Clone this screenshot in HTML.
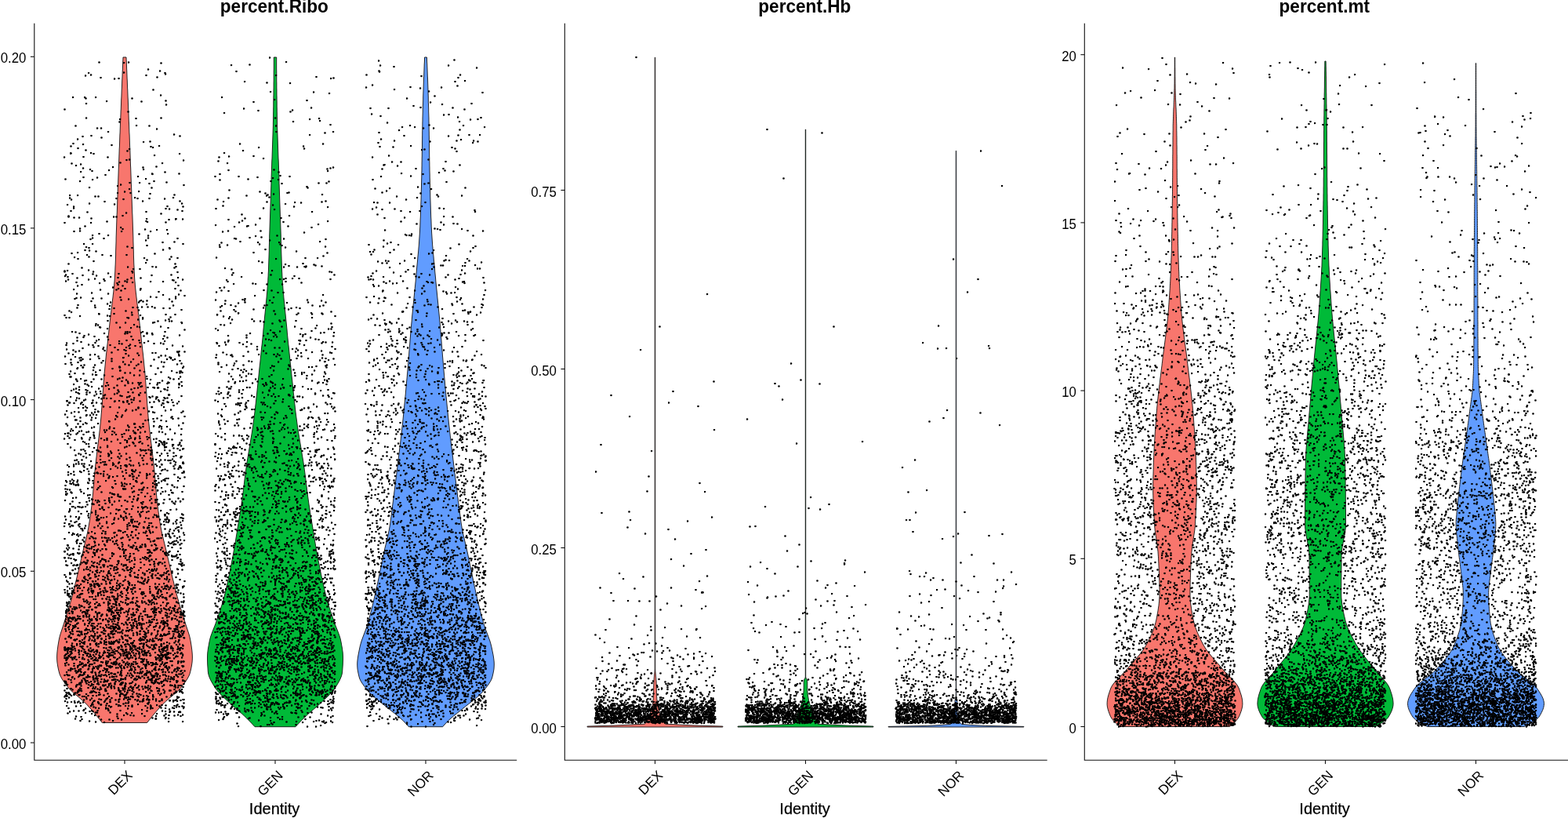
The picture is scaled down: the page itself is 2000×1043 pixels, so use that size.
<!DOCTYPE html>
<html lang="en"><head><meta charset="utf-8"><title>Violin plots</title>
<style>html,body{margin:0;padding:0;background:#fff}svg{display:block}text{font-family:"Liberation Sans",Arial,sans-serif;fill:#000}</style></head>
<body>
<svg width="2000" height="1043" viewBox="0 0 2000 1043">
<defs><marker id="d" markerUnits="userSpaceOnUse" markerWidth="6" markerHeight="6" refX="3" refY="3" viewBox="0 0 6 6"><circle cx="3" cy="3" r="2.60" fill="#000"/></marker></defs>
<rect width="2000" height="1043" fill="#fff"/>
<path d="M157,73 156.9,76 156.7,79 156.6,82 156.5,85 156.4,88 156.2,91 156.1,94 156,97 155.9,100 155.7,103 155.6,106 155.5,109 155.4,112 155.2,115 155.1,118 155,121 154.9,124 154.7,127 154.6,130 154.5,133 154.4,136 154.3,139 154.1,142 154,145 153.9,148 153.8,151 153.7,154 153.5,157 153.4,160 153.3,163 153.2,166 153.1,169 152.9,172 152.8,175 152.7,178 152.6,181 152.5,184 152.4,187 152.2,190 152.1,193 152,196 151.9,199 151.8,202 151.7,205 151.6,208 151.5,211 151.3,214 151.2,217 151.1,220 151,223 150.9,226 150.8,229 150.7,232 150.6,235 150.4,238 150.3,241 150.2,244 150.1,247 150,250 149.9,253 149.8,256 149.7,259 149.6,262 149.5,265 149.4,268 149.3,271 149.1,274 149,277 148.9,280 148.8,283 148.7,286 148.6,289 148.5,292 148.4,295 148.3,298 148.2,301 148.1,304 148.1,307 148,310 147.9,313 147.8,316 147.7,319 147.6,322 147.6,325 147.5,328 147.4,331 147.3,334 147.2,337 147,340 146.9,343 146.8,346 146.6,349 146.5,352 146.3,355 146.1,358 145.8,361 145.6,364 145.3,367 145,370 144.7,373 144.3,376 144,379 143.6,382 143.3,385 142.9,388 142.5,391 142.1,394 141.8,397 141.4,400 141,403 140.7,406 140.3,409 140,412 139.7,415 139.3,418 139,421 138.7,424 138.3,427 138,430 137.7,433 137.3,436 137,439 136.6,442 136.3,445 136,448 135.6,451 135.3,454 135,457 134.7,460 134.4,463 134.1,466 133.8,469 133.5,472 133.2,475 132.9,478 132.7,481 132.5,484 132.2,487 132,490 131.8,493 131.6,496 131.3,499 131.1,502 130.9,505 130.7,508 130.5,511 130.3,514 130.1,517 129.8,520 129.6,523 129.4,526 129.1,529 128.9,532 128.6,535 128.3,538 128,541 127.7,544 127.4,547 127,550 126.7,553 126.3,556 126,559 125.6,562 125.2,565 124.8,568 124.5,571 124.1,574 123.7,577 123.3,580 123,583 122.6,586 122.3,589 121.9,592 121.6,595 121.3,598 121,601 120.7,604 120.5,607 120.2,610 119.9,613 119.7,616 119.5,619 119.2,622 118.9,625 118.7,628 118.4,631 118.1,634 117.8,637 117.5,640 117.2,643 116.8,646 116.4,649 116,652 115.6,655 115.2,658 114.8,661 114.3,664 113.8,667 113.3,670 112.8,673 112.2,676 111.6,679 110.9,682 110.2,685 109.5,688 108.7,691 108,694 107.2,697 106.5,700 105.8,703 105.1,706 104.4,709 103.7,712 103,715 102.3,718 101.6,721 100.9,724 100.2,727 99.5,730 98.8,733 98.1,736 97.4,739 96.6,742 95.9,745 95.2,748 94.4,751 93.7,754 92.9,757 92.1,760 91.3,763 90.4,766 89.6,769 88.7,772 87.8,775 86.8,778 85.9,781 84.9,784 84,787 83,790 82.1,793 81.2,796 80.2,799 79.2,802 78.2,805 77.2,808 76.3,811 75.6,814 75,817 74.5,820 74,823 73.6,826 73.2,829 72.9,832 72.7,835 72.6,838 72.7,841 72.9,844 73.3,847 73.8,850 74.4,853 75.1,856 75.9,859 77.1,862 78.7,865 80.6,868 82.8,871 85,874 87.3,877 90.1,880 93.4,883 96.9,886 100.5,889 104,892 107.4,895 110.4,898 113.2,901 115.9,904 118.5,907 121.1,910 123.6,913 126,916 128.4,919 130.3,921.5 187.7,921.5 189.6,919 192,916 194.4,913 196.9,910 199.5,907 202.1,904 204.8,901 207.6,898 210.6,895 214,892 217.5,889 221.1,886 224.6,883 227.9,880 230.7,877 233,874 235.2,871 237.4,868 239.3,865 240.9,862 242.1,859 242.9,856 243.6,853 244.2,850 244.7,847 245.1,844 245.3,841 245.4,838 245.3,835 245.1,832 244.8,829 244.4,826 244,823 243.5,820 243,817 242.4,814 241.7,811 240.8,808 239.8,805 238.8,802 237.8,799 236.8,796 235.9,793 235,790 234,787 233.1,784 232.1,781 231.2,778 230.2,775 229.3,772 228.4,769 227.6,766 226.7,763 225.9,760 225.1,757 224.3,754 223.6,751 222.8,748 222.1,745 221.4,742 220.6,739 219.9,736 219.2,733 218.5,730 217.8,727 217.1,724 216.4,721 215.7,718 215,715 214.3,712 213.6,709 212.9,706 212.2,703 211.5,700 210.8,697 210,694 209.3,691 208.5,688 207.8,685 207.1,682 206.4,679 205.8,676 205.2,673 204.7,670 204.2,667 203.7,664 203.2,661 202.8,658 202.4,655 202,652 201.6,649 201.2,646 200.8,643 200.5,640 200.2,637 199.9,634 199.6,631 199.3,628 199.1,625 198.8,622 198.5,619 198.3,616 198.1,613 197.8,610 197.5,607 197.3,604 197,601 196.7,598 196.4,595 196.1,592 195.7,589 195.4,586 195,583 194.7,580 194.3,577 193.9,574 193.5,571 193.2,568 192.8,565 192.4,562 192,559 191.7,556 191.3,553 191,550 190.6,547 190.3,544 190,541 189.7,538 189.4,535 189.1,532 188.9,529 188.6,526 188.4,523 188.2,520 187.9,517 187.7,514 187.5,511 187.3,508 187.1,505 186.9,502 186.7,499 186.4,496 186.2,493 186,490 185.8,487 185.5,484 185.3,481 185.1,478 184.8,475 184.5,472 184.2,469 183.9,466 183.6,463 183.3,460 183,457 182.7,454 182.4,451 182,448 181.7,445 181.4,442 181,439 180.7,436 180.3,433 180,430 179.7,427 179.3,424 179,421 178.7,418 178.3,415 178,412 177.7,409 177.3,406 177,403 176.6,400 176.2,397 175.9,394 175.5,391 175.1,388 174.7,385 174.4,382 174,379 173.7,376 173.3,373 173,370 172.7,367 172.4,364 172.2,361 171.9,358 171.7,355 171.5,352 171.4,349 171.2,346 171.1,343 171,340 170.8,337 170.7,334 170.6,331 170.5,328 170.4,325 170.4,322 170.3,319 170.2,316 170.1,313 170,310 169.9,307 169.9,304 169.8,301 169.7,298 169.6,295 169.5,292 169.4,289 169.3,286 169.2,283 169.1,280 169,277 168.9,274 168.7,271 168.6,268 168.5,265 168.4,262 168.3,259 168.2,256 168.1,253 168,250 167.9,247 167.8,244 167.7,241 167.6,238 167.4,235 167.3,232 167.2,229 167.1,226 167,223 166.9,220 166.8,217 166.7,214 166.5,211 166.4,208 166.3,205 166.2,202 166.1,199 166,196 165.9,193 165.8,190 165.6,187 165.5,184 165.4,181 165.3,178 165.2,175 165.1,172 164.9,169 164.8,166 164.7,163 164.6,160 164.5,157 164.3,154 164.2,151 164.1,148 164,145 163.9,142 163.7,139 163.6,136 163.5,133 163.4,130 163.3,127 163.1,124 163,121 162.9,118 162.8,115 162.6,112 162.5,109 162.4,106 162.3,103 162.1,100 162,97 161.9,94 161.8,91 161.6,88 161.5,85 161.4,82 161.3,79 161.1,76 161,73Z" fill="#F8766D" stroke="#111" stroke-width="0.9" stroke-linejoin="round"/>
<path d="M349.3,73 349.3,76 349.3,79 349.3,82 349.3,85 349.3,88 349.2,91 349.2,94 349.2,97 349.2,100 349.2,103 349.1,106 349.1,109 349.1,112 349,115 349,118 349,121 348.9,124 348.9,127 348.8,130 348.8,133 348.8,136 348.7,139 348.7,142 348.6,145 348.6,148 348.5,151 348.5,154 348.4,157 348.4,160 348.3,163 348.2,166 348.1,169 348,172 347.9,175 347.8,178 347.7,181 347.6,184 347.5,187 347.4,190 347.3,193 347.2,196 347.1,199 347,202 346.8,205 346.7,208 346.6,211 346.5,214 346.4,217 346.3,220 346.2,223 346.1,226 346,229 346,232 345.9,235 345.8,238 345.7,241 345.6,244 345.5,247 345.4,250 345.3,253 345.2,256 345.1,259 345,262 344.9,265 344.8,268 344.7,271 344.6,274 344.5,277 344.4,280 344.3,283 344.2,286 344.1,289 344,292 343.9,295 343.8,298 343.7,301 343.7,304 343.6,307 343.5,310 343.4,313 343.3,316 343.3,319 343.2,322 343.1,325 343,328 342.9,331 342.8,334 342.7,337 342.6,340 342.5,343 342.4,346 342.2,349 342.1,352 341.9,355 341.8,358 341.6,361 341.3,364 341.1,367 340.9,370 340.6,373 340.3,376 340.1,379 339.8,382 339.5,385 339.2,388 338.9,391 338.6,394 338.3,397 338,400 337.7,403 337.4,406 337.1,409 336.8,412 336.5,415 336.2,418 335.9,421 335.7,424 335.4,427 335.1,430 334.8,433 334.5,436 334.2,439 333.8,442 333.5,445 333.2,448 332.9,451 332.6,454 332.3,457 332,460 331.7,463 331.3,466 331,469 330.7,472 330.4,475 330.1,478 329.8,481 329.4,484 329.1,487 328.8,490 328.5,493 328.2,496 327.9,499 327.6,502 327.2,505 326.9,508 326.6,511 326.3,514 325.9,517 325.6,520 325.2,523 324.9,526 324.5,529 324.1,532 323.7,535 323.3,538 322.9,541 322.5,544 322,547 321.6,550 321.1,553 320.6,556 320.1,559 319.6,562 319.1,565 318.6,568 318.1,571 317.6,574 317.1,577 316.6,580 316.1,583 315.6,586 315.1,589 314.7,592 314.2,595 313.8,598 313.4,601 313,604 312.6,607 312.2,610 311.8,613 311.5,616 311.1,619 310.7,622 310.4,625 310,628 309.6,631 309.2,634 308.8,637 308.4,640 308,643 307.5,646 307,649 306.6,652 306.1,655 305.6,658 305.1,661 304.6,664 304.1,667 303.6,670 303.1,673 302.7,676 302.2,679 301.7,682 301.2,685 300.7,688 300.2,691 299.7,694 299.2,697 298.7,700 298.1,703 297.6,706 297,709 296.4,712 295.9,715 295.3,718 294.7,721 294.1,724 293.5,727 292.9,730 292.3,733 291.7,736 291,739 290.4,742 289.7,745 289,748 288.3,751 287.6,754 286.9,757 286.1,760 285.4,763 284.6,766 283.7,769 282.8,772 281.8,775 280.8,778 279.8,781 278.8,784 277.8,787 276.7,790 275.7,793 274.7,796 273.5,799 272.3,802 271.1,805 270,808 268.9,811 268,814 267.3,817 266.7,820 266.2,823 265.6,826 265.2,829 264.8,832 264.6,835 264.5,838 264.5,841 264.6,844 264.7,847 264.9,850 265.1,853 265.3,856 265.7,859 266.5,862 267.7,865 269.1,868 270.8,871 272.6,874 274.4,877 276.6,880 279.2,883 282.1,886 285.1,889 288.3,892 291.5,895 294.6,898 298,901 301.5,904 305,907 308.5,910 311.7,913 314.8,916 317.8,919 320.7,922 323.5,925 325,926.7 377,926.7 378.5,925 381.3,922 384.2,919 387.2,916 390.3,913 393.5,910 397,907 400.5,904 404,901 407.4,898 410.5,895 413.7,892 416.9,889 419.9,886 422.8,883 425.4,880 427.6,877 429.4,874 431.2,871 432.9,868 434.3,865 435.5,862 436.3,859 436.7,856 436.9,853 437.1,850 437.3,847 437.4,844 437.5,841 437.5,838 437.4,835 437.2,832 436.8,829 436.4,826 435.8,823 435.3,820 434.7,817 434,814 433.1,811 432,808 430.9,805 429.7,802 428.5,799 427.3,796 426.3,793 425.3,790 424.2,787 423.2,784 422.2,781 421.2,778 420.2,775 419.2,772 418.3,769 417.4,766 416.6,763 415.9,760 415.1,757 414.4,754 413.7,751 413,748 412.3,745 411.6,742 411,739 410.3,736 409.7,733 409.1,730 408.5,727 407.9,724 407.3,721 406.7,718 406.1,715 405.6,712 405,709 404.4,706 403.9,703 403.3,700 402.8,697 402.3,694 401.8,691 401.3,688 400.8,685 400.3,682 399.8,679 399.3,676 398.9,673 398.4,670 397.9,667 397.4,664 396.9,661 396.4,658 395.9,655 395.4,652 395,649 394.5,646 394,643 393.6,640 393.2,637 392.8,634 392.4,631 392,628 391.6,625 391.3,622 390.9,619 390.5,616 390.2,613 389.8,610 389.4,607 389,604 388.6,601 388.2,598 387.8,595 387.3,592 386.9,589 386.4,586 385.9,583 385.4,580 384.9,577 384.4,574 383.9,571 383.4,568 382.9,565 382.4,562 381.9,559 381.4,556 380.9,553 380.4,550 380,547 379.5,544 379.1,541 378.7,538 378.3,535 377.9,532 377.5,529 377.1,526 376.8,523 376.4,520 376.1,517 375.7,514 375.4,511 375.1,508 374.8,505 374.4,502 374.1,499 373.8,496 373.5,493 373.2,490 372.9,487 372.6,484 372.2,481 371.9,478 371.6,475 371.3,472 371,469 370.7,466 370.3,463 370,460 369.7,457 369.4,454 369.1,451 368.8,448 368.5,445 368.2,442 367.8,439 367.5,436 367.2,433 366.9,430 366.6,427 366.3,424 366.1,421 365.8,418 365.5,415 365.2,412 364.9,409 364.6,406 364.3,403 364,400 363.7,397 363.4,394 363.1,391 362.8,388 362.5,385 362.2,382 361.9,379 361.7,376 361.4,373 361.1,370 360.9,367 360.7,364 360.4,361 360.2,358 360.1,355 359.9,352 359.8,349 359.6,346 359.5,343 359.4,340 359.3,337 359.2,334 359.1,331 359,328 358.9,325 358.8,322 358.7,319 358.7,316 358.6,313 358.5,310 358.4,307 358.3,304 358.3,301 358.2,298 358.1,295 358,292 357.9,289 357.8,286 357.7,283 357.6,280 357.5,277 357.4,274 357.3,271 357.2,268 357.1,265 357,262 356.9,259 356.8,256 356.7,253 356.6,250 356.5,247 356.4,244 356.3,241 356.2,238 356.1,235 356,232 356,229 355.9,226 355.8,223 355.7,220 355.6,217 355.5,214 355.4,211 355.3,208 355.2,205 355,202 354.9,199 354.8,196 354.7,193 354.6,190 354.5,187 354.4,184 354.3,181 354.2,178 354.1,175 354,172 353.9,169 353.8,166 353.7,163 353.6,160 353.6,157 353.5,154 353.5,151 353.4,148 353.4,145 353.3,142 353.3,139 353.2,136 353.2,133 353.2,130 353.1,127 353.1,124 353,121 353,118 353,115 352.9,112 352.9,109 352.9,106 352.8,103 352.8,100 352.8,97 352.8,94 352.8,91 352.7,88 352.7,85 352.7,82 352.7,79 352.7,76 352.7,73Z" fill="#00BA38" stroke="#111" stroke-width="0.9" stroke-linejoin="round"/>
<path d="M541.6,73 541.5,76 541.4,79 541.2,82 541.1,85 541,88 540.9,91 540.8,94 540.7,97 540.5,100 540.4,103 540.3,106 540.2,109 540.1,112 540,115 539.9,118 539.8,121 539.7,124 539.7,127 539.6,130 539.5,133 539.4,136 539.3,139 539.3,142 539.2,145 539.1,148 539,151 539,154 538.9,157 538.9,160 538.8,163 538.8,166 538.7,169 538.7,172 538.6,175 538.6,178 538.5,181 538.5,184 538.5,187 538.4,190 538.4,193 538.3,196 538.3,199 538.2,202 538.2,205 538.1,208 538.1,211 538,214 538,217 537.9,220 537.8,223 537.8,226 537.7,229 537.6,232 537.5,235 537.5,238 537.4,241 537.3,244 537.2,247 537.2,250 537.1,253 537,256 536.9,259 536.8,262 536.7,265 536.6,268 536.5,271 536.4,274 536.3,277 536.1,280 536,283 535.9,286 535.8,289 535.6,292 535.5,295 535.3,298 535.1,301 534.9,304 534.7,307 534.5,310 534.3,313 534,316 533.8,319 533.5,322 533.2,325 532.9,328 532.7,331 532.4,334 532.1,337 531.8,340 531.5,343 531.3,346 531,349 530.7,352 530.4,355 530.2,358 529.9,361 529.6,364 529.3,367 529,370 528.7,373 528.4,376 528.1,379 527.8,382 527.5,385 527.2,388 526.9,391 526.6,394 526.3,397 526,400 525.7,403 525.4,406 525.2,409 524.9,412 524.6,415 524.4,418 524.1,421 523.9,424 523.6,427 523.4,430 523.1,433 522.9,436 522.7,439 522.4,442 522.2,445 521.9,448 521.7,451 521.5,454 521.2,457 521,460 520.7,463 520.5,466 520.2,469 520,472 519.7,475 519.4,478 519.2,481 518.9,484 518.6,487 518.4,490 518.1,493 517.8,496 517.5,499 517.3,502 517,505 516.7,508 516.4,511 516.1,514 515.8,517 515.5,520 515.2,523 514.9,526 514.6,529 514.3,532 514,535 513.7,538 513.4,541 513,544 512.7,547 512.4,550 512,553 511.7,556 511.3,559 511,562 510.6,565 510.3,568 509.9,571 509.5,574 509.2,577 508.8,580 508.4,583 508.1,586 507.7,589 507.3,592 507,595 506.6,598 506.2,601 505.9,604 505.5,607 505.1,610 504.7,613 504.4,616 504,619 503.6,622 503.2,625 502.8,628 502.5,631 502.1,634 501.7,637 501.3,640 500.9,643 500.5,646 500.2,649 499.8,652 499.4,655 499,658 498.6,661 498.2,664 497.8,667 497.3,670 496.8,673 496.3,676 495.7,679 495,682 494.3,685 493.6,688 492.9,691 492.2,694 491.4,697 490.7,700 490.1,703 489.4,706 488.8,709 488.2,712 487.5,715 486.9,718 486.3,721 485.7,724 485.1,727 484.4,730 483.8,733 483.2,736 482.6,739 482,742 481.3,745 480.7,748 480,751 479.4,754 478.7,757 478,760 477.3,763 476.6,766 475.9,769 475.2,772 474.4,775 473.7,778 472.9,781 472.1,784 471.3,787 470.5,790 469.7,793 468.8,796 467.8,799 466.8,802 465.7,805 464.5,808 463.4,811 462.3,814 461.2,817 460.3,820 459.5,823 458.8,826 458.2,829 457.6,832 457,835 456.5,838 456.1,841 455.8,844 455.7,847 455.8,850 456,853 456.5,856 457.1,859 457.8,862 458.6,865 460,868 461.8,871 463.9,874 466.2,877 468.7,880 471.2,883 474.2,886 477.5,889 481.2,892 485,895 488.8,898 492.6,901 496.3,904 500,907 503.8,910 507.5,913 511,916 514.3,919 517.2,922 519.9,925 521.3,926.7 564.7,926.7 566.1,925 568.8,922 571.7,919 575,916 578.5,913 582.2,910 586,907 589.7,904 593.4,901 597.2,898 601,895 604.8,892 608.5,889 611.8,886 614.8,883 617.3,880 619.8,877 622.1,874 624.2,871 626,868 627.4,865 628.2,862 628.9,859 629.5,856 630,853 630.2,850 630.3,847 630.2,844 629.9,841 629.5,838 629,835 628.4,832 627.8,829 627.2,826 626.5,823 625.7,820 624.8,817 623.7,814 622.6,811 621.5,808 620.3,805 619.2,802 618.2,799 617.2,796 616.3,793 615.5,790 614.7,787 613.9,784 613.1,781 612.3,778 611.6,775 610.8,772 610.1,769 609.4,766 608.7,763 608,760 607.3,757 606.6,754 606,751 605.3,748 604.7,745 604,742 603.4,739 602.8,736 602.2,733 601.6,730 600.9,727 600.3,724 599.7,721 599.1,718 598.5,715 597.8,712 597.2,709 596.6,706 595.9,703 595.3,700 594.6,697 593.8,694 593.1,691 592.4,688 591.7,685 591,682 590.3,679 589.7,676 589.2,673 588.7,670 588.2,667 587.8,664 587.4,661 587,658 586.6,655 586.2,652 585.8,649 585.5,646 585.1,643 584.7,640 584.3,637 583.9,634 583.5,631 583.2,628 582.8,625 582.4,622 582,619 581.6,616 581.3,613 580.9,610 580.5,607 580.1,604 579.8,601 579.4,598 579,595 578.7,592 578.3,589 577.9,586 577.6,583 577.2,580 576.8,577 576.5,574 576.1,571 575.7,568 575.4,565 575,562 574.7,559 574.3,556 574,553 573.6,550 573.3,547 573,544 572.6,541 572.3,538 572,535 571.7,532 571.4,529 571.1,526 570.8,523 570.5,520 570.2,517 569.9,514 569.6,511 569.3,508 569,505 568.7,502 568.5,499 568.2,496 567.9,493 567.6,490 567.4,487 567.1,484 566.8,481 566.6,478 566.3,475 566,472 565.8,469 565.5,466 565.3,463 565,460 564.8,457 564.5,454 564.3,451 564.1,448 563.8,445 563.6,442 563.3,439 563.1,436 562.9,433 562.6,430 562.4,427 562.1,424 561.9,421 561.6,418 561.4,415 561.1,412 560.8,409 560.6,406 560.3,403 560,400 559.7,397 559.4,394 559.1,391 558.8,388 558.5,385 558.2,382 557.9,379 557.6,376 557.3,373 557,370 556.7,367 556.4,364 556.1,361 555.8,358 555.6,355 555.3,352 555,349 554.7,346 554.5,343 554.2,340 553.9,337 553.6,334 553.3,331 553.1,328 552.8,325 552.5,322 552.2,319 552,316 551.7,313 551.5,310 551.3,307 551.1,304 550.9,301 550.7,298 550.5,295 550.4,292 550.2,289 550.1,286 550,283 549.9,280 549.7,277 549.6,274 549.5,271 549.4,268 549.3,265 549.2,262 549.1,259 549,256 548.9,253 548.8,250 548.8,247 548.7,244 548.6,241 548.5,238 548.5,235 548.4,232 548.3,229 548.2,226 548.2,223 548.1,220 548,217 548,214 547.9,211 547.9,208 547.8,205 547.8,202 547.7,199 547.7,196 547.6,193 547.6,190 547.5,187 547.5,184 547.5,181 547.4,178 547.4,175 547.3,172 547.3,169 547.2,166 547.2,163 547.1,160 547.1,157 547,154 547,151 546.9,148 546.8,145 546.7,142 546.7,139 546.6,136 546.5,133 546.4,130 546.3,127 546.3,124 546.2,121 546.1,118 546,115 545.9,112 545.8,109 545.7,106 545.6,103 545.5,100 545.3,97 545.2,94 545.1,91 545,88 544.9,85 544.8,82 544.6,79 544.5,76 544.4,73Z" fill="#619CFF" stroke="#111" stroke-width="0.9" stroke-linejoin="round"/>
<path d="M835.4,73.1 835.3,74.1 835.3,75.1 835.3,76.1 835.3,77.1 835.3,78.1 835.3,79.1 835.3,80.1 835.3,81.1 835.3,82.1 835.3,83.1 835.3,84.1 835.3,85.1 835.3,86.1 835.3,87.1 835.3,88.1 835.3,89.1 835.3,90.1 835.3,91.1 835.3,92.1 835.3,93.1 835.3,94.1 835.3,95.1 835.3,96.1 835.3,97.1 835.3,98.1 835.3,99.1 835.3,100.1 835.3,101.1 835.3,102.1 835.3,103.1 835.3,104.1 835.3,105.1 835.3,106.1 835.3,107.1 835.3,108.1 835.3,109.1 835.3,110.1 835.3,111.1 835.3,112.1 835.3,113.1 835.3,114.1 835.3,115.1 835.3,116.1 835.3,117.1 835.3,118.1 835.3,119.1 835.3,120.1 835.3,121.1 835.3,122.1 835.3,123.1 835.3,124.1 835.3,125.1 835.3,126.1 835.3,127.1 835.3,128.1 835.3,129.1 835.3,130.1 835.3,131.1 835.3,132.1 835.3,133.1 835.3,134.1 835.3,135.1 835.3,136.1 835.3,137.1 835.3,138.1 835.3,139.1 835.3,140.1 835.3,141.1 835.3,142.1 835.3,143.1 835.3,144.1 835.3,145.1 835.3,146.1 835.3,147.1 835.3,148.1 835.3,149.1 835.3,150.1 835.3,151.1 835.3,152.1 835.3,153.1 835.3,154.1 835.3,155.1 835.3,156.1 835.3,157.1 835.3,158.1 835.3,159.1 835.3,160.1 835.3,161.1 835.3,162.1 835.3,163.1 835.3,164.1 835.3,165.1 835.3,166.1 835.3,167.1 835.3,168.1 835.3,169.1 835.3,170.1 835.3,171.1 835.3,172.1 835.3,173.1 835.3,174.1 835.3,175.1 835.3,176.1 835.3,177.1 835.3,178.1 835.3,179.1 835.3,180.1 835.3,181.1 835.3,182.1 835.3,183.1 835.3,184.1 835.3,185.1 835.3,186.1 835.3,187.1 835.3,188.1 835.3,189.1 835.3,190.1 835.3,191.1 835.3,192.1 835.3,193.1 835.3,194.1 835.3,195.1 835.3,196.1 835.3,197.1 835.3,198.1 835.3,199.1 835.3,200.1 835.3,201.1 835.3,202.1 835.3,203.1 835.3,204.1 835.3,205.1 835.3,206.1 835.3,207.1 835.3,208.1 835.3,209.1 835.3,210.1 835.3,211.1 835.3,212.1 835.3,213.1 835.3,214.1 835.3,215.1 835.3,216.1 835.3,217.1 835.3,218.1 835.3,219.1 835.3,220.1 835.3,221.1 835.3,222.1 835.3,223.1 835.3,224.1 835.3,225.1 835.3,226.1 835.3,227.1 835.3,228.1 835.3,229.1 835.3,230.1 835.3,231.1 835.3,232.1 835.3,233.1 835.3,234.1 835.3,235.1 835.3,236.1 835.3,237.1 835.3,238.1 835.3,239.1 835.3,240.1 835.3,241.1 835.3,242.1 835.3,243.1 835.3,244.1 835.3,245.1 835.3,246.1 835.3,247.1 835.3,248.1 835.3,249.1 835.3,250.1 835.3,251.1 835.3,252.1 835.3,253.1 835.3,254.1 835.3,255.1 835.3,256.1 835.3,257.1 835.3,258.1 835.3,259.1 835.3,260.1 835.3,261.1 835.3,262.1 835.3,263.1 835.3,264.1 835.3,265.1 835.3,266.1 835.3,267.1 835.3,268.1 835.3,269.1 835.3,270.1 835.3,271.1 835.3,272.1 835.3,273.1 835.3,274.1 835.3,275.1 835.3,276.1 835.3,277.1 835.3,278.1 835.3,279.1 835.3,280.1 835.3,281.1 835.3,282.1 835.3,283.1 835.3,284.1 835.3,285.1 835.3,286.1 835.3,287.1 835.3,288.1 835.3,289.1 835.3,290.1 835.3,291.1 835.3,292.1 835.3,293.1 835.3,294.1 835.3,295.1 835.3,296.1 835.3,297.1 835.3,298.1 835.3,299.1 835.3,300.1 835.3,301.1 835.3,302.1 835.3,303.1 835.3,304.1 835.3,305.1 835.3,306.1 835.3,307.1 835.3,308.1 835.3,309.1 835.3,310.1 835.3,311.1 835.3,312.1 835.3,313.1 835.3,314.1 835.3,315.1 835.3,316.1 835.3,317.1 835.3,318.1 835.3,319.1 835.3,320.1 835.3,321.1 835.3,322.1 835.3,323.1 835.3,324.1 835.3,325.1 835.3,326.1 835.3,327.1 835.3,328.1 835.3,329.1 835.3,330.1 835.3,331.1 835.3,332.1 835.3,333.1 835.3,334.1 835.3,335.1 835.3,336.1 835.3,337.1 835.3,338.1 835.3,339.1 835.3,340.1 835.3,341.1 835.3,342.1 835.3,343.1 835.3,344.1 835.3,345.1 835.3,346.1 835.3,347.1 835.3,348.1 835.3,349.1 835.3,350.1 835.3,351.1 835.3,352.1 835.3,353.1 835.3,354.1 835.3,355.1 835.3,356.1 835.3,357.1 835.3,358.1 835.3,359.1 835.3,360.1 835.3,361.1 835.3,362.1 835.3,363.1 835.3,364.1 835.3,365.1 835.3,366.1 835.3,367.1 835.3,368.1 835.3,369.1 835.3,370.1 835.3,371.1 835.3,372.1 835.3,373.1 835.3,374.1 835.3,375.1 835.3,376.1 835.3,377.1 835.3,378.1 835.3,379.1 835.3,380.1 835.3,381.1 835.3,382.1 835.3,383.1 835.3,384.1 835.3,385.1 835.3,386.1 835.3,387.1 835.3,388.1 835.3,389.1 835.3,390.1 835.3,391.1 835.3,392.1 835.3,393.1 835.3,394.1 835.3,395.1 835.3,396.1 835.3,397.1 835.3,398.1 835.3,399.1 835.3,400.1 835.3,401.1 835.3,402.1 835.3,403.1 835.3,404.1 835.3,405.1 835.3,406.1 835.3,407.1 835.3,408.1 835.3,409.1 835.3,410.1 835.3,411.1 835.3,412.1 835.3,413.1 835.3,414.1 835.3,415.1 835.3,416.1 835.3,417.1 835.3,418.1 835.3,419.1 835.3,420.1 835.3,421.1 835.3,422.1 835.3,423.1 835.3,424.1 835.3,425.1 835.3,426.1 835.3,427.1 835.3,428.1 835.3,429.1 835.3,430.1 835.3,431.1 835.3,432.1 835.3,433.1 835.3,434.1 835.3,435.1 835.3,436.1 835.3,437.1 835.3,438.1 835.3,439.1 835.3,440.1 835.3,441.1 835.3,442.1 835.3,443.1 835.3,444.1 835.3,445.1 835.3,446.1 835.3,447.1 835.3,448.1 835.3,449.1 835.3,450.1 835.3,451.1 835.3,452.1 835.3,453.1 835.3,454.1 835.3,455.1 835.3,456.1 835.3,457.1 835.3,458.1 835.3,459.1 835.3,460.1 835.3,461.1 835.3,462.1 835.3,463.1 835.3,464.1 835.3,465.1 835.3,466.1 835.3,467.1 835.3,468.1 835.3,469.1 835.3,470.1 835.3,471.1 835.3,472.1 835.3,473.1 835.3,474.1 835.3,475.1 835.3,476.1 835.3,477.1 835.3,478.1 835.3,479.1 835.3,480.1 835.3,481.1 835.3,482.1 835.3,483.1 835.3,484.1 835.3,485.1 835.3,486.1 835.3,487.1 835.3,488.1 835.3,489.1 835.3,490.1 835.3,491.1 835.3,492.1 835.3,493.1 835.3,494.1 835.3,495.1 835.3,496.1 835.3,497.1 835.3,498.1 835.3,499.1 835.3,500.1 835.3,501.1 835.3,502.1 835.3,503.1 835.3,504.1 835.3,505.1 835.3,506.1 835.3,507.1 835.3,508.1 835.3,509.1 835.3,510.1 835.3,511.1 835.3,512.1 835.3,513.1 835.3,514.1 835.3,515.1 835.3,516.1 835.3,517.1 835.3,518.1 835.3,519.1 835.3,520.1 835.3,521.1 835.3,522.1 835.3,523.1 835.3,524.1 835.3,525.1 835.3,526.1 835.3,527.1 835.3,528.1 835.3,529.1 835.3,530.1 835.3,531.1 835.3,532.1 835.3,533.1 835.3,534.1 835.3,535.1 835.3,536.1 835.3,537.1 835.3,538.1 835.3,539.1 835.3,540.1 835.3,541.1 835.3,542.1 835.3,543.1 835.3,544.1 835.3,545.1 835.3,546.1 835.3,547.1 835.3,548.1 835.3,549.1 835.3,550.1 835.3,551.1 835.3,552.1 835.3,553.1 835.3,554.1 835.3,555.1 835.3,556.1 835.3,557.1 835.3,558.1 835.3,559.1 835.3,560.1 835.3,561.1 835.3,562.1 835.3,563.1 835.3,564.1 835.3,565.1 835.3,566.1 835.3,567.1 835.3,568.1 835.3,569.1 835.3,570.1 835.3,571.1 835.3,572.1 835.3,573.1 835.3,574.1 835.3,575.1 835.3,576.1 835.3,577.1 835.3,578.1 835.3,579.1 835.3,580.1 835.3,581.1 835.3,582.1 835.3,583.1 835.3,584.1 835.3,585.1 835.3,586.1 835.3,587.1 835.3,588.1 835.3,589.1 835.3,590.1 835.3,591.1 835.3,592.1 835.3,593.1 835.3,594.1 835.3,595.1 835.3,596.1 835.3,597.1 835.3,598.1 835.3,599.1 835.3,600.1 835.3,601.1 835.3,602.1 835.3,603.1 835.3,604.1 835.3,605.1 835.3,606.1 835.3,607.1 835.3,608.1 835.3,609.1 835.3,610.1 835.3,611.1 835.3,612.1 835.3,613.1 835.3,614.1 835.3,615.1 835.3,616.1 835.3,617.1 835.3,618.1 835.3,619.1 835.3,620.1 835.3,621.1 835.3,622.1 835.3,623.1 835.3,624.1 835.3,625.1 835.3,626.1 835.3,627.1 835.3,628.1 835.3,629.1 835.3,630.1 835.3,631.1 835.3,632.1 835.3,633.1 835.3,634.1 835.3,635.1 835.3,636.1 835.3,637.1 835.3,638.1 835.3,639.1 835.3,640.1 835.3,641.1 835.3,642.1 835.3,643.1 835.3,644.1 835.3,645.1 835.3,646.1 835.3,647.1 835.3,648.1 835.3,649.1 835.3,650.1 835.3,651.1 835.3,652.1 835.3,653.1 835.3,654.1 835.3,655.1 835.3,656.1 835.3,657.1 835.3,658.1 835.3,659.1 835.3,660.1 835.3,661.1 835.3,662.1 835.3,663.1 835.3,664.1 835.3,665.1 835.3,666.1 835.3,667.1 835.3,668.1 835.3,669.1 835.3,670.1 835.3,671.1 835.3,672.1 835.3,673.1 835.3,674.1 835.3,675.1 835.3,676.1 835.3,677.1 835.3,678.1 835.3,679.1 835.3,680.1 835.3,681.1 835.3,682.1 835.3,683.1 835.3,684.1 835.3,685.1 835.3,686.1 835.3,687.1 835.3,688.1 835.3,689.1 835.3,690.1 835.3,691.1 835.3,692.1 835.3,693.1 835.3,694.1 835.3,695.1 835.3,696.1 835.3,697.1 835.3,698.1 835.3,699.1 835.3,700.1 835.3,701.1 835.3,702.1 835.3,703.1 835.3,704.1 835.3,705.1 835.3,706.1 835.3,707.1 835.3,708.1 835.3,709.1 835.3,710.1 835.3,711.1 835.3,712.1 835.3,713.1 835.3,714.1 835.3,715.1 835.3,716.1 835.3,717.1 835.3,718.1 835.3,719.1 835.3,720.1 835.3,721.1 835.3,722.1 835.3,723.1 835.3,724.1 835.3,725.1 835.3,726.1 835.3,727.1 835.3,728.1 835.3,729.1 835.3,730.1 835.3,731.1 835.3,732.1 835.3,733.1 835.3,734.1 835.3,735.1 835.3,736.1 835.3,737.1 835.3,738.1 835.3,739.1 835.3,740.1 835.3,741.1 835.3,742.1 835.3,743.1 835.3,744.1 835.3,745.1 835.3,746.1 835.3,747.1 835.3,748.1 835.3,749.1 835.3,750.1 835.3,751.1 835.3,752.1 835.3,753.1 835.3,754.1 835.3,755.1 835.3,756.1 835.3,757.1 835.3,758.1 835.3,759.1 835.3,760.1 835.3,761.1 835.3,762.1 835.3,763.1 835.3,764.1 835.3,765.1 835.3,766.1 835.3,767.1 835.3,768.1 835.3,769.1 835.3,770.1 835.3,771.1 835.3,772.1 835.3,773.1 835.3,774.1 835.3,775.1 835.3,776.1 835.3,777.1 835.3,778.1 835.3,779.1 835.3,780.1 835.3,781.1 835.3,782.1 835.3,783.1 835.3,784.1 835.3,785.1 835.3,786.1 835.3,787.1 835.3,788.1 835.3,789.1 835.3,790.1 835.3,791.1 835.3,792.1 835.3,793.1 835.3,794.1 835.3,795.1 835.3,796.1 835.3,797.1 835.3,798.1 835.3,799.1 835.3,800.1 835.3,801.1 835.3,802.1 835.3,803.1 835.3,804.1 835.3,805.1 835.3,806.1 835.3,807.1 835.3,808.1 835.3,809.1 835.3,810.1 835.3,811.1 835.3,812.1 835.3,813.1 835.3,814.1 835.3,815.1 835.3,816.1 835.3,817.1 835.3,818.1 835.3,819.1 835.3,820.1 835.3,821.1 835.3,822.1 835.3,823.1 835.3,824.1 835.3,825.1 835.3,826.1 835.3,827.1 835.3,828.1 835.3,829.1 835.3,830.1 835.3,831.1 835.3,832.1 835.3,833.1 835.3,834.1 835.3,835.1 835.3,836.1 835.3,837.1 835.3,838.1 835.3,839.1 835.3,840.1 835.3,841.1 835.3,842.1 835.3,843.1 835.3,844.1 835.3,845.1 835.3,846.1 835.3,847.1 835.3,848.1 835.3,849.1 835.3,850.1 835.3,851.1 835.3,852.1 835.3,853.1 835.2,854.1 835.2,855.1 835.1,856.1 835,857.1 834.9,858.1 834.8,859.1 834.7,860.1 834.6,861.1 834.5,862.1 834.4,863.1 834.3,864.1 834.2,865.1 834.2,866.1 834.1,867.1 834,868.1 833.9,869.1 833.9,870.1 833.9,871.1 833.8,872.1 833.8,873.1 833.8,874.1 833.7,875.1 833.7,876.1 833.7,877.1 833.7,878.1 833.6,879.1 833.6,880.1 833.6,881.1 833.6,882.1 833.6,883.1 833.5,884.1 833.5,885.1 833.5,886.1 833.4,887.1 833.4,888.1 833.3,889.1 833.3,890.1 833.2,891.1 833.1,892.1 833,893.1 832.9,894.1 832.8,895.1 832.7,896.1 832.5,897.1 832.3,898.1 832.2,899.1 832,900.1 831.8,901.1 831.5,902.1 831.3,903.1 831,904.1 830.7,905.1 830.4,906.1 830,907.1 829.7,908.1 829.3,909.1 829,910.1 828.6,911.1 828.2,912.1 827.8,913.1 827.4,914.1 827,915.1 826.5,916.1 826,917.1 825.4,918.1 825,919.1 824.6,920.1 824.2,921.1 823.4,922.1 822.2,923.1 804.2,924.1 783,925.1 749.1,926.1 749.1,927 921.9,927 921.9,926.1 888,925.1 866.8,924.1 848.8,923.1 847.6,922.1 846.8,921.1 846.4,920.1 846,919.1 845.6,918.1 845,917.1 844.5,916.1 844,915.1 843.6,914.1 843.2,913.1 842.8,912.1 842.4,911.1 842,910.1 841.7,909.1 841.3,908.1 841,907.1 840.6,906.1 840.3,905.1 840,904.1 839.7,903.1 839.5,902.1 839.2,901.1 839,900.1 838.8,899.1 838.7,898.1 838.5,897.1 838.3,896.1 838.2,895.1 838.1,894.1 838,893.1 837.9,892.1 837.8,891.1 837.7,890.1 837.7,889.1 837.6,888.1 837.6,887.1 837.5,886.1 837.5,885.1 837.5,884.1 837.4,883.1 837.4,882.1 837.4,881.1 837.4,880.1 837.4,879.1 837.3,878.1 837.3,877.1 837.3,876.1 837.3,875.1 837.2,874.1 837.2,873.1 837.2,872.1 837.1,871.1 837.1,870.1 837.1,869.1 837,868.1 836.9,867.1 836.8,866.1 836.8,865.1 836.7,864.1 836.6,863.1 836.5,862.1 836.4,861.1 836.3,860.1 836.2,859.1 836.1,858.1 836,857.1 835.9,856.1 835.8,855.1 835.8,854.1 835.7,853.1 835.7,852.1 835.7,851.1 835.7,850.1 835.7,849.1 835.7,848.1 835.7,847.1 835.7,846.1 835.7,845.1 835.7,844.1 835.7,843.1 835.7,842.1 835.7,841.1 835.7,840.1 835.7,839.1 835.7,838.1 835.7,837.1 835.7,836.1 835.7,835.1 835.7,834.1 835.7,833.1 835.7,832.1 835.7,831.1 835.7,830.1 835.7,829.1 835.7,828.1 835.7,827.1 835.7,826.1 835.7,825.1 835.7,824.1 835.7,823.1 835.7,822.1 835.7,821.1 835.7,820.1 835.7,819.1 835.7,818.1 835.7,817.1 835.7,816.1 835.7,815.1 835.7,814.1 835.7,813.1 835.7,812.1 835.7,811.1 835.7,810.1 835.7,809.1 835.7,808.1 835.7,807.1 835.7,806.1 835.7,805.1 835.7,804.1 835.7,803.1 835.7,802.1 835.7,801.1 835.7,800.1 835.7,799.1 835.7,798.1 835.7,797.1 835.7,796.1 835.7,795.1 835.7,794.1 835.7,793.1 835.7,792.1 835.7,791.1 835.7,790.1 835.7,789.1 835.7,788.1 835.7,787.1 835.7,786.1 835.7,785.1 835.7,784.1 835.7,783.1 835.7,782.1 835.7,781.1 835.7,780.1 835.7,779.1 835.7,778.1 835.7,777.1 835.7,776.1 835.7,775.1 835.7,774.1 835.7,773.1 835.7,772.1 835.7,771.1 835.7,770.1 835.7,769.1 835.7,768.1 835.7,767.1 835.7,766.1 835.7,765.1 835.7,764.1 835.7,763.1 835.7,762.1 835.7,761.1 835.7,760.1 835.7,759.1 835.7,758.1 835.7,757.1 835.7,756.1 835.7,755.1 835.7,754.1 835.7,753.1 835.7,752.1 835.7,751.1 835.7,750.1 835.7,749.1 835.7,748.1 835.7,747.1 835.7,746.1 835.7,745.1 835.7,744.1 835.7,743.1 835.7,742.1 835.7,741.1 835.7,740.1 835.7,739.1 835.7,738.1 835.7,737.1 835.7,736.1 835.7,735.1 835.7,734.1 835.7,733.1 835.7,732.1 835.7,731.1 835.7,730.1 835.7,729.1 835.7,728.1 835.7,727.1 835.7,726.1 835.7,725.1 835.7,724.1 835.7,723.1 835.7,722.1 835.7,721.1 835.7,720.1 835.7,719.1 835.7,718.1 835.7,717.1 835.7,716.1 835.7,715.1 835.7,714.1 835.7,713.1 835.7,712.1 835.7,711.1 835.7,710.1 835.7,709.1 835.7,708.1 835.7,707.1 835.7,706.1 835.7,705.1 835.7,704.1 835.7,703.1 835.7,702.1 835.7,701.1 835.7,700.1 835.7,699.1 835.7,698.1 835.7,697.1 835.7,696.1 835.7,695.1 835.7,694.1 835.7,693.1 835.7,692.1 835.7,691.1 835.7,690.1 835.7,689.1 835.7,688.1 835.7,687.1 835.7,686.1 835.7,685.1 835.7,684.1 835.7,683.1 835.7,682.1 835.7,681.1 835.7,680.1 835.7,679.1 835.7,678.1 835.7,677.1 835.7,676.1 835.7,675.1 835.7,674.1 835.7,673.1 835.7,672.1 835.7,671.1 835.7,670.1 835.7,669.1 835.7,668.1 835.7,667.1 835.7,666.1 835.7,665.1 835.7,664.1 835.7,663.1 835.7,662.1 835.7,661.1 835.7,660.1 835.7,659.1 835.7,658.1 835.7,657.1 835.7,656.1 835.7,655.1 835.7,654.1 835.7,653.1 835.7,652.1 835.7,651.1 835.7,650.1 835.7,649.1 835.7,648.1 835.7,647.1 835.7,646.1 835.7,645.1 835.7,644.1 835.7,643.1 835.7,642.1 835.7,641.1 835.7,640.1 835.7,639.1 835.7,638.1 835.7,637.1 835.7,636.1 835.7,635.1 835.7,634.1 835.7,633.1 835.7,632.1 835.7,631.1 835.7,630.1 835.7,629.1 835.7,628.1 835.7,627.1 835.7,626.1 835.7,625.1 835.7,624.1 835.7,623.1 835.7,622.1 835.7,621.1 835.7,620.1 835.7,619.1 835.7,618.1 835.7,617.1 835.7,616.1 835.7,615.1 835.7,614.1 835.7,613.1 835.7,612.1 835.7,611.1 835.7,610.1 835.7,609.1 835.7,608.1 835.7,607.1 835.7,606.1 835.7,605.1 835.7,604.1 835.7,603.1 835.7,602.1 835.7,601.1 835.7,600.1 835.7,599.1 835.7,598.1 835.7,597.1 835.7,596.1 835.7,595.1 835.7,594.1 835.7,593.1 835.7,592.1 835.7,591.1 835.7,590.1 835.7,589.1 835.7,588.1 835.7,587.1 835.7,586.1 835.7,585.1 835.7,584.1 835.7,583.1 835.7,582.1 835.7,581.1 835.7,580.1 835.7,579.1 835.7,578.1 835.7,577.1 835.7,576.1 835.7,575.1 835.7,574.1 835.7,573.1 835.7,572.1 835.7,571.1 835.7,570.1 835.7,569.1 835.7,568.1 835.7,567.1 835.7,566.1 835.7,565.1 835.7,564.1 835.7,563.1 835.7,562.1 835.7,561.1 835.7,560.1 835.7,559.1 835.7,558.1 835.7,557.1 835.7,556.1 835.7,555.1 835.7,554.1 835.7,553.1 835.7,552.1 835.7,551.1 835.7,550.1 835.7,549.1 835.7,548.1 835.7,547.1 835.7,546.1 835.7,545.1 835.7,544.1 835.7,543.1 835.7,542.1 835.7,541.1 835.7,540.1 835.7,539.1 835.7,538.1 835.7,537.1 835.7,536.1 835.7,535.1 835.7,534.1 835.7,533.1 835.7,532.1 835.7,531.1 835.7,530.1 835.7,529.1 835.7,528.1 835.7,527.1 835.7,526.1 835.7,525.1 835.7,524.1 835.7,523.1 835.7,522.1 835.7,521.1 835.7,520.1 835.7,519.1 835.7,518.1 835.7,517.1 835.7,516.1 835.7,515.1 835.7,514.1 835.7,513.1 835.7,512.1 835.7,511.1 835.7,510.1 835.7,509.1 835.7,508.1 835.7,507.1 835.7,506.1 835.7,505.1 835.7,504.1 835.7,503.1 835.7,502.1 835.7,501.1 835.7,500.1 835.7,499.1 835.7,498.1 835.7,497.1 835.7,496.1 835.7,495.1 835.7,494.1 835.7,493.1 835.7,492.1 835.7,491.1 835.7,490.1 835.7,489.1 835.7,488.1 835.7,487.1 835.7,486.1 835.7,485.1 835.7,484.1 835.7,483.1 835.7,482.1 835.7,481.1 835.7,480.1 835.7,479.1 835.7,478.1 835.7,477.1 835.7,476.1 835.7,475.1 835.7,474.1 835.7,473.1 835.7,472.1 835.7,471.1 835.7,470.1 835.7,469.1 835.7,468.1 835.7,467.1 835.7,466.1 835.7,465.1 835.7,464.1 835.7,463.1 835.7,462.1 835.7,461.1 835.7,460.1 835.7,459.1 835.7,458.1 835.7,457.1 835.7,456.1 835.7,455.1 835.7,454.1 835.7,453.1 835.7,452.1 835.7,451.1 835.7,450.1 835.7,449.1 835.7,448.1 835.7,447.1 835.7,446.1 835.7,445.1 835.7,444.1 835.7,443.1 835.7,442.1 835.7,441.1 835.7,440.1 835.7,439.1 835.7,438.1 835.7,437.1 835.7,436.1 835.7,435.1 835.7,434.1 835.7,433.1 835.7,432.1 835.7,431.1 835.7,430.1 835.7,429.1 835.7,428.1 835.7,427.1 835.7,426.1 835.7,425.1 835.7,424.1 835.7,423.1 835.7,422.1 835.7,421.1 835.7,420.1 835.7,419.1 835.7,418.1 835.7,417.1 835.7,416.1 835.7,415.1 835.7,414.1 835.7,413.1 835.7,412.1 835.7,411.1 835.7,410.1 835.7,409.1 835.7,408.1 835.7,407.1 835.7,406.1 835.7,405.1 835.7,404.1 835.7,403.1 835.7,402.1 835.7,401.1 835.7,400.1 835.7,399.1 835.7,398.1 835.7,397.1 835.7,396.1 835.7,395.1 835.7,394.1 835.7,393.1 835.7,392.1 835.7,391.1 835.7,390.1 835.7,389.1 835.7,388.1 835.7,387.1 835.7,386.1 835.7,385.1 835.7,384.1 835.7,383.1 835.7,382.1 835.7,381.1 835.7,380.1 835.7,379.1 835.7,378.1 835.7,377.1 835.7,376.1 835.7,375.1 835.7,374.1 835.7,373.1 835.7,372.1 835.7,371.1 835.7,370.1 835.7,369.1 835.7,368.1 835.7,367.1 835.7,366.1 835.7,365.1 835.7,364.1 835.7,363.1 835.7,362.1 835.7,361.1 835.7,360.1 835.7,359.1 835.7,358.1 835.7,357.1 835.7,356.1 835.7,355.1 835.7,354.1 835.7,353.1 835.7,352.1 835.7,351.1 835.7,350.1 835.7,349.1 835.7,348.1 835.7,347.1 835.7,346.1 835.7,345.1 835.7,344.1 835.7,343.1 835.7,342.1 835.7,341.1 835.7,340.1 835.7,339.1 835.7,338.1 835.7,337.1 835.7,336.1 835.7,335.1 835.7,334.1 835.7,333.1 835.7,332.1 835.7,331.1 835.7,330.1 835.7,329.1 835.7,328.1 835.7,327.1 835.7,326.1 835.7,325.1 835.7,324.1 835.7,323.1 835.7,322.1 835.7,321.1 835.7,320.1 835.7,319.1 835.7,318.1 835.7,317.1 835.7,316.1 835.7,315.1 835.7,314.1 835.7,313.1 835.7,312.1 835.7,311.1 835.7,310.1 835.7,309.1 835.7,308.1 835.7,307.1 835.7,306.1 835.7,305.1 835.7,304.1 835.7,303.1 835.7,302.1 835.7,301.1 835.7,300.1 835.7,299.1 835.7,298.1 835.7,297.1 835.7,296.1 835.7,295.1 835.7,294.1 835.7,293.1 835.7,292.1 835.7,291.1 835.7,290.1 835.7,289.1 835.7,288.1 835.7,287.1 835.7,286.1 835.7,285.1 835.7,284.1 835.7,283.1 835.7,282.1 835.7,281.1 835.7,280.1 835.7,279.1 835.7,278.1 835.7,277.1 835.7,276.1 835.7,275.1 835.7,274.1 835.7,273.1 835.7,272.1 835.7,271.1 835.7,270.1 835.7,269.1 835.7,268.1 835.7,267.1 835.7,266.1 835.7,265.1 835.7,264.1 835.7,263.1 835.7,262.1 835.7,261.1 835.7,260.1 835.7,259.1 835.7,258.1 835.7,257.1 835.7,256.1 835.7,255.1 835.7,254.1 835.7,253.1 835.7,252.1 835.7,251.1 835.7,250.1 835.7,249.1 835.7,248.1 835.7,247.1 835.7,246.1 835.7,245.1 835.7,244.1 835.7,243.1 835.7,242.1 835.7,241.1 835.7,240.1 835.7,239.1 835.7,238.1 835.7,237.1 835.7,236.1 835.7,235.1 835.7,234.1 835.7,233.1 835.7,232.1 835.7,231.1 835.7,230.1 835.7,229.1 835.7,228.1 835.7,227.1 835.7,226.1 835.7,225.1 835.7,224.1 835.7,223.1 835.7,222.1 835.7,221.1 835.7,220.1 835.7,219.1 835.7,218.1 835.7,217.1 835.7,216.1 835.7,215.1 835.7,214.1 835.7,213.1 835.7,212.1 835.7,211.1 835.7,210.1 835.7,209.1 835.7,208.1 835.7,207.1 835.7,206.1 835.7,205.1 835.7,204.1 835.7,203.1 835.7,202.1 835.7,201.1 835.7,200.1 835.7,199.1 835.7,198.1 835.7,197.1 835.7,196.1 835.7,195.1 835.7,194.1 835.7,193.1 835.7,192.1 835.7,191.1 835.7,190.1 835.7,189.1 835.7,188.1 835.7,187.1 835.7,186.1 835.7,185.1 835.7,184.1 835.7,183.1 835.7,182.1 835.7,181.1 835.7,180.1 835.7,179.1 835.7,178.1 835.7,177.1 835.7,176.1 835.7,175.1 835.7,174.1 835.7,173.1 835.7,172.1 835.7,171.1 835.7,170.1 835.7,169.1 835.7,168.1 835.7,167.1 835.7,166.1 835.7,165.1 835.7,164.1 835.7,163.1 835.7,162.1 835.7,161.1 835.7,160.1 835.7,159.1 835.7,158.1 835.7,157.1 835.7,156.1 835.7,155.1 835.7,154.1 835.7,153.1 835.7,152.1 835.7,151.1 835.7,150.1 835.7,149.1 835.7,148.1 835.7,147.1 835.7,146.1 835.7,145.1 835.7,144.1 835.7,143.1 835.7,142.1 835.7,141.1 835.7,140.1 835.7,139.1 835.7,138.1 835.7,137.1 835.7,136.1 835.7,135.1 835.7,134.1 835.7,133.1 835.7,132.1 835.7,131.1 835.7,130.1 835.7,129.1 835.7,128.1 835.7,127.1 835.7,126.1 835.7,125.1 835.7,124.1 835.7,123.1 835.7,122.1 835.7,121.1 835.7,120.1 835.7,119.1 835.7,118.1 835.7,117.1 835.7,116.1 835.7,115.1 835.7,114.1 835.7,113.1 835.7,112.1 835.7,111.1 835.7,110.1 835.7,109.1 835.7,108.1 835.7,107.1 835.7,106.1 835.7,105.1 835.7,104.1 835.7,103.1 835.7,102.1 835.7,101.1 835.7,100.1 835.7,99.1 835.7,98.1 835.7,97.1 835.7,96.1 835.7,95.1 835.7,94.1 835.7,93.1 835.7,92.1 835.7,91.1 835.7,90.1 835.7,89.1 835.7,88.1 835.7,87.1 835.7,86.1 835.7,85.1 835.7,84.1 835.7,83.1 835.7,82.1 835.7,81.1 835.7,80.1 835.7,79.1 835.7,78.1 835.7,77.1 835.7,76.1 835.7,75.1 835.7,74.1 835.6,73.1Z" fill="#F8766D" stroke="#111" stroke-width="0.9" stroke-linejoin="round"/>
<path d="M1027.3,165.1 1027.3,166.1 1027.3,167.1 1027.3,168.1 1027.3,169.1 1027.3,170.1 1027.3,171.1 1027.3,172.1 1027.3,173.1 1027.3,174.1 1027.3,175.1 1027.3,176.1 1027.3,177.1 1027.3,178.1 1027.3,179.1 1027.3,180.1 1027.3,181.1 1027.3,182.1 1027.3,183.1 1027.3,184.1 1027.3,185.1 1027.3,186.1 1027.3,187.1 1027.3,188.1 1027.3,189.1 1027.3,190.1 1027.3,191.1 1027.3,192.1 1027.3,193.1 1027.3,194.1 1027.3,195.1 1027.3,196.1 1027.3,197.1 1027.3,198.1 1027.3,199.1 1027.3,200.1 1027.3,201.1 1027.3,202.1 1027.3,203.1 1027.3,204.1 1027.3,205.1 1027.3,206.1 1027.3,207.1 1027.3,208.1 1027.3,209.1 1027.3,210.1 1027.3,211.1 1027.3,212.1 1027.3,213.1 1027.3,214.1 1027.3,215.1 1027.3,216.1 1027.3,217.1 1027.3,218.1 1027.3,219.1 1027.3,220.1 1027.3,221.1 1027.3,222.1 1027.3,223.1 1027.3,224.1 1027.3,225.1 1027.3,226.1 1027.3,227.1 1027.3,228.1 1027.3,229.1 1027.3,230.1 1027.3,231.1 1027.3,232.1 1027.3,233.1 1027.3,234.1 1027.3,235.1 1027.3,236.1 1027.3,237.1 1027.3,238.1 1027.3,239.1 1027.3,240.1 1027.3,241.1 1027.3,242.1 1027.3,243.1 1027.3,244.1 1027.3,245.1 1027.3,246.1 1027.3,247.1 1027.3,248.1 1027.3,249.1 1027.3,250.1 1027.3,251.1 1027.3,252.1 1027.3,253.1 1027.3,254.1 1027.3,255.1 1027.3,256.1 1027.3,257.1 1027.3,258.1 1027.3,259.1 1027.3,260.1 1027.3,261.1 1027.3,262.1 1027.3,263.1 1027.3,264.1 1027.3,265.1 1027.3,266.1 1027.3,267.1 1027.3,268.1 1027.3,269.1 1027.3,270.1 1027.3,271.1 1027.3,272.1 1027.3,273.1 1027.3,274.1 1027.3,275.1 1027.3,276.1 1027.3,277.1 1027.3,278.1 1027.3,279.1 1027.3,280.1 1027.3,281.1 1027.3,282.1 1027.3,283.1 1027.3,284.1 1027.3,285.1 1027.3,286.1 1027.3,287.1 1027.3,288.1 1027.3,289.1 1027.3,290.1 1027.3,291.1 1027.3,292.1 1027.3,293.1 1027.3,294.1 1027.3,295.1 1027.3,296.1 1027.3,297.1 1027.3,298.1 1027.3,299.1 1027.3,300.1 1027.3,301.1 1027.3,302.1 1027.3,303.1 1027.3,304.1 1027.3,305.1 1027.3,306.1 1027.3,307.1 1027.3,308.1 1027.3,309.1 1027.3,310.1 1027.3,311.1 1027.3,312.1 1027.3,313.1 1027.3,314.1 1027.3,315.1 1027.3,316.1 1027.3,317.1 1027.3,318.1 1027.3,319.1 1027.3,320.1 1027.3,321.1 1027.3,322.1 1027.3,323.1 1027.3,324.1 1027.3,325.1 1027.3,326.1 1027.3,327.1 1027.3,328.1 1027.3,329.1 1027.3,330.1 1027.3,331.1 1027.3,332.1 1027.3,333.1 1027.3,334.1 1027.3,335.1 1027.3,336.1 1027.3,337.1 1027.3,338.1 1027.3,339.1 1027.3,340.1 1027.3,341.1 1027.3,342.1 1027.3,343.1 1027.3,344.1 1027.3,345.1 1027.3,346.1 1027.3,347.1 1027.3,348.1 1027.3,349.1 1027.3,350.1 1027.3,351.1 1027.3,352.1 1027.3,353.1 1027.3,354.1 1027.3,355.1 1027.3,356.1 1027.3,357.1 1027.3,358.1 1027.3,359.1 1027.3,360.1 1027.3,361.1 1027.3,362.1 1027.3,363.1 1027.3,364.1 1027.3,365.1 1027.3,366.1 1027.3,367.1 1027.3,368.1 1027.3,369.1 1027.3,370.1 1027.3,371.1 1027.3,372.1 1027.3,373.1 1027.3,374.1 1027.3,375.1 1027.3,376.1 1027.3,377.1 1027.3,378.1 1027.3,379.1 1027.3,380.1 1027.3,381.1 1027.3,382.1 1027.3,383.1 1027.3,384.1 1027.3,385.1 1027.3,386.1 1027.3,387.1 1027.3,388.1 1027.3,389.1 1027.3,390.1 1027.3,391.1 1027.3,392.1 1027.3,393.1 1027.3,394.1 1027.3,395.1 1027.3,396.1 1027.3,397.1 1027.3,398.1 1027.3,399.1 1027.3,400.1 1027.3,401.1 1027.3,402.1 1027.3,403.1 1027.3,404.1 1027.3,405.1 1027.3,406.1 1027.3,407.1 1027.3,408.1 1027.3,409.1 1027.3,410.1 1027.3,411.1 1027.3,412.1 1027.3,413.1 1027.3,414.1 1027.3,415.1 1027.3,416.1 1027.3,417.1 1027.3,418.1 1027.3,419.1 1027.3,420.1 1027.3,421.1 1027.3,422.1 1027.3,423.1 1027.3,424.1 1027.3,425.1 1027.3,426.1 1027.3,427.1 1027.3,428.1 1027.3,429.1 1027.3,430.1 1027.3,431.1 1027.3,432.1 1027.3,433.1 1027.3,434.1 1027.3,435.1 1027.3,436.1 1027.3,437.1 1027.3,438.1 1027.3,439.1 1027.3,440.1 1027.3,441.1 1027.3,442.1 1027.3,443.1 1027.3,444.1 1027.3,445.1 1027.3,446.1 1027.3,447.1 1027.3,448.1 1027.3,449.1 1027.3,450.1 1027.3,451.1 1027.3,452.1 1027.3,453.1 1027.3,454.1 1027.3,455.1 1027.3,456.1 1027.3,457.1 1027.3,458.1 1027.3,459.1 1027.3,460.1 1027.3,461.1 1027.3,462.1 1027.3,463.1 1027.3,464.1 1027.3,465.1 1027.3,466.1 1027.3,467.1 1027.3,468.1 1027.3,469.1 1027.3,470.1 1027.3,471.1 1027.3,472.1 1027.3,473.1 1027.3,474.1 1027.3,475.1 1027.3,476.1 1027.3,477.1 1027.3,478.1 1027.3,479.1 1027.3,480.1 1027.3,481.1 1027.3,482.1 1027.3,483.1 1027.3,484.1 1027.3,485.1 1027.3,486.1 1027.3,487.1 1027.3,488.1 1027.3,489.1 1027.3,490.1 1027.3,491.1 1027.3,492.1 1027.3,493.1 1027.3,494.1 1027.3,495.1 1027.3,496.1 1027.3,497.1 1027.3,498.1 1027.3,499.1 1027.3,500.1 1027.3,501.1 1027.3,502.1 1027.3,503.1 1027.3,504.1 1027.3,505.1 1027.3,506.1 1027.3,507.1 1027.3,508.1 1027.3,509.1 1027.3,510.1 1027.3,511.1 1027.3,512.1 1027.3,513.1 1027.3,514.1 1027.3,515.1 1027.3,516.1 1027.3,517.1 1027.3,518.1 1027.3,519.1 1027.3,520.1 1027.3,521.1 1027.3,522.1 1027.3,523.1 1027.3,524.1 1027.3,525.1 1027.3,526.1 1027.3,527.1 1027.3,528.1 1027.3,529.1 1027.3,530.1 1027.3,531.1 1027.3,532.1 1027.3,533.1 1027.3,534.1 1027.3,535.1 1027.3,536.1 1027.3,537.1 1027.3,538.1 1027.3,539.1 1027.3,540.1 1027.3,541.1 1027.3,542.1 1027.3,543.1 1027.3,544.1 1027.3,545.1 1027.3,546.1 1027.3,547.1 1027.3,548.1 1027.3,549.1 1027.3,550.1 1027.3,551.1 1027.3,552.1 1027.3,553.1 1027.3,554.1 1027.3,555.1 1027.3,556.1 1027.3,557.1 1027.3,558.1 1027.3,559.1 1027.3,560.1 1027.3,561.1 1027.3,562.1 1027.3,563.1 1027.3,564.1 1027.3,565.1 1027.3,566.1 1027.3,567.1 1027.3,568.1 1027.3,569.1 1027.3,570.1 1027.3,571.1 1027.3,572.1 1027.3,573.1 1027.3,574.1 1027.3,575.1 1027.3,576.1 1027.3,577.1 1027.3,578.1 1027.3,579.1 1027.3,580.1 1027.3,581.1 1027.3,582.1 1027.3,583.1 1027.3,584.1 1027.3,585.1 1027.3,586.1 1027.3,587.1 1027.3,588.1 1027.3,589.1 1027.3,590.1 1027.3,591.1 1027.3,592.1 1027.3,593.1 1027.3,594.1 1027.3,595.1 1027.3,596.1 1027.3,597.1 1027.3,598.1 1027.3,599.1 1027.3,600.1 1027.3,601.1 1027.3,602.1 1027.3,603.1 1027.3,604.1 1027.3,605.1 1027.3,606.1 1027.3,607.1 1027.3,608.1 1027.3,609.1 1027.3,610.1 1027.3,611.1 1027.3,612.1 1027.3,613.1 1027.3,614.1 1027.3,615.1 1027.3,616.1 1027.3,617.1 1027.3,618.1 1027.3,619.1 1027.3,620.1 1027.3,621.1 1027.3,622.1 1027.3,623.1 1027.3,624.1 1027.3,625.1 1027.3,626.1 1027.3,627.1 1027.3,628.1 1027.3,629.1 1027.3,630.1 1027.3,631.1 1027.3,632.1 1027.3,633.1 1027.3,634.1 1027.3,635.1 1027.3,636.1 1027.3,637.1 1027.3,638.1 1027.3,639.1 1027.3,640.1 1027.3,641.1 1027.3,642.1 1027.3,643.1 1027.3,644.1 1027.3,645.1 1027.3,646.1 1027.3,647.1 1027.3,648.1 1027.3,649.1 1027.3,650.1 1027.3,651.1 1027.3,652.1 1027.3,653.1 1027.3,654.1 1027.3,655.1 1027.3,656.1 1027.3,657.1 1027.3,658.1 1027.3,659.1 1027.3,660.1 1027.3,661.1 1027.3,662.1 1027.3,663.1 1027.3,664.1 1027.3,665.1 1027.3,666.1 1027.3,667.1 1027.3,668.1 1027.3,669.1 1027.3,670.1 1027.3,671.1 1027.3,672.1 1027.3,673.1 1027.3,674.1 1027.3,675.1 1027.3,676.1 1027.3,677.1 1027.3,678.1 1027.3,679.1 1027.3,680.1 1027.3,681.1 1027.3,682.1 1027.3,683.1 1027.3,684.1 1027.3,685.1 1027.3,686.1 1027.3,687.1 1027.3,688.1 1027.3,689.1 1027.3,690.1 1027.3,691.1 1027.3,692.1 1027.3,693.1 1027.3,694.1 1027.3,695.1 1027.3,696.1 1027.3,697.1 1027.3,698.1 1027.3,699.1 1027.3,700.1 1027.3,701.1 1027.3,702.1 1027.3,703.1 1027.3,704.1 1027.3,705.1 1027.3,706.1 1027.3,707.1 1027.3,708.1 1027.3,709.1 1027.3,710.1 1027.3,711.1 1027.3,712.1 1027.3,713.1 1027.3,714.1 1027.3,715.1 1027.3,716.1 1027.3,717.1 1027.3,718.1 1027.3,719.1 1027.3,720.1 1027.3,721.1 1027.3,722.1 1027.3,723.1 1027.3,724.1 1027.3,725.1 1027.3,726.1 1027.3,727.1 1027.3,728.1 1027.3,729.1 1027.3,730.1 1027.3,731.1 1027.3,732.1 1027.3,733.1 1027.3,734.1 1027.3,735.1 1027.3,736.1 1027.3,737.1 1027.3,738.1 1027.3,739.1 1027.3,740.1 1027.3,741.1 1027.3,742.1 1027.3,743.1 1027.3,744.1 1027.3,745.1 1027.3,746.1 1027.3,747.1 1027.3,748.1 1027.3,749.1 1027.3,750.1 1027.3,751.1 1027.3,752.1 1027.3,753.1 1027.3,754.1 1027.3,755.1 1027.3,756.1 1027.3,757.1 1027.3,758.1 1027.3,759.1 1027.3,760.1 1027.3,761.1 1027.3,762.1 1027.3,763.1 1027.3,764.1 1027.3,765.1 1027.3,766.1 1027.3,767.1 1027.3,768.1 1027.3,769.1 1027.3,770.1 1027.3,771.1 1027.3,772.1 1027.3,773.1 1027.3,774.1 1027.3,775.1 1027.3,776.1 1027.3,777.1 1027.3,778.1 1027.3,779.1 1027.3,780.1 1027.3,781.1 1027.3,782.1 1027.3,783.1 1027.3,784.1 1027.3,785.1 1027.3,786.1 1027.3,787.1 1027.3,788.1 1027.3,789.1 1027.3,790.1 1027.3,791.1 1027.3,792.1 1027.3,793.1 1027.3,794.1 1027.3,795.1 1027.3,796.1 1027.3,797.1 1027.3,798.1 1027.3,799.1 1027.3,800.1 1027.3,801.1 1027.3,802.1 1027.3,803.1 1027.3,804.1 1027.3,805.1 1027.3,806.1 1027.3,807.1 1027.3,808.1 1027.3,809.1 1027.3,810.1 1027.3,811.1 1027.3,812.1 1027.3,813.1 1027.3,814.1 1027.3,815.1 1027.3,816.1 1027.3,817.1 1027.3,818.1 1027.3,819.1 1027.3,820.1 1027.3,821.1 1027.3,822.1 1027.3,823.1 1027.3,824.1 1027.3,825.1 1027.3,826.1 1027.3,827.1 1027.3,828.1 1027.3,829.1 1027.3,830.1 1027.3,831.1 1027.3,832.1 1027.3,833.1 1027.3,834.1 1027.3,835.1 1027.3,836.1 1027.3,837.1 1027.3,838.1 1027.3,839.1 1027.3,840.1 1027.3,841.1 1027.3,842.1 1027.3,843.1 1027.3,844.1 1027.3,845.1 1027.3,846.1 1027.3,847.1 1027.3,848.1 1027.3,849.1 1027.3,850.1 1027.3,851.1 1027.3,852.1 1027.3,853.1 1027.3,854.1 1027.3,855.1 1027.3,856.1 1027.3,857.1 1027.3,858.1 1027.3,859.1 1027.3,860.1 1027.3,861.1 1027.3,862.1 1027.3,863.1 1027.1,864.1 1026.6,865.1 1026,866.1 1025.5,867.1 1025.3,868.1 1025.3,869.1 1025.2,870.1 1025.2,871.1 1025.2,872.1 1025.2,873.1 1025.2,874.1 1025.2,875.1 1025.2,876.1 1025.2,877.1 1025.1,878.1 1025.1,879.1 1025.1,880.1 1025.1,881.1 1025,882.1 1024.9,883.1 1024.8,884.1 1024.7,885.1 1024.6,886.1 1024.4,887.1 1024.3,888.1 1024.1,889.1 1023.9,890.1 1023.8,891.1 1023.6,892.1 1023.4,893.1 1023.2,894.1 1022.9,895.1 1022.6,896.1 1022.3,897.1 1022,898.1 1021.7,899.1 1021.3,900.1 1020.9,901.1 1020.6,902.1 1020.2,903.1 1019.8,904.1 1019.5,905.1 1019.1,906.1 1018.7,907.1 1018.3,908.1 1018,909.1 1017.6,910.1 1017.1,911.1 1016.7,912.1 1016.3,913.1 1015.9,914.1 1015.5,915.1 1015.1,916.1 1014.9,917.1 1014.6,918.1 1014.4,919.1 1014.1,920.1 1013.6,921.1 1012.9,922.1 1012,923.1 995.3,924.1 975,925.1 941.1,926.1 941.1,927 1113.9,927 1113.9,926.1 1080,925.1 1059.7,924.1 1043,923.1 1042.1,922.1 1041.4,921.1 1040.9,920.1 1040.6,919.1 1040.4,918.1 1040.1,917.1 1039.9,916.1 1039.5,915.1 1039.1,914.1 1038.7,913.1 1038.3,912.1 1037.9,911.1 1037.4,910.1 1037,909.1 1036.7,908.1 1036.3,907.1 1035.9,906.1 1035.5,905.1 1035.2,904.1 1034.8,903.1 1034.4,902.1 1034.1,901.1 1033.7,900.1 1033.3,899.1 1033,898.1 1032.7,897.1 1032.4,896.1 1032.1,895.1 1031.8,894.1 1031.6,893.1 1031.4,892.1 1031.2,891.1 1031.1,890.1 1030.9,889.1 1030.7,888.1 1030.6,887.1 1030.4,886.1 1030.3,885.1 1030.2,884.1 1030.1,883.1 1030,882.1 1029.9,881.1 1029.9,880.1 1029.9,879.1 1029.9,878.1 1029.8,877.1 1029.8,876.1 1029.8,875.1 1029.8,874.1 1029.8,873.1 1029.8,872.1 1029.8,871.1 1029.8,870.1 1029.7,869.1 1029.7,868.1 1029.5,867.1 1029,866.1 1028.4,865.1 1027.9,864.1 1027.7,863.1 1027.7,862.1 1027.7,861.1 1027.7,860.1 1027.7,859.1 1027.7,858.1 1027.7,857.1 1027.7,856.1 1027.7,855.1 1027.7,854.1 1027.7,853.1 1027.7,852.1 1027.7,851.1 1027.7,850.1 1027.7,849.1 1027.7,848.1 1027.7,847.1 1027.7,846.1 1027.7,845.1 1027.7,844.1 1027.7,843.1 1027.7,842.1 1027.7,841.1 1027.7,840.1 1027.7,839.1 1027.7,838.1 1027.7,837.1 1027.7,836.1 1027.7,835.1 1027.7,834.1 1027.7,833.1 1027.7,832.1 1027.7,831.1 1027.7,830.1 1027.7,829.1 1027.7,828.1 1027.7,827.1 1027.7,826.1 1027.7,825.1 1027.7,824.1 1027.7,823.1 1027.7,822.1 1027.7,821.1 1027.7,820.1 1027.7,819.1 1027.7,818.1 1027.7,817.1 1027.7,816.1 1027.7,815.1 1027.7,814.1 1027.7,813.1 1027.7,812.1 1027.7,811.1 1027.7,810.1 1027.7,809.1 1027.7,808.1 1027.7,807.1 1027.7,806.1 1027.7,805.1 1027.7,804.1 1027.7,803.1 1027.7,802.1 1027.7,801.1 1027.7,800.1 1027.7,799.1 1027.7,798.1 1027.7,797.1 1027.7,796.1 1027.7,795.1 1027.7,794.1 1027.7,793.1 1027.7,792.1 1027.7,791.1 1027.7,790.1 1027.7,789.1 1027.7,788.1 1027.7,787.1 1027.7,786.1 1027.7,785.1 1027.7,784.1 1027.7,783.1 1027.7,782.1 1027.7,781.1 1027.7,780.1 1027.7,779.1 1027.7,778.1 1027.7,777.1 1027.7,776.1 1027.7,775.1 1027.7,774.1 1027.7,773.1 1027.7,772.1 1027.7,771.1 1027.7,770.1 1027.7,769.1 1027.7,768.1 1027.7,767.1 1027.7,766.1 1027.7,765.1 1027.7,764.1 1027.7,763.1 1027.7,762.1 1027.7,761.1 1027.7,760.1 1027.7,759.1 1027.7,758.1 1027.7,757.1 1027.7,756.1 1027.7,755.1 1027.7,754.1 1027.7,753.1 1027.7,752.1 1027.7,751.1 1027.7,750.1 1027.7,749.1 1027.7,748.1 1027.7,747.1 1027.7,746.1 1027.7,745.1 1027.7,744.1 1027.7,743.1 1027.7,742.1 1027.7,741.1 1027.7,740.1 1027.7,739.1 1027.7,738.1 1027.7,737.1 1027.7,736.1 1027.7,735.1 1027.7,734.1 1027.7,733.1 1027.7,732.1 1027.7,731.1 1027.7,730.1 1027.7,729.1 1027.7,728.1 1027.7,727.1 1027.7,726.1 1027.7,725.1 1027.7,724.1 1027.7,723.1 1027.7,722.1 1027.7,721.1 1027.7,720.1 1027.7,719.1 1027.7,718.1 1027.7,717.1 1027.7,716.1 1027.7,715.1 1027.7,714.1 1027.7,713.1 1027.7,712.1 1027.7,711.1 1027.7,710.1 1027.7,709.1 1027.7,708.1 1027.7,707.1 1027.7,706.1 1027.7,705.1 1027.7,704.1 1027.7,703.1 1027.7,702.1 1027.7,701.1 1027.7,700.1 1027.7,699.1 1027.7,698.1 1027.7,697.1 1027.7,696.1 1027.7,695.1 1027.7,694.1 1027.7,693.1 1027.7,692.1 1027.7,691.1 1027.7,690.1 1027.7,689.1 1027.7,688.1 1027.7,687.1 1027.7,686.1 1027.7,685.1 1027.7,684.1 1027.7,683.1 1027.7,682.1 1027.7,681.1 1027.7,680.1 1027.7,679.1 1027.7,678.1 1027.7,677.1 1027.7,676.1 1027.7,675.1 1027.7,674.1 1027.7,673.1 1027.7,672.1 1027.7,671.1 1027.7,670.1 1027.7,669.1 1027.7,668.1 1027.7,667.1 1027.7,666.1 1027.7,665.1 1027.7,664.1 1027.7,663.1 1027.7,662.1 1027.7,661.1 1027.7,660.1 1027.7,659.1 1027.7,658.1 1027.7,657.1 1027.7,656.1 1027.7,655.1 1027.7,654.1 1027.7,653.1 1027.7,652.1 1027.7,651.1 1027.7,650.1 1027.7,649.1 1027.7,648.1 1027.7,647.1 1027.7,646.1 1027.7,645.1 1027.7,644.1 1027.7,643.1 1027.7,642.1 1027.7,641.1 1027.7,640.1 1027.7,639.1 1027.7,638.1 1027.7,637.1 1027.7,636.1 1027.7,635.1 1027.7,634.1 1027.7,633.1 1027.7,632.1 1027.7,631.1 1027.7,630.1 1027.7,629.1 1027.7,628.1 1027.7,627.1 1027.7,626.1 1027.7,625.1 1027.7,624.1 1027.7,623.1 1027.7,622.1 1027.7,621.1 1027.7,620.1 1027.7,619.1 1027.7,618.1 1027.7,617.1 1027.7,616.1 1027.7,615.1 1027.7,614.1 1027.7,613.1 1027.7,612.1 1027.7,611.1 1027.7,610.1 1027.7,609.1 1027.7,608.1 1027.7,607.1 1027.7,606.1 1027.7,605.1 1027.7,604.1 1027.7,603.1 1027.7,602.1 1027.7,601.1 1027.7,600.1 1027.7,599.1 1027.7,598.1 1027.7,597.1 1027.7,596.1 1027.7,595.1 1027.7,594.1 1027.7,593.1 1027.7,592.1 1027.7,591.1 1027.7,590.1 1027.7,589.1 1027.7,588.1 1027.7,587.1 1027.7,586.1 1027.7,585.1 1027.7,584.1 1027.7,583.1 1027.7,582.1 1027.7,581.1 1027.7,580.1 1027.7,579.1 1027.7,578.1 1027.7,577.1 1027.7,576.1 1027.7,575.1 1027.7,574.1 1027.7,573.1 1027.7,572.1 1027.7,571.1 1027.7,570.1 1027.7,569.1 1027.7,568.1 1027.7,567.1 1027.7,566.1 1027.7,565.1 1027.7,564.1 1027.7,563.1 1027.7,562.1 1027.7,561.1 1027.7,560.1 1027.7,559.1 1027.7,558.1 1027.7,557.1 1027.7,556.1 1027.7,555.1 1027.7,554.1 1027.7,553.1 1027.7,552.1 1027.7,551.1 1027.7,550.1 1027.7,549.1 1027.7,548.1 1027.7,547.1 1027.7,546.1 1027.7,545.1 1027.7,544.1 1027.7,543.1 1027.7,542.1 1027.7,541.1 1027.7,540.1 1027.7,539.1 1027.7,538.1 1027.7,537.1 1027.7,536.1 1027.7,535.1 1027.7,534.1 1027.7,533.1 1027.7,532.1 1027.7,531.1 1027.7,530.1 1027.7,529.1 1027.7,528.1 1027.7,527.1 1027.7,526.1 1027.7,525.1 1027.7,524.1 1027.7,523.1 1027.7,522.1 1027.7,521.1 1027.7,520.1 1027.7,519.1 1027.7,518.1 1027.7,517.1 1027.7,516.1 1027.7,515.1 1027.7,514.1 1027.7,513.1 1027.7,512.1 1027.7,511.1 1027.7,510.1 1027.7,509.1 1027.7,508.1 1027.7,507.1 1027.7,506.1 1027.7,505.1 1027.7,504.1 1027.7,503.1 1027.7,502.1 1027.7,501.1 1027.7,500.1 1027.7,499.1 1027.7,498.1 1027.7,497.1 1027.7,496.1 1027.7,495.1 1027.7,494.1 1027.7,493.1 1027.7,492.1 1027.7,491.1 1027.7,490.1 1027.7,489.1 1027.7,488.1 1027.7,487.1 1027.7,486.1 1027.7,485.1 1027.7,484.1 1027.7,483.1 1027.7,482.1 1027.7,481.1 1027.7,480.1 1027.7,479.1 1027.7,478.1 1027.7,477.1 1027.7,476.1 1027.7,475.1 1027.7,474.1 1027.7,473.1 1027.7,472.1 1027.7,471.1 1027.7,470.1 1027.7,469.1 1027.7,468.1 1027.7,467.1 1027.7,466.1 1027.7,465.1 1027.7,464.1 1027.7,463.1 1027.7,462.1 1027.7,461.1 1027.7,460.1 1027.7,459.1 1027.7,458.1 1027.7,457.1 1027.7,456.1 1027.7,455.1 1027.7,454.1 1027.7,453.1 1027.7,452.1 1027.7,451.1 1027.7,450.1 1027.7,449.1 1027.7,448.1 1027.7,447.1 1027.7,446.1 1027.7,445.1 1027.7,444.1 1027.7,443.1 1027.7,442.1 1027.7,441.1 1027.7,440.1 1027.7,439.1 1027.7,438.1 1027.7,437.1 1027.7,436.1 1027.7,435.1 1027.7,434.1 1027.7,433.1 1027.7,432.1 1027.7,431.1 1027.7,430.1 1027.7,429.1 1027.7,428.1 1027.7,427.1 1027.7,426.1 1027.7,425.1 1027.7,424.1 1027.7,423.1 1027.7,422.1 1027.7,421.1 1027.7,420.1 1027.7,419.1 1027.7,418.1 1027.7,417.1 1027.7,416.1 1027.7,415.1 1027.7,414.1 1027.7,413.1 1027.7,412.1 1027.7,411.1 1027.7,410.1 1027.7,409.1 1027.7,408.1 1027.7,407.1 1027.7,406.1 1027.7,405.1 1027.7,404.1 1027.7,403.1 1027.7,402.1 1027.7,401.1 1027.7,400.1 1027.7,399.1 1027.7,398.1 1027.7,397.1 1027.7,396.1 1027.7,395.1 1027.7,394.1 1027.7,393.1 1027.7,392.1 1027.7,391.1 1027.7,390.1 1027.7,389.1 1027.7,388.1 1027.7,387.1 1027.7,386.1 1027.7,385.1 1027.7,384.1 1027.7,383.1 1027.7,382.1 1027.7,381.1 1027.7,380.1 1027.7,379.1 1027.7,378.1 1027.7,377.1 1027.7,376.1 1027.7,375.1 1027.7,374.1 1027.7,373.1 1027.7,372.1 1027.7,371.1 1027.7,370.1 1027.7,369.1 1027.7,368.1 1027.7,367.1 1027.7,366.1 1027.7,365.1 1027.7,364.1 1027.7,363.1 1027.7,362.1 1027.7,361.1 1027.7,360.1 1027.7,359.1 1027.7,358.1 1027.7,357.1 1027.7,356.1 1027.7,355.1 1027.7,354.1 1027.7,353.1 1027.7,352.1 1027.7,351.1 1027.7,350.1 1027.7,349.1 1027.7,348.1 1027.7,347.1 1027.7,346.1 1027.7,345.1 1027.7,344.1 1027.7,343.1 1027.7,342.1 1027.7,341.1 1027.7,340.1 1027.7,339.1 1027.7,338.1 1027.7,337.1 1027.7,336.1 1027.7,335.1 1027.7,334.1 1027.7,333.1 1027.7,332.1 1027.7,331.1 1027.7,330.1 1027.7,329.1 1027.7,328.1 1027.7,327.1 1027.7,326.1 1027.7,325.1 1027.7,324.1 1027.7,323.1 1027.7,322.1 1027.7,321.1 1027.7,320.1 1027.7,319.1 1027.7,318.1 1027.7,317.1 1027.7,316.1 1027.7,315.1 1027.7,314.1 1027.7,313.1 1027.7,312.1 1027.7,311.1 1027.7,310.1 1027.7,309.1 1027.7,308.1 1027.7,307.1 1027.7,306.1 1027.7,305.1 1027.7,304.1 1027.7,303.1 1027.7,302.1 1027.7,301.1 1027.7,300.1 1027.7,299.1 1027.7,298.1 1027.7,297.1 1027.7,296.1 1027.7,295.1 1027.7,294.1 1027.7,293.1 1027.7,292.1 1027.7,291.1 1027.7,290.1 1027.7,289.1 1027.7,288.1 1027.7,287.1 1027.7,286.1 1027.7,285.1 1027.7,284.1 1027.7,283.1 1027.7,282.1 1027.7,281.1 1027.7,280.1 1027.7,279.1 1027.7,278.1 1027.7,277.1 1027.7,276.1 1027.7,275.1 1027.7,274.1 1027.7,273.1 1027.7,272.1 1027.7,271.1 1027.7,270.1 1027.7,269.1 1027.7,268.1 1027.7,267.1 1027.7,266.1 1027.7,265.1 1027.7,264.1 1027.7,263.1 1027.7,262.1 1027.7,261.1 1027.7,260.1 1027.7,259.1 1027.7,258.1 1027.7,257.1 1027.7,256.1 1027.7,255.1 1027.7,254.1 1027.7,253.1 1027.7,252.1 1027.7,251.1 1027.7,250.1 1027.7,249.1 1027.7,248.1 1027.7,247.1 1027.7,246.1 1027.7,245.1 1027.7,244.1 1027.7,243.1 1027.7,242.1 1027.7,241.1 1027.7,240.1 1027.7,239.1 1027.7,238.1 1027.7,237.1 1027.7,236.1 1027.7,235.1 1027.7,234.1 1027.7,233.1 1027.7,232.1 1027.7,231.1 1027.7,230.1 1027.7,229.1 1027.7,228.1 1027.7,227.1 1027.7,226.1 1027.7,225.1 1027.7,224.1 1027.7,223.1 1027.7,222.1 1027.7,221.1 1027.7,220.1 1027.7,219.1 1027.7,218.1 1027.7,217.1 1027.7,216.1 1027.7,215.1 1027.7,214.1 1027.7,213.1 1027.7,212.1 1027.7,211.1 1027.7,210.1 1027.7,209.1 1027.7,208.1 1027.7,207.1 1027.7,206.1 1027.7,205.1 1027.7,204.1 1027.7,203.1 1027.7,202.1 1027.7,201.1 1027.7,200.1 1027.7,199.1 1027.7,198.1 1027.7,197.1 1027.7,196.1 1027.7,195.1 1027.7,194.1 1027.7,193.1 1027.7,192.1 1027.7,191.1 1027.7,190.1 1027.7,189.1 1027.7,188.1 1027.7,187.1 1027.7,186.1 1027.7,185.1 1027.7,184.1 1027.7,183.1 1027.7,182.1 1027.7,181.1 1027.7,180.1 1027.7,179.1 1027.7,178.1 1027.7,177.1 1027.7,176.1 1027.7,175.1 1027.7,174.1 1027.7,173.1 1027.7,172.1 1027.7,171.1 1027.7,170.1 1027.7,169.1 1027.7,168.1 1027.7,167.1 1027.7,166.1 1027.7,165.1Z" fill="#00BA38" stroke="#111" stroke-width="0.9" stroke-linejoin="round"/>
<path d="M1219.3,192.4 1219.3,193.4 1219.3,194.4 1219.3,195.4 1219.3,196.4 1219.3,197.4 1219.3,198.4 1219.3,199.4 1219.3,200.4 1219.3,201.4 1219.3,202.4 1219.3,203.4 1219.3,204.4 1219.3,205.4 1219.3,206.4 1219.3,207.4 1219.3,208.4 1219.3,209.4 1219.3,210.4 1219.3,211.4 1219.3,212.4 1219.3,213.4 1219.3,214.4 1219.3,215.4 1219.3,216.4 1219.3,217.4 1219.3,218.4 1219.3,219.4 1219.3,220.4 1219.3,221.4 1219.3,222.4 1219.3,223.4 1219.3,224.4 1219.3,225.4 1219.3,226.4 1219.3,227.4 1219.3,228.4 1219.3,229.4 1219.3,230.4 1219.3,231.4 1219.3,232.4 1219.3,233.4 1219.3,234.4 1219.3,235.4 1219.3,236.4 1219.3,237.4 1219.3,238.4 1219.3,239.4 1219.3,240.4 1219.3,241.4 1219.3,242.4 1219.3,243.4 1219.3,244.4 1219.3,245.4 1219.3,246.4 1219.3,247.4 1219.3,248.4 1219.3,249.4 1219.3,250.4 1219.3,251.4 1219.3,252.4 1219.3,253.4 1219.3,254.4 1219.3,255.4 1219.3,256.4 1219.3,257.4 1219.3,258.4 1219.3,259.4 1219.3,260.4 1219.3,261.4 1219.3,262.4 1219.3,263.4 1219.3,264.4 1219.3,265.4 1219.3,266.4 1219.3,267.4 1219.3,268.4 1219.3,269.4 1219.3,270.4 1219.3,271.4 1219.3,272.4 1219.3,273.4 1219.3,274.4 1219.3,275.4 1219.3,276.4 1219.3,277.4 1219.3,278.4 1219.3,279.4 1219.3,280.4 1219.3,281.4 1219.3,282.4 1219.3,283.4 1219.3,284.4 1219.3,285.4 1219.3,286.4 1219.3,287.4 1219.3,288.4 1219.3,289.4 1219.3,290.4 1219.3,291.4 1219.3,292.4 1219.3,293.4 1219.3,294.4 1219.3,295.4 1219.3,296.4 1219.3,297.4 1219.3,298.4 1219.3,299.4 1219.3,300.4 1219.3,301.4 1219.3,302.4 1219.3,303.4 1219.3,304.4 1219.3,305.4 1219.3,306.4 1219.3,307.4 1219.3,308.4 1219.3,309.4 1219.3,310.4 1219.3,311.4 1219.3,312.4 1219.3,313.4 1219.3,314.4 1219.3,315.4 1219.3,316.4 1219.3,317.4 1219.3,318.4 1219.3,319.4 1219.3,320.4 1219.3,321.4 1219.3,322.4 1219.3,323.4 1219.3,324.4 1219.3,325.4 1219.3,326.4 1219.3,327.4 1219.3,328.4 1219.3,329.4 1219.3,330.4 1219.3,331.4 1219.3,332.4 1219.3,333.4 1219.3,334.4 1219.3,335.4 1219.3,336.4 1219.3,337.4 1219.3,338.4 1219.3,339.4 1219.3,340.4 1219.3,341.4 1219.3,342.4 1219.3,343.4 1219.3,344.4 1219.3,345.4 1219.3,346.4 1219.3,347.4 1219.3,348.4 1219.3,349.4 1219.3,350.4 1219.3,351.4 1219.3,352.4 1219.3,353.4 1219.3,354.4 1219.3,355.4 1219.3,356.4 1219.3,357.4 1219.3,358.4 1219.3,359.4 1219.3,360.4 1219.3,361.4 1219.3,362.4 1219.3,363.4 1219.3,364.4 1219.3,365.4 1219.3,366.4 1219.3,367.4 1219.3,368.4 1219.3,369.4 1219.3,370.4 1219.3,371.4 1219.3,372.4 1219.3,373.4 1219.3,374.4 1219.3,375.4 1219.3,376.4 1219.3,377.4 1219.3,378.4 1219.3,379.4 1219.3,380.4 1219.3,381.4 1219.3,382.4 1219.3,383.4 1219.3,384.4 1219.3,385.4 1219.3,386.4 1219.3,387.4 1219.3,388.4 1219.3,389.4 1219.3,390.4 1219.3,391.4 1219.3,392.4 1219.3,393.4 1219.3,394.4 1219.3,395.4 1219.3,396.4 1219.3,397.4 1219.3,398.4 1219.3,399.4 1219.3,400.4 1219.3,401.4 1219.3,402.4 1219.3,403.4 1219.3,404.4 1219.3,405.4 1219.3,406.4 1219.3,407.4 1219.3,408.4 1219.3,409.4 1219.3,410.4 1219.3,411.4 1219.3,412.4 1219.3,413.4 1219.3,414.4 1219.3,415.4 1219.3,416.4 1219.3,417.4 1219.3,418.4 1219.3,419.4 1219.3,420.4 1219.3,421.4 1219.3,422.4 1219.3,423.4 1219.3,424.4 1219.3,425.4 1219.3,426.4 1219.3,427.4 1219.3,428.4 1219.3,429.4 1219.3,430.4 1219.3,431.4 1219.3,432.4 1219.3,433.4 1219.3,434.4 1219.3,435.4 1219.3,436.4 1219.3,437.4 1219.3,438.4 1219.3,439.4 1219.3,440.4 1219.3,441.4 1219.3,442.4 1219.3,443.4 1219.3,444.4 1219.3,445.4 1219.3,446.4 1219.3,447.4 1219.3,448.4 1219.3,449.4 1219.3,450.4 1219.3,451.4 1219.3,452.4 1219.3,453.4 1219.3,454.4 1219.3,455.4 1219.3,456.4 1219.3,457.4 1219.3,458.4 1219.3,459.4 1219.3,460.4 1219.3,461.4 1219.3,462.4 1219.3,463.4 1219.3,464.4 1219.3,465.4 1219.3,466.4 1219.3,467.4 1219.3,468.4 1219.3,469.4 1219.3,470.4 1219.3,471.4 1219.3,472.4 1219.3,473.4 1219.3,474.4 1219.3,475.4 1219.3,476.4 1219.3,477.4 1219.3,478.4 1219.3,479.4 1219.3,480.4 1219.3,481.4 1219.3,482.4 1219.3,483.4 1219.3,484.4 1219.3,485.4 1219.3,486.4 1219.3,487.4 1219.3,488.4 1219.3,489.4 1219.3,490.4 1219.3,491.4 1219.3,492.4 1219.3,493.4 1219.3,494.4 1219.3,495.4 1219.3,496.4 1219.3,497.4 1219.3,498.4 1219.3,499.4 1219.3,500.4 1219.3,501.4 1219.3,502.4 1219.3,503.4 1219.3,504.4 1219.3,505.4 1219.3,506.4 1219.3,507.4 1219.3,508.4 1219.3,509.4 1219.3,510.4 1219.3,511.4 1219.3,512.4 1219.3,513.4 1219.3,514.4 1219.3,515.4 1219.3,516.4 1219.3,517.4 1219.3,518.4 1219.3,519.4 1219.3,520.4 1219.3,521.4 1219.3,522.4 1219.3,523.4 1219.3,524.4 1219.3,525.4 1219.3,526.4 1219.3,527.4 1219.3,528.4 1219.3,529.4 1219.3,530.4 1219.3,531.4 1219.3,532.4 1219.3,533.4 1219.3,534.4 1219.3,535.4 1219.3,536.4 1219.3,537.4 1219.3,538.4 1219.3,539.4 1219.3,540.4 1219.3,541.4 1219.3,542.4 1219.3,543.4 1219.3,544.4 1219.3,545.4 1219.3,546.4 1219.3,547.4 1219.3,548.4 1219.3,549.4 1219.3,550.4 1219.3,551.4 1219.3,552.4 1219.3,553.4 1219.3,554.4 1219.3,555.4 1219.3,556.4 1219.3,557.4 1219.3,558.4 1219.3,559.4 1219.3,560.4 1219.3,561.4 1219.3,562.4 1219.3,563.4 1219.3,564.4 1219.3,565.4 1219.3,566.4 1219.3,567.4 1219.3,568.4 1219.3,569.4 1219.3,570.4 1219.3,571.4 1219.3,572.4 1219.3,573.4 1219.3,574.4 1219.3,575.4 1219.3,576.4 1219.3,577.4 1219.3,578.4 1219.3,579.4 1219.3,580.4 1219.3,581.4 1219.3,582.4 1219.3,583.4 1219.3,584.4 1219.3,585.4 1219.3,586.4 1219.3,587.4 1219.3,588.4 1219.3,589.4 1219.3,590.4 1219.3,591.4 1219.3,592.4 1219.3,593.4 1219.3,594.4 1219.3,595.4 1219.3,596.4 1219.3,597.4 1219.3,598.4 1219.3,599.4 1219.3,600.4 1219.3,601.4 1219.3,602.4 1219.3,603.4 1219.3,604.4 1219.3,605.4 1219.3,606.4 1219.3,607.4 1219.3,608.4 1219.3,609.4 1219.3,610.4 1219.3,611.4 1219.3,612.4 1219.3,613.4 1219.3,614.4 1219.3,615.4 1219.3,616.4 1219.3,617.4 1219.3,618.4 1219.3,619.4 1219.3,620.4 1219.3,621.4 1219.3,622.4 1219.3,623.4 1219.3,624.4 1219.3,625.4 1219.3,626.4 1219.3,627.4 1219.3,628.4 1219.3,629.4 1219.3,630.4 1219.3,631.4 1219.3,632.4 1219.3,633.4 1219.3,634.4 1219.3,635.4 1219.3,636.4 1219.3,637.4 1219.3,638.4 1219.3,639.4 1219.3,640.4 1219.3,641.4 1219.3,642.4 1219.3,643.4 1219.3,644.4 1219.3,645.4 1219.3,646.4 1219.3,647.4 1219.3,648.4 1219.3,649.4 1219.3,650.4 1219.3,651.4 1219.3,652.4 1219.3,653.4 1219.3,654.4 1219.3,655.4 1219.3,656.4 1219.3,657.4 1219.3,658.4 1219.3,659.4 1219.3,660.4 1219.3,661.4 1219.3,662.4 1219.3,663.4 1219.3,664.4 1219.3,665.4 1219.3,666.4 1219.3,667.4 1219.3,668.4 1219.3,669.4 1219.3,670.4 1219.3,671.4 1219.3,672.4 1219.3,673.4 1219.3,674.4 1219.3,675.4 1219.3,676.4 1219.3,677.4 1219.3,678.4 1219.3,679.4 1219.3,680.4 1219.3,681.4 1219.3,682.4 1219.3,683.4 1219.3,684.4 1219.3,685.4 1219.3,686.4 1219.3,687.4 1219.3,688.4 1219.3,689.4 1219.3,690.4 1219.3,691.4 1219.3,692.4 1219.3,693.4 1219.3,694.4 1219.3,695.4 1219.3,696.4 1219.3,697.4 1219.3,698.4 1219.3,699.4 1219.3,700.4 1219.3,701.4 1219.3,702.4 1219.3,703.4 1219.3,704.4 1219.3,705.4 1219.3,706.4 1219.3,707.4 1219.3,708.4 1219.3,709.4 1219.3,710.4 1219.3,711.4 1219.3,712.4 1219.3,713.4 1219.3,714.4 1219.3,715.4 1219.3,716.4 1219.3,717.4 1219.3,718.4 1219.3,719.4 1219.3,720.4 1219.3,721.4 1219.3,722.4 1219.3,723.4 1219.3,724.4 1219.3,725.4 1219.3,726.4 1219.3,727.4 1219.3,728.4 1219.3,729.4 1219.3,730.4 1219.3,731.4 1219.3,732.4 1219.3,733.4 1219.3,734.4 1219.3,735.4 1219.3,736.4 1219.3,737.4 1219.3,738.4 1219.3,739.4 1219.3,740.4 1219.3,741.4 1219.3,742.4 1219.3,743.4 1219.3,744.4 1219.3,745.4 1219.3,746.4 1219.3,747.4 1219.3,748.4 1219.3,749.4 1219.3,750.4 1219.3,751.4 1219.3,752.4 1219.3,753.4 1219.3,754.4 1219.3,755.4 1219.3,756.4 1219.3,757.4 1219.3,758.4 1219.3,759.4 1219.3,760.4 1219.3,761.4 1219.3,762.4 1219.3,763.4 1219.3,764.4 1219.3,765.4 1219.3,766.4 1219.3,767.4 1219.3,768.4 1219.3,769.4 1219.3,770.4 1219.3,771.4 1219.3,772.4 1219.3,773.4 1219.3,774.4 1219.3,775.4 1219.3,776.4 1219.3,777.4 1219.3,778.4 1219.3,779.4 1219.3,780.4 1219.3,781.4 1219.3,782.4 1219.3,783.4 1219.3,784.4 1219.3,785.4 1219.3,786.4 1219.3,787.4 1219.3,788.4 1219.3,789.4 1219.3,790.4 1219.3,791.4 1219.3,792.4 1219.3,793.4 1219.3,794.4 1219.3,795.4 1219.3,796.4 1219.3,797.4 1219.3,798.4 1219.3,799.4 1219.3,800.4 1219.3,801.4 1219.3,802.4 1219.3,803.4 1219.3,804.4 1219.3,805.4 1219.3,806.4 1219.3,807.4 1219.3,808.4 1219.3,809.4 1219.3,810.4 1219.3,811.4 1219.3,812.4 1219.3,813.4 1219.3,814.4 1219.3,815.4 1219.3,816.4 1219.3,817.4 1219.3,818.4 1219.3,819.4 1219.3,820.4 1219.3,821.4 1219.3,822.4 1219.3,823.4 1219.3,824.4 1219.3,825.4 1219.3,826.4 1219.3,827.4 1219.3,828.4 1219.3,829.4 1219.3,830.4 1219.3,831.4 1219.3,832.4 1219.3,833.4 1219.3,834.4 1219.3,835.4 1219.3,836.4 1219.3,837.4 1219.3,838.4 1219.3,839.4 1219.3,840.4 1219.3,841.4 1219.3,842.4 1219.3,843.4 1219.3,844.4 1219.3,845.4 1219.3,846.4 1219.3,847.4 1219.3,848.4 1219.3,849.4 1219.3,850.4 1219.3,851.4 1219.3,852.4 1219.3,853.4 1219.3,854.4 1219.3,855.4 1219.3,856.4 1219.3,857.4 1219.3,858.4 1219.3,859.4 1219.3,860.4 1219.3,861.4 1219.3,862.4 1219.3,863.4 1219.3,864.4 1219.3,865.4 1219.3,866.4 1219.3,867.4 1219.3,868.4 1219.3,869.4 1219.3,870.4 1219.3,871.4 1219.3,872.4 1219.3,873.4 1219.3,874.4 1219.3,875.4 1219.3,876.4 1219.3,877.4 1219.3,878.4 1219.3,879.4 1219.3,880.4 1219.3,881.4 1219.3,882.4 1219.3,883.4 1219.3,884.4 1219.3,885.4 1219.3,886.4 1219.3,887.4 1219.3,888.4 1219.3,889.4 1219.2,890.4 1218.8,891.4 1218.2,892.4 1218.1,893.4 1218,894.4 1218,895.4 1218,896.4 1218,897.4 1218,898.4 1218,899.4 1217.9,900.4 1217.9,901.4 1217.9,902.4 1217.9,903.4 1217.9,904.4 1217.9,905.4 1217.9,906.4 1217.9,907.4 1217.9,908.4 1217.8,909.4 1217.8,910.4 1217.8,911.4 1217.7,912.4 1217.5,913.4 1217.2,914.4 1216.9,915.4 1216.6,916.4 1216.2,917.4 1215.8,918.4 1215.3,919.4 1214.9,920.4 1214.4,921.4 1213.6,922.4 1212.2,923.4 1201,924.4 1182.2,925.4 1133.1,926.4 1133.1,927 1305.9,927 1305.9,926.4 1256.8,925.4 1238,924.4 1226.8,923.4 1225.4,922.4 1224.6,921.4 1224.1,920.4 1223.7,919.4 1223.2,918.4 1222.8,917.4 1222.4,916.4 1222.1,915.4 1221.8,914.4 1221.5,913.4 1221.3,912.4 1221.2,911.4 1221.2,910.4 1221.2,909.4 1221.1,908.4 1221.1,907.4 1221.1,906.4 1221.1,905.4 1221.1,904.4 1221.1,903.4 1221.1,902.4 1221.1,901.4 1221.1,900.4 1221,899.4 1221,898.4 1221,897.4 1221,896.4 1221,895.4 1221,894.4 1220.9,893.4 1220.8,892.4 1220.2,891.4 1219.8,890.4 1219.7,889.4 1219.7,888.4 1219.7,887.4 1219.7,886.4 1219.7,885.4 1219.7,884.4 1219.7,883.4 1219.7,882.4 1219.7,881.4 1219.7,880.4 1219.7,879.4 1219.7,878.4 1219.7,877.4 1219.7,876.4 1219.7,875.4 1219.7,874.4 1219.7,873.4 1219.7,872.4 1219.7,871.4 1219.7,870.4 1219.7,869.4 1219.7,868.4 1219.7,867.4 1219.7,866.4 1219.7,865.4 1219.7,864.4 1219.7,863.4 1219.7,862.4 1219.7,861.4 1219.7,860.4 1219.7,859.4 1219.7,858.4 1219.7,857.4 1219.7,856.4 1219.7,855.4 1219.7,854.4 1219.7,853.4 1219.7,852.4 1219.7,851.4 1219.7,850.4 1219.7,849.4 1219.7,848.4 1219.7,847.4 1219.7,846.4 1219.7,845.4 1219.7,844.4 1219.7,843.4 1219.7,842.4 1219.7,841.4 1219.7,840.4 1219.7,839.4 1219.7,838.4 1219.7,837.4 1219.7,836.4 1219.7,835.4 1219.7,834.4 1219.7,833.4 1219.7,832.4 1219.7,831.4 1219.7,830.4 1219.7,829.4 1219.7,828.4 1219.7,827.4 1219.7,826.4 1219.7,825.4 1219.7,824.4 1219.7,823.4 1219.7,822.4 1219.7,821.4 1219.7,820.4 1219.7,819.4 1219.7,818.4 1219.7,817.4 1219.7,816.4 1219.7,815.4 1219.7,814.4 1219.7,813.4 1219.7,812.4 1219.7,811.4 1219.7,810.4 1219.7,809.4 1219.7,808.4 1219.7,807.4 1219.7,806.4 1219.7,805.4 1219.7,804.4 1219.7,803.4 1219.7,802.4 1219.7,801.4 1219.7,800.4 1219.7,799.4 1219.7,798.4 1219.7,797.4 1219.7,796.4 1219.7,795.4 1219.7,794.4 1219.7,793.4 1219.7,792.4 1219.7,791.4 1219.7,790.4 1219.7,789.4 1219.7,788.4 1219.7,787.4 1219.7,786.4 1219.7,785.4 1219.7,784.4 1219.7,783.4 1219.7,782.4 1219.7,781.4 1219.7,780.4 1219.7,779.4 1219.7,778.4 1219.7,777.4 1219.7,776.4 1219.7,775.4 1219.7,774.4 1219.7,773.4 1219.7,772.4 1219.7,771.4 1219.7,770.4 1219.7,769.4 1219.7,768.4 1219.7,767.4 1219.7,766.4 1219.7,765.4 1219.7,764.4 1219.7,763.4 1219.7,762.4 1219.7,761.4 1219.7,760.4 1219.7,759.4 1219.7,758.4 1219.7,757.4 1219.7,756.4 1219.7,755.4 1219.7,754.4 1219.7,753.4 1219.7,752.4 1219.7,751.4 1219.7,750.4 1219.7,749.4 1219.7,748.4 1219.7,747.4 1219.7,746.4 1219.7,745.4 1219.7,744.4 1219.7,743.4 1219.7,742.4 1219.7,741.4 1219.7,740.4 1219.7,739.4 1219.7,738.4 1219.7,737.4 1219.7,736.4 1219.7,735.4 1219.7,734.4 1219.7,733.4 1219.7,732.4 1219.7,731.4 1219.7,730.4 1219.7,729.4 1219.7,728.4 1219.7,727.4 1219.7,726.4 1219.7,725.4 1219.7,724.4 1219.7,723.4 1219.7,722.4 1219.7,721.4 1219.7,720.4 1219.7,719.4 1219.7,718.4 1219.7,717.4 1219.7,716.4 1219.7,715.4 1219.7,714.4 1219.7,713.4 1219.7,712.4 1219.7,711.4 1219.7,710.4 1219.7,709.4 1219.7,708.4 1219.7,707.4 1219.7,706.4 1219.7,705.4 1219.7,704.4 1219.7,703.4 1219.7,702.4 1219.7,701.4 1219.7,700.4 1219.7,699.4 1219.7,698.4 1219.7,697.4 1219.7,696.4 1219.7,695.4 1219.7,694.4 1219.7,693.4 1219.7,692.4 1219.7,691.4 1219.7,690.4 1219.7,689.4 1219.7,688.4 1219.7,687.4 1219.7,686.4 1219.7,685.4 1219.7,684.4 1219.7,683.4 1219.7,682.4 1219.7,681.4 1219.7,680.4 1219.7,679.4 1219.7,678.4 1219.7,677.4 1219.7,676.4 1219.7,675.4 1219.7,674.4 1219.7,673.4 1219.7,672.4 1219.7,671.4 1219.7,670.4 1219.7,669.4 1219.7,668.4 1219.7,667.4 1219.7,666.4 1219.7,665.4 1219.7,664.4 1219.7,663.4 1219.7,662.4 1219.7,661.4 1219.7,660.4 1219.7,659.4 1219.7,658.4 1219.7,657.4 1219.7,656.4 1219.7,655.4 1219.7,654.4 1219.7,653.4 1219.7,652.4 1219.7,651.4 1219.7,650.4 1219.7,649.4 1219.7,648.4 1219.7,647.4 1219.7,646.4 1219.7,645.4 1219.7,644.4 1219.7,643.4 1219.7,642.4 1219.7,641.4 1219.7,640.4 1219.7,639.4 1219.7,638.4 1219.7,637.4 1219.7,636.4 1219.7,635.4 1219.7,634.4 1219.7,633.4 1219.7,632.4 1219.7,631.4 1219.7,630.4 1219.7,629.4 1219.7,628.4 1219.7,627.4 1219.7,626.4 1219.7,625.4 1219.7,624.4 1219.7,623.4 1219.7,622.4 1219.7,621.4 1219.7,620.4 1219.7,619.4 1219.7,618.4 1219.7,617.4 1219.7,616.4 1219.7,615.4 1219.7,614.4 1219.7,613.4 1219.7,612.4 1219.7,611.4 1219.7,610.4 1219.7,609.4 1219.7,608.4 1219.7,607.4 1219.7,606.4 1219.7,605.4 1219.7,604.4 1219.7,603.4 1219.7,602.4 1219.7,601.4 1219.7,600.4 1219.7,599.4 1219.7,598.4 1219.7,597.4 1219.7,596.4 1219.7,595.4 1219.7,594.4 1219.7,593.4 1219.7,592.4 1219.7,591.4 1219.7,590.4 1219.7,589.4 1219.7,588.4 1219.7,587.4 1219.7,586.4 1219.7,585.4 1219.7,584.4 1219.7,583.4 1219.7,582.4 1219.7,581.4 1219.7,580.4 1219.7,579.4 1219.7,578.4 1219.7,577.4 1219.7,576.4 1219.7,575.4 1219.7,574.4 1219.7,573.4 1219.7,572.4 1219.7,571.4 1219.7,570.4 1219.7,569.4 1219.7,568.4 1219.7,567.4 1219.7,566.4 1219.7,565.4 1219.7,564.4 1219.7,563.4 1219.7,562.4 1219.7,561.4 1219.7,560.4 1219.7,559.4 1219.7,558.4 1219.7,557.4 1219.7,556.4 1219.7,555.4 1219.7,554.4 1219.7,553.4 1219.7,552.4 1219.7,551.4 1219.7,550.4 1219.7,549.4 1219.7,548.4 1219.7,547.4 1219.7,546.4 1219.7,545.4 1219.7,544.4 1219.7,543.4 1219.7,542.4 1219.7,541.4 1219.7,540.4 1219.7,539.4 1219.7,538.4 1219.7,537.4 1219.7,536.4 1219.7,535.4 1219.7,534.4 1219.7,533.4 1219.7,532.4 1219.7,531.4 1219.7,530.4 1219.7,529.4 1219.7,528.4 1219.7,527.4 1219.7,526.4 1219.7,525.4 1219.7,524.4 1219.7,523.4 1219.7,522.4 1219.7,521.4 1219.7,520.4 1219.7,519.4 1219.7,518.4 1219.7,517.4 1219.7,516.4 1219.7,515.4 1219.7,514.4 1219.7,513.4 1219.7,512.4 1219.7,511.4 1219.7,510.4 1219.7,509.4 1219.7,508.4 1219.7,507.4 1219.7,506.4 1219.7,505.4 1219.7,504.4 1219.7,503.4 1219.7,502.4 1219.7,501.4 1219.7,500.4 1219.7,499.4 1219.7,498.4 1219.7,497.4 1219.7,496.4 1219.7,495.4 1219.7,494.4 1219.7,493.4 1219.7,492.4 1219.7,491.4 1219.7,490.4 1219.7,489.4 1219.7,488.4 1219.7,487.4 1219.7,486.4 1219.7,485.4 1219.7,484.4 1219.7,483.4 1219.7,482.4 1219.7,481.4 1219.7,480.4 1219.7,479.4 1219.7,478.4 1219.7,477.4 1219.7,476.4 1219.7,475.4 1219.7,474.4 1219.7,473.4 1219.7,472.4 1219.7,471.4 1219.7,470.4 1219.7,469.4 1219.7,468.4 1219.7,467.4 1219.7,466.4 1219.7,465.4 1219.7,464.4 1219.7,463.4 1219.7,462.4 1219.7,461.4 1219.7,460.4 1219.7,459.4 1219.7,458.4 1219.7,457.4 1219.7,456.4 1219.7,455.4 1219.7,454.4 1219.7,453.4 1219.7,452.4 1219.7,451.4 1219.7,450.4 1219.7,449.4 1219.7,448.4 1219.7,447.4 1219.7,446.4 1219.7,445.4 1219.7,444.4 1219.7,443.4 1219.7,442.4 1219.7,441.4 1219.7,440.4 1219.7,439.4 1219.7,438.4 1219.7,437.4 1219.7,436.4 1219.7,435.4 1219.7,434.4 1219.7,433.4 1219.7,432.4 1219.7,431.4 1219.7,430.4 1219.7,429.4 1219.7,428.4 1219.7,427.4 1219.7,426.4 1219.7,425.4 1219.7,424.4 1219.7,423.4 1219.7,422.4 1219.7,421.4 1219.7,420.4 1219.7,419.4 1219.7,418.4 1219.7,417.4 1219.7,416.4 1219.7,415.4 1219.7,414.4 1219.7,413.4 1219.7,412.4 1219.7,411.4 1219.7,410.4 1219.7,409.4 1219.7,408.4 1219.7,407.4 1219.7,406.4 1219.7,405.4 1219.7,404.4 1219.7,403.4 1219.7,402.4 1219.7,401.4 1219.7,400.4 1219.7,399.4 1219.7,398.4 1219.7,397.4 1219.7,396.4 1219.7,395.4 1219.7,394.4 1219.7,393.4 1219.7,392.4 1219.7,391.4 1219.7,390.4 1219.7,389.4 1219.7,388.4 1219.7,387.4 1219.7,386.4 1219.7,385.4 1219.7,384.4 1219.7,383.4 1219.7,382.4 1219.7,381.4 1219.7,380.4 1219.7,379.4 1219.7,378.4 1219.7,377.4 1219.7,376.4 1219.7,375.4 1219.7,374.4 1219.7,373.4 1219.7,372.4 1219.7,371.4 1219.7,370.4 1219.7,369.4 1219.7,368.4 1219.7,367.4 1219.7,366.4 1219.7,365.4 1219.7,364.4 1219.7,363.4 1219.7,362.4 1219.7,361.4 1219.7,360.4 1219.7,359.4 1219.7,358.4 1219.7,357.4 1219.7,356.4 1219.7,355.4 1219.7,354.4 1219.7,353.4 1219.7,352.4 1219.7,351.4 1219.7,350.4 1219.7,349.4 1219.7,348.4 1219.7,347.4 1219.7,346.4 1219.7,345.4 1219.7,344.4 1219.7,343.4 1219.7,342.4 1219.7,341.4 1219.7,340.4 1219.7,339.4 1219.7,338.4 1219.7,337.4 1219.7,336.4 1219.7,335.4 1219.7,334.4 1219.7,333.4 1219.7,332.4 1219.7,331.4 1219.7,330.4 1219.7,329.4 1219.7,328.4 1219.7,327.4 1219.7,326.4 1219.7,325.4 1219.7,324.4 1219.7,323.4 1219.7,322.4 1219.7,321.4 1219.7,320.4 1219.7,319.4 1219.7,318.4 1219.7,317.4 1219.7,316.4 1219.7,315.4 1219.7,314.4 1219.7,313.4 1219.7,312.4 1219.7,311.4 1219.7,310.4 1219.7,309.4 1219.7,308.4 1219.7,307.4 1219.7,306.4 1219.7,305.4 1219.7,304.4 1219.7,303.4 1219.7,302.4 1219.7,301.4 1219.7,300.4 1219.7,299.4 1219.7,298.4 1219.7,297.4 1219.7,296.4 1219.7,295.4 1219.7,294.4 1219.7,293.4 1219.7,292.4 1219.7,291.4 1219.7,290.4 1219.7,289.4 1219.7,288.4 1219.7,287.4 1219.7,286.4 1219.7,285.4 1219.7,284.4 1219.7,283.4 1219.7,282.4 1219.7,281.4 1219.7,280.4 1219.7,279.4 1219.7,278.4 1219.7,277.4 1219.7,276.4 1219.7,275.4 1219.7,274.4 1219.7,273.4 1219.7,272.4 1219.7,271.4 1219.7,270.4 1219.7,269.4 1219.7,268.4 1219.7,267.4 1219.7,266.4 1219.7,265.4 1219.7,264.4 1219.7,263.4 1219.7,262.4 1219.7,261.4 1219.7,260.4 1219.7,259.4 1219.7,258.4 1219.7,257.4 1219.7,256.4 1219.7,255.4 1219.7,254.4 1219.7,253.4 1219.7,252.4 1219.7,251.4 1219.7,250.4 1219.7,249.4 1219.7,248.4 1219.7,247.4 1219.7,246.4 1219.7,245.4 1219.7,244.4 1219.7,243.4 1219.7,242.4 1219.7,241.4 1219.7,240.4 1219.7,239.4 1219.7,238.4 1219.7,237.4 1219.7,236.4 1219.7,235.4 1219.7,234.4 1219.7,233.4 1219.7,232.4 1219.7,231.4 1219.7,230.4 1219.7,229.4 1219.7,228.4 1219.7,227.4 1219.7,226.4 1219.7,225.4 1219.7,224.4 1219.7,223.4 1219.7,222.4 1219.7,221.4 1219.7,220.4 1219.7,219.4 1219.7,218.4 1219.7,217.4 1219.7,216.4 1219.7,215.4 1219.7,214.4 1219.7,213.4 1219.7,212.4 1219.7,211.4 1219.7,210.4 1219.7,209.4 1219.7,208.4 1219.7,207.4 1219.7,206.4 1219.7,205.4 1219.7,204.4 1219.7,203.4 1219.7,202.4 1219.7,201.4 1219.7,200.4 1219.7,199.4 1219.7,198.4 1219.7,197.4 1219.7,196.4 1219.7,195.4 1219.7,194.4 1219.7,193.4 1219.7,192.4Z" fill="#619CFF" stroke="#111" stroke-width="0.9" stroke-linejoin="round"/>
<path d="M1498.3,73.1 1498.3,76.1 1498.3,79.1 1498.3,82.1 1498.3,85.1 1498.2,88.1 1498.2,91.1 1498.2,94.1 1498.2,97.1 1498.1,100.1 1498.1,103.1 1498.1,106.1 1498,109.1 1498,112.1 1497.9,115.1 1497.8,118.1 1497.7,121.1 1497.6,124.1 1497.5,127.1 1497.3,130.1 1497.2,133.1 1497.1,136.1 1496.9,139.1 1496.8,142.1 1496.7,145.1 1496.6,148.1 1496.5,151.1 1496.4,154.1 1496.3,157.1 1496.2,160.1 1496.2,163.1 1496.2,166.1 1496.1,169.1 1496.1,172.1 1496,175.1 1496,178.1 1496,181.1 1496,184.1 1495.9,187.1 1495.9,190.1 1495.9,193.1 1495.9,196.1 1495.8,199.1 1495.8,202.1 1495.8,205.1 1495.8,208.1 1495.8,211.1 1495.8,214.1 1495.7,217.1 1495.7,220.1 1495.7,223.1 1495.7,226.1 1495.6,229.1 1495.6,232.1 1495.6,235.1 1495.6,238.1 1495.5,241.1 1495.5,244.1 1495.5,247.1 1495.4,250.1 1495.4,253.1 1495.4,256.1 1495.3,259.1 1495.3,262.1 1495.2,265.1 1495.2,268.1 1495.2,271.1 1495.1,274.1 1495.1,277.1 1495,280.1 1495,283.1 1494.9,286.1 1494.9,289.1 1494.8,292.1 1494.8,295.1 1494.7,298.1 1494.6,301.1 1494.6,304.1 1494.5,307.1 1494.5,310.1 1494.4,313.1 1494.3,316.1 1494.3,319.1 1494.2,322.1 1494.1,325.1 1494,328.1 1493.9,331.1 1493.8,334.1 1493.7,337.1 1493.6,340.1 1493.5,343.1 1493.3,346.1 1493.2,349.1 1493.1,352.1 1492.9,355.1 1492.8,358.1 1492.6,361.1 1492.4,364.1 1492.3,367.1 1492.1,370.1 1491.9,373.1 1491.7,376.1 1491.5,379.1 1491.3,382.1 1491.1,385.1 1490.9,388.1 1490.7,391.1 1490.5,394.1 1490.2,397.1 1490,400.1 1489.7,403.1 1489.4,406.1 1489.1,409.1 1488.8,412.1 1488.4,415.1 1488.1,418.1 1487.7,421.1 1487.3,424.1 1486.9,427.1 1486.6,430.1 1486.2,433.1 1485.8,436.1 1485.4,439.1 1485,442.1 1484.6,445.1 1484.2,448.1 1483.8,451.1 1483.4,454.1 1483,457.1 1482.7,460.1 1482.3,463.1 1482,466.1 1481.6,469.1 1481.2,472.1 1480.9,475.1 1480.5,478.1 1480.1,481.1 1479.7,484.1 1479.4,487.1 1479,490.1 1478.6,493.1 1478.3,496.1 1477.9,499.1 1477.6,502.1 1477.2,505.1 1476.9,508.1 1476.6,511.1 1476.3,514.1 1476,517.1 1475.7,520.1 1475.5,523.1 1475.2,526.1 1475,529.1 1474.7,532.1 1474.5,535.1 1474.3,538.1 1474.1,541.1 1473.9,544.1 1473.6,547.1 1473.4,550.1 1473.2,553.1 1473,556.1 1472.9,559.1 1472.7,562.1 1472.5,565.1 1472.3,568.1 1472.2,571.1 1472,574.1 1471.9,577.1 1471.8,580.1 1471.6,583.1 1471.5,586.1 1471.4,589.1 1471.3,592.1 1471.2,595.1 1471.2,598.1 1471.1,601.1 1471,604.1 1470.9,607.1 1470.8,610.1 1470.8,613.1 1470.7,616.1 1470.7,619.1 1470.7,622.1 1470.7,625.1 1470.7,628.1 1470.8,631.1 1470.9,634.1 1470.9,637.1 1471,640.1 1471.2,643.1 1471.3,646.1 1471.4,649.1 1471.6,652.1 1471.7,655.1 1471.9,658.1 1472.1,661.1 1472.3,664.1 1472.4,667.1 1472.6,670.1 1472.9,673.1 1473.2,676.1 1473.6,679.1 1474.1,682.1 1474.5,685.1 1475,688.1 1475.4,691.1 1475.8,694.1 1476.3,697.1 1476.6,700.1 1477,703.1 1477.2,706.1 1477.4,709.1 1477.6,712.1 1477.7,715.1 1477.9,718.1 1478,721.1 1478.2,724.1 1478.3,727.1 1478.4,730.1 1478.5,733.1 1478.6,736.1 1478.7,739.1 1478.8,742.1 1478.9,745.1 1478.9,748.1 1479,751.1 1479,754.1 1479,757.1 1479,760.1 1478.8,763.1 1478.6,766.1 1478.3,769.1 1478,772.1 1477.5,775.1 1477.1,778.1 1476.6,781.1 1476,784.1 1475.5,787.1 1474.9,790.1 1474.2,793.1 1473.4,796.1 1472.5,799.1 1471.4,802.1 1470.3,805.1 1469,808.1 1467.6,811.1 1466.2,814.1 1464.7,817.1 1463.2,820.1 1461.6,823.1 1459.8,826.1 1457.8,829.1 1455.5,832.1 1453.1,835.1 1450.6,838.1 1448,841.1 1445.4,844.1 1442.7,847.1 1440.1,850.1 1437.5,853.1 1435,856.1 1432.2,859.1 1429.3,862.1 1426.3,865.1 1423.4,868.1 1420.8,871.1 1418.6,874.1 1417,877.1 1415.9,880.1 1414.9,883.1 1413.9,886.1 1413.1,889.1 1412.5,892.1 1412.2,895.1 1412.1,898.1 1412.4,901.1 1413.1,904.1 1414,907.1 1415.1,910.1 1416.3,913.1 1418,916.1 1420.4,919.1 1423.4,922.1 1426.8,925.1 1428.5,926.5 1568.5,926.5 1570.2,925.1 1573.6,922.1 1576.6,919.1 1579,916.1 1580.7,913.1 1581.9,910.1 1583,907.1 1583.9,904.1 1584.6,901.1 1584.9,898.1 1584.8,895.1 1584.5,892.1 1583.9,889.1 1583.1,886.1 1582.1,883.1 1581.1,880.1 1580,877.1 1578.4,874.1 1576.2,871.1 1573.6,868.1 1570.7,865.1 1567.7,862.1 1564.8,859.1 1562,856.1 1559.5,853.1 1556.9,850.1 1554.3,847.1 1551.6,844.1 1549,841.1 1546.4,838.1 1543.9,835.1 1541.5,832.1 1539.2,829.1 1537.2,826.1 1535.4,823.1 1533.8,820.1 1532.3,817.1 1530.8,814.1 1529.4,811.1 1528,808.1 1526.7,805.1 1525.6,802.1 1524.5,799.1 1523.6,796.1 1522.8,793.1 1522.1,790.1 1521.5,787.1 1521,784.1 1520.4,781.1 1519.9,778.1 1519.5,775.1 1519,772.1 1518.7,769.1 1518.4,766.1 1518.2,763.1 1518,760.1 1518,757.1 1518,754.1 1518,751.1 1518.1,748.1 1518.1,745.1 1518.2,742.1 1518.3,739.1 1518.4,736.1 1518.5,733.1 1518.6,730.1 1518.7,727.1 1518.8,724.1 1519,721.1 1519.1,718.1 1519.3,715.1 1519.4,712.1 1519.6,709.1 1519.8,706.1 1520,703.1 1520.4,700.1 1520.7,697.1 1521.2,694.1 1521.6,691.1 1522,688.1 1522.5,685.1 1522.9,682.1 1523.4,679.1 1523.8,676.1 1524.1,673.1 1524.4,670.1 1524.6,667.1 1524.7,664.1 1524.9,661.1 1525.1,658.1 1525.3,655.1 1525.4,652.1 1525.6,649.1 1525.7,646.1 1525.8,643.1 1526,640.1 1526.1,637.1 1526.1,634.1 1526.2,631.1 1526.3,628.1 1526.3,625.1 1526.3,622.1 1526.3,619.1 1526.3,616.1 1526.2,613.1 1526.2,610.1 1526.1,607.1 1526,604.1 1525.9,601.1 1525.8,598.1 1525.8,595.1 1525.7,592.1 1525.6,589.1 1525.5,586.1 1525.4,583.1 1525.2,580.1 1525.1,577.1 1525,574.1 1524.8,571.1 1524.7,568.1 1524.5,565.1 1524.3,562.1 1524.1,559.1 1524,556.1 1523.8,553.1 1523.6,550.1 1523.4,547.1 1523.1,544.1 1522.9,541.1 1522.7,538.1 1522.5,535.1 1522.3,532.1 1522,529.1 1521.8,526.1 1521.5,523.1 1521.3,520.1 1521,517.1 1520.7,514.1 1520.4,511.1 1520.1,508.1 1519.8,505.1 1519.4,502.1 1519.1,499.1 1518.7,496.1 1518.4,493.1 1518,490.1 1517.6,487.1 1517.3,484.1 1516.9,481.1 1516.5,478.1 1516.1,475.1 1515.8,472.1 1515.4,469.1 1515,466.1 1514.7,463.1 1514.3,460.1 1514,457.1 1513.6,454.1 1513.2,451.1 1512.8,448.1 1512.4,445.1 1512,442.1 1511.6,439.1 1511.2,436.1 1510.8,433.1 1510.4,430.1 1510.1,427.1 1509.7,424.1 1509.3,421.1 1508.9,418.1 1508.6,415.1 1508.2,412.1 1507.9,409.1 1507.6,406.1 1507.3,403.1 1507,400.1 1506.8,397.1 1506.5,394.1 1506.3,391.1 1506.1,388.1 1505.9,385.1 1505.7,382.1 1505.5,379.1 1505.3,376.1 1505.1,373.1 1504.9,370.1 1504.7,367.1 1504.6,364.1 1504.4,361.1 1504.2,358.1 1504.1,355.1 1503.9,352.1 1503.8,349.1 1503.7,346.1 1503.5,343.1 1503.4,340.1 1503.3,337.1 1503.2,334.1 1503.1,331.1 1503,328.1 1502.9,325.1 1502.8,322.1 1502.7,319.1 1502.7,316.1 1502.6,313.1 1502.5,310.1 1502.5,307.1 1502.4,304.1 1502.4,301.1 1502.3,298.1 1502.2,295.1 1502.2,292.1 1502.1,289.1 1502.1,286.1 1502,283.1 1502,280.1 1501.9,277.1 1501.9,274.1 1501.8,271.1 1501.8,268.1 1501.8,265.1 1501.7,262.1 1501.7,259.1 1501.6,256.1 1501.6,253.1 1501.6,250.1 1501.5,247.1 1501.5,244.1 1501.5,241.1 1501.4,238.1 1501.4,235.1 1501.4,232.1 1501.4,229.1 1501.3,226.1 1501.3,223.1 1501.3,220.1 1501.3,217.1 1501.2,214.1 1501.2,211.1 1501.2,208.1 1501.2,205.1 1501.2,202.1 1501.2,199.1 1501.1,196.1 1501.1,193.1 1501.1,190.1 1501.1,187.1 1501,184.1 1501,181.1 1501,178.1 1501,175.1 1500.9,172.1 1500.9,169.1 1500.8,166.1 1500.8,163.1 1500.8,160.1 1500.7,157.1 1500.6,154.1 1500.5,151.1 1500.4,148.1 1500.3,145.1 1500.2,142.1 1500.1,139.1 1499.9,136.1 1499.8,133.1 1499.7,130.1 1499.5,127.1 1499.4,124.1 1499.3,121.1 1499.2,118.1 1499.1,115.1 1499,112.1 1499,109.1 1498.9,106.1 1498.9,103.1 1498.9,100.1 1498.8,97.1 1498.8,94.1 1498.8,91.1 1498.8,88.1 1498.7,85.1 1498.7,82.1 1498.7,79.1 1498.7,76.1 1498.7,73.1Z" fill="#F8766D" stroke="#111" stroke-width="0.9" stroke-linejoin="round"/>
<path d="M1689.9,78 1689.8,81 1689.8,84 1689.7,87 1689.7,90 1689.6,93 1689.6,96 1689.5,99 1689.5,102 1689.4,105 1689.4,108 1689.4,111 1689.3,114 1689.3,117 1689.2,120 1689.2,123 1689.1,126 1689.1,129 1689.1,132 1689,135 1689,138 1688.9,141 1688.9,144 1688.9,147 1688.8,150 1688.8,153 1688.8,156 1688.7,159 1688.7,162 1688.7,165 1688.6,168 1688.6,171 1688.6,174 1688.6,177 1688.6,180 1688.5,183 1688.5,186 1688.5,189 1688.5,192 1688.5,195 1688.4,198 1688.4,201 1688.4,204 1688.4,207 1688.4,210 1688.3,213 1688.3,216 1688.3,219 1688.3,222 1688.3,225 1688.2,228 1688.2,231 1688.2,234 1688.2,237 1688.1,240 1688.1,243 1688.1,246 1688,249 1688,252 1688,255 1687.9,258 1687.9,261 1687.8,264 1687.8,267 1687.7,270 1687.7,273 1687.6,276 1687.6,279 1687.5,282 1687.5,285 1687.4,288 1687.4,291 1687.3,294 1687.2,297 1687.2,300 1687.1,303 1687,306 1686.9,309 1686.9,312 1686.8,315 1686.7,318 1686.6,321 1686.5,324 1686.4,327 1686.3,330 1686.2,333 1686.1,336 1686,339 1685.8,342 1685.7,345 1685.5,348 1685.4,351 1685.2,354 1685,357 1684.8,360 1684.6,363 1684.5,366 1684.3,369 1684,372 1683.8,375 1683.6,378 1683.4,381 1683.2,384 1683,387 1682.8,390 1682.5,393 1682.3,396 1682.1,399 1681.8,402 1681.6,405 1681.3,408 1681,411 1680.7,414 1680.4,417 1680.1,420 1679.8,423 1679.5,426 1679.2,429 1678.9,432 1678.6,435 1678.2,438 1677.9,441 1677.6,444 1677.3,447 1677,450 1676.7,453 1676.4,456 1676.1,459 1675.8,462 1675.5,465 1675.3,468 1675,471 1674.7,474 1674.4,477 1674.1,480 1673.9,483 1673.6,486 1673.3,489 1673,492 1672.8,495 1672.5,498 1672.2,501 1672,504 1671.7,507 1671.5,510 1671.2,513 1670.9,516 1670.7,519 1670.4,522 1670.2,525 1669.9,528 1669.7,531 1669.4,534 1669.1,537 1668.9,540 1668.6,543 1668.3,546 1668,549 1667.7,552 1667.5,555 1667.2,558 1666.9,561 1666.7,564 1666.5,567 1666.2,570 1666,573 1665.8,576 1665.7,579 1665.5,582 1665.4,585 1665.3,588 1665.3,591 1665.2,594 1665.2,597 1665.1,600 1665.1,603 1665,606 1665,609 1664.9,612 1664.9,615 1664.9,618 1664.8,621 1664.8,624 1664.7,627 1664.7,630 1664.7,633 1664.7,636 1664.6,639 1664.6,642 1664.6,645 1664.6,648 1664.5,651 1664.5,654 1664.5,657 1664.5,660 1664.5,663 1664.5,666 1664.5,669 1664.6,672 1664.9,675 1665.3,678 1665.8,681 1666.3,684 1666.9,687 1667.5,690 1668,693 1668.6,696 1669.1,699 1669.5,702 1669.7,705 1669.9,708 1669.9,711 1670,714 1670,717 1670,720 1670,723 1670.1,726 1670.1,729 1670.1,732 1670.1,735 1670.2,738 1670.2,741 1670.2,744 1670.2,747 1670.2,750 1670.2,753 1670.2,756 1670.2,759 1670.1,762 1669.8,765 1669.5,768 1669.1,771 1668.6,774 1668.1,777 1667.5,780 1666.9,783 1666.2,786 1665.5,789 1664.8,792 1663.9,795 1662.9,798 1661.7,801 1660.4,804 1659,807 1657.5,810 1655.9,813 1654.3,816 1652.7,819 1651,822 1649.2,825 1647.3,828 1645.2,831 1643,834 1640.7,837 1638.3,840 1635.9,843 1633.5,846 1631,849 1628.6,852 1626.3,855 1623.8,858 1621.1,861 1618.4,864 1615.7,867 1613.1,870 1610.9,873 1609.2,876 1608,879 1607,882 1606,885 1605.2,888 1604.5,891 1604.1,894 1603.9,897 1604.1,900 1604.8,903 1605.8,906 1607.1,909 1608.7,912 1610.5,915 1613.5,918 1617.5,921 1622.2,924 1626.5,926.5 1754.5,926.5 1758.8,924 1763.5,921 1767.5,918 1770.5,915 1772.3,912 1773.9,909 1775.2,906 1776.2,903 1776.9,900 1777.1,897 1776.9,894 1776.5,891 1775.8,888 1775,885 1774,882 1773,879 1771.8,876 1770.1,873 1767.9,870 1765.3,867 1762.6,864 1759.9,861 1757.2,858 1754.7,855 1752.4,852 1750,849 1747.5,846 1745.1,843 1742.7,840 1740.3,837 1738,834 1735.8,831 1733.7,828 1731.8,825 1730,822 1728.3,819 1726.7,816 1725.1,813 1723.5,810 1722,807 1720.6,804 1719.3,801 1718.1,798 1717.1,795 1716.2,792 1715.5,789 1714.8,786 1714.1,783 1713.5,780 1712.9,777 1712.4,774 1711.9,771 1711.5,768 1711.2,765 1710.9,762 1710.8,759 1710.8,756 1710.8,753 1710.8,750 1710.8,747 1710.8,744 1710.8,741 1710.8,738 1710.9,735 1710.9,732 1710.9,729 1710.9,726 1711,723 1711,720 1711,717 1711,714 1711.1,711 1711.1,708 1711.3,705 1711.5,702 1711.9,699 1712.4,696 1713,693 1713.5,690 1714.1,687 1714.7,684 1715.2,681 1715.7,678 1716.1,675 1716.4,672 1716.5,669 1716.5,666 1716.5,663 1716.5,660 1716.5,657 1716.5,654 1716.5,651 1716.4,648 1716.4,645 1716.4,642 1716.4,639 1716.3,636 1716.3,633 1716.3,630 1716.3,627 1716.2,624 1716.2,621 1716.1,618 1716.1,615 1716.1,612 1716,609 1716,606 1715.9,603 1715.9,600 1715.8,597 1715.8,594 1715.7,591 1715.7,588 1715.6,585 1715.5,582 1715.3,579 1715.2,576 1715,573 1714.8,570 1714.5,567 1714.3,564 1714.1,561 1713.8,558 1713.5,555 1713.3,552 1713,549 1712.7,546 1712.4,543 1712.1,540 1711.9,537 1711.6,534 1711.3,531 1711.1,528 1710.8,525 1710.6,522 1710.3,519 1710.1,516 1709.8,513 1709.5,510 1709.3,507 1709,504 1708.8,501 1708.5,498 1708.2,495 1708,492 1707.7,489 1707.4,486 1707.1,483 1706.9,480 1706.6,477 1706.3,474 1706,471 1705.7,468 1705.5,465 1705.2,462 1704.9,459 1704.6,456 1704.3,453 1704,450 1703.7,447 1703.4,444 1703.1,441 1702.8,438 1702.4,435 1702.1,432 1701.8,429 1701.5,426 1701.2,423 1700.9,420 1700.6,417 1700.3,414 1700,411 1699.7,408 1699.4,405 1699.2,402 1698.9,399 1698.7,396 1698.5,393 1698.2,390 1698,387 1697.8,384 1697.6,381 1697.4,378 1697.2,375 1697,372 1696.7,369 1696.5,366 1696.4,363 1696.2,360 1696,357 1695.8,354 1695.6,351 1695.5,348 1695.3,345 1695.2,342 1695,339 1694.9,336 1694.8,333 1694.7,330 1694.6,327 1694.5,324 1694.4,321 1694.3,318 1694.2,315 1694.1,312 1694.1,309 1694,306 1693.9,303 1693.8,300 1693.8,297 1693.7,294 1693.6,291 1693.6,288 1693.5,285 1693.5,282 1693.4,279 1693.4,276 1693.3,273 1693.3,270 1693.2,267 1693.2,264 1693.1,261 1693.1,258 1693,255 1693,252 1693,249 1692.9,246 1692.9,243 1692.9,240 1692.8,237 1692.8,234 1692.8,231 1692.8,228 1692.7,225 1692.7,222 1692.7,219 1692.7,216 1692.7,213 1692.6,210 1692.6,207 1692.6,204 1692.6,201 1692.6,198 1692.5,195 1692.5,192 1692.5,189 1692.5,186 1692.5,183 1692.4,180 1692.4,177 1692.4,174 1692.4,171 1692.4,168 1692.3,165 1692.3,162 1692.3,159 1692.2,156 1692.2,153 1692.2,150 1692.1,147 1692.1,144 1692.1,141 1692,138 1692,135 1691.9,132 1691.9,129 1691.9,126 1691.8,123 1691.8,120 1691.7,117 1691.7,114 1691.6,111 1691.6,108 1691.6,105 1691.5,102 1691.5,99 1691.4,96 1691.4,93 1691.3,90 1691.3,87 1691.2,84 1691.2,81 1691.1,78Z" fill="#00BA38" stroke="#111" stroke-width="0.9" stroke-linejoin="round"/>
<path d="M1882.3,80.6 1882.3,83.6 1882.3,86.6 1882.3,89.6 1882.3,92.6 1882.3,95.6 1882.3,98.6 1882.3,101.6 1882.3,104.6 1882.3,107.6 1882.3,110.6 1882.3,113.6 1882.2,116.6 1882.2,119.6 1882.2,122.6 1882.2,125.6 1882.2,128.6 1882.2,131.6 1882.2,134.6 1882.2,137.6 1882.2,140.6 1882.2,143.6 1882.1,146.6 1882.1,149.6 1882.1,152.6 1882.1,155.6 1882.1,158.6 1882.1,161.6 1882,164.6 1882,167.6 1882,170.6 1882,173.6 1881.9,176.6 1881.9,179.6 1881.9,182.6 1881.8,185.6 1881.8,188.6 1881.7,191.6 1881.7,194.6 1881.6,197.6 1881.6,200.6 1881.6,203.6 1881.5,206.6 1881.5,209.6 1881.4,212.6 1881.4,215.6 1881.3,218.6 1881.3,221.6 1881.2,224.6 1881.2,227.6 1881.2,230.6 1881.1,233.6 1881.1,236.6 1881,239.6 1881,242.6 1881,245.6 1880.9,248.6 1880.9,251.6 1880.9,254.6 1880.9,257.6 1880.8,260.6 1880.8,263.6 1880.8,266.6 1880.7,269.6 1880.7,272.6 1880.7,275.6 1880.6,278.6 1880.6,281.6 1880.6,284.6 1880.6,287.6 1880.5,290.6 1880.5,293.6 1880.5,296.6 1880.5,299.6 1880.4,302.6 1880.4,305.6 1880.4,308.6 1880.4,311.6 1880.4,314.6 1880.3,317.6 1880.3,320.6 1880.3,323.6 1880.3,326.6 1880.3,329.6 1880.3,332.6 1880.3,335.6 1880.3,338.6 1880.2,341.6 1880.2,344.6 1880.2,347.6 1880.2,350.6 1880.2,353.6 1880.2,356.6 1880.2,359.6 1880.2,362.6 1880.2,365.6 1880.2,368.6 1880.2,371.6 1880.2,374.6 1880.2,377.6 1880.1,380.6 1880.1,383.6 1880.1,386.6 1880.1,389.6 1880.1,392.6 1880.1,395.6 1880.1,398.6 1880.1,401.6 1880.1,404.6 1880.1,407.6 1880,410.6 1880,413.6 1880,416.6 1880,419.6 1880,422.6 1880,425.6 1880,428.6 1879.9,431.6 1879.9,434.6 1879.9,437.6 1879.9,440.6 1879.9,443.6 1879.8,446.6 1879.8,449.6 1879.8,452.6 1879.7,455.6 1879.7,458.6 1879.7,461.6 1879.6,464.6 1879.6,467.6 1879.5,470.6 1879.4,473.6 1879.3,476.6 1879.1,479.6 1879,482.6 1878.8,485.6 1878.7,488.6 1878.5,491.6 1878.3,494.6 1878.1,497.6 1877.8,500.6 1877.4,503.6 1877,506.6 1876.6,509.6 1876.2,512.6 1875.8,515.6 1875.4,518.6 1874.9,521.6 1874.6,524.6 1874.2,527.6 1873.8,530.6 1873.4,533.6 1873,536.6 1872.6,539.6 1872.2,542.6 1871.8,545.6 1871.4,548.6 1870.9,551.6 1870.5,554.6 1870.1,557.6 1869.7,560.6 1869.3,563.6 1868.8,566.6 1868.4,569.6 1868,572.6 1867.5,575.6 1867.1,578.6 1866.7,581.6 1866.2,584.6 1865.8,587.6 1865.4,590.6 1865,593.6 1864.6,596.6 1864.2,599.6 1863.9,602.6 1863.5,605.6 1863.1,608.6 1862.7,611.6 1862.4,614.6 1862,617.6 1861.7,620.6 1861.3,623.6 1861,626.6 1860.6,629.6 1860.3,632.6 1859.9,635.6 1859.6,638.6 1859.3,641.6 1859,644.6 1858.7,647.6 1858.4,650.6 1858.1,653.6 1857.9,656.6 1857.6,659.6 1857.3,662.6 1857.2,665.6 1857.1,668.6 1857.2,671.6 1857.3,674.6 1857.6,677.6 1857.8,680.6 1858.2,683.6 1858.5,686.6 1858.8,689.6 1859.1,692.6 1859.4,695.6 1859.7,698.6 1860.1,701.6 1860.5,704.6 1860.8,707.6 1861.2,710.6 1861.6,713.6 1862,716.6 1862.4,719.6 1862.7,722.6 1863.1,725.6 1863.4,728.6 1863.8,731.6 1864.2,734.6 1864.6,737.6 1865,740.6 1865.4,743.6 1865.7,746.6 1866,749.6 1866.2,752.6 1866.3,755.6 1866.3,758.6 1866.3,761.6 1866.2,764.6 1866.1,767.6 1865.9,770.6 1865.7,773.6 1865.5,776.6 1865.3,779.6 1865,782.6 1864.7,785.6 1864.4,788.6 1864.1,791.6 1863.7,794.6 1863.1,797.6 1862.4,800.6 1861.7,803.6 1860.8,806.6 1859.8,809.6 1858.8,812.6 1857.7,815.6 1856.5,818.6 1855.3,821.6 1854,824.6 1852.4,827.6 1850.6,830.6 1848.6,833.6 1846.4,836.6 1844.1,839.6 1841.6,842.6 1839,845.6 1836.3,848.6 1833.6,851.6 1830.9,854.6 1827.9,857.6 1824.3,860.6 1820.4,863.6 1816.4,866.6 1812.5,869.6 1809,872.6 1806.1,875.6 1803.9,878.6 1801.9,881.6 1800,884.6 1798.3,887.6 1796.9,890.6 1796,893.6 1795.5,896.6 1795.7,899.6 1796.3,902.6 1797.4,905.6 1798.8,908.6 1800.4,911.6 1802.3,914.6 1805.4,917.6 1809.8,920.6 1815,923.6 1820.5,926.5 1944.5,926.5 1950,923.6 1955.2,920.6 1959.6,917.6 1962.7,914.6 1964.6,911.6 1966.2,908.6 1967.6,905.6 1968.7,902.6 1969.3,899.6 1969.5,896.6 1969,893.6 1968.1,890.6 1966.7,887.6 1965,884.6 1963.1,881.6 1961.1,878.6 1958.9,875.6 1956,872.6 1952.5,869.6 1948.6,866.6 1944.6,863.6 1940.7,860.6 1937.1,857.6 1934.1,854.6 1931.4,851.6 1928.7,848.6 1926,845.6 1923.4,842.6 1920.9,839.6 1918.6,836.6 1916.4,833.6 1914.4,830.6 1912.6,827.6 1911,824.6 1909.7,821.6 1908.5,818.6 1907.3,815.6 1906.2,812.6 1905.2,809.6 1904.2,806.6 1903.3,803.6 1902.6,800.6 1901.9,797.6 1901.3,794.6 1900.9,791.6 1900.6,788.6 1900.3,785.6 1900,782.6 1899.7,779.6 1899.5,776.6 1899.3,773.6 1899.1,770.6 1898.9,767.6 1898.8,764.6 1898.7,761.6 1898.7,758.6 1898.7,755.6 1898.8,752.6 1899,749.6 1899.3,746.6 1899.6,743.6 1900,740.6 1900.4,737.6 1900.8,734.6 1901.2,731.6 1901.6,728.6 1901.9,725.6 1902.3,722.6 1902.6,719.6 1903,716.6 1903.4,713.6 1903.8,710.6 1904.2,707.6 1904.5,704.6 1904.9,701.6 1905.3,698.6 1905.6,695.6 1905.9,692.6 1906.2,689.6 1906.5,686.6 1906.8,683.6 1907.2,680.6 1907.4,677.6 1907.7,674.6 1907.8,671.6 1907.9,668.6 1907.8,665.6 1907.7,662.6 1907.4,659.6 1907.1,656.6 1906.9,653.6 1906.6,650.6 1906.3,647.6 1906,644.6 1905.7,641.6 1905.4,638.6 1905.1,635.6 1904.7,632.6 1904.4,629.6 1904,626.6 1903.7,623.6 1903.3,620.6 1903,617.6 1902.6,614.6 1902.3,611.6 1901.9,608.6 1901.5,605.6 1901.1,602.6 1900.8,599.6 1900.4,596.6 1900,593.6 1899.6,590.6 1899.2,587.6 1898.8,584.6 1898.3,581.6 1897.9,578.6 1897.5,575.6 1897,572.6 1896.6,569.6 1896.2,566.6 1895.7,563.6 1895.3,560.6 1894.9,557.6 1894.5,554.6 1894.1,551.6 1893.6,548.6 1893.2,545.6 1892.8,542.6 1892.4,539.6 1892,536.6 1891.6,533.6 1891.2,530.6 1890.8,527.6 1890.4,524.6 1890.1,521.6 1889.6,518.6 1889.2,515.6 1888.8,512.6 1888.4,509.6 1888,506.6 1887.6,503.6 1887.2,500.6 1886.9,497.6 1886.7,494.6 1886.5,491.6 1886.3,488.6 1886.2,485.6 1886,482.6 1885.9,479.6 1885.7,476.6 1885.6,473.6 1885.5,470.6 1885.4,467.6 1885.4,464.6 1885.3,461.6 1885.3,458.6 1885.3,455.6 1885.2,452.6 1885.2,449.6 1885.2,446.6 1885.1,443.6 1885.1,440.6 1885.1,437.6 1885.1,434.6 1885.1,431.6 1885,428.6 1885,425.6 1885,422.6 1885,419.6 1885,416.6 1885,413.6 1885,410.6 1884.9,407.6 1884.9,404.6 1884.9,401.6 1884.9,398.6 1884.9,395.6 1884.9,392.6 1884.9,389.6 1884.9,386.6 1884.9,383.6 1884.9,380.6 1884.8,377.6 1884.8,374.6 1884.8,371.6 1884.8,368.6 1884.8,365.6 1884.8,362.6 1884.8,359.6 1884.8,356.6 1884.8,353.6 1884.8,350.6 1884.8,347.6 1884.8,344.6 1884.8,341.6 1884.7,338.6 1884.7,335.6 1884.7,332.6 1884.7,329.6 1884.7,326.6 1884.7,323.6 1884.7,320.6 1884.7,317.6 1884.6,314.6 1884.6,311.6 1884.6,308.6 1884.6,305.6 1884.6,302.6 1884.5,299.6 1884.5,296.6 1884.5,293.6 1884.5,290.6 1884.4,287.6 1884.4,284.6 1884.4,281.6 1884.4,278.6 1884.3,275.6 1884.3,272.6 1884.3,269.6 1884.2,266.6 1884.2,263.6 1884.2,260.6 1884.1,257.6 1884.1,254.6 1884.1,251.6 1884.1,248.6 1884,245.6 1884,242.6 1884,239.6 1883.9,236.6 1883.9,233.6 1883.8,230.6 1883.8,227.6 1883.8,224.6 1883.7,221.6 1883.7,218.6 1883.6,215.6 1883.6,212.6 1883.5,209.6 1883.5,206.6 1883.4,203.6 1883.4,200.6 1883.4,197.6 1883.3,194.6 1883.3,191.6 1883.2,188.6 1883.2,185.6 1883.1,182.6 1883.1,179.6 1883.1,176.6 1883,173.6 1883,170.6 1883,167.6 1883,164.6 1882.9,161.6 1882.9,158.6 1882.9,155.6 1882.9,152.6 1882.9,149.6 1882.9,146.6 1882.8,143.6 1882.8,140.6 1882.8,137.6 1882.8,134.6 1882.8,131.6 1882.8,128.6 1882.8,125.6 1882.8,122.6 1882.8,119.6 1882.8,116.6 1882.7,113.6 1882.7,110.6 1882.7,107.6 1882.7,104.6 1882.7,101.6 1882.7,98.6 1882.7,95.6 1882.7,92.6 1882.7,89.6 1882.7,86.6 1882.7,83.6 1882.7,80.6Z" fill="#619CFF" stroke="#111" stroke-width="0.9" stroke-linejoin="round"/>
<g transform="scale(0.5)"><path fill="none" stroke="none" marker-start="url(#d)" marker-mid="url(#d)" marker-end="url(#d)" d="M1623 146l-935 1 2277 1-1806 5-193 2-236 3-477 1 75 0 2963 0 65 0-3040 1 2804 0 144 0-2853 1 3219 0-655 3 557 0-2895 1-47 1 380 1 174 0 2097 1-2236 2 211 3 1648 0 447 1-167 1-214 1-2552 1 2944 1-2914 3 559 0-364 1 365 1-652 2 3023 0-3113 1 195 0 2726 0-2725 3 2606 0 210 1 218 0-3224 1 703 0 239 0 1811 0-2612 1 331 0-486 1 857 1-268 2-406 1 2838 0 203 0-3185 1 912 0-318 1-548 1 541 0-552 1 3418 1-2524 4 1767 0-2329 2 537 0 1875 2 598 0-2953 1 59 1 2779 0-469 1 52 2-2152 2 2468 1-2251 1 2317 1-2437 2-113 1 192 0-54 2-66 3-615 1 2555 1-62 2-1790 1-404 1 110 1 431 1 1639 1 119 0-2149 1 3027 0-453 1-403 1-2601 3 699 2-923 3 30 0 28 0 322 0 3154 0-809 1 186 1-2878 1 118 0 701 0 2098 0 241 1-2677 2 3047 0-2964 2-360 1-151 1 89 1 286 1 2408 0-1957 1-878 3 983 0-75 2 1852 0 436 0-2992 1 2586 0-162 1 472 0 179 0-2444 2 2011 1-1993 3-279 1 361 0-210 1 46 0 2624 0-2993 1 3162 1-3619 1 1020 0 2199 1-2638 1 2587 0 50 0-2724 1 2426 1-2758 2 414 0 2653 0-2822 3 3333 0-2957 3 197 1-13 1-161 3 2914 0-848 1 623 0 0 1-2492 1 2514 0-2455 1-1007 1 191 0 291 0-355 1 467 0 2573 0 517 0-634 1-2964 1 484 0 429 0-19 1 2689 0-854 2-2219 1-68 2 424 0 2171 0-3038 1 2720 0 833 0-2870 2 2366 1-15 2 329 0-2825 2 2532 0 10 0-2290 1-747 1 698 0 136 0 2556 0-3545 1 188 0 323 0 2931 0 247 2-2856 1 32 0 178 0 2095 0 145 0-463 1 296 0 118 0-3179 2 10 0 822 0 26 0-706 2 2476 0-919 1 1170 0-1954 1-155 1 2675 0-56 2-404 1-2957 1 429 0 145 0 2963 0-363 1-2483 1 2656 0-2794 1 1268 0 760 0 762 0-636 2 89 0-153 1 767 0-3242 1 346 1 407 0 27 0-55 1-936 1 798 0-572 1 685 0 2555 0-3488 1 2640 0 256 2-2848 1 3612 0-3673 4 774 0 204 1-170 3 159 0 43 0-825 2 714 0 122 0 1752 0 481 0 183 0-3269 1 2942 1-2343 1 241 0-1019 2 3166 0 529 0-3270 1 212 0 2536 0-3148 1 73 2 3397 0-697 1 353 0-2932 1 642 0 2032 0-2899 1 593 0-389 1 584 0 34 1-613 1 270 0 493 0-954 2 3444 0 124 0-2991 1 385 0 2158 0 108 0 10 0-3107 1 753 1 2176 0-2183 1 1999 0-2856 1 401 1-295 1 2177 0-1337 1 1784 0-2717 4 340 0-392 1 1 0 3285 0-3227 1 219 0 2404 0 658 0-3126 4 3236 0 236 0-2874 1 2787 0-3132 1-63 1 3286 0-3657 1-49 1 111 0 284 0 391 0 2172 2-2450 1-342 3 763 0-770 1 145 1 2570 0 493 1 126 0-3100 1 3300 0-2720 1-137 1 23 0 1955 0-2671 2 107 1 166 0 2267 0 299 0-2963 1 3643 0-921 1-2699 1 2881 0 15 0-2121 1-2 1 194 0 1801 0-2780 1 820 1 2886 0-97 1-3404 1 3439 0-3550 1 3531 0-3454 1 485 0 2529 0 435 0-185 1 39 0-3456 1 631 0 2089 0 539 0-2410 1 70 0 1831 0 410 0-2537 1 140 0-745 1 136 0 2484 0-2151 1-421 1 305 0 552 1-900 1 601 0 321 1 2733 0-3684 1 215 1 290 0 409 1 2518 0-2614 2 1858 0-2494 1 69 0 2423 0 169 0-2660 1 172 0 518 0 2276 0-434 1-2652 1 3495 0-3049 2 333 1-696 1 197 0 60 0 130 0 233 0 2669 1 28 0 29 0-3485 1 444 0-409 1 448 1 2943 0-1640 1 1711 0 75 0-3413 1-205 1 466 0-397 1 474 0 241 0-390 1 3258 0-847 1-2768 2 189 0 298 0 2420 0-2272 1 2005 0-1705 1 2257 0-2971 1 3289 0-3383 1 25 0 457 1 20 0 260 0 2017 0-2729 1 338 0 364 1 2671 1-3446 1 3155 0-2994 1 2843 0-3012 2 2256 0 448 0 770 0 70 0-569 1-2492 1 2656 0-2373 1 1920 0-2758 1 159 1 398 0 402 0-193 1 1929 0 420 0-2386 1-627 1 770 0 1964 0 423 1 395 0-975 1 717 0-3039 1 2852 1 222 0-2673 1-632 1-36 1 345 0 2291 0 949 1-3166 1 238 0-675 1 33 0 400 0 2341 0-2397 1 396 0-690 1 315 1 2665 0 498 0-3039 1 2425 0-2802 1 238 0 432 0 2643 0-3580 1 20 0 2809 0 422 0-2800 1 51 0 498 0-935 2 8 0 761 0 106 0 1981 0-103 1 628 0-2937 1-343 1 98 0 622 0 2854 0-3740 1 405 0 2928 0-3214 1 54 0 30 0 2594 0-2555 1 2942 0 128 0-3175 1 3086 0 375 0-3594 1 373 0 481 0 2650 0-275 1-567 2-2480 1 95 0 372 0-564 1 303 0 2855 0 231 0-2975 1 140 0-69 1 202 0 131 0-317 1 195 0 31 0-766 2 236 0 2990 0-2726 1-436 1-120 1 3141 0 31 0-2648 1 2312 0-2439 2 3327 0-3469 1 649 0-888 1 279 0 283 0 86 1 2152 0 16 0 494 0-2538 1 2307 0-3079 2 484 0 449 0 2315 0-3013 1 128 0 581 0 1746 0-2446 1 518 0 57 0 2884 0-3191 1 275 0-522 1 2656 0 180 0-2078 1 2020 0 585 0-3635 2 284 0 558 0 48 0 1857 0 441 0 298 0-215 1-3079 1 423 0 250 0 166 0 1892 0-2881 1 3472 0-434 1-2939 1 89 2 2444 0 284 0 107 1 32 0-2661 1 346 0 2493 0-180 1 66 1-3029 1 425 0 2399 0 203 0-3165 1 957 1 1888 0-2845 1 115 0 7 0 858 0 1964 0-2 1-2928 1 13 0 830 0 2476 0-2791 1 264 0 2160 0 192 0-3100 1 392 0 38 0 2330 0-2619 1 75 0-1 1 18 0 2425 0 57 0-2517 1 152 0 2264 2 63 0-2292 1 2859 0-3104 1 463 0 2107 0-2670 1 750 0 2005 0-2652 1 347 0 3100 0-3400 1 187 0 515 0 2553 0-3513 1 67 0 2627 0 108 0 933 0-2743 2 1727 0-1821 1 104 0-355 1-160 1 480 0 2315 0-2897 1 2802 0-446 1 63 0-2336 1 2766 0-3182 1 413 0 105 0-137 1 2262 0-2552 2 487 0 2602 0 44 0-349 1 56 0-2944 2 905 0-796 1 803 0 62 0 2356 0-3164 1 2628 0-2598 1 26 0 697 0 2267 0-2408 1 2873 0-2662 1 1844 0 69 0 623 0 133 0-3658 1 378 0 83 0 567 0-1043 1 121 0 74 0 3095 0-2911 1 2287 0-2079 2 2625 0-543 1 964 0-36 1 90 0-3623 1 175 0 2852 0 107 0-3032 1 695 0-16 1 2395 1 297 0-3490 1 40 0 761 0 7 0-666 1 329 0 342 0 158 0 1700 0 67 0-2322 1 2454 1 546 0-2985 2 3145 0-3175 1-401 1 142 0 3027 0-3140 1 188 0 145 0 2295 0 363 0 224 0 346 0-3224 1 122 0-493 1 600 0 2554 0 372 0 57 0-820 1-12 1 317 0 20 0 454 0-3401 1 316 0 291 0 2543 1-539 1-2370 1 203 0-371 1 3254 0-3284 1 243 0 54 0 285 0 2823 0-3255 1 3206 0-727 1-2056 1 2155 0 95 0-3024 1 22 0 231 0 2848 0 160 0-2813 1 53 0 456 0-230 1 75 0-456 1 20 0 2925 0-3130 1 344 0 2614 1-2120 1 1696 0 356 0 28 0 574 0-3542 1 505 0 148 0 2133 0 396 0-3287 1 341 0 167 1 2715 0 5 0-3221 1 110 0 95 0 775 0 2681 0-2739 1 1957 0-2673 1 2653 0-2409 2-261 1 539 0 50 0-788 1 889 0 1767 0 646 0-3291 1 3003 1-2986 1 511 0 444 0-256 1 8 0 2028 0-57 1 70 0 286 0 41 0 391 0-3513 1 449 0 348 0-160 1 268 0 2602 0-3522 1 3349 0 252 0-3389 1 699 0-45 1 1926 0 508 0-2536 1-725 1 39 0 62 0 2549 0 122 0 350 0 60 0-340 1 690 0-3471 1 855 0 1709 0-2022 1 2933 0-746 1 355 0-3140 1 210 0 2610 0 9 0 37 0 7 0 621 0-3531 1 3039 0-2677 1 2692 0-2876 1 85 0 326 0 31 0 248 0 2301 0 169 0-149 1-3180 1 505 0 488 0 2150 0 160 0 352 0-3421 1 1999 0 499 0 404 0-86 1 233 0-3107 1 762 0 9 1 2467 0 136 0-2765 1 48 0 101 0 64 0-958 1 421 0 331 0 1854 0 78 0 836 0-2795 1 1994 0 556 0 351 0 22 0 8 1-3226 1 559 0-856 1 815 0 2335 0-2547 1 12 0 2014 0-2228 1 247 0 86 0-931 1 272 0 655 0 1873 0 531 0 394 0-3172 1 2256 0-2183 1 2705 0 287 0 15 0-2596 1 1674 0-2081 1 320 0 5 0 2671 0-3064 1 443 0 6 0 2154 0-2559 1 40 0 234 0 2202 0-2868 1 60 0 328 0 2320 0 268 0 387 0-3426 1 72 0 326 0 34 0 22 0 327 0-113 1 2107 0 178 0-3070 1 236 0 129 1 2309 0 530 0 281 0-2476 1 6 0-884 1 17 0 745 0 1771 0-2282 1 2273 0 222 0 227 0-2272 1 2589 0-3404 1 952 0 2099 0 36 0 89 0 58 0-3288 1 522 0-529 1 795 0 2356 0 481 0-3460 1 2935 0 175 0 222 0-3504 1 73 0 603 0 194 0 2740 0-3322 1 393 0 2138 0 57 0 378 0 316 0-3397 1 666 0-409 1 73 0-392 1 675 0 235 0 2187 0 85 0 75 0-3348 1 118 0 772 0 2021 0-2859 1 820 0 2347 0 100 0-2329 1 1755 0 173 0 154 0-3089 1 269 0 155 0 99 0 162 0 243 0 47 0 2646 0-3578 1 176 0-141 1 3139 0-3219 1 585 0 196 0 75 0 1850 0 468 0 156 0 331 0-2766 1 1828 0 195 0 630 0-3541 1 109 0 334 0 362 0 2036 0 15 0 358 0 310 0-2758 1 130 0 68 0-836 1 153 0 779 0-1036 1 138 0 24 0 2979 0-2609 1 17 0 17 0 408 0 1786 0 517 0-3232 1 23 1 449 0 10 0 119 0 103 0 1549 0 507 0 141 0 116 0 52 0-3137 1 52 0 99 0 141 0 475 0 11 0 209 0-721 1 138 0 2842 0-2977 1 2565 0-2741 1 2972 0 190 0-3261 1 151 0 675 0 34 0-644 1 32 0 165 0 148 0 360 0 95 0 1782 0 272 0 28 0 200 0-3162 1 20 0 655 0 201 0 1676 0-2661 1 143 0 110 0 644 0 9 0 1953 0 569 0-2854 1 335 0 131 0 1728 0 561 0-3270 1 45 0 686 0 27 0 173 0 2695 0-3235 1 357 0 2428 0-2834 1 56 0 3124 0-3095 1 39 0-511 1 92 0 651 0 2810 0-2642 1 2238 0-2903 1 3206 0-3463 1 115 0 653 0 115 0 2003 0-2130 1 1923 0 71 0 11 0 132 0-219 1 95 0 695 0 10 0-2510 1 2113 0 435 0-3422 1 284 0 2659 0 218 0-2888 1 478 1 38 0 2170 0 469 0 80 0-3494 1 17 0 40 0 88 0 3034 0 2 0 35 0-2350 1 1753 0-2733 1 68 1 41 0 61 0 3025 0 114 0-2824 1 565 0 2445 0-3374 1 152 0 104 0 128 0 284 0 81 0 1863 0 46 0 141 0 180 0-2705 1 2332 0 19 0 562 0-2520 1 107 0 48 0 1837 0-2563 1 2841 0 3 0 159 0-2856 1 586 0 1330 0 498 0 662 0-2919 1 14 0 437 0 2250 0 378 0-3554 1 780 0 137 0 1694 0 65 0 577 0 1 0 38 0 371 0-999 1-2702 1 80 0 800 0 64 0 664 1 1144 0 380 0-2872 1 2600 0 58 0-2698 1 408 0 411 0 1789 0 414 0-462 1 70 0 314 0-2889 1 179 0 2666 0-395 1 347 0-2314 1 2506 0 304 0-3380 1 64 0 2555 0 360 0 461 0-3517 1 92 0 299 0 237 0 110 0 120 0 2127 0-3086 1 775 0 2529 0 307 0-3622 1 788 0 193 0 1892 0 228 0-3059 1 22 0 189 0 519 0 2118 0 793 0-3687 1 434 0 2362 0 75 0 562 0-3296 1 104 0 800 0 2291 0 384 0-3288 1 471 0 84 0 2215 0-3080 1 241 0 234 0 274 0 1883 0 740 0-3321 1 264 0 64 0 2234 0 346 0-2893 1 200 0 245 0 2092 0 216 0 193 0-3088 1 123 0 623 0 2119 0 195 0-2928 1 74 0 652 0 75 0 1798 0 895 0-937 1 105 0-2745 1 72 0 271 0 161 0 45 0 113 0-249 1 37 0 327 0 2182 0 56 0-2689 1 357 0 75 1 1804 0 23 0 84 0 933 0-3610 1 300 0 579 0 26 0 2282 0-3087 1 719 0 136 0 1736 0 0 0-1966 1 100 0 1788 0 181 0 248 0 76 0 306 0 16 0 13 0-3528 1 390 0 92 0 473 0 78 0 1707 0 27 0 83 0 427 0-3234 1 200 0 233 0 122 0 28 0 258 0 1850 0-2653 1 286 0 2332 0 402 0 15 0 51 0-2765 1 215 0 2152 0-2580 1 2644 0 377 0 229 0-3276 1 15 0 185 0 491 0 64 0 92 0 1742 0 11 0 100 0 709 0 95 0-3623 1 96 0 12 0 405 0 473 0 1777 0 10 0 324 0 443 0-3586 1 198 0 277 0 365 0 1855 0 58 0 382 0 50 0 7 0-3098 1 126 0 16 0 293 0 17 0 22 0 2126 1 174 0 57 0 335 0-3178 1 849 0 1786 0 23 0-2290 1 89 0 2368 0 396 0-3037 1 134 0 2396 0 635 0 224 0-3498 1 832 0 1827 0 433 0-2383 1 2 0 116 0 1789 0 374 0 57 0 392 0-3616 1 144 0 242 0 136 0 2150 0 90 0 870 0-3208 1 427 0 1900 0 72 0 642 0 114 0-2911 1 181 0 2 0 172 0 1923 0 157 0 141 0-3239 1 884 0 128 0 5 0 1667 0 966 0-3496 1 890 0 1690 0 43 0-2351 1 186 0 2080 0 152 0 2 0 115 0 293 0 26 0-2854 1 153 0 60 0 155 0 113 0 1882 0 174 0 113 0 87 0-3093 1 39 0 866 0 38 0 2077 0 253 0-3272 1 449 0 94 0 27 0 2154 0 455 0-3009 1 24 0 107 0 203 0 2155 0 67 0 249 0-2891 1 217 0 399 0 263 0 1722 0 393 0 200 0-3366 1 193 0 2514 0 7 0-2605 1 2645 0-2715 1 76 0 575 0 233 0 2223 0-2741 1 2533 0 807 0-3324 1 2522 0 244 0-2917 1 2583 0 85 0-2934 1 8 0 148 0 39 0 432 0 2330 0 7 0-2805 1 2715 0 30 0 254 0 92 0 114 0-2949 1 363 0 182 0 2189 0-2954 1 598 0 55 0 1885 0 514 0 447 0-3432 1 212 0 2429 0 6 0 725 0-3451 1 240 0 348 0 1960 0 213 0 218 0-2350 1 80 0 1910 0-2549 1 291 0 12 0 437 0 2236 0 351 0-3474 1 480 0 2392 0 654 0-3398 1 29 0 6 0 210 0 16 0 480 0 40 0 1714 0 339 0-2522 1 2285 0 739 0-3066 1 321 0 172 0 26 0 13 0 2259 0 369 0 79 0-3518 1 69 0 532 0 132 0-830 1 23 0 70 0 622 0 2297 0 85 0 112 0-3042 1 124 0 2262 0 65 0 507 0 33 0 72 0 256 0-3088 1 150 0 137 0 17 0 153 0 1732 0 426 0 136 0 63 0 344 0-3608 1 740 0 91 1 54 0 2008 0 524 0-3320 1 221 0 421 0 209 0 1781 0 32 0 417 0 50 0-3223 1 322 0 385 0 69 0-782 1 564 0 161 0 2051 0 63 0 4 0-693 1 541 0 38 0 141 0 646 0-741 1 69 0-2738 1 60 0 309 0 33 0 325 0 606 0 444 0 825 0-2698 1 102 0 491 0 285 0 1891 0 338 0 323 0 101 0-3529 1 50 0 739 0 75 0 1738 0 19 0 73 0 416 0 39 0 210 0-3281 1 95 0 2719 0 271 0-2614 1 2277 0-2808 1 276 0 219 0 270 0 167 0 2111 0 441 0-2920 1 7 0 173 0 1965 0 724 0 100 0-2816 1 74 0 1828 0 539 0 423 0-3384 1 512 0 219 0 1655 0 471 0 64 0 334 0-3170 1 134 0 2771 0 200 0-756 1 204 0 310 0 58 0 8 0 174 0-2864 1 224 0 77 0 1784 0 532 0 87 0-2785 1 281 0 70 0 1912 0 252 0 466 0-3511 1 141 0 39 0 57 0 628 0 115 0 1687 0 20 0 48 0-2726 1 127 0 11 0 659 0 28 0 1845 0 963 0-3466 1 337 0 130 0 25 0 2121 0 139 0 257 0-2994 1 325 0 118 0 209 0 106 0 12 0 1876 0 93 0 177 0 125 0 25 0 3 0-3241 1 63 0 59 0 63 0 250 0 489 0 2182 0 158 0 271 0-3419 1 56 0 308 0 377 0 1822 0 378 0 163 0 89 0 246 0-2992 1 13 0 244 0 46 0 2355 0-3198 1 163 0 739 0 1955 0 180 0 99 0 60 0 197 0-2916 1 70 0 194 0 220 0 25 0 1746 0 127 0 58 0 115 0 27 0 44 0 60 0 28 0-2959 1 171 0 444 0 18 0 1981 0 302 0-3159 1 367 0 90 0 455 0 43 0 39 0 1760 0 58 0 114 0 165 0-2939 1 52 0 432 0 214 0 2456 0-3280 1 94 0 363 0 74 0 225 0 98 0 2282 0 11 0-3114 1 432 0 2810 0-3303 1 822 0 104 0 1716 0 153 0 298 0 27 0 81 0 9 0 482 0-3708 1 230 0 202 0 163 0 2512 0 357 0 101 0 52 0-456 1 2 0 117 0 248 0 62 0-2707 1 2340 0 41 0-3045 1 582 0 32 0 70 0 41 0 1760 0 244 0 199 0 320 0-2986 1 127 0 225 0 1902 0 308 0 45 0 83 0 282 0 224 0-3622 1 24 0 63 0 347 0 127 0 2240 0 411 0 194 0-2706 1 82 0 82 0 1925 0 7 0-2725 1 32 0 228 0 109 0 71 0 2 0 16 0 232 0 23 0 197 0 1678 0 95 0 41 0 289 0 61 0-3200 1 49 0 520 0 177 0 58 0 186 0 1801 0 41 0 1 0 293 0 54 0-3073 1 74 0 42 0 2598 0-2436 1 144 0 2194 0 177 0 781 0-3671 1 423 0 194 0 2056 0 134 0 78 0 311 0 420 0-3249 1 257 0 17 0 187 0 2013 0 6 0 35 0 320 0-3166 1 114 0 11 0 185 0 58 0 464 0 1279 0 921 0 41 0 68 0-3214 1 240 0 411 0 117 0 161 0 1970 0 61 0-2943 1 117 0 89 0 161 0 459 0 1 0 79 0 1935 0 29 0 245 0-2991 1 106 0 224 0 123 0 180 0 42 0 73 0 1877 0 508 0 442 0-3266 1 2380 0 260 0 216 0 55 0 172 0 114 0 3 0-3594 1 106 0 244 0 423 0 78 0 45 0 2327 0-3280 1 68 0 44 0 495 0 2152 0 167 0 425 0-3080 1 236 0 2597 0 38 0 525 0-3585 1 78 0 16 0 214 0 434 0 8 0 1521 0 773 0 139 0 86 0 6 0-3060 1 475 0 1988 0 183 0 179 0 115 0 53 0-3101 1 271 0 27 0 191 0 125 0 37 0 21 0 49 0 100 0 1683 0 46 0 47 0 108 0 22 0 57 0 133 0 4 0 477 0-3517 1 843 0 1835 0 187 0 212 0-3052 1 29 0 29 0 665 0 121 0 50 0 1742 0 62 0 98 0 59 0 228 0 543 0-3189 1 12 0 327 0 1928 0 149 0-2906 1 120 0 2083 0 110 0-1768 1 1636 0 733 0 4 0 165 0 169 0-3200 1 163 0 320 0 109 0 80 0 2400 0 93 0-3258 1 486 0 333 0 68 0 27 0 1946 0 277 0 340 0-3346 1 16 0 743 0 574 0 1212 0 30 0 200 0 161 0 26 0 240 0-3316 1 573 0 21 0 351 0 1855 0 406 0 365 0-3491 1 54 0 770 0 1842 0 84 0 85 0 33 0 155 0 115 0 116 0-3319 1 470 0 48 0 100 0 192 0 2309 0 162 0-3026 1 484 0 275 0 1871 0 152 0 155 0 127 0 212 0-3540 1 259 0 19 0 162 0 121 0 355 0 45 0 13 0 1780 0 352 0-2503 1 188 0 33 0 2427 0 222 0 53 0-3434 1 170 0 114 0 273 0 173 0 2128 0 309 0 46 0-3109 1 8 0 371 0 78 0 2393 0 8 0 260 0-3332 1 176 0 328 0 2405 0 185 0 1 0 142 0 10 0 43 0-3144 1 745 0 1889 0 34 0 11 0 382 0-2674 1 315 0 1983 0-2820 1 56 0 214 0 122 0 82 0 39 0 276 0 114 0 139 0 1783 0 454 0 283 0-3518 1 322 0 39 0 232 0 244 0 2767 0 28 0-3508 1 235 0 124 0 2232 0 88 0 241 0-2946 1 83 0 11 0 35 0 303 0 451 0 1661 0 24 0 68 0 176 0 255 0 218 0-2992 1-455 1 85 0 342 0 112 0 64 0 400 0 1689 0 291 0 79 0 20 0 407 0 50 0 186 0-3699 1 2665 0 288 0 89 0 236 0 142 0 106 0 39 0 18 0-3370 1 28 0 2470 0 363 0 239 0 268 0-3566 1 107 0 1 0 121 0 115 0 2915 0 406 0-3669 1 619 0 158 0 34 0 28 0 2042 0 302 0-3133 1 183 0 321 0 29 0 45 0 131 0 1478 0 791 0 386 0 215 0-3547 1 432 0 134 0 148 0 1908 0 193 0 347 0-3236 1 19 0 110 0 86 0 20 0 566 0 1834 0 217 0 294 0-3176 1 212 0 561 0 251 0 1727 0 91 0 21 0 415 0-3018 1 301 0 96 0 366 0 1680 0 39 0 328 0 251 0 19 0-3316 1 2 0 609 0 138 0 35 0 4 0 189 0 8 0 1843 0 22 0 208 0 216 0-3216 1 196 0 579 0 116 0 1735 0 471 0 171 0 185 0-3431 1 318 0 32 0 513 0 41 0 1665 0 465 0 176 0-2853 1 186 0 1 0 313 0 1863 0 333 0 42 0 51 0-3117 1 20 0 26 0 52 0 298 0 2280 0 628 0 233 0-3652 1 220 0 566 0 169 0 1853 0 310 0 49 0 98 0-3283 1 78 0 298 0 385 0 2146 0 309 0 54 0-2487 1 82 0-583 1 135 0 1420 0 1124 0 205 0 346 0-3526 1 841 0 127 0 1729 0 199 0 205 0 64 0 146 0-3159 1 34 0 99 0 105 0 2350 0 132 0 7 0 253 0 231 0 223 0-3570 1 671 0 147 0 74 0 1799 0 500 0 18 0 247 0 214 0 16 0 28 0-3682 1 27 0 87 0 249 0 43 0 116 0 97 0 124 0 271 0 2008 0 66 0 180 0-3276 1 141 0 248 0 500 0 1763 0 67 0 21 0 93 0 311 0 52 0-3018 1 309 0 137 0 404 0 1692 0 201 0 326 0-2755 1 40 0 68 0 145 0 117 0 78 0 1750 0 92 0 67 0 253 0 200 0 3 0 268 0-3475 1 112 0 51 0 547 0 19 0 68 0 1832 0 14 0 72 0 369 0-2824 1 223 0 8 0 199 0 198 0 1874 0 178 0-3034 1 1 0 27 0 66 0 1 0 527 0 210 0 1 0 23 0 1884 0 38 0 126 0 21 0 217 0 27 0 528 0-3710 1 268 0 224 0 429 0 16 0 35 0 69 0 1907 0-2803 1 60 0 2446 0 500 0 180 0 144 0 43 0-3519 1 90 0 320 0 406 0 78 0 1819 0 464 0 142 0 112 0 195 0 15 0-3103 1 2153 0 357 0 90 0 117 0-2859 1 30 0 19 0 326 0 1907 0 104 0 261 0 140 0 141 0 176 0 201 0-3149 1 296 0 157 0 1646 0 264 0 201 0 55 0 80 0 366 0-3576 1 17 0 360 0 458 0 2202 0 42 0 30 0 40 0-3081 1 1 0 50 0 341 0 104 0 261 0 114 0 1711 0 50 0 7 0 352 0 64 0 122 0-3045 1 190 0 2714 0 76 0 84 0-3322 1 279 0 3 0 624 0 16 0 1751 0 164 0 275 0 62 0 147 0-3133 1 192 0 2496 0 214 0-3026 1 167 0 209 0 208 0 289 0 53 0 2451 0-3170 1 14 0 305 0 6 0 201 0 7 0 2113 0 301 0 258 0-3337 1 13 0 127 0 293 0 457 0 1758 0 181 0 104 0 214 0 236 0-3511 1 825 0 101 0 90 0 1818 0 15 0 478 0-3305 1 371 0 50 0 196 0 337 0 2082 0 29 0 440 0-3541 1 220 0 244 0 129 0 171 0 144 0 1800 0 24 0 421 0 84 0 13 0 346 0-3537 1 560 0 222 0 44 0 1914 0 99 0 237 0 537 0 0 0-3605 1 2 0 447 0 464 0 2073 0 103 0 0 0 193 0-3260 1 76 0 14 0 256 0 366 0 186 0 1766 0 158 0 44 0 106 0 246 0 23 0 305 0-3059 1 30 0 263 0 140 0 15 0 1906 0 138 0-2617 1 377 0 166 0 11 0 2265 0 45 0 1 0 394 0-3600 1 87 0 216 0 97 0 139 0 162 0 2 0 2248 0 7 0-3066 1 2 0 279 0 623 0-653 1 186 0 446 0 104 0 1718 0 8 0 51 0 458 0 325 0-3413 1 665 0 1924 0 532 0 255 0-278 1 71 0 16 0 7 0 149 0-3349 1 129 0 348 0 2218 0 522 0 166 0 150 0-3632 1 169 0 81 0 213 0 53 0 117 0 365 0 1717 0 78 0 381 0 1 0 365 0 69 0-3621 1 45 0 20 0 41 0 143 0 151 0 58 0 347 0 131 0 1977 0-2912 1 189 0 576 0 126 0 1794 0 488 0 41 0-3087 1 506 0 113 0 63 0 192 0 847 0 813 0 220 0 6 0 147 0 66 0 160 0 164 0-3399 1 408 0 206 0 233 0 166 0 1 0 2201 0 282 0-3501 1 198 0 382 0 146 0 225 0 32 0 1693 0 898 0 47 0-3640 1 114 0 301 0 8 0 496 0 4 0 1946 0 14 0 541 0 218 0 7 0-3520 1 257 0 74 0 33 0 145 0 194 0 124 0 668 0 1185 0 123 0 351 0 55 0-3302 1 230 0 137 0 334 0 175 0 18 0 1932 0 16 0 774 0 24 0-3444 1 264 0 120 0 380 0 16 0 1854 0 273 0 174 0-3237 1 80 0 6 0 48 0 24 0 247 0 146 0 176 0 174 0 39 0 18 0 1776 0 400 0-3080 1 11 0 64 0 197 0 45 0 52 0 114 0 202 0 147 0 1748 0 472 0 3 0 73 0-3073 1 45 0 30 0 722 0 11 0 787 0 883 0 253 0 3 0 523 0 15 0 29 0-3466 1 139 0 738 0 997 0 839 0 33 0 42 0 869 0-3686 1 483 0 8 0 154 0 2490 0-3100 1 132 0 46 0 56 0 223 0 22 0 18 0 375 0 23 0 1987 0 394 0 24 0 171 0 105 0-3523 1 759 0 123 0 1783 0 70 0 10 0 213 0 8 0 384 0-3327 1 20 0 687 0 147 0 1883 0 41 0 19 0-2870 1 44 0 194 0 210 0 67 0 11 0 215 0 1939 0 220 0 107 0 256 0 370 0-3599 1 102 0 334 0 1291 0 940 0 350 0 400 0 63 0 142 0-3648 1 125 0 231 0 182 0 399 0 1804 0 479 0 361 0-3613 1 377 0 2450 0 200 0 546 0-3398 1 14 0 37 0 28 0 174 0 7 0 86 0 28 0 386 0 98 0 1652 0 37 0 151 0 11 0 3 0 47 0 201 0-3046 1 61 0 42 0 8 0 2 0 155 0 131 0 34 0 25 0 207 0 162 0 1797 0 461 0 149 0-3182 1 358 0 292 0 175 0 1765 0 299 0 143 0 138 0 303 0-3622 1 58 0 332 0 4 0 128 0 477 0 18 0 1667 0 0 0 3 0 146 0-2749 1 141 0 367 0 8 0 179 0 184 0 2147 0 6 0 316 0 245 0-3683 1 147 0 86 0 561 0 217 0 1753 0 155 0 310 0-3215 1 17 0 401 0 217 0 241 0 2059 0 1 0 611 0 10 0-3458 1 126 0 183 0 77 0 62 0 188 0 1959 0 188 0 170 0 115 0 29 0 20 0 37 0-3273 1 41 0 595 0 362 0 1709 0 42 0 58 0 79 0 307 0 21 0 83 0 249 0 24 0 157 0-3222 1 263 0 30 0 2364 0 57 0 100 0 406 0-3651 1 154 0 147 0 1160 0 1166 0 202 0 60 0 120 0 203 0 227 0-3451 1 59 0 684 0 243 0 1676 0 472 0 40 0 224 0 268 0-3716 1 133 0 256 0 27 0 366 0 22 0 84 0 109 0 1693 0 226 0 10 0 162 0 496 0-3557 1 8 0 110 0 31 0 300 0 461 0 1825 0 64 0 53 0 71 0 115 0 22 0 69 0-3151 1 159 0 206 0 18 0 268 0 216 0 1830 0 6 0 10 0 214 0 151 0-2978 1 505 0 49 0 80 0 129 0 81 0 7 0 5 0 1863 0 39 0 60 0 206 0-3121 1 55 0 295 0 65 0 484 0 19 0 82 0 1696 0 177 0 2 0 59 0 383 0 177 0-3450 1 46 0 267 0 22 0 117 0 106 0 418 0 1670 0 134 0 224 0 82 0 114 0 4 0 19 0 241 0-3489 1 133 0 383 0 2398 0 104 0 52 0 50 0 2 0 315 0-3390 1 162 0 2 0 252 0 52 0 2206 0 34 0 43 0 886 0-3550 1 482 0 117 0 26 0 184 0 395 0 1288 0 26 0 184 0 415 0-3231 1 24 0 42 0 280 0 55 0 97 0 85 0 262 0 59 0 1832 0 94 0 311 0 501 0 19 0-3591 1 20 0 132 0 230 0 18 0 418 0 63 0 14 0 4 0 20 0 1662 0 81 0 90 0 290 0 20 0 95 0-3079 1 370 0 5 0 305 0 137 0 33 0 1659 0 201 0 197 0 494 0 61 0-3671 1 149 0 52 0 267 0 54 0 137 0 371 0 1784 0 287 0-2957 1 75 0 2 0 347 0 24 0 232 0 1852 0 53 0 944 0-3601 1 131 0 36 0 162 0 37 0 56 0 2228 0 160 0 318 0-3184 1 69 0 77 0 85 0 143 0 2400 0 42 0 255 0 144 0 60 0-3269 1 70 0 11 0 138 0 188 0 237 0 188 0 136 0 1726 0 217 0 271 0 26 0-3151 1 139 0 677 0 150 0 1782 0 659 0 34 0 110 0-3088 1 345 0 1803 0 128 0 49 0 185 0 137 0 355 0-3506 1 117 0 747 0 50 0 89 0 775 0 941 0 24 0 154 0 123 0 133 0 63 0 14 0 177 0 253 0-3537 1 63 0 34 0 315 0 289 0 120 0 1762 0 423 0 104 0-3257 1 20 0 23 0 180 0 132 0 2688 0 65 0 105 0 83 0 427 0-3746 1 133 0 21 0 308 0 70 0 356 0 100 0 1732 0 18 0 2 0 133 0 38 0 214 0 204 0 265 0-3594 1 122 0 64 0 49 0 2441 0 113 0 297 0 26 0 216 0 170 0 92 0-3469 1 22 0 142 0 100 0 201 0 392 0 45 0 1687 0 4 0 21 0 122 0 36 0 340 0 52 0-3131 1 68 0 34 0 294 0 240 0 221 0 29 0 1803 0 113 0 147 0 24 0 178 0 286 0-3553 1 106 0 21 0 46 0 47 0 12 0 226 0 2244 0 39 0 358 0 362 0 231 0-3725 1 2 0 58 0 10 0 382 0 45 0 158 0 208 0 147 0 520 0 1310 0 31 0 247 0 155 0 39 0 253 0-3552 1 45 0 181 0 192 0 8 0 463 0 7 0 94 0 12 0 41 0 1671 0 115 0 58 0 63 0 100 0-3033 1 53 0 158 0 35 0 159 0 88 0 318 0 64 0 2008 0 641 0-3524 1 123 0 244 0 270 0 89 0 72 0 1883 0 37 0 8 0 141 0 447 0 14 0 228 0 84 0-3244 1 24 0 44 0 130 0 35 0 126 0 1912 0 88 0 162 0 17 0 259 0 416 0-3603 1 395 0 69 0 270 0 70 0 199 0 1906 0-2948 1 239 0 536 0 27 0 176 0 64 0 1686 0 2 0 193 0 179 0 387 0 8 0-3227 1 169 0 387 0 61 0 165 0 1875 0 667 0 129 0-3658 1 716 0 2054 0 370 0 4 0 73 0 10 0 233 0-3122 1 51 0 55 0 55 0 310 0 190 0 544 0 1233 0 319 0 14 0 181 0 264 0-3574 1 46 0 364 0 180 0 38 0 215 0 149 0 1683 0 106 0 145 0 233 0 250 0 131 0 137 0-3614 1 106 0 1 0 30 0 801 0 1756 0 408 0 134 0 98 0 2 0-3313 1 49 0 337 0 97 0 66 0 169 0 96 0 58 0 2146 0 59 0 352 0 99 0-3632 1 12 0 10 0 407 0 442 0 24 0 1821 0 148 0 260 0 4 0-2975 1 14 0 409 0 11 0 2088 0 596 0 15 0-2746 1 110 0 159 0 76 0 154 0 1684 0 133 0 205 0 16 0 2 0 172 0-2513 1 288 0 1743 0 130 0 172 0 168 0 28 0 364 0-3588 1 323 0 59 0 18 0 6 0 121 0 260 0 32 0 26 0 23 0 1868 0 82 0 59 0 13 0 162 0 188 0-3161 1 25 0 89 0 308 0 26 0 2221 0 42 0 117 0-2383 1 333 0 84 0 44 0 1188 0 487 0 152 0 445 0 28 0 113 0 113 0 29 0-3564 1 119 0 84 0 551 0 37 0 17 0 49 0 2060 0 287 0 348 0 78 0-3679 1 150 0 722 0 23 0 54 0 23 0 20 0 26 0 1943 0 18 0 101 0 58 0 11 0 112 0 67 0 334 0 56 0 1 0-3639 1 130 0 87 0 146 0 242 0 103 0 33 0 103 0 1901 0 19 0 664 0 130 0 89 0-3707 1 61 0 541 0 257 0 1993 0 229 0 413 0 30 0 11 0-3524 1 41 0 148 0 275 0 40 0 465 0 44 0 1651 0 35 0 118 0 69 0 13 0 261 0 9 0 60 0 11 0 31 0 232 0 122 0-3526 1 94 0 69 0 213 0 328 0 25 0 22 0 1979 0 35 0 77 0 284 0 438 0 9 0-3691 1 52 0 374 0 100 0 306 0 97 0 1390 0 403 0 73 0-2232 1 84 0 7 0 2127 0 473 0 457 0-3337 1 553 0 1809 0 15 0 84 0 36 0 85 0 143 0 6 0 624 0-2851 1 27 0 28 0 1788 0 372 0 10 0 107 0 9 0 93 0-3328 1 72 0 121 0 240 0 102 0 234 0 75 0 1861 0 270 0 298 0 328 0-3546 1 25 0 723 0 20 0 236 0 1723 0 68 0 33 0 37 0 230 0 102 0 102 0 193 0 65 0-3548 1 82 0 252 0 395 0 135 0 81 0 7 0 1698 0 62 0 57 0 42 0 222 0 89 0 11 0 8 0 51 0 469 0-3671 1 76 0 116 0 317 0 265 0 1927 0 158 0 250 0 339 0 75 0-2681 1 1819 0 207 0 359 0-3257 1 281 0 95 0 419 0 171 0 38 0 412 0 1409 0 256 0 395 0-3367 1 11 0 129 0 207 0 489 0 40 0 57 0 1661 0 71 0 64 0 56 0 186 0 73 0 74 0 50 0 165 0-3460 1 495 0 26 0 95 0 7 0 330 0 108 0 1624 0 395 0 376 0 185 0-3608 1 29 0 203 0 206 0 29 0 59 0 82 0 2093 0 164 0 158 0 91 0 180 0 263 0-3518 1 554 0 390 0 43 0 1176 0 968 0 330 0-3304 1 54 0 246 0 23 0 62 0 315 0 1780 0 193 0 23 0-2706 1 50 0 732 0 1754 0 4 0 105 0 207 0 47 0 146 0 380 0 42 0-3564 1 316 0 205 0 183 0 117 0 49 0 70 0 672 0 1043 0 190 0 3 0 1 0 215 0 150 0 258 0 27 0-3221 1 33 0 63 0 166 0 237 0 2024 0 14 0 209 0 3 0-3129 1 3 0 38 0 145 0 2504 0 43 0 98 0 46 0 46 0 324 0 259 0 32 0 129 0 23 0-3511 1 40 0 648 0 1798 0 122 0 160 0 4 0 175 0 477 0-2675 1 53 0 5 0 1763 0 10 0 84 0 645 0 23 0 94 0 2 0 23 0 28 0-3645 1 73 0 146 0 134 0 23 0 549 0 2139 0 30 0 58 0 283 0-3361 1 114 0 296 0 117 0 1 0 132 0 24 0 14 0 94 0 86 0 17 0 1197 0 540 0 327 0 9 0 25 0 106 0 46 0-2606 1 19 0 163 0 36 0 36 0 142 0 1805 0 6 0 117 0 235 0 236 0-2643 1 2098 0 7 0 238 0 106 0 105 0 209 0 113 0-3628 1 340 0 157 0 306 0 32 0 2258 0 20 0 349 0-3213 1 138 0 359 0 113 0 4 0 139 0 1654 0 262 0 131 0 74 0 47 0 24 0-3191 1 29 0 391 0 563 0 1681 0 21 0 225 0 249 0 38 0 416 0 70 0-3735 1 30 0 143 0 2 0 21 0 209 0 125 0 407 0-894 1 478 0 36 0 50 0 76 0 124 0 90 0 131 0 1794 0 99 0 192 0 116 0 108 0-2946 1 125 0 101 0 47 0 143 0 1990 0 77 0 48 0 141 0 113 0 84 0 63 0 132 0-2900 1 1826 0 383 0 9 0 116 0 16 0 350 0-3252 1 154 0 130 0 143 0 9 0 206 0 274 0 1811 0 428 0 42 0 69 0 30 0-3076 1 16 0 400 0 155 0 73 0 78 0 44 0 2 0 1720 0 72 0 330 0 66 0 14 0 62 0 348 0 51 0-3431 1 282 0 91 0 18 0 247 0 107 0 1748 0 86 0 385 0-3151 1 151 0 9 0 47 0 14 0 260 0 299 0 96 0 26 0 123 0 2199 0 70 0-3305 1 10 0 36 0 40 0 49 0 77 0 396 0 194 0 188 0 1732 0 186 0 317 0 19 0 265 0 176 0-3534 1 376 0 65 0 290 0 1827 0 358 0 630 0-3657 1 125 0 279 0 18 0 32 0 46 0 120 0 109 0 97 0 1855 0 33 0 61 0 111 0 4 0 134 0 3 0 44 0 320 0 127 0-3461 1 385 0 100 0 276 0 1811 0 45 0 52 0 68 0 111 0 132 0 153 0 18 0 296 0 162 0-3621 1 133 0 150 0 61 0 44 0 17 0 126 0 229 0 36 0 31 0 1772 0 103 0 102 0 23 0 355 0 42 0 247 0 41 0 28 0 34 0-3671 1 281 0 263 0 398 0 88 0 10 0 1690 0 46 0 135 0 25 0 242 0 173 0 138 0 146 0-3383 1 224 0 60 0 110 0 191 0 97 0 59 0 1704 0 42 0 168 0 45 0 500 0 55 0 86 0 133 0-3556 1 396 0 76 0 116 0 70 0 812 0 1065 0 469 0 376 0 6 0 134 0-3606 1 6 0 50 0 6 0 329 0 108 0 6 0 80 0 256 0 1908 0 79 0 17 0 152 0 76 0 126 0 1 0 46 0-3326 1 751 0 27 0 1901 0 188 0 49 0 373 0 183 0-3478 1 28 0 132 0 355 0 18 0 132 0 94 0 131 0 1789 0 50 0 67 0 25 0 0 0 7 0 2 0 139 0 99 0 171 0 299 0 109 0-3625 1 85 0 403 0 266 0 97 0 89 0 1719 0 68 0 77 0 93 0 573 0 16 0-3462 1 144 0 36 0 263 0 139 0 207 0 51 0 20 0 114 0 2642 0 33 0-3654 1 47 0 146 0 339 0 192 0 218 0 64 0 1619 0 59 0 191 0 203 0 71 0 298 0 197 0-3626 1 53 0 52 0 14 0 307 0 71 0 234 0 149 0 91 0 1638 0 142 0 300 0 89 0 83 0 36 0 162 0 15 0-3477 1 145 0 43 0 356 0 8 0 52 0 253 0 138 0 1654 0 5 0 37 0 119 0 5 0 38 0 266 0 157 0 2 0 285 0-3588 1 2 0 171 0 100 0 713 0 26 0 1671 0 23 0 861 0 74 0-3648 1 151 0 233 0 24 0 123 0 285 0 7 0 51 0 23 0 141 0 5 0 1827 0 287 0 95 0 3 0 68 0 135 0 14 0 118 0 56 0-3617 1 227 0 545 0 44 0 12 0 3 0 73 0 68 0 36 0 1863 0 75 0 197 0 572 0-3730 1 33 0 73 0 10 0 15 0 151 0 339 0 153 0 1916 0 434 0 384 0 37 0 131 0 1 0-3618 1 419 0 532 0 22 0 1764 0 2 0 97 0 7 0 185 0 78 0 350 0 175 0-3260 1 20 0 37 0 444 0 8 0 1889 0 25 0 1 0 17 0 68 0 151 0 35 0 39 0 154 0 324 0 88 0-3314 1 14 0 163 0 318 0 83 0 1755 0 12 0 97 0 64 0 264 0 14 0 33 0 7 0 36 0 207 0 76 0 1 0 163 0 16 0-3746 1 67 0 92 0 224 0 61 0 137 0 101 0 189 0 64 0 68 0 53 0 1617 0 95 0 106 0 53 0 278 0 96 0 9 0 1 0 40 0-3168 1 278 0 37 0 2319 0 271 0 89 0 59 0 10 0 50 0 278 0-3435 1 63 0 278 0 148 0 424 0 1657 0 49 0 32 0 169 0 159 0 16 0 114 0 94 0 4 0-2954 1 160 0 95 0 240 0 117 0 3 0 1688 0 29 0 253 0 193 0 17 0 356 0 68 0 120 0-3696 1 22 0 150 0 653 0 204 0 1614 0 125 0 50 0 20 0 53 0 20 0 217 0 114 0 6 0 218 0 68 0 79 0-3644 1 64 0 93 0 11 0 351 0 158 0 2033 0 200 0 156 0 156 0 223 0 51 0 152 0 65 0 7 0 19 0 1 0-3659 1 15 0 84 0 863 0 2026 0 3 0 88 0 20 0 98 0 351 0-3642 1 45 0 120 0 70 0 220 0 12 0 38 0 29 0 49 0 64 0 146 0 51 0 92 0 74 0 2065 0 56 0 497 0 28 0-3476 1 32 0 16 0 37 0 628 0 123 0 11 0 1874 0 2 0 182 0 488 0 29 0-3538 1 72 0 139 0 135 0 579 0 1895 0 10 0 0 0 306 0 135 0-3308 1 75 0 7 0 46 0 330 0 186 0 337 0 64 0 1699 0 34 0 104 0 64 0 192 0 127 0 171 0 242 0-3406 1 159 0 138 0 179 0 237 0 1686 0 11 0 42 0 361 0 27 0 6 0 93 0 108 0 192 0 43 0 53 0 76 0-3550 1 83 0 440 0 197 0 1886 0 5 0 194 0 265 0 85 0 9 0 33 0 255 0-2554 1 1622 0 44 0 136 0 399 0 67 0 21 0 134 0 76 0 97 0 6 0 2 0-3614 1 72 0 74 0 52 0 9 0 278 0 387 0 1116 0 949 0 282 0 83 0 3 0 95 0 155 0 20 0-3368 1 250 0 497 0 40 0 1786 0 61 0 25 0 258 0 24 0 92 0 209 0 19 0 24 0 4 0 67 0-3559 1 108 0 15 0 16 0 43 0 251 0 530 0 1767 0 28 0 128 0 600 0-3289 1 6 0 40 0 343 0 2168 0 140 0 38 0 349 0 147 0 98 0 136 0-3633 1 62 0 118 0 271 0 254 0 15 0 65 0 25 0 18 0 1934 0 66 0 226 0 17 0 27 0 104 0 166 0 114 0 102 0-3488 1 22 0 243 0 23 0 86 0 33 0 268 0 1016 0 835 0 102 0 34 0 255 0 73 0 109 0 23 0 177 0 30 0 17 0 193 0-3707 1 47 0 6 0 180 0 143 0 2486 0 64 0 203 0 50 0 336 0 35 0-3308 1 5 0 38 0 657 0 123 0 1653 0 0 0 39 0 25 0 147 0 45 0 234 0 254 0 150 0-3345 1 2 0 107 0 88 0 476 0 40 0 380 0 1351 0 176 0 321 0 25 0 64 0 149 0 45 0 101 0 83 0 47 0-3489 1 49 0 281 0 327 0 99 0 1779 0 12 0 100 0 71 0 216 0 58 0 90 0 141 0 18 0 255 0-3572 1 48 0 41 0 246 0 370 0 64 0 1755 0 252 0 707 0 42 0-3581 1 71 0 59 0 36 0 22 0 546 0 35 0 54 0 1926 0 443 0 249 0-3119 1 425 0 170 0 1927 0 566 0 34 0 175 0-3666 1 96 0 344 0 315 0 51 0 2344 0 76 0 11 0 380 0-3570 1 146 0 4 0 188 0 32 0 57 0 4 0 40 0 11 0 2 0 231 0 37 0 77 0 63 0 1799 0 5 0 56 0 1 0 225 0 46 0 95 0 74 0 177 0 27 0 123 0 28 0-3642 1 76 0 62 0 67 0 35 0 174 0 5 0 251 0 332 0 1738 0 907 0-3587 1 356 0 7 0 104 0 78 0 161 0 117 0 8 0 107 0 1935 0 241 0 76 0 46 0 35 0 188 0 1 0 19 0 23 0 66 0-3365 1 141 0 174 0 279 0 1892 0 53 0 16 0 353 0 32 0 117 0 341 0-3388 1 15 0 93 0 56 0 121 0 28 0 11 0 2103 0 114 0 131 0 141 0 9 0 74 0 101 0 21 0 26 0 34 0 95 0 75 0 66 0 116 0 30 0-3447 1 123 0 248 0 15 0 150 0 45 0 1878 0 99 0 24 0 54 0 1 0 198 0 178 0 292 0-3558 1 145 0 456 0 128 0 137 0 37 0 73 0 1830 0 62 0 66 0 159 0 6 0 139 0 233 0 46 0 60 0 3 0 60 0 17 0-3663 1 172 0 246 0 184 0 348 0 23 0 2078 0 119 0 21 0 88 0 27 0 183 0 59 0 91 0 15 0-3671 1 57 0 55 0 63 0 7 0 15 0 33 0 39 0 248 0 98 0 4 0 401 0 4 0 1733 0 166 0 190 0 379 0 18 0 206 0-3655 1 109 0 10 0 14 0 49 0 264 0 250 0 1915 0 147 0 342 0 64 0 322 0 29 0-3549 1 365 0 143 0 46 0 167 0 103 0 149 0 19 0 7 0 446 0 1211 0 41 0 482 0 81 0 34 0 363 0 44 0-3666 1 30 0 370 0 139 0 327 0 36 0 73 0 1699 0 101 0 40 0 15 0 172 0 150 0 41 0 238 0 78 0 88 0-3613 1 569 0 201 0 215 0 1716 0 76 0 67 0 17 0 155 0 58 0 97 0 11 0 48 0 24 0 37 0 230 0-3500 1 130 0 291 0 29 0 2 0 40 0 58 0 129 0 51 0 97 0 1786 0 780 0 186 0 44 0-3479 1 149 0 43 0 7 0 2672 0 60 0 11 0 104 0 324 0 109 0-3596 1 0 0 65 0 94 0 135 0 25 0 97 0 233 0 125 0 1995 0 30 0 61 0 98 0 21 0 59 0 539 0 8 0-3650 1 154 0 54 0 152 0 120 0 42 0 304 0 1905 0 295 0 448 0 21 0-3513 1 75 0 29 0 17 0 63 0 27 0 204 0 116 0 10 0 273 0 14 0 127 0 1810 0 93 0 80 0 91 0 72 0 103 0 117 0 212 0 143 0-3319 1 8 0 87 0 77 0 57 0 66 0 96 0 183 0 1832 0 88 0 30 0 11 0 146 0 82 0 134 0 19 0 152 0 267 0-3687 1 72 0 776 0 21 0 159 0 1823 0 34 0 142 0 131 0-3135 1 156 0 206 0 78 0 70 0 5 0 400 0 1712 0 78 0 14 0 565 0 120 0 7 0 44 0-3491 1 85 0 80 0 278 0 4 0 164 0 22 0 403 0 1664 0 71 0 80 0 79 0 25 0 123 0 165 0 233 0 81 0 28 0-3411 1 41 0 20 0 21 0 263 0 109 0 137 0 114 0 99 0 56 0 1619 0 3 0 190 0 247 0 69 0 175 0 328 0 20 0-3622 1 21 0 32 0 365 0 303 0 10 0 252 0 1679 0 321 0 29 0 134 0 216 0 78 0 194 0 28 0-3705 1 230 0 19 0 1 0 86 0 253 0 326 0 1732 0 785 0 14 0 79 0 110 0 33 0-3580 1 360 0 8 0 150 0 284 0 11 0 124 0 2011 0 75 0 87 0 250 0 203 0 31 0-3256 1 154 0 51 0 154 0 1929 0 6 0 599 0 156 0 48 0 128 0-3644 1 111 0 130 0 243 0 2373 0 13 0 11 0 42 0 181 0 159 0 145 0 32 0-3376 1 79 0 193 0 64 0 59 0 2165 0 50 0 10 0 76 0 414 0 5 0 18 0 82 0 346 0-3540 1 79 0 180 0 78 0 396 0 70 0 118 0 1859 0 190 0 164 0 178 0 53 0 20 0 45 0 167 0-3513 1 371 0 309 0 50 0 69 0 1748 0 92 0 405 0-3110 1 117 0 201 0 4 0 189 0 20 0 119 0 1893 0 68 0 42 0 64 0 82 0 0 0 119 0 237 0 5 0-3227 1 142 0 456 0 140 0 1873 0 10 0 369 0 81 0 0 0 172 0 211 0 119 0-3633 1 13 0 201 0 11 0 203 0 166 0 223 0 6 0 179 0 6 0 1130 0 745 0 285 0 71 0 32 0 19 0 6 0 42 0 210 0 22 0-3575 1 88 0 86 0 22 0 42 0 2 0 4 0 309 0 336 0 60 0 99 0 1688 0 316 0 252 0 10 0 239 0-3411 1 335 0 69 0 502 0 1608 0 35 0 217 0 32 0 148 0 35 0 3 0 110 0 43 0 46 0 109 0 86 0 63 0 53 0-3595 1 212 0 110 0 2443 0 21 0 17 0 38 0 52 0 112 0 33 0 27 0 54 0 2 0 29 0-2976 1 203 0 78 0 13 0 440 0 1709 0 219 0 268 0 129 0 317 0 109 0-3691 1 63 0 5 0 398 0 90 0 177 0 84 0 182 0 1651 0 38 0 9 0 82 0 108 0 30 0 369 0 30 0 102 0 251 0 28 0-3593 1 144 0 19 0 115 0 122 0 91 0 12 0 2040 0 171 0 2 0 92 0 20 0 133 0 173 0 384 0 14 0-3589 1 10 0 418 0 343 0 129 0 74 0 4 0 1627 0 413 0 5 0 41 0 113 0 62 0 329 0 52 0 20 0-3599 1 14 0 52 0 81 0 31 0 118 0 141 0 64 0 291 0 1779 0 263 0 270 0 14 0 57 0 230 0 151 0 1 0-3377 1 159 0 94 0 93 0 13 0 9 0 183 0 14 0 19 0 16 0 76 0 1739 0 5 0 512 0 20 0 367 0 37 0 15 0 3 0 27 0-3675 1 7 0 8 0 6 0 160 0 197 0 189 0 179 0 78 0 35 0 1835 0 175 0 40 0 261 0 284 0-3380 1 22 0 40 0 36 0 31 0 15 0 223 0 174 0 306 0 49 0 13 0 47 0 1711 0 73 0 55 0 56 0 305 0 64 0 40 0 95 0 36 0 119 0 93 0-3683 1 78 0 5 0 117 0 25 0 34 0 115 0 71 0 310 0 150 0 1840 0 35 0 12 0 102 0 723 0 6 0-3639 1 56 0 60 0 32 0 261 0 149 0 227 0 6 0 34 0 44 0 140 0 1678 0 251 0 3 0 6 0 116 0 116 0 77 0 233 0 91 0-3433 1 4 0 11 0 6 0 16 0 252 0 17 0 108 0 17 0 13 0 17 0 7 0 7 0 15 0 29 0 174 0 11 0 2012 0 43 0 153 0 55 0 345 0 92 0 54 0 86 0-3650 1 95 0 14 0 78 0 59 0 317 0 273 0 28 0 2 0 28 0 1920 0 51 0 213 0 50 0 109 0 278 0 146 0-3686 1 47 0 60 0 148 0 155 0 33 0 109 0 81 0 404 0 1850 0 57 0 104 0 128 0 30 0 367 0 9 0 55 0-3649 1 147 0 137 0 113 0 2327 0 160 0 80 0 110 0 163 0 88 0 235 0-3521 1 38 0 155 0 173 0 56 0 12 0 21 0 1 0 89 0 351 0 1924 0 92 0 348 0 38 0 264 0-3320 1 137 0 226 0 223 0 8 0 51 0 73 0 5 0 1122 0 569 0 83 0 47 0 80 0 50 0 119 0 55 0 330 0 98 0-3500 1 67 0 162 0 362 0 256 0 1847 0 130 0 90 0 119 0 115 0 75 0 321 0 93 0-3562 1 335 0 0 0 115 0 78 0 160 0 54 0 47 0 54 0 19 0 27 0 1 0 22 0 1633 0 14 0 68 0 53 0 298 0 186 0 33 0 135 0 15 0 150 0-3561 1 201 0 107 0 100 0 84 0 81 0 28 0 211 0 1 0 96 0 18 0 39 0 1816 0 68 0 10 0 39 0 140 0 135 0 194 0 162 0 8 0 92 0-3651 1 59 0 173 0 505 0 93 0 35 0 92 0 1791 0 18 0 5 0 450 0 290 0 3 0 85 0 25 0-3426 1 293 0 51 0 188 0 211 0 1863 0 108 0 0 0 192 0 16 0 70 0 96 0 250 0 72 0 1 0 62 0 8 0-3487 1 284 0 97 0 156 0 13 0 104 0 62 0 1743 0 37 0 180 0 35 0 635 0 141 0-3581 1 15 0 2 0 8 0 296 0 329 0 2169 0 348 0 161 0-3435 1 198 0 15 0 165 0 11 0 124 0 290 0 13 0 121 0 37 0 1663 0 72 0 66 0 153 0 250 0 39 0 19 0 227 0-3286 1 311 0 125 0 182 0 72 0 78 0 1902 0 23 0 16 0 148 0 135 0 37 0-3216 1 22 0 39 0 74 0 130 0 140 0 8 0 38 0 453 0 72 0 1693 0 93 0 54 0 38 0 24 0 22 0 189 0 88 0 133 0 167 0 45 0 87 0 8 0-3633 1 124 0 31 0 240 0 97 0 17 0 38 0 254 0 87 0 13 0 81 0 350 0 1391 0 49 0 59 0 7 0 229 0 137 0 56 0 316 0 134 0 4 0-3728 1 33 0 765 0 143 0 60 0 1922 0 5 0 324 0 210 0 52 0 189 0 30 0-3659 1 109 0 112 0 154 0 23 0 360 0 160 0 0 0 69 0 1674 0 91 0 93 0 300 0 114 0 208 0 49 0 104 0 49 0-3670 1 75 0 143 0 277 0 365 0 1820 0 82 0 131 0 257 0 292 0 169 0 5 0-3622 1 9 0 377 0 204 0 206 0 1934 0 417 0 18 0 65 0 191 0 129 0 56 0 27 0-3693 1 76 0 80 0 37 0 23 0 12 0 268 0 81 0 1 0 188 0 137 0 1784 0 546 0 83 0 24 0 270 0 33 0-3597 1 37 0 118 0 204 0 3 0 119 0 115 0 211 0 200 0 1739 0 28 0 28 0 23 0 71 0 132 0 257 0 306 0-3544 1 64 0 107 0 244 0 47 0 203 0 22 0 1953 0 165 0 156 0 174 0 55 0 13 0 146 0 38 0 50 0 79 0 26 0 88 0-3730 1 15 0 187 0 198 0 47 0 47 0 73 0 368 0 8 0 15 0 1871 0 307 0 55 0 262 0 278 0-3329 1 413 0 33 0 44 0 46 0 42 0 1896 0 55 0 282 0 57 0 34 0 190 0 220 0-3558 1 2 0 22 0 20 0 284 0 34 0 57 0 12 0 28 0 46 0 9 0 106 0 226 0 1917 0 225 0 24 0 64 0 79 0 150 0 49 0 123 0 32 0 3 0 40 0 17 0-3660 1 25 0 15 0 20 0 15 0 89 0 154 0 7 0 27 0 366 0 29 0 22 0 59 0 18 0 99 0 1691 0 73 0 142 0 322 0 78 0 35 0 280 0-3464 1 52 0 202 0 15 0 167 0 11 0 347 0 10 0 510 0 1638 0 20 0 23 0 144 0 1 0 42 0 4 0 87 0 8 0 238 0-3572 1 51 0 53 0 192 0 79 0 4 0 1 0 20 0 300 0 91 0 47 0 8 0 2 0 6 0 1773 0 66 0 29 0 43 0 40 0 193 0 244 0 277 0-3353 1 17 0 331 0 151 0 21 0 193 0 41 0 1832 0 356 0 217 0-3335 1 369 0 24 0 144 0 241 0 27 0 2046 0 184 0 47 0 37 0 14 0 57 0 152 0 57 0 50 0 166 0 23 0-3639 1 72 0 25 0 212 0 213 0 17 0 159 0 250 0 1771 0 48 0 75 0 115 0 76 0 119 0 10 0 79 0 118 0 179 0 10 0-3421 1 20 0 5 0 30 0 102 0 70 0 190 0 32 0 136 0 2052 0 23 0 230 0 128 0 8 0 3 0 244 0 30 0 67 0 15 0 90 0 16 0-3668 1 91 0 499 0 267 0 26 0 1897 0 385 0 56 0 49 0 153 0 149 0 12 0 56 0 11 0 29 0-3567 1 80 0 142 0 10 0 257 0 109 0 114 0 136 0 1697 0 51 0 11 0 5 0 67 0 331 0 84 0 212 0 39 0 24 0 91 0 112 0-3728 1 385 0 160 0 77 0 10 0 155 0 163 0 1766 0 169 0 171 0 256 0 413 0-3492 1 317 0 117 0 142 0 97 0 81 0 1673 0 184 0 84 0 35 0 98 0 13 0 22 0 7 0 22 0 36 0 137 0 334 0-3618 1 30 0 332 0 72 0 83 0 19 0 271 0 28 0 172 0 24 0 1654 0 26 0 903 0-3644 1 20 0 49 0 33 0 23 0 54 0 51 0 23 0 33 0 284 0 94 0 216 0 37 0 1794 0 208 0 569 0-3477 1 168 0 47 0 18 0 240 0 51 0 37 0 401 0 51 0 40 0 1757 0 19 0 24 0 79 0 145 0 16 0 131 0 112 0 373 0 14 0-3233 1 55 0 28 0 28 0 13 0 6 0 24 0 28 0 141 0 211 0 2430 0 78 0 3 0 107 0 73 0-3724 1 27 0 53 0 99 0 251 0 155 0 91 0 196 0 23 0 1811 0 34 0 18 0 145 0 47 0 134 0 47 0 34 0 26 0 25 0 18 0 51 0 456 0-2812 1 80 0 1667 0 6 0 256 0 148 0 34 0 36 0 411 0 46 0 121 0-3718 1 38 0 86 0 54 0 41 0 282 0 24 0 40 0 191 0 64 0 29 0 70 0 2183 0 21 0 14 0 53 0 18 0 100 0 336 0 72 0-3676 1 12 0 152 0 378 0 199 0 39 0 49 0 21 0 2 0 13 0 22 0 672 0 1217 0 140 0 152 0 24 0 34 0 54 0 241 0 190 0-3658 1 139 0 43 0 273 0 46 0 6 0 33 0 23 0 82 0 150 0 34 0 56 0 120 0 4 0 1815 0 75 0 337 0 3 0 297 0 18 0 152 0-3703 1 113 0 37 0 68 0 376 0 218 0 24 0 27 0 77 0 1814 0 309 0 39 0 197 0 274 0-3567 1 11 0 113 0 11 0 72 0 32 0 162 0 132 0 223 0 184 0 1740 0 146 0 230 0 75 0 142 0 306 0 21 0 82 0-3319 1 134 0 335 0 10 0 22 0 34 0 16 0 2017 0 174 0 9 0 202 0 136 0-3447 1 1 0 5 0 1 0 239 0 135 0 0 0 60 0 38 0 328 0 34 0 129 0 5 0 56 0 1748 0 19 0 47 0 43 0 36 0 135 0 248 0 14 0 157 0 131 0 26 0 71 0-3732 1 233 0 40 0 232 0 33 0 111 0 367 0 1743 0 77 0 15 0 19 0 11 0 243 0 40 0 106 0 47 0 165 0 142 0 3 0 57 0 9 0 22 0 10 0-3581 1 397 0 81 0 51 0 105 0 209 0 53 0 16 0 1654 0 187 0 641 0-3450 1 62 0 24 0 128 0 80 0 74 0 14 0 101 0 99 0 9 0 2247 0 266 0 310 0 110 0-3389 1 438 0 21 0 196 0 9 0 169 0 1810 0 259 0 10 0 83 0 38 0 79 0 210 0-3426 1 159 0 148 0 117 0 5 0 29 0 97 0 124 0 162 0 21 0 67 0 1660 0 367 0 10 0 178 0 435 0-3630 1 132 0 30 0 55 0 106 0 418 0 43 0 100 0 41 0 72 0 1703 0 63 0 142 0 4 0 103 0 27 0 103 0 489 0 11 0-3626 1 37 0 88 0 36 0 195 0 79 0 6 0 150 0 280 0 6 0 5 0 15 0 83 0 1681 0 13 0 18 0 75 0 53 0 205 0 349 0 175 0 23 0 53 0-3540 1 348 0 26 0 19 0 284 0 6 0 30 0 1810 0 27 0 73 0 6 0 13 0 57 0 58 0 137 0 222 0 5 0 217 0 186 0-3636 1 90 0 303 0 57 0 462 0 31 0 11 0 43 0 1622 0 387 0 2 0 62 0 64 0 479 0-3670 1 148 0 1 0 4 0 44 0 247 0 23 0 356 0 95 0 1968 0 6 0 56 0 700 0 75 0 21 0-3739 1 76 0 578 0 132 0 191 0 20 0 1696 0 48 0 17 0 7 0 76 0 101 0 295 0 104 0 241 0 8 0 102 0 48 0-3734 1 27 0 150 0 6 0 3 0 389 0 195 0 237 0 1661 0 486 0 21 0 20 0 14 0 16 0 38 0 200 0 53 0 174 0 22 0 19 0-3520 1 13 0 34 0 331 0 214 0 44 0 44 0 1295 0 678 0 27 0 215 0 138 0 13 0 234 0 215 0 31 0-3513 1 147 0 159 0 367 0 48 0 32 0 2342 0 132 0 110 0 179 0-3159 1 16 0 290 0 74 0 19 0 1948 0 152 0 187 0 79 0 169 0 47 0 14 0 147 0-3559 1 80 0 144 0 29 0 15 0 33 0 62 0 24 0 295 0 55 0 95 0 477 0 1207 0 52 0 93 0 69 0 308 0 80 0 325 0-3617 1 39 0 208 0 50 0 232 0 21 0 52 0 68 0 376 0 584 0 1441 0 3 0 32 0 17 0 101 0 6 0 67 0 157 0 114 0 37 0 2 0-3594 1 78 0 79 0 239 0 403 0 205 0 1132 0 554 0 10 0 98 0 25 0 101 0 168 0 134 0 253 0 30 0 21 0 174 0 3 0 10 0 13 0-3550 1 77 0 353 0 150 0 34 0 205 0 1666 0 10 0 98 0 69 0 835 0-3675 1 98 0 160 0 236 0 106 0 274 0 151 0 0 0 1696 0 2 0 423 0 14 0 136 0 10 0 158 0 74 0 57 0 28 0 64 0 26 0-3682 1 162 0 310 0 18 0 414 0 24 0 90 0 1727 0 129 0 168 0 77 0 21 0 63 0 111 0 2 0 89 0 172 0 2 0 11 0-3633 1 115 0 124 0 308 0 273 0 171 0 71 0 1639 0 53 0 131 0 204 0 44 0 21 0 72 0 88 0 203 0 29 0 19 0 112 0-3680 1 121 0 1 0 104 0 199 0 12 0 13 0 91 0 68 0 188 0 181 0 59 0 1706 0 346 0 256 0 124 0 38 0 32 0 124 0 18 0-3557 1 9 0 884 0 1686 0 441 0 86 0 4 0 98 0 134 0 168 0 35 0-3668 1 60 0 124 0 78 0 145 0 6 0 375 0 107 0 74 0 39 0 1676 0 25 0 101 0 10 0 12 0 20 0 37 0 177 0 10 0 63 0 209 0 132 0 14 0 2 0 59 0 27 0-3527 1 358 0 46 0 42 0 24 0 127 0 127 0 290 0 1739 0 7 0 4 0 48 0 16 0 247 0 7 0 451 0 16 0 25 0 17 0 30 0 55 0-3324 1 17 0 638 0 1615 0 3 0 41 0 734 0 23 0 35 0 19 0 61 0 17 0 8 0 42 0-3528 1 472 0 271 0 98 0 32 0 1783 0 131 0 39 0 598 0 42 0 16 0 66 0-3507 1 28 0 14 0 262 0 54 0 52 0 69 0 112 0 7 0 2019 0 340 0 96 0 61 0 27 0 389 0-3567 1 3 0 23 0 232 0 86 0 2 0 285 0 51 0 17 0 1879 0 450 0 67 0 62 0 292 0 64 0-3533 1 431 0 22 0 308 0 2 0 157 0 7 0 856 0 813 0 6 0 104 0 69 0 207 0 18 0 68 0 43 0 245 0 2 0 3 0 97 0 157 0-3706 1 467 0 356 0 22 0 51 0 1795 0 28 0 7 0 69 0 87 0 403 0 39 0 135 0 45 0 34 0 57 0 13 0 97 0-3713 1 41 0 51 0 304 0 17 0 170 0 85 0 93 0 158 0 51 0 1766 0 171 0 547 0 48 0 170 0 46 0-3626 1 74 0 103 0 161 0 65 0 157 0 280 0 17 0 1880 0 100 0 323 0 402 0-3454 1 312 0 59 0 177 0 29 0 48 0 73 0 32 0 1 0 71 0 1855 0 40 0 550 0 160 0 87 0 32 0-3678 1 106 0 11 0 82 0 34 0 107 0 48 0 485 0 39 0 2206 0 100 0 262 0 53 0 109 0-3640 1 161 0 4 0 18 0 152 0 86 0 81 0 302 0 9 0 68 0 1735 0 131 0 166 0 209 0 160 0 362 0 34 0-3159 1 55 0 170 0 67 0 53 0 95 0 1727 0 15 0 321 0 18 0 7 0 34 0 12 0 71 0 72 0 159 0 82 0 48 0-3595 1 78 0 6 0 17 0 12 0 40 0 31 0 32 0 15 0 711 0 66 0 43 0 1851 0 166 0 44 0 186 0 171 0 190 0-3597 1 50 0 26 0 407 0 142 0 115 0 11 0 86 0 38 0 106 0 1733 0 61 0 248 0 234 0 21 0 5 0 113 0-3164 1 190 0 15 0 37 0 20 0 92 0 318 0 1733 0 5 0 157 0 15 0 45 0 273 0 93 0 261 0 177 0 24 0-3730 1 68 0 39 0 33 0 114 0 9 0 12 0 267 0 7 0 25 0 85 0 200 0 2 0 1845 0 85 0 64 0 236 0 19 0 28 0 326 0 10 0 49 0 145 0 33 0-3665 1 116 0 28 0 184 0 155 0 21 0 213 0 1942 0 9 0 21 0 94 0 38 0 37 0 263 0 105 0 369 0-3568 1 32 0 117 0 679 0 105 0 2104 0 4 0 219 0 224 0 36 0-3565 1 157 0 199 0 199 0 55 0 208 0 168 0 43 0 1738 0 23 0 113 0 251 0 7 0 67 0-3044 1 30 0 26 0 175 0 354 0 21 0 1873 0 73 0 148 0 289 0 339 0 13 0 125 0 50 0-3634 1 442 0 2145 0 72 0 13 0 26 0 10 0 96 0 75 0 93 0 33 0 99 0 81 0 307 0-3582 1 56 0 2 0 126 0 42 0 41 0 211 0 49 0 2302 0 92 0 4 0 15 0 321 0 35 0 228 0 42 0 22 0 40 0-3568 1 166 0 291 0 353 0 144 0 45 0 877 0 738 0 56 0 88 0 30 0 70 0 271 0 10 0 32 0 221 0 220 0 5 0-3633 1 63 0 118 0 170 0 1 0 94 0 176 0 171 0 79 0 48 0 77 0 1710 0 0 0 47 0 106 0 154 0 55 0 14 0 203 0 149 0 5 0 34 0 21 0 148 0-3613 1 365 0 86 0 62 0 53 0 2184 0 29 0 433 0 171 0-3058 1 273 0 88 0 84 0 141 0 43 0 1794 0 6 0 102 0 41 0 134 0 104 0 336 0 111 0 20 0-3545 1 781 0 64 0 21 0 42 0 1812 0 255 0 95 0 50 0 367 0 54 0-3512 1 390 0 1 0 450 0 1737 0 154 0 250 0 59 0 150 0 176 0 18 0 165 0-3705 1 3 0 12 0 19 0 153 0 1 0 240 0 16 0 79 0 51 0 65 0 10 0 162 0 25 0 64 0 94 0 46 0 728 0 955 0 30 0 54 0 97 0 2 0 28 0 154 0 359 0 109 0 40 0 136 0-3713 1 8 0 50 0 101 0 276 0 8 0 207 0 197 0 28 0 93 0 1763 0 86 0 270 0 339 0 21 0 226 0 25 0-3693 1 69 0 75 0 15 0 17 0 184 0 126 0 10 0 55 0 229 0 72 0 71 0 7 0 70 0 1718 0 334 0 362 0 121 0 50 0-3601 1 184 0 246 0 126 0 73 0 157 0 105 0 135 0 1653 0 631 0 110 0 17 0 24 0 16 0-3408 1 133 0 4 0 207 0 116 0 45 0 234 0 176 0 1 0 26 0 20 0 840 0 840 0 18 0 111 0 107 0 2 0 286 0 83 0 24 0 116 0 69 0 24 0 30 0 83 0 30 0 15 0-3537 1 20 0 359 0 20 0 34 0 202 0 53 0 143 0 1739 0 31 0 43 0 95 0 165 0 432 0 83 0 118 0-3723 1 77 0 67 0 2 0 12 0 267 0 9 0 344 0 19 0 126 0 73 0 1876 0 40 0 356 0 6 0 179 0 173 0-3507 1 153 0 290 0 18 0 21 0 315 0 998 0 918 0 27 0 49 0 567 0 41 0-3429 1 0 0 40 0 130 0 117 0 29 0 589 0 1725 0 76 0 647 0 89 0 6 0 70 0 13 0 22 0 75 0 21 0-3612 1 256 0 60 0 55 0 264 0 27 0 41 0 144 0 42 0 1677 0 391 0 45 0-3126 1 232 0 0 0 220 0 59 0 143 0 20 0 2126 0 167 0 5 0 227 0 17 0 66 0 190 0 79 0 123 0 5 0-3613 1 377 0 7 0 180 0 200 0 35 0 30 0 136 0 1757 0 342 0 25 0 7 0-3140 1 22 0 142 0 15 0 202 0 44 0 9 0 9 0 45 0 18 0 37 0 69 0 169 0 14 0 82 0 1892 0 128 0 263 0 54 0 203 0 26 0 46 0 79 0 124 0-3716 1 141 0 35 0 224 0 25 0 37 0 37 0 55 0 218 0 67 0 156 0 434 0 1269 0 124 0 76 0 174 0 21 0 7 0 183 0 153 0-3252 1 14 0 190 0 32 0 55 0 190 0 92 0 59 0 43 0 60 0 103 0 38 0 1225 0 471 0 90 0 262 0 58 0 60 0 62 0 170 0 2 0 275 0-3677 1 10 0 414 0 29 0 258 0 60 0 27 0 1304 0 1075 0 86 0 115 0 5 0 30 0 42 0 44 0-3307 1 184 0 177 0 748 0 1312 0 72 0 13 0 55 0 269 0 63 0 68 0 336 0 26 0 64 0 80 0 0 0-3611 1 39 0 285 0 15 0 16 0 74 0 51 0 2194 0 123 0 2 0 28 0 190 0 41 0 34 0 463 0 11 0 60 0-3701 1 19 0 70 0 134 0 167 0 105 0 129 0 2024 0 186 0 203 0 16 0 183 0 22 0 47 0 125 0 163 0 30 0 51 0-3551 1 26 0 108 0 194 0 129 0 46 0 131 0 66 0 62 0 0 0 120 0 1681 0 52 0 154 0 129 0 24 0 2 0 245 0 22 0 140 0-3417 1 112 0 64 0 1 0 166 0 88 0 77 0 251 0 88 0 1837 0 20 0 57 0 93 0 147 0 416 0 17 0 10 0 84 0 121 0-3499 1 73 0 106 0 27 0 2 0 3 0 469 0 43 0 76 0 1657 0 86 0 199 0 218 0 434 0 8 0-3396 1 172 0 101 0 82 0 12 0 56 0 129 0 96 0 13 0 1870 0 13 0 496 0 466 0-3680 1 25 0 58 0 50 0 63 0 220 0 203 0 115 0 1 0 32 0 107 0 27 0 18 0 40 0 34 0 1697 0 83 0 303 0 66 0 153 0 1 0 95 0 70 0 72 0 50 0-3170 1 155 0 179 0 19 0 56 0 57 0 90 0 1740 0 97 0 581 0 8 0 126 0 15 0-3595 1 14 0 141 0 37 0 46 0 155 0 223 0 222 0 65 0 1847 0 330 0 161 0 59 0 58 0 7 0 234 0 7 0-3578 1 78 0 37 0 26 0 65 0 3 0 196 0 51 0 1 0 97 0 323 0 121 0 8 0 1659 0 37 0 13 0 161 0 9 0 54 0 516 0 216 0-3663 1 45 0 144 0 35 0 123 0 69 0 455 0 121 0 622 0 1063 0 31 0 25 0 85 0 30 0 53 0 29 0 14 0 3 0 169 0 9 0 25 0 406 0 40 0 83 0 12 0-3667 1 32 0 6 0 197 0 2 0 138 0 159 0 71 0 2026 0 145 0 123 0 151 0 201 0 218 0 37 0 123 0-3563 1 23 0 0 0 8 0 49 0 311 0 63 0 73 0 243 0 33 0 74 0 5 0 1729 0 55 0 78 0 207 0 87 0 10 0 117 0-3256 1 178 0 88 0 0 0 351 0 417 0 1642 0 22 0 105 0 61 0 193 0 275 0 168 0-3453 1 54 0 125 0 200 0 124 0 2116 0 11 0 154 0 60 0 53 0 113 0 10 0 16 0 118 0 86 0 137 0 29 0 23 0 44 0 130 0-3651 1 49 0 3 0 1 0 524 0 41 0 6 0 146 0 183 0 2230 0 20 0 25 0 216 0 33 0 7 0 41 0 6 0 34 0 13 0-3610 1 123 0 44 0 4 0 69 0 13 0 3 0 138 0 4 0 27 0 46 0 60 0 20 0 220 0 31 0 1876 0 2 0 15 0 160 0 45 0 18 0 6 0 247 0 35 0 141 0 336 0-3604 1 69 0 115 0 20 0 223 0 119 0 22 0 124 0 109 0 136 0 424 0 704 0 9 0 544 0 162 0 242 0 218 0 38 0 181 0 100 0 38 0 39 0-3636 1 4 0 301 0 28 0 79 0 70 0 50 0 199 0 74 0 187 0 1625 0 14 0 66 0 14 0 32 0 160 0 161 0 61 0 89 0 239 0 23 0-3257 1 184 0 27 0 284 0 63 0 96 0 9 0 2015 0 332 0 145 0 108 0 63 0-3611 1 153 0 3 0 94 0 127 0 44 0 4 0 68 0 56 0 20 0 25 0 14 0 33 0 258 0 674 0 1330 0 176 0 419 0 76 0 36 0 40 0-3636 1 149 0 6 0 68 0 30 0 104 0 92 0 149 0 446 0 1647 0 63 0 444 0 6 0 119 0 0 0 123 0 191 0 39 0-3599 1 97 0 55 0 248 0 55 0 28 0 248 0 13 0 6 0 1929 0 158 0 21 0 14 0 345 0 21 0 150 0 60 0 115 0 0 0 51 0-3695 1 238 0 31 0 120 0 38 0 52 0 47 0 385 0 1801 0 44 0 82 0 44 0 52 0 9 0 117 0 2 0 144 0 118 0 10 0 337 0-3525 1 455 0 54 0 201 0 53 0 1806 0 93 0 252 0 37 0 8 0 15 0 498 0-3644 1 107 0 18 0 39 0 27 0 25 0 5 0 263 0 9 0 88 0 204 0 11 0 146 0 1835 0 150 0 53 0 105 0 5 0 420 0 61 0 11 0 142 0 8 0-3643 1 188 0 8 0 317 0 246 0 93 0 24 0 33 0 2 0 1718 0 139 0 49 0 32 0 163 0 9 0 8 0 6 0 172 0 22 0 223 0 35 0 1 0 56 0 91 0 13 0-3725 1 26 0 83 0 294 0 408 0 16 0 68 0 3 0 96 0 38 0 17 0 1654 0 35 0 22 0 160 0 206 0 116 0 238 0 40 0 219 0-3740 1 178 0 57 0 329 0 35 0 35 0 2040 0 476 0 84 0 20 0 72 0 238 0 49 0 49 0-3513 1 94 0 152 0 4 0 13 0 12 0 20 0 79 0 58 0 98 0 2269 0 238 0 272 0 148 0 72 0 1 0-3655 1 262 0 314 0 163 0 5 0 112 0 5 0 78 0 1746 0 63 0 58 0 20 0 64 0 254 0 32 0 153 0 141 0 38 0 123 0 50 0-3698 1 148 0 49 0 243 0 1 0 314 0 159 0 100 0 4 0 3 0 28 0 1734 0 48 0 24 0 282 0 18 0 51 0 49 0 175 0 64 0 42 0-3533 1 32 0 32 0 90 0 216 0 20 0 14 0 53 0 396 0 3 0 2065 0 18 0 219 0 14 0 19 0 237 0 40 0 16 0 201 0-3707 1 97 0 84 0 340 0 4 0 133 0 141 0 153 0 13 0 83 0 715 0 1089 0 36 0 72 0 11 0 107 0 33 0 88 0 24 0 13 0 35 0 203 0 26 0 113 0 73 0-3671 1 24 0 122 0 16 0 7 0 41 0 179 0 118 0 25 0 72 0 436 0 694 0 985 0 73 0 122 0 362 0 295 0 78 0 24 0-3501 1 15 0 90 0 159 0 210 0 137 0 64 0 116 0 1787 0 51 0 39 0 65 0 51 0 93 0 15 0 73 0 306 0 17 0 63 0 86 0 103 0-3650 1 34 0 102 0 22 0 53 0 170 0 10 0 183 0 22 0 134 0 59 0 54 0 133 0 384 0 1331 0 195 0 161 0 132 0 113 0 113 0 42 0 122 0 27 0 73 0-3543 1 13 0 336 0 106 0 273 0 131 0 1702 0 69 0 317 0 175 0 299 0 37 0 31 0-3640 1 41 0 119 0 87 0 117 0 388 0 1951 0 83 0 27 0 216 0 49 0 17 0 1 0 184 0 2 0 114 0 50 0 97 0 20 0 90 0 34 0-3696 1 241 0 169 0 2 0 89 0 24 0 118 0 94 0 85 0 56 0 2322 0 87 0 130 0 60 0-3474 1 115 0 96 0 139 0 180 0 381 0 116 0 1842 0 44 0 5 0 248 0 248 0 11 0 85 0 7 0 36 0-3329 1 167 0 78 0 55 0 45 0 185 0 139 0 602 0 1229 0 215 0 198 0 367 0-3367 1 486 0 319 0 29 0 1849 0 100 0 108 0 56 0 61 0 72 0 270 0 178 0-3494 1 74 0 156 0 25 0 4 0 54 0 93 0 14 0 4 0 199 0 27 0 11 0 149 0 1795 0 34 0 42 0 46 0 134 0 96 0 339 0 40 0 116 0 55 0 26 0 3 0-3706 1 91 0 3 0 139 0 124 0 37 0 100 0 136 0 243 0 1996 0 304 0 91 0 29 0 176 0 19 0 92 0 31 0-3559 1 45 0 284 0 555 0 52 0 1702 0 124 0 53 0 162 0 115 0 139 0 39 0 100 0 174 0-3434 1 59 0 130 0 204 0 320 0 48 0 9 0 59 0 32 0 1719 0 40 0 108 0 7 0 309 0 50 0 187 0 80 0 89 0-3589 1 35 0 50 0 18 0 45 0 74 0 299 0 194 0 10 0 40 0 1330 0 655 0 159 0 91 0 127 0 158 0 207 0 64 0 25 0-3479 1 54 0 270 0 2 0 51 0 6 0 265 0 15 0 85 0 67 0 4 0 1880 0 295 0 42 0 45 0 13 0 48 0 53 0 98 0 41 0 24 0 146 0 65 0-3729 1 117 0 21 0 52 0 254 0 18 0 57 0 336 0 149 0 16 0 4 0 1659 0 13 0 23 0 5 0 400 0 14 0 319 0 31 0 82 0 1 0 23 0 19 0 19 0-3582 1 65 0 80 0 13 0 84 0 83 0 214 0 11 0 9 0 269 0 109 0 10 0 1902 0 42 0 120 0 6 0 43 0 1 0 102 0 25 0 98 0 160 0 99 0-3585 1 56 0 18 0 94 0 86 0 1 0 134 0 40 0 465 0 1993 0 245 0 139 0 49 0 159 0 20 0 150 0 23 0-3589 1 160 0 130 0 244 0 164 0 38 0 90 0 138 0 413 0 798 0 473 0 28 0 40 0 277 0 5 0 100 0 62 0 72 0 3 0 209 0 71 0 6 0-3601 1 9 0 233 0 422 0 148 0 59 0 139 0 33 0 1325 0 306 0 21 0 138 0 38 0 255 0 72 0 70 0 251 0 161 0-3446 1 519 0 170 0 1735 0 97 0 117 0 11 0 44 0 130 0 540 0 81 0 2 0-3685 1 12 0 9 0 119 0 90 0 56 0 91 0 233 0 44 0 98 0 91 0 82 0 104 0 1651 0 149 0 60 0 53 0 107 0 9 0 23 0 250 0 8 0 274 0 14 0-3513 1 36 0 12 0 270 0 371 0 87 0 20 0 1815 0 128 0 26 0 235 0 30 0 560 0 11 0-3524 1 320 0 48 0 289 0 15 0 38 0 105 0 1333 0 345 0 3 0 389 0 40 0 108 0 17 0 243 0 74 0-3542 1 223 0 9 0 0 0 13 0 194 0 150 0 220 0 32 0 183 0 779 0 1003 0 83 0 152 0 55 0 91 0 79 0 37 0 6 0 216 0 77 0 33 0-3602 1 332 0 48 0 5 0 77 0 1 0 366 0 1370 0 498 0 43 0 98 0 29 0 46 0 149 0 131 0 80 0 163 0 30 0 117 0 94 0 2 0-3620 1 35 0 131 0 185 0 125 0 300 0 95 0 1777 0 90 0 203 0 196 0 200 0 160 0 34 0 15 0 33 0-3635 1 198 0 237 0 3 0 13 0 112 0 172 0 128 0 47 0 43 0 1871 0 36 0 330 0 201 0 122 0 128 0 17 0-3679 1 45 0 7 0 46 0 26 0 96 0 138 0 68 0 165 0 7 0 136 0 22 0 205 0 2 0 14 0 2230 0 205 0 74 0 5 0 27 0 42 0 11 0 47 0-3562 1 6 0 9 0 65 0 60 0 41 0 216 0 65 0 46 0 176 0 89 0 122 0 1842 0 65 0 181 0 391 0 97 0 13 0 25 0-3551 1 10 0 5 0 65 0 43 0 49 0 4 0 143 0 128 0 87 0 48 0 164 0 19 0 7 0 103 0 44 0 53 0 2141 0 165 0 18 0 256 0-3616 1 212 0 257 0 59 0 135 0 148 0 10 0 59 0 159 0 1200 0 479 0 165 0 14 0 179 0 115 0 24 0 81 0 65 0 117 0 22 0-3284 1 404 0 352 0 6 0 32 0 64 0 483 0 1244 0 48 0 97 0 123 0 15 0 19 0 189 0 164 0 21 0 57 0 51 0-3419 1 248 0 125 0 45 0 58 0 185 0 110 0 1753 0 3 0 17 0 66 0 4 0 80 0 312 0 6 0 278 0 124 0 139 0-3686 1 13 0 64 0 6 0 49 0 130 0 150 0 149 0 55 0 119 0 1968 0 109 0 57 0 457 0 271 0 18 0-3617 1 77 0 25 0 96 0 76 0 91 0 147 0 38 0 24 0 3 0 77 0 97 0 43 0 23 0 71 0 92 0 1764 0 10 0 5 0 162 0 268 0 107 0 42 0 113 0 44 0 147 0-3388 1 156 0 96 0 84 0 170 0 180 0 43 0 32 0 1657 0 106 0 73 0 221 0 61 0 19 0 20 0 108 0 259 0-3473 1 34 0 95 0 2 0 52 0 219 0 23 0 280 0 20 0 16 0 7 0 22 0 7 0 33 0 75 0 1989 0 183 0 110 0 196 0 224 0-3654 1 19 0 27 0 47 0 96 0 563 0 169 0 5 0 10 0 2 0 30 0 41 0 1893 0 270 0 28 0 57 0 225 0 56 0 78 0 50 0 3 0-3591 1 168 0 113 0 189 0 253 0 55 0 19 0 140 0 1719 0 179 0 130 0 112 0 51 0 373 0 38 0-3382 1 24 0 158 0 149 0 8 0 173 0 2176 0 111 0 118 0 331 0 37 0-3473 1 69 0 34 0 266 0 2 0 76 0 20 0 23 0 246 0 16 0 51 0 2010 0 26 0 156 0 27 0 401 0 53 0 51 0 81 0-3654 1 242 0 137 0 82 0 47 0 64 0 9 0 10 0 184 0 119 0 50 0 1709 0 101 0 336 0 9 0 214 0 9 0 116 0 10 0 47 0 57 0 9 0-3553 1 3 0 90 0 137 0 29 0 136 0 162 0 314 0 60 0 104 0 1727 0 328 0 157 0 26 0 26 0 2 0 121 0 14 0 52 0 196 0 13 0-3609 1 152 0 559 0 130 0 1848 0 124 0 164 0 99 0 86 0 181 0 212 0 24 0 41 0-3646 1 104 0 25 0 53 0 121 0 139 0 19 0 5 0 94 0 179 0 72 0 49 0 89 0 22 0 1675 0 565 0 216 0 91 0-3557 1 25 0 61 0 50 0 80 0 16 0 188 0 197 0 6 0 209 0 980 0 915 0 11 0 54 0 317 0 8 0 65 0 202 0 20 0 110 0 20 0-3589 1 128 0 436 0 34 0 195 0 47 0 45 0 159 0 0 0 1827 0 215 0 93 0 73 0 300 0 18 0 50 0 51 0 41 0-3711 1 0 0 49 0 21 0 25 0 60 0 12 0 31 0 16 0 11 0 198 0 71 0 182 0 195 0 68 0 12 0 65 0 1659 0 136 0 26 0 58 0 270 0 19 0 19 0 6 0 257 0 7 0-3305 1 88 0 162 0 153 0 191 0 158 0 1989 0 250 0 71 0 30 0 192 0 89 0 96 0 69 0-3677 1 156 0 259 0 75 0 37 0 61 0 2981 0 44 0 46 0 8 0 33 0-3687 1 24 0 73 0 59 0 235 0 58 0 48 0 25 0 197 0 65 0 85 0 40 0 1793 0 165 0 192 0 122 0 34 0 13 0 46 0 150 0 149 0 40 0-3594 1 99 0 3 0 12 0 13 0 677 0 1 0 49 0 79 0 1686 0 97 0 102 0 310 0 280 0 60 0-3482 1 137 0 82 0 157 0 100 0 75 0 38 0 191 0 56 0 57 0 3 0 13 0 85 0 1686 0 61 0 84 0 245 0 18 0 108 0 18 0 52 0 15 0 158 0 7 0 19 0 32 0 33 0 19 0-3593 1 127 0 35 0 75 0 159 0 40 0 9 0 70 0 10 0 113 0 212 0 20 0 97 0 45 0 15 0 1655 0 18 0 379 0 192 0 197 0 74 0-3548 1 53 0 175 0 3 0 60 0 179 0 9 0 435 0 2029 0 299 0 43 0 68 0 5 0 158 0 128 0 22 0-3649 1 41 0 5 0 323 0 23 0 38 0 217 0 275 0 62 0 36 0 1660 0 215 0 14 0 1 0 34 0 116 0 45 0 13 0 13 0 330 0 232 0 14 0-3633 1 9 0 36 0 8 0 32 0 4 0 320 0 143 0 152 0 112 0 6 0 144 0 1629 0 82 0 83 0 53 0 64 0 363 0 15 0 142 0 53 0-3510 1 49 0 21 0 128 0 217 0 110 0 220 0 188 0 1756 0 10 0 81 0 447 0 20 0 299 0 31 0 73 0 12 0-3690 1 67 0 73 0 8 0 56 0 33 0 270 0 10 0 27 0 4 0 56 0 71 0 224 0 20 0 709 0 1183 0 284 0 24 0 331 0 200 0-3576 1 72 0 62 0 12 0 2 0 214 0 60 0 22 0 54 0 55 0 4 0 349 0 1964 0 144 0 6 0 86 0 271 0 191 0 99 0-3667 1 9 0 97 0 394 0 236 0 3 0 1 0 19 0 93 0 59 0 1890 0 12 0 15 0 159 0 102 0 27 0 108 0 205 0 1 0 19 0 45 0 56 0 39 0-3615 1 358 0 87 0 4 0 175 0 149 0 1 0 52 0 160 0 801 0 844 0 50 0 175 0 40 0 240 0 12 0 76 0 13 0 282 0 85 0 62 0-3722 1 251 0 17 0 21 0 259 0 69 0 63 0 106 0 153 0 1863 0 102 0 60 0 9 0 284 0 20 0 73 0 184 0 24 0 59 0 116 0-3733 1 82 0 69 0 67 0 184 0 86 0 6 0 20 0 162 0 106 0 116 0 32 0 40 0 83 0 1678 0 246 0 125 0 148 0 1 0 17 0 379 0 79 0 7 0 10 0-3694 1 168 0 49 0 142 0 53 0 51 0 289 0 46 0 76 0 114 0 2065 0 51 0 100 0 96 0 214 0 5 0 9 0 2 0 69 0 0 0-3588 1 13 0 142 0 43 0 233 0 100 0 94 0 98 0 31 0 14 0 162 0 1704 0 194 0 214 0 125 0 55 0 50 0 256 0-3555 1 44 0 44 0 30 0 61 0 10 0 33 0 310 0 53 0 360 0 41 0 1935 0 28 0 151 0 128 0-3223 1 38 0 75 0 111 0 125 0 19 0 54 0 24 0 45 0 45 0 71 0 171 0 6 0 2 0 102 0 119 0 1660 0 27 0 68 0 10 0 12 0 100 0 301 0 22 0 1 0 91 0 223 0 56 0 25 0-3619 1 14 0 40 0 45 0 3 0 43 0 9 0 80 0 165 0 47 0 3 0 109 0 100 0 5 0 122 0 67 0 136 0 588 0 1174 0 82 0 404 0 8 0 190 0 172 0-3621 1 13 0 105 0 284 0 29 0 39 0 40 0 158 0 260 0 40 0 1718 0 55 0 8 0 358 0 135 0 96 0 7 0 17 0 199 0-3553 1 242 0 37 0 139 0 13 0 327 0 65 0 66 0 1781 0 52 0 74 0 66 0 208 0 90 0 7 0 42 0 136 0-3338 1 24 0 0 0 50 0 169 0 21 0 391 0 1637 0 432 0 186 0 143 0 33 0 400 0 88 0-3584 1 65 0 182 0 155 0 106 0 118 0 8 0 179 0 7 0 16 0 4 0 141 0 4 0 5 0 64 0 1622 0 37 0 23 0 5 0 46 0 23 0 89 0 42 0 6 0 13 0 217 0 45 0 290 0 93 0 112 0-3573 1 61 0 2 0 54 0 208 0 5 0 52 0 96 0 20 0 21 0 111 0 110 0 1829 0 40 0 200 0 199 0 21 0 172 0 308 0 28 0 45 0-3617 1 30 0 16 0 117 0 323 0 14 0 190 0 30 0 207 0 1766 0 525 0 267 0-3563 1 99 0 74 0 58 0 3 0 4 0 108 0 93 0 58 0 23 0 264 0 56 0 15 0 92 0 56 0 1670 0 93 0 48 0 23 0 76 0 131 0 65 0 26 0 389 0 67 0-3563 1 134 0 337 0 258 0 2 0 0 0 31 0 145 0 2322 0 36 0 17 0 311 0 34 0 51 0-3662 1 78 0 411 0 66 0 37 0 89 0 107 0 2 0 60 0 17 0 31 0 0 0 1781 0 6 0 196 0 249 0 4 0 4 0 115 0 192 0-3532 1 53 0 146 0 10 0 80 0 291 0 51 0 19 0 225 0 49 0 18 0 26 0 2 0 2162 0 14 0 116 0 94 0 141 0 40 0 158 0-3695 1 10 0 145 0 23 0 109 0 142 0 51 0 58 0 41 0 278 0 29 0 14 0 60 0 61 0 1778 0 94 0 217 0 209 0-3303 1 100 0 87 0 10 0 195 0 8 0 26 0 79 0 158 0 93 0 31 0 11 0 1 0 14 0 17 0 42 0 24 0 79 0 43 0 24 0 2 0 1700 0 418 0 34 0 84 0 206 0 67 0 94 0-3567 1 155 0 170 0 93 0 36 0 33 0 65 0 7 0 121 0 33 0 83 0 71 0 12 0 63 0 1784 0 399 0 65 0 313 0-3575 1 71 0 98 0 40 0 290 0 11 0 20 0 133 0 148 0 134 0 78 0 500 0 1403 0 201 0 517 0-3568 1 64 0 44 0 14 0 74 0 152 0 83 0 16 0 105 0 182 0 60 0 25 0 52 0 13 0 30 0 3 0 37 0 1798 0 102 0 370 0 393 0-3688 1 74 0 1 0 55 0 20 0 95 0 188 0 88 0 5 0 235 0 75 0 2 0 65 0 15 0 4 0 72 0 1870 0-2866 1 31 0 158 0 175 0 19 0 124 0 155 0 189 0 2 0 92 0 65 0 954 0 738 0 83 0 413 0 57 0-3223 1 33 0 79 0 227 0 158 0 83 0 146 0 4 0 178 0 1732 0 146 0 326 0 84 0 212 0 36 0 16 0 167 0-3683 1 109 0 24 0 2 0 78 0 183 0 89 0 183 0 208 0 2 0 11 0 89 0 923 0 985 0 331 0 65 0 31 0 30 0 118 0 26 0 9 0 157 0 14 0 40 0 26 0-3667 1 36 0 123 0 68 0 154 0 160 0 206 0 42 0 37 0 84 0 16 0 1824 0 139 0 190 0 455 0 47 0-3601 1 41 0 76 0 265 0 16 0 22 0 85 0 17 0 47 0 48 0 12 0 8 0 103 0 129 0 1821 0 111 0 30 0 34 0 28 0 36 0 201 0 62 0 73 0 182 0 54 0-3474 1 118 0 47 0 3 0 11 0 156 0 28 0 94 0 19 0 18 0 37 0 8 0 416 0 28 0 2 0 714 0 1007 0 683 0 14 0 87 0-3522 1 9 0 4 0 184 0 206 0 52 0 180 0 233 0 2 0 1372 0 562 0-2831 1 56 0 10 0 54 0 163 0 87 0 74 0 128 0 72 0 114 0 33 0 56 0 50 0 160 0 915 0 852 0 33 0 78 0 4 0 114 0 9 0 160 0 2 0 66 0 188 0 1 0 58 0 158 0 13 0 3 0 0 0-3674 1 1 0 174 0 9 0 11 0 181 0 33 0 53 0 282 0 34 0 35 0 109 0 9 0 72 0 1313 0 401 0 81 0 36 0 379 0 373 0 41 0-3389 1 176 0 37 0 391 0 4 0 4 0 13 0 15 0 117 0 1851 0 182 0 1 0 22 0 78 0 16 0 31 0 34 0 193 0 68 0-3485 1 48 0 57 0 33 0 50 0 68 0 2 0 114 0 48 0 16 0 41 0 283 0 52 0 42 0 10 0 61 0 62 0 962 0 756 0 149 0 584 0 22 0 28 0 93 0-3589 1 102 0 69 0 15 0 21 0 387 0 16 0 12 0 121 0 16 0 83 0 77 0 62 0 1694 0 45 0 212 0 108 0 106 0 276 0 47 0 33 0 38 0 5 0 60 0-3633 1 20 0 9 0 65 0 3 0 50 0 5 0 0 0 142 0 6 0 246 0 89 0 285 0 99 0 1722 0 190 0 316 0 13 0 20 0 13 0 72 0 177 0 112 0 5 0-3656 1 15 0 8 0 39 0 47 0 2 0 152 0 177 0 129 0 54 0 194 0 27 0 41 0 122 0 28 0 1847 0 249 0 465 0 119 0-3650 1 49 0 29 0 106 0 43 0 98 0 19 0 124 0 73 0 74 0 189 0 17 0 8 0 72 0 22 0 584 0 1388 0 282 0 21 0 66 0 128 0 71 0 17 0 46 0 9 0-3378 1 193 0 109 0 0 0 77 0 1 0 198 0 45 0 13 0 32 0 132 0 18 0 1680 0 31 0 205 0 3 0 516 0 185 0-3592 1 7 0 18 0 10 0 279 0 7 0 93 0 49 0 78 0 10 0 188 0 18 0 86 0 39 0 91 0 19 0 682 0 121 0 999 0 108 0 255 0-3175 1 70 0 5 0 28 0 17 0 316 0 171 0 156 0 76 0 57 0 94 0 1697 0 163 0 12 0 148 0 23 0 391 0 42 0 6 0-3464 1 18 0 9 0 297 0 2 0 149 0 6 0 269 0 200 0 33 0 5 0 1683 0 36 0 38 0 88 0 275 0 18 0 159 0 299 0-3480 1 25 0 206 0 138 0 9 0 8 0 11 0 32 0 7 0 51 0 400 0 0 0 1753 0 276 0 24 0 105 0 119 0 292 0-3590 1 91 0 32 0 343 0 83 0 31 0 70 0 138 0 124 0 44 0 10 0 39 0 1702 0 8 0 75 0 7 0 113 0 18 0 194 0 123 0 86 0 256 0-3505 1 18 0 37 0 87 0 154 0 79 0 74 0 30 0 18 0 46 0 12 0 7 0 152 0 47 0 21 0 81 0 812 0 978 0 551 0 40 0 335 0-3669 1 28 0 80 0 94 0 6 0 52 0 156 0 20 0 1 0 66 0 160 0 2068 0 6 0 699 0 22 0 191 0 9 0 44 0-3669 1 88 0 19 0 48 0 8 0 66 0 208 0 83 0 108 0 146 0 17 0 1912 0 100 0 15 0 36 0 30 0 8 0 131 0 128 0 122 0 320 0-3604 1 83 0 168 0 98 0 25 0 14 0 120 0 471 0 12 0 16 0 1640 0 92 0 67 0 656 0 33 0 36 0-3560 1 1 0 62 0 43 0 34 0 2 0 27 0 38 0 335 0 21 0 68 0 180 0 58 0 76 0 9 0 52 0 1898 0 141 0 56 0 90 0 237 0 106 0-3489 1 87 0 69 0 5 0 7 0 275 0 93 0 25 0 21 0 139 0 110 0 17 0 117 0 1789 0 102 0 18 0 595 0 22 0 92 0-3568 1 13 0 20 0 57 0 40 0 14 0 40 0 215 0 76 0 35 0 18 0 1 0 274 0 25 0 162 0 3 0 1082 0 620 0 73 0 4 0 18 0 53 0 1 0 282 0 61 0 7 0 51 0 36 0 146 0 222 0-3648 1 18 0 175 0 274 0 221 0 204 0 66 0 2246 0 183 0 53 0 31 0 76 0 8 0-3524 1 149 0 221 0 159 0 9 0 225 0 101 0 9 0 2264 0 6 0 32 0-3216 1 400 0 84 0 11 0 202 0 8 0 11 0 6 0 9 0 51 0 2 0 118 0 79 0 989 0 374 0 479 0 25 0 241 0 193 0 397 0-3667 1 6 0 46 0 32 0 50 0 216 0 14 0 6 0 48 0 94 0 221 0 59 0 185 0 8 0 3 0 1770 0 77 0 0 0 231 0 447 0 63 0-3646 1 165 0 21 0 55 0 20 0 145 0 24 0 85 0 40 0 73 0 224 0 49 0 12 0 42 0 101 0 1128 0 647 0 499 0 253 0 34 0-3617 1 19 0 79 0 4 0 15 0 108 0 21 0 326 0 42 0 14 0 6 0 121 0 13 0 59 0 45 0 5 0 112 0 14 0 399 0 1391 0 89 0 7 0 18 0 38 0 4 0 104 0 35 0 363 0 94 0 36 0 4 0 23 0 16 0 31 0 45 0-3698 1 11 0 178 0 85 0 101 0 61 0 37 0 100 0 219 0 6 0 74 0 13 0 47 0 24 0 3 0 63 0 775 0 1116 0 299 0 292 0 168 0-3674 1 1 0 49 0 161 0 566 0 31 0 144 0 24 0 35 0 1134 0 526 0 494 0 143 0 305 0 34 0-3583 1 1 0 188 0 169 0 24 0 8 0 205 0 142 0 74 0 93 0 12 0 24 0 53 0 1634 0 58 0 62 0 81 0 580 0-3485 1 60 0 106 0 1 0 20 0 17 0 48 0 160 0 172 0 11 0 70 0 122 0 3 0 16 0 32 0 41 0 101 0 93 0 1718 0 452 0 227 0 3 0 38 0 25 0 197 0-3625 1 10 0 21 0 2 0 91 0 12 0 4 0 180 0 17 0 103 0 1 0 20 0 249 0 0 0 0 0 14 0 185 0 34 0 1900 0 296 0 432 0-3618 1 26 0 135 0 164 0 197 0 13 0 218 0 1 0 45 0 29 0 13 0 13 0 19 0 97 0 5 0 21 0 1633 0 51 0 32 0 188 0 108 0 197 0 274 0 9 0 57 0 123 0-3561 1 54 0 1 0 186 0 51 0 22 0 10 0 41 0 8 0 28 0 34 0 187 0 110 0 94 0 10 0 1 0 634 0 1092 0 43 0 183 0 133 0 555 0-3564 1 17 0 28 0 121 0 164 0 93 0 118 0 154 0 218 0 1187 0 12 0 127 0 401 0 68 0 61 0 40 0 257 0 27 0 47 0 102 0 183 0 57 0 165 0 26 0-3751 1 48 0 27 0 32 0 45 0 24 0 82 0 182 0 40 0 38 0 268 0 40 0 86 0 24 0 537 0 1212 0 210 0 437 0 126 0 46 0 83 0 150 0-3557 1 1 0 29 0 71 0 132 0 77 0 133 0 7 0 138 0 54 0 6 0 52 0 48 0 103 0 1707 0 325 0 90 0 305 0 50 0 222 0-3684 1 54 0 84 0 9 0 274 0 59 0 51 0 17 0 33 0 34 0 168 0 233 0 1777 0 107 0 165 0 386 0 63 0 146 0 19 0-3714 1 52 0 158 0 12 0 203 0 108 0 11 0 49 0 39 0 247 0 120 0 52 0 4 0 1147 0 565 0 125 0 60 0 319 0 62 0 137 0-3433 1 13 0 134 0 42 0 21 0 281 0 88 0 47 0 5 0 87 0 41 0 80 0 29 0 66 0 1952 0 182 0 57 0 87 0 85 0 12 0 105 0 188 0-3543 1 132 0 13 0 213 0 27 0 55 0 26 0 73 0 10 0 267 0 62 0 40 0 397 0 1377 0 92 0 83 0 312 0 60 0 101 0 7 0 123 0 93 0-3588 1 42 0 78 0 182 0 35 0 113 0 107 0 27 0 230 0 25 0 64 0 70 0 1924 0 92 0 50 0 45 0 123 0 19 0 1 0 56 0 372 0-3686 1 43 0 15 0 102 0 46 0 7 0 27 0 93 0 152 0 74 0 37 0 195 0 7 0 19 0 32 0 22 0 2147 0 35 0 223 0 186 0 3 0-3418 1 19 0 34 0 278 0 177 0 1 0 6 0 9 0 255 0 18 0 1311 0 31 0 139 0 16 0 698 0 16 0 20 0 433 0 104 0 23 0-3630 1 59 0 283 0 12 0 54 0 2314 0 86 0 293 0 57 0 330 0 29 0 94 0 2 0-3667 1 26 0 3 0 11 0 90 0 69 0 242 0 92 0 34 0 218 0 44 0 7 0 53 0 9 0 1017 0 931 0 262 0 52 0-3094 1 8 0 71 0 62 0 94 0 613 0 700 0 1068 0 129 0 41 0 428 0 41 0 136 0-3414 1 2 0 22 0 33 0 57 0 25 0 14 0 64 0 156 0 91 0 14 0 21 0 21 0 47 0 23 0 185 0 200 0 1251 0 502 0 21 0 486 0 283 0 166 0 4 0-3728 1 378 0 52 0 99 0 31 0 4 0 39 0 21 0 22 0 12 0 103 0 103 0 27 0 18 0 13 0 114 0 699 0 1416 0 15 0 119 0 73 0 195 0-3446 1 77 0 308 0 140 0 39 0 159 0 214 0 1714 0 55 0 112 0 595 0 13 0 125 0-3607 1 137 0 14 0 194 0 101 0 46 0 53 0 59 0 17 0 141 0 10 0 5 0 200 0 32 0 1795 0 30 0 59 0 259 0 297 0-3375 1 32 0 0 0 260 0 87 0 86 0 274 0 24 0 2 0 5 0 40 0 11 0 23 0 51 0 940 0 721 0 126 0 16 0 47 0 11 0 258 0 317 0-3445 1 65 0 32 0 26 0 21 0 35 0 55 0 284 0 17 0 36 0 51 0 4 0 17 0 129 0 12 0 119 0 38 0 108 0 1783 0 456 0 171 0 101 0 26 0 15 0 41 0-3649 1 63 0 5 0 14 0 12 0 96 0 29 0 328 0 40 0 44 0 305 0 25 0 51 0 3 0 1751 0 5 0 153 0 265 0 385 0 49 0-3594 1 24 0 2 0 174 0 44 0 110 0 14 0 26 0 13 0 40 0 24 0 327 0 79 0 135 0 1374 0 525 0 313 0 100 0-3278 1 51 0 151 0 316 0 18 0 201 0 25 0 6 0 14 0 4 0 3 0 134 0 63 0 1666 0 174 0 30 0 519 0 263 0 28 0-3721 1 44 0 8 0 63 0 1 0 17 0 7 0 7 0 250 0 60 0 48 0 328 0 36 0 1045 0 887 0 4 0 68 0 45 0 541 0 133 0 23 0-3578 1 192 0 23 0 153 0 3 0 31 0 34 0 130 0 51 0 146 0 33 0 73 0 35 0 6 0 788 0 521 0 411 0 95 0 2 0 162 0 128 0 114 0 162 0-3332 1 7 0 52 0 44 0 7 0 121 0 194 0 52 0 3 0 53 0 2 0 73 0 238 0 1 0 54 0 24 0 25 0 70 0 965 0 722 0 170 0 286 0 84 0 91 0 81 0-3383 1 9 0 12 0 169 0 3 0 12 0 33 0 87 0 27 0 169 0 37 0 2 0 278 0 1491 0 326 0 174 0 88 0 197 0 60 0 46 0 71 0 4 0 146 0 75 0-3575 1 18 0 98 0 18 0 76 0 20 0 64 0 114 0 79 0 5 0 57 0 61 0 8 0 179 0 34 0 126 0 95 0 1770 0 81 0 424 0 378 0-3635 1 84 0 70 0 17 0 16 0 198 0 93 0 11 0 388 0 13 0 21 0 42 0 2197 0 131 0 199 0 22 0 50 0-3580 1 67 0 170 0 15 0 0 0 259 0 41 0 6 0 41 0 16 0 110 0 1 0 8 0 137 0 10 0 19 0 26 0 53 0 1744 0 35 0 13 0 306 0 457 0 75 0 61 0-3685 1 68 0 60 0 13 0 4 0 54 0 36 0 157 0 12 0 40 0 137 0 283 0 97 0 19 0 16 0 336 0 181 0 394 0 935 0 300 0 135 0 1 0 143 0 92 0 78 0-3606 1 14 0 6 0 22 0 41 0 19 0 11 0 7 0 13 0 103 0 23 0 8 0 112 0 399 0 41 0 20 0 67 0 1468 0 289 0 31 0 25 0 94 0 41 0 34 0 201 0 13 0 3 0 17 0 107 0 16 0 239 0 13 0-3503 1 55 0 165 0 1 0 185 0 3 0 18 0 4 0 53 0 41 0 14 0 3 0 67 0 176 0 44 0 26 0 129 0 457 0 1225 0 51 0 362 0 180 0 202 0 68 0-3452 1 70 0 9 0 23 0 25 0 35 0 7 0 152 0 54 0 9 0 60 0 79 0 10 0 13 0 188 0 108 0 42 0 28 0 0 0 18 0 1782 0 97 0 22 0 165 0 169 0 88 0 184 0 10 0 58 0 50 0-3584 1 74 0 38 0 68 0 25 0 145 0 95 0 46 0 9 0 67 0 5 0 18 0 134 0 5 0 7 0 1 0 177 0 21 0 31 0 1 0 1218 0 592 0 19 0 117 0 136 0 38 0 143 0 49 0 194 0-3534 1 118 0 6 0 0 0 34 0 264 0 29 0 121 0 115 0 313 0 610 0 615 0 588 0 375 0 10 0 1 0 530 0-3706 1 36 0 45 0 135 0 51 0 114 0 93 0 104 0 25 0 149 0 56 0 2006 0 262 0 114 0 342 0-3510 1 25 0 3 0 57 0 29 0 86 0 277 0 83 0 10 0 173 0 13 0 49 0 62 0 85 0 1308 0 402 0 18 0 62 0 349 0 86 0 19 0 55 0 280 0 66 0-3635 1 12 0 14 0 35 0 30 0 304 0 22 0 72 0 22 0 38 0 64 0 51 0 142 0 85 0 91 0 78 0 779 0 857 0 49 0 416 0 21 0-3167 1 87 0 109 0 167 0 49 0 45 0 34 0 77 0 34 0 48 0 220 0 59 0 74 0 8 0 32 0 1789 0 251 0 211 0 416 0-3663 1 4 0 19 0 14 0 39 0 26 0 9 0 58 0 8 0 38 0 108 0 36 0 6 0 20 0 67 0 22 0 27 0 12 0 19 0 72 0 119 0 118 0 155 0 1310 0 323 0 93 0 85 0 588 0 128 0 155 0-3727 1 177 0 4 0 205 0 81 0 164 0 139 0 39 0 41 0 145 0 44 0 568 0 703 0 425 0 349 0 21 0 77 0 122 0 193 0 175 0 59 0-3750 1 60 0 39 0 18 0 3 0 22 0 94 0 52 0 115 0 26 0 11 0 23 0 115 0 70 0 0 0 126 0 142 0 115 0 593 0 3 0 1316 0 169 0 336 0 258 0-3682 1 60 0 5 0 71 0 57 0 43 0 135 0 29 0 351 0 5 0 21 0 116 0 43 0 44 0 0 0 49 0 340 0 1736 0 93 0 41 0 379 0 82 0 22 0-3740 1 11 0 53 0 125 0 40 0 60 0 140 0 0 0 120 0 36 0 29 0 18 0 23 0 27 0 115 0 25 0 17 0 63 0 4 0 52 0 20 0 1845 0 86 0 221 0 134 0 54 0 11 0 21 0 162 0 10 0 52 0 18 0 118 0 12 0 5 0 1 0-3724 1 32 0 2 0 102 0 27 0 22 0 6 0 36 0 228 0 31 0 56 0 215 0 6 0 3 0 62 0 11 0 39 0 18 0 101 0 949 0 734 0 29 0 90 0 84 0 4 0 23 0 179 0 368 0 84 0 56 0 2 0-3591 1 22 0 94 0 139 0 29 0 87 0 41 0 26 0 64 0 14 0 38 0 11 0 32 0 59 0 97 0 21 0 76 0 28 0 125 0 1 0 1158 0 608 0 28 0 142 0 145 0 460 0 43 0-3597 1 75 0 113 0 50 0 169 0 31 0 239 0 115 0 66 0 16 0 4 0 16 0 41 0 6 0 794 0 1075 0 15 0 393 0 19 0 89 0-3329 1 31 0 55 0 131 0 251 0 308 0 37 0 0 0 57 0 71 0 40 0 38 0 14 0 10 0 1698 0 377 0 177 0 15 0 194 0 53 0 18 0 4 0-3486 1 42 0 15 0 70 0 43 0 286 0 32 0 45 0 11 0 177 0 71 0 23 0 95 0 10 0 1190 0 518 0 31 0 3 0 37 0 46 0 136 0 167 0 463 0 11 0 19 0-3631 1 75 0 139 0 207 0 13 0 87 0 100 0 31 0 136 0 96 0 73 0 24 0 843 0 1015 0 6 0 71 0 215 0 150 0-3258 1 103 0 70 0 38 0 156 0 240 0 6 0 331 0 54 0 33 0 932 0 160 0 113 0 493 0 181 0 593 0 10 0-3531 1 64 0 42 0 3 0 112 0 32 0 152 0 16 0 6 0 24 0 163 0 187 0 44 0 5 0 30 0 32 0 24 0 8 0 37 0 513 0 305 0 1054 0 91 0 12 0 610 0 21 0-3590 1 52 0 6 0 39 0 17 0 20 0 83 0 186 0 6 0 86 0 7 0 14 0 6 0 22 0 14 0 52 0 55 0 124 0 47 0 41 0 53 0 35 0 1874 0 287 0 31 0 34 0 10 0 132 0 104 0 179 0-3596 1 7 0 75 0 135 0 2 0 53 0 271 0 12 0 14 0 206 0 10 0 104 0 63 0 8 0 801 0 1176 0 221 0 40 0 501 0-3694 1 121 0 17 0 9 0 56 0 252 0 114 0 25 0 39 0 99 0 41 0 189 0 4 0 22 0 44 0 1634 0 258 0 176 0 99 0 12 0 485 0-3598 1 65 0 27 0 29 0 3 0 19 0 110 0 17 0 20 0 101 0 11 0 76 0 13 0 178 0 50 0 59 0 33 0 33 0 61 0 752 0 1004 0 39 0 8 0 37 0 193 0 38 0 22 0 29 0 16 0 284 0-3302 1 1 0 122 0 167 0 32 0 150 0 44 0 119 0 68 0 96 0 13 0 1 0 26 0 1284 0 530 0 76 0 55 0 545 0 51 0 1 0 61 0-3587 1 81 0 10 0 20 0 5 0 32 0 10 0 57 0 164 0 63 0 9 0 35 0 33 0 115 0 4 0 217 0 139 0 5 0 8 0 1 0 41 0 1617 0 29 0 1 0 44 0 52 0 7 0 17 0 268 0 190 0 184 0 160 0-3585 1 26 0 5 0 28 0 126 0 232 0 132 0 171 0 64 0 61 0 3 0 24 0 44 0 1933 0 249 0 217 0 165 0-3414 1 20 0 126 0 228 0 52 0 28 0 43 0 54 0 8 0 9 0 89 0 64 0 56 0 21 0 37 0 23 0 55 0 889 0 1065 0 153 0 197 0 141 0 172 0 73 0-3589 1 28 0 67 0 175 0 67 0 169 0 167 0 10 0 77 0 67 0 36 0 1 0 6 0 37 0 1741 0 120 0 18 0 33 0 172 0 234 0 162 0 37 0 57 0 131 0-3684 1 60 0 98 0 218 0 10 0 16 0 56 0 73 0 31 0 12 0 23 0 21 0 107 0 35 0 41 0 103 0 42 0 20 0 30 0 7 0 2025 0 138 0 46 0-2840 1 12 0 18 0 32 0 56 0 47 0 26 0 6 0 22 0 21 0 184 0 66 0 2 0 4 0 89 0 387 0 37 0 527 0 908 0 112 0 181 0 175 0 257 0 19 0 6 0 53 0 3 0 46 0 17 0-3692 1 135 0 13 0 22 0 85 0 89 0 27 0 23 0 108 0 253 0 13 0 15 0 80 0 5 0 96 0 453 0 26 0 454 0 869 0 284 0 123 0 5 0 18 0 245 0 115 0 123 0-3676 1 78 0 13 0 43 0 30 0 188 0 14 0 3 0 21 0 6 0 22 0 18 0 31 0 40 0 3 0 21 0 26 0 175 0 0 0 112 0 28 0 13 0 2 0 63 0 1203 0 165 0 374 0 394 0 345 0 131 0 8 0 28 0 17 0 67 0-3723 1 48 0 52 0 21 0 40 0 32 0 13 0 68 0 13 0 109 0 234 0 15 0 16 0 158 0 4 0 1 0 31 0 100 0 63 0 14 0 28 0 688 0 928 0 33 0 181 0 255 0 300 0 51 0 25 0-3451 1 1 0 49 0 17 0 25 0 44 0 10 0 24 0 35 0 17 0 134 0 83 0 3 0 163 0 4 0 343 0 14 0 26 0 1763 0 8 0 734 0 155 0-3728 1 1 0 51 0 8 0 35 0 55 0 13 0 6 0 24 0 25 0 210 0 71 0 19 0 51 0 43 0 16 0 142 0 39 0 72 0 15 0 7 0 13 0 5 0 75 0 53 0 1131 0 534 0 421 0 203 0 331 0-3519 1 26 0 81 0 2 0 26 0 114 0 119 0 2 0 37 0 7 0 49 0 20 0 14 0 12 0 151 0 217 0 1721 0 60 0 114 0 163 0 15 0 447 0 52 0 88 0 18 0-3700 1 101 0 4 0 93 0 27 0 149 0 45 0 15 0 75 0 54 0 62 0 217 0 13 0 28 0 2 0 4 0 19 0 42 0 114 0 463 0 1347 0 10 0 333 0 37 0 82 0 5 0 175 0 152 0-3601 1 11 0 36 0 15 0 23 0 67 0 32 0 143 0 90 0 22 0 92 0 14 0 175 0 21 0 97 0 24 0 48 0 3 0 1761 0 2 0 7 0 50 0 15 0 55 0 343 0 252 0 59 0 99 0-3571 1 67 0 2 0 29 0 1 0 60 0 302 0 39 0 44 0 67 0 161 0 61 0 87 0 46 0 10 0 1864 0 31 0 6 0 238 0-3170 1 152 0 55 0 207 0 40 0 88 0 1 0 8 0 74 0 1 0 6 0 162 0 155 0 1087 0 915 0 1 0 163 0 64 0 13 0 442 0-3604 1 74 0 73 0 242 0 1 0 22 0 43 0 21 0 39 0 31 0 4 0 4 0 51 0 257 0 11 0 9 0 36 0 1007 0 1110 0 109 0 300 0 209 0-3685 1 80 0 5 0 42 0 8 0 43 0 62 0 55 0 242 0 14 0 30 0 28 0 13 0 63 0 126 0 1 0 26 0 16 0 2 0 57 0 71 0 17 0 1760 0 62 0 94 0 9 0 293 0 226 0 109 0-3517 1 217 0 22 0 105 0 73 0 9 0 35 0 33 0 6 0 0 0 64 0 26 0 190 0 86 0 6 0 22 0 63 0 574 0 356 0 775 0 155 0 84 0 216 0 204 0 97 0 109 0-3525 1 76 0 67 0 3 0 92 0 145 0 22 0 61 0 1 0 0 0 35 0 69 0 75 0 81 0 63 0 8 0 45 0 31 0 36 0 25 0 6 0 52 0 36 0 562 0 1045 0 90 0 189 0 489 0 146 0 51 0 92 0-3729 1 7 0 50 0 325 0 208 0 50 0 22 0 147 0 51 0 7 0 91 0 77 0 1686 0 256 0 195 0 73 0 14 0 18 0 53 0 130 0 26 0-3470 1 102 0 64 0 39 0 0 0 71 0 180 0 46 0 91 0 10 0 179 0 1 0 102 0 26 0 1073 0 684 0 383 0 38 0 134 0 474 0-3692 1 9 0 12 0 12 0 16 0 3 0 31 0 157 0 186 0 51 0 58 0 24 0 6 0 14 0 20 0 164 0 10 0 51 0 46 0 56 0 19 0 1705 0 244 0 157 0 244 0 174 0 12 0 38 0 130 0 27 0-3561 1 85 0 10 0 291 0 63 0 58 0 122 0 37 0 26 0 23 0 26 0 21 0 38 0 33 0 9 0 14 0 1238 0 508 0 165 0 64 0 289 0 28 0 13 0 167 0 61 0 22 0 194 0-3718 1 83 0 7 0 12 0 120 0 23 0 2 0 14 0 196 0 6 0 82 0 50 0 8 0 145 0 18 0 26 0 72 0 9 0 4 0 983 0 793 0 8 0 126 0 780 0 139 0-3711 1 89 0 50 0 59 0 56 0 147 0 11 0 37 0 167 0 39 0 97 0 19 0 92 0 14 0 8 0 46 0 75 0 593 0 1214 0 13 0 230 0 170 0 18 0 378 0 70 0-3708 1 10 0 123 0 3 0 2 0 26 0 11 0 20 0 25 0 4 0 12 0 10 0 9 0 131 0 48 0 14 0 38 0 41 0 73 0 165 0 19 0 5 0 67 0 53 0 7 0 26 0 2 0 33 0 35 0 1687 0 183 0 15 0 318 0 10 0 33 0 4 0 80 0 142 0-3489 1 21 0 44 0 47 0 1 0 65 0 38 0 307 0 6 0 9 0 110 0 35 0 292 0 13 0 22 0 20 0 15 0 10 0 8 0 1765 0 32 0 102 0 588 0-3485 1 40 0 150 0 28 0 147 0 10 0 0 0 2 0 11 0 5 0 25 0 14 0 41 0 32 0 88 0 208 0 649 0 1188 0 11 0 194 0 62 0 316 0 211 0 232 0-3723 1 45 0 1 0 4 0 48 0 4 0 20 0 5 0 25 0 24 0 41 0 5 0 34 0 12 0 249 0 9 0 98 0 8 0 134 0 15 0 18 0 23 0 0 0 11 0 3 0 48 0 62 0 77 0 1851 0 43 0 35 0 112 0 114 0 153 0 23 0 210 0 113 0-3647 1 88 0 13 0 290 0 161 0 183 0 35 0 84 0 40 0 37 0 1746 0 222 0 40 0 209 0 6 0 65 0 35 0 175 0 150 0-3616 1 0 0 6 0 107 0 130 0 26 0 7 0 23 0 119 0 84 0 88 0 222 0 31 0 3 0 34 0 63 0 39 0 20 0 1 0 1883 0 37 0 25 0 140 0 375 0 35 0-3484 1 95 0 8 0 36 0 6 0 38 0 4 0 24 0 210 0 81 0 8 0 20 0 65 0 226 0 1884 0 619 0 15 0 299 0-3636 1 0 0 27 0 4 0 7 0 21 0 146 0 16 0 1 0 46 0 7 0 10 0 82 0 121 0 72 0 12 0 225 0 29 0 7 0 7 0 25 0 36 0 40 0 7 0 42 0 1901 0 184 0 70 0 294 0 42 0 235 0-3684 1 27 0 82 0 22 0 214 0 94 0 21 0 1 0 103 0 13 0 276 0 16 0 26 0 59 0 25 0 43 0 895 0 160 0 612 0 114 0 121 0 91 0 69 0 7 0 183 0 249 0-3571 1 41 0 75 0 3 0 10 0 4 0 15 0 78 0 3 0 25 0 26 0 5 0 8 0 90 0 19 0 119 0 39 0 52 0 59 0 115 0 109 0 7 0 36 0 17 0 929 0 500 0 714 0 232 0 242 0 38 0 58 0-3669 1 84 0 2 0 36 0 18 0 32 0 52 0 17 0 28 0 31 0 81 0 6 0 58 0 15 0 30 0 57 0 6 0 248 0 74 0 22 0 6 0 27 0 80 0 19 0 2707 0-3727 1 8 0 63 0 217 0 210 0 47 0 44 0 33 0 52 0 102 0 56 0 84 0 39 0 916 0 998 0 39 0 4 0 369 0 26 0 158 0 97 0-3521 1 2 0 3 0 77 0 59 0 68 0 7 0 33 0 181 0 1 0 35 0 106 0 150 0 12 0 184 0 41 0 37 0 845 0 450 0 358 0 68 0 396 0 464 0-3334 1 110 0 5 0 98 0 9 0 46 0 86 0 7 0 142 0 69 0 43 0 7 0 49 0 16 0 1 0 2112 0 14 0 65 0 499 0-3578 1 11 0 12 0 42 0 9 0 5 0 235 0 55 0 24 0 40 0 7 0 2 0 33 0 62 0 14 0 136 0 51 0 15 0 39 0 31 0 71 0 1 0 1214 0 183 0 316 0 163 0 454 0 164 0 69 0 89 0-3560 1 55 0 34 0 2 0 5 0 27 0 5 0 21 0 64 0 3 0 4 0 144 0 49 0 26 0 1 0 62 0 75 0 27 0 134 0 149 0 7 0 86 0 1912 0 337 0 348 0 20 0-3617 1 31 0 45 0 91 0 27 0 23 0 121 0 236 0 21 0 22 0 209 0 12 0 53 0 14 0 31 0 759 0 1032 0 82 0 697 0 4 0 16 0 122 0-3663 1 7 0 53 0 18 0 4 0 46 0 82 0 3 0 170 0 23 0 4 0 2 0 16 0 54 0 67 0 8 0 44 0 11 0 12 0 203 0 99 0 55 0 16 0 4 0 964 0 673 0 70 0 12 0 47 0 89 0 41 0 128 0 60 0 15 0 143 0 179 0 38 0 160 0 23 0-3688 1 30 0 60 0 98 0 115 0 85 0 21 0 99 0 32 0 27 0 30 0 70 0 196 0 35 0 6 0 6 0 3 0 120 0 422 0 701 0 549 0 94 0 78 0 53 0 729 0 70 0-3694 1 85 0 17 0 18 0 32 0 8 0 23 0 0 0 64 0 113 0 4 0 23 0 99 0 146 0 5 0 1 0 126 0 17 0 89 0 27 0 15 0 79 0 9 0 10 0 1261 0 376 0 53 0 76 0 23 0 241 0 141 0 265 0 58 0-3537 1 43 0 8 0 6 0 13 0 8 0 129 0 0 0 5 0 49 0 235 0 2 0 46 0 17 0 5 0 39 0 65 0 131 0 70 0 17 0 108 0 1178 0 501 0 57 0 439 0 307 0 155 0-3512 1 45 0 58 0 64 0 4 0 94 0 39 0 21 0 110 0 31 0 24 0 6 0 36 0 139 0 27 0 25 0 9 0 39 0 55 0 105 0 1851 0 158 0 77 0 15 0 189 0 150 0 27 0 125 0-3636 1 0 0 8 0 4 0 103 0 133 0 132 0 18 0 27 0 26 0 44 0 20 0 35 0 16 0 29 0 67 0 142 0 178 0 14 0 19 0 1331 0 546 0 41 0 193 0 31 0 392 0 14 0 123 0 48 0-3737 1 6 0 6 0 107 0 6 0 29 0 25 0 61 0 174 0 61 0 39 0 12 0 24 0 59 0 57 0 132 0 10 0 117 0 67 0 28 0 971 0 846 0 58 0 309 0 349 0-3554 1 8 0 18 0 79 0 15 0 6 0 3 0 135 0 2 0 151 0 13 0 115 0 10 0 12 0 16 0 65 0 116 0 16 0 10 0 132 0 56 0 18 0 10 0 16 0 6 0 4 0 5 0 8 0 1300 0 381 0 82 0 59 0 208 0 227 0 386 0-3687 1 9 0 14 0 6 0 1 0 23 0 16 0 11 0 48 0 42 0 18 0 84 0 22 0 91 0 17 0 123 0 49 0 58 0 186 0 2 0 31 0 20 0 2 0 3 0 147 0 8 0 12 0 3 0 2034 0 376 0 78 0 178 0 20 0-3739 1 25 0 41 0 13 0 23 0 19 0 0 0 13 0 89 0 159 0 75 0 2 0 85 0 302 0 62 0 14 0 79 0 386 0 484 0 932 0 318 0 110 0 123 0 10 0 303 0 44 0-3693 1 47 0 1 0 29 0 20 0 45 0 15 0 45 0 5 0 45 0 135 0 119 0 9 0 52 0 19 0 10 0 28 0 19 0 114 0 12 0 24 0 95 0 48 0 8 0 104 0 1896 0 651 0-3551 1 17 0 78 0 12 0 17 0 10 0 36 0 52 0 199 0 114 0 24 0 20 0 15 0 29 0 294 0 47 0 1699 0 108 0 11 0 57 0 230 0 12 0 99 0 327 0 141 0-3704 1 21 0 29 0 10 0 13 0 15 0 40 0 79 0 46 0 155 0 40 0 28 0 3 0 28 0 87 0 72 0 154 0 31 0 55 0 72 0 13 0 13 0 23 0 1346 0 324 0 476 0 25 0 6 0 46 0 80 0 11 0 165 0 49 0 123 0-3676 1 16 0 20 0 63 0 142 0 168 0 26 0 1 0 189 0 25 0 112 0 31 0 9 0 10 0 34 0 75 0 6 0 6 0 56 0 18 0 19 0 3 0 1130 0 732 0 64 0 108 0 37 0 42 0 101 0 402 0-3646 1 102 0 15 0 52 0 68 0 15 0 30 0 123 0 18 0 70 0 39 0 10 0 71 0 2 0 41 0 20 0 90 0 127 0 15 0 49 0 79 0 1284 0 640 0 223 0 7 0 5 0 520 0-3723 1 14 0 96 0 9 0 62 0 35 0 80 0 165 0 38 0 26 0 94 0 60 0 105 0 34 0 32 0 7 0 30 0 137 0 23 0 1335 0 323 0 223 0 51 0 110 0 3 0 69 0 411 0 14 0-3524 1 47 0 112 0 33 0 144 0 120 0 14 0 260 0 73 0 67 0 11 0 22 0 15 0 64 0 10 0 748 0 1017 0 57 0 60 0 247 0 93 0 52 0 183 0 57 0 167 0-3581 1 59 0 37 0 40 0 101 0 4 0 74 0 40 0 5 0 125 0 32 0 167 0 26 0 93 0 18 0 46 0 19 0 1705 0 127 0 107 0 99 0 165 0 62 0 53 0 135 0 133 0 59 0-3551 1 30 0 9 0 34 0 11 0 26 0 59 0 89 0 1 0 10 0 59 0 30 0 72 0 23 0 19 0 81 0 114 0 124 0 6 0 45 0 21 0 26 0 48 0 679 0 188 0 891 0 309 0 37 0 86 0 20 0 71 0 2 0 128 0 36 0-3515 1 4 0 25 0 155 0 3 0 45 0 17 0 4 0 164 0 24 0 68 0 0 0 12 0 15 0 28 0 68 0 51 0 97 0 74 0 20 0 87 0 35 0 59 0 1802 0 299 0 144 0 58 0 138 0 36 0 2 0 13 0 10 0 146 0-3703 1 57 0 8 0 4 0 18 0 54 0 11 0 35 0 42 0 19 0 8 0 133 0 14 0 22 0 36 0 44 0 51 0 273 0 73 0 94 0 57 0 7 0 1625 0 138 0 154 0 341 0 156 0 113 0 130 0-3718 1 27 0 20 0 35 0 38 0 51 0 9 0 13 0 5 0 49 0 1 0 1 0 187 0 17 0 50 0 15 0 70 0 2 0 8 0 33 0 141 0 34 0 9 0 44 0 39 0 1031 0 861 0 96 0 292 0 125 0 18 0 41 0-3236 1 61 0 62 0 38 0 173 0 10 0 1 0 30 0 78 0 38 0 155 0 160 0 47 0 13 0 830 0 437 0 462 0 4 0 257 0 335 0 131 0 28 0 208 0-3674 1 37 0 61 0 23 0 16 0 9 0 31 0 72 0 366 0 35 0 131 0 34 0 30 0 60 0 11 0 8 0 76 0 8 0 18 0 413 0 1236 0 70 0 17 0 48 0 25 0 53 0 385 0 367 0-3651 1 24 0 78 0 29 0 35 0 27 0 21 0 1 0 215 0 87 0 51 0 74 0 18 0 108 0 9 0 5 0 91 0 35 0 113 0 765 0 504 0 441 0 36 0 115 0 95 0 201 0 69 0 26 0 79 0 157 0 13 0 36 0 47 0-3540 1 117 0 264 0 4 0 194 0 12 0 115 0 14 0 205 0 11 0 1189 0 499 0 572 0 194 0 45 0 148 0-3630 1 38 0 11 0 13 0 89 0 5 0 56 0 29 0 22 0 4 0 16 0 139 0 12 0 78 0 104 0 2 0 41 0 329 0 2 0 27 0 7 0 14 0 1126 0 540 0 66 0 59 0 34 0 308 0 73 0 11 0 85 0 122 0 111 0-3592 1 21 0 49 0 46 0 4 0 16 0 33 0 72 0 12 0 30 0 2 0 148 0 35 0 33 0 31 0 42 0 92 0 117 0 25 0 241 0 1674 0 26 0 195 0 596 0 144 0-3675 1 17 0 96 0 6 0 53 0 31 0 17 0 69 0 118 0 66 0 57 0 13 0 84 0 13 0 13 0 165 0 162 0 17 0 12 0 6 0 1 0 19 0 9 0 440 0 345 0 1308 0 158 0 40 0 148 0-3417 1 14 0 16 0 76 0 13 0 31 0 211 0 87 0 51 0 225 0 8 0 77 0 173 0 1758 0 18 0 0 0 75 0 6 0 43 0 160 0 174 0 188 0 176 0 6 0-3654 1 16 0 52 0 51 0 3 0 164 0 110 0 23 0 27 0 33 0 2 0 35 0 44 0 0 0 26 0 26 0 51 0 141 0 57 0 3 0 13 0 22 0 40 0 10 0 28 0 39 0 26 0 480 0 1200 0 52 0 58 0 232 0 231 0 241 0-3447 1 14 0 3 0 13 0 11 0 1 0 20 0 14 0 68 0 11 0 13 0 22 0 114 0 72 0 100 0 22 0 4 0 45 0 127 0 67 0 14 0 59 0 8 0 17 0 19 0 75 0 42 0 1733 0 5 0 82 0 22 0 287 0 33 0 20 0 258 0 73 0-3565 1 13 0 38 0 4 0 48 0 61 0 11 0 196 0 8 0 16 0 17 0 9 0 3 0 9 0 107 0 21 0 53 0 154 0 96 0 28 0 7 0 23 0 18 0 99 0 697 0 155 0 19 0 752 0 237 0 343 0 2 0 54 0 128 0 77 0 46 0 62 0 49 0 5 0 20 0-3651 1 63 0 9 0 8 0 36 0 26 0 12 0 57 0 4 0 13 0 126 0 12 0 85 0 12 0 4 0 8 0 22 0 8 0 46 0 0 0 80 0 128 0 7 0 98 0 26 0 37 0 15 0 7 0 54 0 954 0 111 0 1 0 687 0 123 0 19 0 240 0 143 0 10 0 122 0 118 0 54 0 96 0-3734 1 82 0 17 0 25 0 11 0 3 0 58 0 53 0 29 0 4 0 105 0 7 0 75 0 70 0 48 0 37 0 13 0 142 0 24 0 15 0 26 0 14 0 37 0 676 0 39 0 596 0 541 0 0 0 36 0 67 0 329 0 126 0 145 0 238 0-3679 1 44 0 16 0 324 0 84 0 47 0 14 0 18 0 35 0 81 0 7 0 115 0 114 0 49 0 29 0 62 0 7 0 1094 0 65 0 177 0 585 0 140 0 93 0 145 0 147 0 65 0 38 0 130 0-3717 1 35 0 3 0 5 0 9 0 55 0 40 0 63 0 54 0 5 0 160 0 3 0 10 0 19 0 7 0 170 0 118 0 51 0 154 0 16 0 29 0 27 0 18 0 310 0 231 0 689 0 50 0 423 0 347 0 104 0 104 0 206 0 213 0 1 0-3696 1 96 0 101 0 32 0 158 0 0 0 24 0 136 0 19 0 52 0 18 0 237 0 47 0 92 0 432 0 1218 0 101 0 78 0 47 0 22 0 0 0 377 0 234 0-3502 1 29 0 58 0 4 0 10 0 41 0 86 0 131 0 50 0 61 0 12 0 64 0 17 0 182 0 17 0 9 0 79 0 12 0 14 0 24 0 40 0 56 0 921 0 853 0 246 0 98 0 8 0 39 0 104 0 262 0 5 0 91 0 47 0-3738 1 101 0 18 0 9 0 26 0 6 0 30 0 45 0 229 0 84 0 28 0 4 0 24 0 2 0 22 0 183 0 37 0 43 0 77 0 4 0 1719 0 169 0 72 0 156 0 66 0 35 0 84 0-3256 1 12 0 5 0 29 0 57 0 7 0 62 0 10 0 74 0 2 0 13 0 13 0 112 0 75 0 2 0 22 0 56 0 2 0 27 0 44 0 15 0 114 0 74 0 1 0 119 0 794 0 262 0 697 0 184 0 586 0 21 0 5 0 172 0-3650 1 5 0 31 0 44 0 3 0 24 0 92 0 29 0 16 0 15 0 93 0 13 0 7 0 58 0 40 0 5 0 127 0 179 0 25 0 86 0 24 0 68 0 44 0 906 0 800 0 66 0 26 0 112 0 217 0 291 0 2 0 34 0 21 0 34 0 71 0-3632 1 28 0 52 0 1 0 192 0 2 0 95 0 34 0 0 0 77 0 35 0 17 0 3 0 51 0 35 0 10 0 138 0 16 0 45 0 8 0 7 0 7 0 6 0 5 0 41 0 45 0 18 0 38 0 19 0 835 0 1098 0 0 0 123 0 60 0 294 0 8 0 273 0 15 0-3686 1 24 0 53 0 5 0 43 0 21 0 8 0 184 0 27 0 32 0 84 0 25 0 42 0 63 0 7 0 316 0 8 0 29 0 42 0 700 0 90 0 843 0 57 0 411 0 104 0 89 0 384 0-3707 1 260 0 133 0 55 0 37 0 77 0 7 0 286 0 9 0 51 0 4 0 56 0 5 0 2 0 29 0 6 0 5 0 6 0 1884 0 110 0 47 0 414 0 47 0 158 0-3632 1 20 0 28 0 28 0 10 0 23 0 14 0 177 0 110 0 18 0 9 0 3 0 104 0 129 0 145 0 1937 0 93 0 156 0 132 0 280 0 59 0 0 0 55 0 45 0-3658 1 40 0 21 0 22 0 3 0 16 0 9 0 140 0 25 0 8 0 117 0 24 0 107 0 29 0 24 0 38 0 9 0 126 0 41 0 2 0 22 0 0 0 62 0 3 0 15 0 3 0 29 0 1729 0 25 0 102 0 166 0 245 0 87 0 30 0 165 0 40 0 66 0 110 0-3695 1 21 0 9 0 0 0 61 0 11 0 69 0 45 0 17 0 9 0 15 0 134 0 73 0 27 0 136 0 30 0 103 0 43 0 13 0 55 0 34 0 16 0 27 0 27 0 1794 0 134 0 259 0 72 0 34 0 68 0 12 0 128 0 36 0 90 0 7 0-3586 1 79 0 81 0 1 0 16 0 24 0 190 0 33 0 4 0 53 0 1 0 29 0 14 0 76 0 146 0 9 0 29 0 82 0 130 0 1091 0 546 0 99 0 79 0 102 0 138 0 32 0 26 0 203 0 99 0 153 0-3574 1 150 0 21 0 47 0 6 0 33 0 9 0 119 0 37 0 11 0 6 0 52 0 105 0 48 0 114 0 26 0 23 0 0 0 14 0 62 0 38 0 398 0 1454 0 439 0 38 0 79 0 213 0-3543 1 77 0 43 0 21 0 81 0 39 0 106 0 51 0 14 0 26 0 79 0 31 0 86 0 97 0 5 0 13 0 73 0 7 0 11 0 9 0 584 0 916 0 479 0 39 0 200 0 100 0 109 0 346 0 39 0-3703 1 26 0 30 0 9 0 12 0 2 0 65 0 5 0 73 0 13 0 181 0 29 0 2 0 144 0 51 0 181 0 18 0 5 0 60 0 3 0 41 0 2 0 96 0 1674 0 52 0 167 0 299 0 471 0 13 0-3664 1 161 0 11 0 5 0 28 0 155 0 32 0 0 0 168 0 16 0 171 0 108 0 22 0 45 0 45 0 5 0 30 0 859 0 1216 0 340 0 33 0-3469 1 31 0 21 0 9 0 31 0 63 0 82 0 1 0 6 0 231 0 34 0 87 0 137 0 8 0 60 0 69 0 13 0 2 0 52 0 23 0 26 0 33 0 515 0 346 0 785 0 4 0 164 0 257 0 38 0 62 0 51 0 52 0 2 0 157 0 72 0 3 0 10 0 113 0-3693 1 1 0 52 0 10 0 127 0 2 0 259 0 5 0 106 0 91 0 124 0 2 0 49 0 14 0 80 0 5 0 2 0 39 0 17 0 26 0 28 0 778 0 442 0 558 0 110 0 135 0 203 0 216 0 231 0 15 0-3651 1 38 0 23 0 146 0 95 0 68 0 13 0 6 0 34 0 9 0 82 0 30 0 17 0 43 0 128 0 60 0 20 0 2 0 27 0 24 0 12 0 57 0 20 0 1746 0 13 0 43 0 65 0 188 0 20 0 101 0 89 0 55 0 92 0 14 0 101 0 113 0-3664 1 35 0 23 0 43 0 48 0 110 0 29 0 81 0 20 0 10 0 43 0 22 0 45 0 121 0 142 0 68 0 42 0 30 0 79 0 3 0 2 0 30 0 483 0 96 0 1080 0 9 0 58 0 113 0 18 0 189 0 147 0 6 0 104 0 7 0 115 0 79 0 38 0-3568 1 177 0 12 0 0 0 26 0 51 0 23 0 115 0 78 0 9 0 35 0 46 0 6 0 5 0 48 0 159 0 7 0 49 0 48 0 29 0 2 0 9 0 20 0 69 0 15 0 943 0 416 0 369 0 74 0 55 0 16 0 302 0 139 0 129 0 24 0 34 0 103 0 66 0 23 0-3663 1 10 0 20 0 53 0 2 0 66 0 35 0 4 0 145 0 33 0 8 0 9 0 29 0 22 0 2 0 47 0 53 0 14 0 42 0 112 0 37 0 3 0 44 0 55 0 56 0 67 0 313 0 882 0 469 0 87 0 65 0 74 0 200 0 68 0 95 0 260 0 174 0 13 0-3750 1 48 0 14 0 84 0 46 0 31 0 23 0 169 0 55 0 2 0 10 0 98 0 54 0 141 0 43 0 11 0 30 0 36 0 111 0 438 0 811 0 137 0 325 0 168 0 89 0 100 0 16 0 248 0 204 0 36 0 73 0 87 0-3709 1 63 0 11 0 86 0 8 0 43 0 161 0 7 0 1 0 4 0 27 0 16 0 43 0 0 0 6 0 28 0 65 0 4 0 66 0 0 0 113 0 41 0 27 0 9 0 18 0 14 0 13 0 60 0 9 0 21 0 0 0 52 0 23 0 844 0 796 0 68 0 66 0 25 0 103 0 101 0 110 0 32 0 31 0 48 0 64 0 91 0 1 0 36 0 3 0 84 0 61 0 39 0 56 0-3703 1 51 0 63 0 78 0 234 0 118 0 12 0 63 0 12 0 4 0 182 0 27 0 120 0 34 0 5 0 1000 0 183 0 509 0 28 0 38 0 54 0 81 0 201 0 233 0 266 0 87 0 17 0-3702 1 21 0 111 0 34 0 7 0 5 0 8 0 29 0 7 0 46 0 109 0 26 0 100 0 33 0 103 0 185 0 29 0 22 0 23 0 50 0 33 0 48 0 917 0 777 0 13 0 324 0 15 0 499 0 95 0 4 0 26 0 19 0-3715 1 35 0 8 0 63 0 27 0 64 0 22 0 45 0 111 0 110 0 22 0 37 0 62 0 0 0 20 0 221 0 13 0 95 0 23 0 27 0 4 0 1837 0 1 0 70 0 144 0 40 0 54 0 51 0 286 0 27 0 79 0 89 0-3613 1 30 0 46 0 16 0 31 0 218 0 101 0 19 0 7 0 24 0 1 0 3 0 27 0 3 0 5 0 12 0 34 0 156 0 93 0 28 0 18 0 28 0 24 0 5 0 4 0 7 0 1649 0 53 0 81 0 53 0 39 0 35 0 8 0 153 0 60 0 313 0 136 0 34 0 20 0-3637 1 1 0 36 0 2 0 134 0 5 0 8 0 1 0 3 0 55 0 126 0 10 0 45 0 18 0 21 0 49 0 75 0 166 0 84 0 97 0 25 0 18 0 3 0 18 0 7 0 1127 0 573 0 23 0 1 0 36 0 259 0 173 0 40 0 64 0 115 0 119 0 49 0 5 0 103 0-3613 1 7 0 34 0 245 0 96 0 4 0 35 0 81 0 7 0 18 0 138 0 16 0 19 0 1 0 5 0 1 0 35 0 13 0 38 0 67 0 72 0 890 0 480 0 292 0 15 0 26 0 63 0 150 0 10 0 152 0 93 0 14 0 46 0 221 0 26 0 15 0 23 0-3562 1 46 0 40 0 15 0 7 0 14 0 9 0 3 0 151 0 257 0 259 0 2 0 60 0 34 0 8 0 53 0 21 0 1847 0 89 0 18 0 27 0 16 0 282 0 258 0 19 0 2 0 27 0 39 0 9 0 1 0 22 0-3597 1 6 0 53 0 4 0 43 0 59 0 53 0 149 0 77 0 12 0 31 0 6 0 64 0 11 0 32 0 40 0 141 0 53 0 35 0 1 0 36 0 61 0 8 0 1 0 358 0 1042 0 265 0 77 0 38 0 69 0 4 0 247 0 93 0 255 0 64 0-3439 1 1 0 29 0 3 0 13 0 36 0 0 0 106 0 126 0 99 0 12 0 28 0 10 0 22 0 2 0 0 0 45 0 149 0 22 0 43 0 48 0 117 0 12 0 25 0 1657 0 254 0 196 0 473 0 21 0 48 0 4 0-3646 1 34 0 35 0 53 0 229 0 86 0 9 0 68 0 83 0 1 0 16 0 14 0 102 0 54 0 26 0 2 0 40 0 25 0 65 0 52 0 450 0 1257 0 61 0 16 0 242 0 85 0 68 0 80 0 148 0 12 0 10 0 123 0 54 0-3628 1 95 0 2 0 4 0 76 0 6 0 51 0 14 0 213 0 4 0 19 0 155 0 22 0 135 0 29 0 18 0 12 0 13 0 7 0 31 0 41 0 33 0 12 0 51 0 446 0 843 0 390 0 16 0 153 0 211 0 10 0 18 0 3 0 17 0 34 0 18 0 91 0 346 0 82 0 13 0-3722 1 8 0 11 0 15 0 14 0 8 0 14 0 18 0 5 0 37 0 11 0 20 0 212 0 52 0 3 0 9 0 19 0 45 0 33 0 50 0 4 0 46 0 113 0 36 0 37 0 31 0 0 0 34 0 2 0 5 0 1 0 2 0 24 0 6 0 7 0 7 0 64 0 1171 0 667 0 15 0 321 0 28 0 126 0 243 0 106 0 17 0-3646 1 74 0 46 0 30 0 14 0 1 0 46 0 304 0 15 0 193 0 103 0 29 0 22 0 56 0 7 0 40 0 416 0 1247 0 71 0 331 0 44 0 4 0 14 0 26 0 21 0 70 0 154 0 75 0 16 0 12 0 158 0 13 0-3669 1 41 0 47 0 11 0 121 0 103 0 4 0 8 0 27 0 19 0 37 0 190 0 222 0 22 0 30 0 39 0 18 0 14 0 3 0 24 0 1652 0 153 0 32 0 65 0 181 0 20 0 36 0 149 0 261 0-3563 1 170 0 8 0 13 0 6 0 6 0 67 0 104 0 7 0 49 0 33 0 51 0 29 0 60 0 46 0 95 0 27 0 7 0 32 0 24 0 72 0 52 0 47 0 8 0 20 0 1663 0 100 0 18 0 72 0 270 0 39 0 382 0 76 0-3666 1 63 0 63 0 33 0 84 0 179 0 44 0 107 0 182 0 31 0 2 0 23 0 7 0 39 0 19 0 84 0 2135 0 134 0 30 0 70 0 116 0 73 0 14 0 1 0 147 0-3525 1 73 0 17 0 39 0 111 0 4 0 29 0 44 0 65 0 52 0 3 0 21 0 55 0 144 0 7 0 30 0 20 0 2 0 10 0 25 0 34 0 10 0 41 0 60 0 454 0 337 0 1060 0 162 0 172 0 56 0 13 0 221 0 7 0 163 0 6 0 16 0 17 0-3713 1 6 0 99 0 22 0 13 0 32 0 16 0 19 0 25 0 151 0 26 0 50 0 53 0 223 0 19 0 9 0 8 0 110 0 37 0 14 0 4 0 46 0 51 0 1844 0 148 0 79 0 14 0 63 0 35 0 33 0 79 0 361 0-3710 1 5 0 21 0 13 0 28 0 70 0 21 0 2 0 1 0 20 0 1 0 59 0 29 0 143 0 49 0 19 0 73 0 21 0 35 0 1 0 34 0 121 0 49 0 28 0 75 0 13 0 40 0 70 0 918 0 723 0 147 0 35 0 243 0 141 0 67 0 27 0 120 0 72 0 58 0 13 0 28 0 32 0 41 0-3682 1 74 0 22 0 7 0 95 0 175 0 3 0 162 0 5 0 32 0 27 0 21 0 16 0 175 0 5 0 67 0 38 0 11 0 18 0 2 0 412 0 397 0 30 0 155 0 10 0 699 0 565 0 71 0-3337 1 1 0 19 0 94 0 22 0 55 0 25 0 2 0 10 0 26 0 1 0 2 0 16 0 116 0 13 0 10 0 10 0 52 0 40 0 35 0 20 0 46 0 13 0 18 0 141 0 48 0 17 0 164 0 1164 0 508 0 17 0 234 0 159 0 14 0 61 0 8 0 105 0 40 0 127 0 24 0 17 0 121 0 13 0 3 0 6 0 88 0-3716 1 91 0 68 0 94 0 9 0 25 0 1 0 102 0 5 0 6 0 72 0 30 0 25 0 52 0 95 0 94 0 13 0 137 0 102 0 15 0 15 0 379 0 99 0 744 0 401 0 188 0 67 0 154 0 45 0 25 0 55 0 5 0 103 0 37 0 170 0 25 0 81 0-3638 1 8 0 6 0 52 0 40 0 31 0 35 0 14 0 4 0 11 0 30 0 21 0 19 0 4 0 15 0 141 0 23 0 178 0 17 0 21 0 5 0 108 0 42 0 43 0 35 0 86 0 26 0 33 0 24 0 1052 0 287 0 302 0 38 0 106 0 71 0 36 0 5 0 1 0 156 0 115 0 102 0 246 0 22 0 42 0 24 0 31 0-3691 1 9 0 20 0 73 0 18 0 32 0 81 0 4 0 22 0 15 0 3 0 7 0 100 0 41 0 3 0 17 0 16 0 12 0 48 0 44 0 11 0 50 0 1 0 128 0 12 0 17 0 69 0 8 0 38 0 41 0 4 0 41 0 32 0 550 0 1098 0 18 0 16 0 10 0 34 0 93 0 125 0 123 0 169 0 196 0 82 0 122 0-3666 1 10 0 166 0 11 0 33 0 234 0 65 0 10 0 3 0 83 0 32 0 30 0 170 0 33 0 41 0 34 0 61 0 1951 0 111 0 23 0 21 0 100 0 65 0 11 0 24 0 23 0 12 0 148 0 20 0 62 0 34 0 9 0 78 0 2 0 19 0-3728 1 4 0 118 0 17 0 3 0 10 0 10 0 29 0 30 0 15 0 6 0 41 0 141 0 93 0 55 0 10 0 8 0 48 0 167 0 10 0 47 0 48 0 28 0 10 0 16 0 87 0 1216 0 29 0 481 0 50 0 104 0 266 0 112 0 2 0 13 0 2 0 22 0 188 0-3541 1 9 0 8 0 4 0 29 0 11 0 12 0 75 0 8 0 1 0 11 0 14 0 80 0 124 0 11 0 1 0 22 0 5 0 6 0 13 0 70 0 36 0 29 0 32 0 170 0 15 0 0 0 24 0 114 0 55 0 70 0 1219 0 432 0 30 0 4 0 42 0 17 0 31 0 64 0 226 0 3 0 102 0 241 0 63 0 32 0 147 0-3711 1 1 0 34 0 34 0 12 0 28 0 45 0 19 0 76 0 44 0 126 0 15 0 67 0 24 0 8 0 61 0 49 0 146 0 3 0 55 0 21 0 55 0 5 0 815 0 1075 0 349 0 74 0 326 0 58 0 86 0-3685 1 34 0 20 0 1 0 32 0 8 0 82 0 37 0 12 0 23 0 165 0 4 0 12 0 17 0 66 0 24 0 35 0 39 0 50 0 84 0 93 0 27 0 4 0 76 0 14 0 5 0 67 0 441 0 44 0 274 0 955 0 2 0 103 0 55 0 31 0 224 0 66 0 94 0 18 0 124 0 16 0 56 0 103 0 74 0-3701 1 6 0 40 0 48 0 3 0 14 0 38 0 12 0 16 0 44 0 184 0 79 0 3 0 2 0 52 0 1 0 15 0 60 0 174 0 0 0 42 0 2 0 59 0 73 0 12 0 5 0 46 0 5 0 1 0 454 0 314 0 848 0 78 0 61 0 44 0 29 0 8 0 41 0 19 0 136 0 36 0 115 0 5 0 54 0 138 0 202 0 48 0-3696 1 58 0 4 0 11 0 21 0 49 0 252 0 14 0 0 0 126 0 86 0 9 0 4 0 29 0 110 0 5 0 18 0 19 0 1 0 94 0 32 0 35 0 38 0 50 0 439 0 405 0 283 0 119 0 457 0 62 0 0 0 45 0 187 0 109 0 12 0 65 0 10 0 50 0 8 0 158 0 11 0 34 0 112 0 16 0 22 0 34 0-3703 1 7 0 3 0 36 0 73 0 45 0 32 0 41 0 141 0 5 0 30 0 130 0 58 0 16 0 26 0 13 0 0 0 21 0 94 0 14 0 155 0 7 0 5 0 23 0 47 0 16 0 28 0 547 0 1356 0 94 0 56 0 13 0 8 0 65 0 86 0 284 0 118 0 27 0-3677 1 2 0 23 0 8 0 75 0 0 0 6 0 26 0 7 0 53 0 38 0 115 0 54 0 222 0 121 0 1 0 7 0 60 0 15 0 33 0 39 0 2 0 92 0 769 0 351 0 77 0 523 0 107 0 43 0 46 0 102 0 38 0 109 0 365 0 12 0 30 0 33 0 18 0 73 0-3709 1 67 0 7 0 10 0 4 0 13 0 16 0 54 0 5 0 19 0 162 0 49 0 35 0 84 0 46 0 27 0 16 0 26 0 163 0 43 0 56 0 24 0 48 0 2 0 12 0 35 0 413 0 5 0 1270 0 7 0 228 0 152 0 56 0 11 0 68 0 88 0 5 0 112 0 21 0 26 0 93 0-3525 1 10 0 76 0 86 0 3 0 1 0 23 0 10 0 131 0 76 0 0 0 5 0 15 0 15 0 31 0 70 0 4 0 124 0 16 0 59 0 22 0 28 0 21 0 85 0 390 0 134 0 1223 0 10 0 67 0 65 0 381 0 74 0 19 0 141 0 109 0 47 0-3652 1 10 0 35 0 6 0 40 0 16 0 91 0 2 0 9 0 46 0 7 0 11 0 163 0 7 0 67 0 65 0 73 0 6 0 9 0 137 0 22 0 112 0 16 0 38 0 1 0 11 0 4 0 623 0 628 0 630 0 255 0 53 0 39 0 28 0 45 0 29 0 249 0 35 0-3569 1 3 0 68 0 13 0 8 0 4 0 10 0 4 0 15 0 7 0 2 0 13 0 42 0 50 0 97 0 27 0 64 0 18 0 4 0 2 0 59 0 21 0 33 0 43 0 5 0 145 0 47 0 25 0 3 0 4 0 88 0 17 0 2 0 605 0 398 0 293 0 420 0 121 0 322 0 291 0 36 0 40 0 176 0-3698 1 11 0 65 0 33 0 30 0 121 0 192 0 66 0 5 0 8 0 3 0 35 0 31 0 3 0 23 0 7 0 184 0 28 0 55 0 29 0 38 0 11 0 43 0 33 0 15 0 389 0 425 0 16 0 1387 0 33 0 34 0 174 0 118 0 33 0 9 0-3654 1 28 0 94 0 40 0 58 0 5 0 39 0 195 0 2 0 4 0 13 0 6 0 23 0 33 0 276 0 28 0 47 0 15 0 2 0 98 0 407 0 140 0 376 0 763 0 74 0 12 0 72 0 18 0 184 0 32 0 166 0 15 0 67 0 151 0 80 0 14 0 95 0-3707 1 12 0 33 0 26 0 85 0 80 0 11 0 6 0 22 0 174 0 150 0 28 0 5 0 15 0 162 0 11 0 91 0 25 0 2 0 8 0 75 0 8 0 1131 0 69 0 1 0 183 0 293 0 7 0 77 0 67 0 32 0 23 0 33 0 162 0 14 0 31 0 20 0 24 0 1 0 269 0 39 0 8 0 52 0 13 0 7 0 12 0 10 0 59 0 44 0-3624 1 9 0 20 0 2 0 4 0 54 0 25 0 6 0 1 0 10 0 27 0 4 0 0 0 10 0 163 0 76 0 58 0 12 0 35 0 209 0 13 0 1 0 11 0 166 0 5 0 17 0 5 0 422 0 110 0 667 0 13 0 540 0 29 0 33 0 58 0 180 0 14 0 97 0 38 0 106 0 109 0 107 0 64 0 76 0-3684 1 47 0 58 0 28 0 7 0 6 0 2 0 2 0 9 0 49 0 23 0 60 0 181 0 8 0 11 0 32 0 17 0 73 0 16 0 45 0 100 0 14 0 2 0 1 0 94 0 74 0 33 0 58 0 356 0 859 0 122 0 299 0 258 0 111 0 113 0 1 0 167 0 399 0-3745 1 66 0 42 0 4 0 68 0 11 0 94 0 125 0 33 0 22 0 32 0 51 0 17 0 25 0 8 0 12 0 0 0 7 0 228 0 51 0 17 0 1 0 27 0 2 0 12 0 19 0 26 0 39 0 918 0 256 0 505 0 66 0 13 0 117 0 195 0 52 0 32 0 13 0 72 0 36 0 40 0 144 0 92 0 17 0 28 0 62 0 43 0 4 0-3733 1 56 0 9 0 13 0 20 0 133 0 9 0 6 0 31 0 96 0 16 0 9 0 23 0 85 0 38 0 86 0 331 0 87 0 567 0 25 0 167 0 477 0 81 0 412 0 39 0 7 0 257 0 121 0 22 0 23 0 32 0 236 0 112 0 90 0-3700 1 35 0 31 0 66 0 124 0 124 0 14 0 18 0 87 0 3 0 53 0 36 0 26 0 34 0 102 0 37 0 0 0 9 0 50 0 87 0 11 0 58 0 462 0 76 0 1111 0 104 0 39 0 240 0 120 0 41 0 15 0 20 0 27 0 26 0 162 0 70 0 5 0 2 0 49 0 30 0 21 0 38 0 4 0 12 0 42 0-3742 1 10 0 8 0 13 0 75 0 13 0 107 0 25 0 3 0 4 0 124 0 113 0 66 0 5 0 24 0 79 0 3 0 8 0 92 0 8 0 18 0 56 0 39 0 7 0 65 0 64 0 336 0 539 0 487 0 334 0 38 0 3 0 18 0 71 0 49 0 31 0 176 0 70 0 8 0 46 0 66 0 44 0 106 0 21 0 10 0 28 0 54 0 63 0 19 0 93 0-3727 1 28 0 82 0 12 0 20 0 8 0 5 0 75 0 51 0 151 0 9 0 17 0 30 0 28 0 4 0 42 0 4 0 56 0 1 0 134 0 32 0 49 0 19 0 49 0 3 0 27 0 21 0 53 0 1 0 519 0 57 0 227 0 123 0 805 0 210 0 108 0 38 0 68 0 96 0 233 0 141 0-3654 1 8 0 12 0 51 0 9 0 7 0 3 0 100 0 48 0 6 0 15 0 5 0 4 0 121 0 9 0 71 0 9 0 60 0 2 0 18 0 18 0 38 0 10 0 28 0 131 0 10 0 98 0 10 0 10 0 35 0 28 0 41 0 20 0 406 0 504 0 404 0 508 0 43 0 46 0 22 0 106 0 29 0 86 0 27 0 4 0 50 0 22 0 60 0 17 0 135 0 104 0-3605 1 22 0 74 0 55 0 9 0 19 0 78 0 19 0 172 0 37 0 63 0 29 0 29 0 162 0 61 0 38 0 9 0 80 0 6 0 8 0 2 0 19 0 19 0 10 0 11 0 10 0 508 0 473 0 239 0 154 0 323 0 33 0 117 0 40 0 270 0 35 0 20 0 7 0 188 0 47 0 0 0 12 0 86 0 67 0 20 0-3638 1 23 0 67 0 28 0 1 0 31 0 2 0 36 0 13 0 171 0 2 0 5 0 0 0 4 0 1 0 4 0 6 0 61 0 85 0 14 0 65 0 112 0 23 0 142 0 1 0 37 0 20 0 60 0 464 0 82 0 561 0 124 0 545 0 26 0 5 0 43 0 1 0 251 0 96 0 200 0 15 0 18 0 41 0 119 0-3644 1 44 0 131 0 22 0 45 0 13 0 137 0 33 0 25 0 34 0 21 0 48 0 16 0 20 0 27 0 12 0 24 0 16 0 9 0 6 0 154 0 23 0 63 0 21 0 73 0 26 0 18 0 511 0 575 0 584 0 19 0 26 0 29 0 27 0 255 0 29 0 134 0 204 0 18 0 11 0 15 0 34 0 38 0 32 0 89 0 46 0-3723 1 10 0 48 0 38 0 17 0 66 0 35 0 0 0 155 0 89 0 12 0 81 0 56 0 18 0 19 0 135 0 8 0 61 0 79 0 107 0 1 0 403 0 302 0 68 0 137 0 728 0 11 0 23 0 142 0 197 0 188 0 249 0 72 0 101 0 75 0-3691 1 16 0 8 0 125 0 32 0 5 0 167 0 5 0 8 0 16 0 12 0 13 0 60 0 103 0 2 0 180 0 69 0 31 0 63 0 58 0 2 0 8 0 725 0 158 0 234 0 519 0 28 0 8 0 85 0 2 0 360 0 7 0 22 0 9 0 25 0 34 0 25 0 18 0 13 0 38 0 145 0 14 0 161 0 15 0 27 0-3711 1 69 0 1 0 6 0 67 0 258 0 33 0 56 0 19 0 130 0 13 0 312 0 89 0 8 0 1080 0 539 0 19 0 94 0 47 0 48 0 343 0 13 0 26 0 21 0 153 0 15 0 28 0 51 0 84 0-3542 1 159 0 141 0 50 0 8 0 133 0 13 0 31 0 4 0 49 0 139 0 36 0 91 0 30 0 27 0 38 0 36 0 340 0 597 0 123 0 58 0 597 0 3 0 64 0 39 0 78 0 13 0 101 0 14 0 80 0 50 0 26 0 20 0 94 0 113 0 42 0 17 0 24 0 99 0 9 0 22 0 23 0-3609 1 95 0 69 0 4 0 127 0 29 0 42 0 6 0 114 0 10 0 24 0 31 0 11 0 104 0 18 0 26 0 81 0 109 0 366 0 91 0 89 0 76 0 339 0 725 0 16 0 27 0 9 0 17 0 71 0 33 0 67 0 27 0 16 0 120 0 141 0 117 0 212 0 17 0 10 0 14 0 35 0 31 0 3 0 73 0-3686 1 49 0 20 0 67 0 91 0 2 0 6 0 5 0 2 0 108 0 14 0 13 0 13 0 31 0 73 0 34 0 3 0 45 0 25 0 9 0 100 0 68 0 1 0 100 0 26 0 22 0 25 0 1712 0 236 0 229 0 22 0 16 0 3 0 49 0 3 0 13 0 428 0-3686 1 54 0 58 0 25 0 5 0 14 0 15 0 3 0 36 0 142 0 83 0 72 0 15 0 242 0 21 0 14 0 15 0 44 0 9 0 107 0 9 0 49 0 1 0 850 0 261 0 56 0 125 0 36 0 400 0 21 0 54 0 31 0 1 0 44 0 174 0 58 0 27 0 35 0 84 0 148 0 18 0 126 0 48 0 82 0 0 0-3654 1 29 0 2 0 22 0 10 0 38 0 99 0 122 0 56 0 8 0 8 0 28 0 91 0 52 0 0 0 177 0 85 0 24 0 1731 0 43 0 14 0 72 0 0 0 21 0 30 0 15 0 256 0 86 0 56 0 3 0 11 0 6 0 26 0 199 0 80 0 59 0 16 0 21 0-3688 1 54 0 46 0 107 0 0 0 8 0 4 0 9 0 28 0 127 0 7 0 33 0 4 0 22 0 96 0 3 0 44 0 3 0 51 0 4 0 230 0 26 0 33 0 18 0 17 0 9 0 45 0 733 0 242 0 228 0 477 0 71 0 11 0 541 0 122 0 79 0 15 0 11 0 24 0 4 0 19 0 14 0 17 0 75 0 30 0-3702 1 32 0 33 0 10 0 5 0 9 0 116 0 8 0 32 0 102 0 42 0 14 0 42 0 39 0 69 0 17 0 6 0 2 0 18 0 5 0 43 0 119 0 24 0 2 0 55 0 17 0 45 0 47 0 11 0 20 0 27 0 939 0 826 0 22 0 32 0 63 0 226 0 18 0 31 0 27 0 2 0 120 0 133 0 0 0 10 0 17 0 99 0 5 0 5 0 21 0 8 0 5 0 10 0 73 0 6 0-3752 1 23 0 22 0 94 0 16 0 9 0 6 0 14 0 226 0 69 0 28 0 11 0 29 0 6 0 28 0 24 0 7 0 48 0 160 0 4 0 98 0 615 0 302 0 352 0 501 0 10 0 191 0 13 0 21 0 139 0 106 0 59 0 20 0 22 0 27 0 42 0 22 0 158 0 16 0 163 0-3574 1 4 0 50 0 45 0 5 0 23 0 166 0 2 0 144 0 107 0 152 0 20 0 22 0 7 0 115 0 33 0 35 0 14 0 316 0 763 0 214 0 315 0 131 0 145 0 180 0 11 0 42 0 1 0 13 0 96 0 9 0 38 0 101 0 13 0 13 0 40 0 28 0 11 0 32 0 1 0 5 0 31 0 29 0 5 0 37 0 9 0-3658 1 21 0 4 0 2 0 36 0 18 0 37 0 14 0 26 0 8 0 6 0 10 0 7 0 4 0 10 0 165 0 4 0 23 0 0 0 9 0 18 0 139 0 279 0 30 0 8 0 33 0 73 0 4 0 0 0 19 0 760 0 1011 0 44 0 237 0 48 0 66 0 2 0 8 0 22 0 23 0 25 0 37 0 14 0 147 0 34 0 21 0 15 0 138 0-3692 1 28 0 1 0 15 0 76 0 8 0 69 0 18 0 186 0 132 0 17 0 105 0 21 0 98 0 52 0 1 0 0 0 54 0 15 0 4 0 24 0 27 0 15 0 7 0 9 0 27 0 407 0 3 0 422 0 322 0 135 0 107 0 307 0 82 0 5 0 13 0 42 0 120 0 111 0 10 0 54 0 43 0 252 0 41 0 13 0 33 0 18 0 12 0 108 0 5 0 17 0 4 0 42 0-3592 1 8 0 7 0 35 0 48 0 174 0 23 0 11 0 36 0 10 0 9 0 28 0 31 0 111 0 99 0 57 0 42 0 0 0 28 0 33 0 2 0 7 0 31 0 44 0 1 0 25 0 8 0 491 0 65 0 200 0 11 0 854 0 36 0 63 0 11 0 304 0 6 0 71 0 27 0 33 0 123 0 122 0 16 0 123 0 112 0 7 0-3736 1 47 0 2 0 3 0 35 0 4 0 52 0 77 0 52 0 124 0 54 0 1 0 10 0 10 0 4 0 11 0 28 0 110 0 43 0 154 0 13 0 38 0 6 0 7 0 36 0 34 0 25 0 21 0 27 0 12 0 28 0 4 0 386 0 454 0 292 0 25 0 493 0 5 0 28 0 196 0 21 0 105 0 0 0 182 0 254 0 43 0 50 0 9 0 6 0 33 0 32 0-3664 1 10 0 0 0 28 0 31 0 15 0 100 0 51 0 41 0 229 0 25 0 12 0 73 0 50 0 109 0 110 0 10 0 45 0 16 0 8 0 26 0 580 0 270 0 495 0 352 0 42 0 7 0 9 0 38 0 29 0 49 0 49 0 138 0 95 0 26 0 1 0 3 0 47 0 26 0 65 0 22 0 118 0 35 0 7 0 26 0 6 0 13 0 76 0 2 0 25 0 20 0-3621 1 22 0 28 0 3 0 1 0 24 0 46 0 56 0 60 0 84 0 69 0 115 0 23 0 28 0 38 0 16 0 92 0 17 0 64 0 7 0 74 0 56 0 604 0 275 0 842 0 27 0 8 0 37 0 103 0 102 0 234 0 50 0 13 0 179 0 8 0 13 0 18 0 14 0 6 0 136 0-3575 1 41 0 47 0 7 0 31 0 95 0 122 0 78 0 39 0 7 0 74 0 4 0 20 0 124 0 43 0 3 0 10 0 16 0 13 0 31 0 76 0 19 0 27 0 24 0 17 0 4 0 16 0 500 0 573 0 554 0 223 0 205 0 1 0 7 0 227 0 114 0 37 0 69 0 82 0 88 0-3702 1 27 0 14 0 27 0 37 0 9 0 30 0 42 0 24 0 3 0 7 0 154 0 86 0 24 0 5 0 19 0 13 0 13 0 6 0 18 0 51 0 128 0 20 0 115 0 27 0 21 0 26 0 1294 0 531 0 19 0 123 0 142 0 6 0 50 0 39 0 24 0 106 0 277 0 11 0 13 0 35 0 12 0 74 0-3715 1 84 0 0 0 26 0 145 0 106 0 30 0 57 0 79 0 25 0 46 0 23 0 25 0 132 0 36 0 2 0 20 0 77 0 91 0 964 0 166 0 26 0 27 0 570 0 15 0 82 0 60 0 136 0 163 0 0 0 31 0 4 0 33 0 20 0 4 0 123 0 15 0 137 0 33 0 17 0 12 0 29 0 20 0-3650 1 57 0 5 0 43 0 88 0 127 0 55 0 36 0 34 0 11 0 27 0 34 0 38 0 33 0 5 0 14 0 91 0 17 0 7 0 67 0 8 0 2 0 32 0 8 0 5 0 26 0 46 0 26 0 6 0 7 0 27 0 6 0 11 0 585 0 154 0 18 0 90 0 467 0 553 0 134 0 1 0 16 0 9 0 58 0 48 0 1 0 106 0 17 0 195 0 67 0 21 0 5 0-3543 1 8 0 18 0 51 0 46 0 9 0 54 0 31 0 127 0 33 0 2 0 41 0 96 0 35 0 156 0 79 0 6 0 18 0 15 0 93 0 21 0 4 0 338 0 40 0 243 0 746 0 316 0 33 0 24 0 22 0 1 0 39 0 105 0 6 0 6 0 12 0 175 0 19 0 131 0 9 0 57 0 124 0 22 0 44 0 18 0 19 0 10 0 158 0-3720 1 2 0 9 0 35 0 84 0 24 0 61 0 1 0 56 0 156 0 37 0 46 0 25 0 274 0 88 0 19 0 8 0 3 0 59 0 24 0 48 0 352 0 373 0 400 0 493 0 45 0 57 0 273 0 43 0 0 0 75 0 54 0 241 0 62 0 6 0 41 0 15 0 92 0 4 0-3680 1 20 0 1 0 30 0 14 0 21 0 1 0 2 0 62 0 70 0 41 0 139 0 12 0 86 0 23 0 30 0 23 0 81 0 182 0 102 0 24 0 27 0 33 0 30 0 349 0 10 0 117 0 319 0 94 0 752 0 3 0 125 0 4 0 21 0 63 0 145 0 7 0 64 0 13 0 54 0 39 0 28 0 6 0 32 0 1 0 6 0 166 0 47 0 110 0 39 0 52 0 2 0-3682 1 43 0 91 0 34 0 23 0 12 0 175 0 27 0 36 0 48 0 36 0 4 0 49 0 153 0 21 0 0 0 20 0 25 0 46 0 16 0 140 0 1 0 511 0 226 0 156 0 350 0 427 0 9 0 350 0 20 0 32 0 18 0 8 0 121 0 5 0 177 0 35 0 32 0 39 0 63 0 11 0 75 0 24 0-3734 1 21 0 132 0 12 0 60 0 7 0 174 0 21 0 54 0 3 0 4 0 22 0 15 0 19 0 33 0 30 0 39 0 166 0 8 0 25 0 50 0 7 0 5 0 10 0 4 0 35 0 87 0 4 0 325 0 25 0 75 0 919 0 526 0 9 0 19 0 13 0 89 0 75 0 58 0 12 0 19 0 40 0 31 0 46 0 129 0 14 0 3 0 8 0 26 0 19 0 27 0 24 0 5 0 72 0 29 0 11 0 37 0-3737 1 97 0 64 0 61 0 31 0 17 0 9 0 147 0 9 0 7 0 75 0 3 0 30 0 18 0 20 0 1 0 48 0 155 0 8 0 19 0 15 0 7 0 24 0 5 0 2 0 17 0 63 0 3 0 20 0 10 0 32 0 40 0 1 0 339 0 554 0 387 0 376 0 14 0 35 0 332 0 9 0 14 0 6 0 70 0 10 0 90 0 3 0 25 0 263 0 85 0 4 0 11 0 13 0-3693 1 83 0 10 0 37 0 20 0 133 0 153 0 20 0 24 0 18 0 319 0 42 0 44 0 3 0 15 0 65 0 18 0 845 0 90 0 7 0 350 0 96 0 278 0 129 0 29 0 92 0 46 0 212 0 7 0 77 0 49 0 18 0 13 0 109 0 102 0 3 0 28 0 21 0 4 0 49 0 30 0-3676 1 2 0 11 0 31 0 139 0 13 0 56 0 27 0 111 0 92 0 13 0 141 0 18 0 2 0 167 0 21 0 40 0 112 0 7 0 342 0 49 0 430 0 355 0 24 0 160 0 8 0 289 0 22 0 176 0 257 0 76 0 40 0 51 0 23 0 120 0 48 0 12 0 28 0 5 0 6 0 24 0-3540 1 55 0 206 0 154 0 21 0 65 0 34 0 52 0 2 0 46 0 19 0 108 0 6 0 1 0 58 0 98 0 95 0 329 0 190 0 35 0 50 0 497 0 160 0 78 0 694 0 34 0 46 0 10 0 25 0 8 0 71 0 87 0 113 0 100 0 127 0-3676 1 110 0 34 0 16 0 6 0 17 0 35 0 34 0 108 0 11 0 33 0 61 0 40 0 47 0 8 0 41 0 4 0 33 0 18 0 113 0 14 0 36 0 168 0 24 0 18 0 549 0 577 0 54 0 491 0 11 0 38 0 47 0 32 0 111 0 2 0 118 0 101 0 111 0 11 0 3 0 32 0 99 0 32 0 50 0 107 0 9 0 81 0 11 0-3734 1 37 0 10 0 16 0 37 0 7 0 82 0 56 0 7 0 9 0 128 0 16 0 7 0 230 0 154 0 86 0 78 0 104 0 354 0 610 0 0 0 262 0 110 0 280 0 19 0 100 0 21 0 17 0 18 0 122 0 103 0 5 0 211 0 168 0 2 0 15 0 35 0 6 0 1 0 8 0 37 0 54 0 3 0 87 0 9 0 9 0 8 0 9 0-3682 1 8 0 58 0 77 0 5 0 56 0 112 0 82 0 143 0 36 0 129 0 24 0 93 0 54 0 1 0 3 0 31 0 43 0 1 0 13 0 27 0 494 0 64 0 522 0 87 0 100 0 388 0 1 0 8 0 1 0 95 0 10 0 22 0 3 0 5 0 21 0 4 0 17 0 46 0 114 0 3 0 16 0 44 0 76 0 35 0 34 0 23 0 2 0 9 0 44 0 131 0 59 0 64 0 1 0 26 0 4 0 1 0 71 0-3681 1 19 0 39 0 56 0 35 0 7 0 23 0 25 0 67 0 88 0 1 0 76 0 56 0 52 0 111 0 90 0 6 0 36 0 14 0 41 0 32 0 24 0 13 0 9 0 42 0 46 0 424 0 320 0 221 0 718 0 34 0 37 0 92 0 25 0 31 0 11 0 160 0 41 0 77 0 79 0 7 0 22 0 114 0 54 0 51 0 41 0 82 0-3561 1 2 0 41 0 7 0 23 0 5 0 204 0 121 0 13 0 1 0 12 0 87 0 147 0 13 0 8 0 24 0 3 0 3 0 36 0 35 0 22 0 0 0 6 0 30 0 49 0 11 0 2 0 6 0 9 0 4 0 24 0 430 0 1 0 23 0 340 0 145 0 732 0 40 0 19 0 6 0 10 0 9 0 21 0 34 0 3 0 19 0 6 0 45 0 115 0 43 0 28 0 6 0 15 0 22 0 76 0 0 0 10 0 63 0 12 0 145 0 13 0 19 0 23 0 76 0 8 0 52 0 16 0 32 0-3580 1 63 0 26 0 2 0 159 0 2 0 6 0 96 0 29 0 52 0 27 0 28 0 20 0 116 0 10 0 14 0 29 0 8 0 9 0 23 0 27 0 37 0 18 0 5 0 13 0 0 0 82 0 323 0 231 0 161 0 187 0 834 0 12 0 30 0 87 0 20 0 24 0 163 0 24 0 26 0 185 0 2 0 111 0 154 0 32 0 44 0 54 0 3 0-3701 1 29 0 47 0 3 0 79 0 12 0 18 0 54 0 5 0 100 0 16 0 0 0 39 0 23 0 6 0 190 0 18 0 160 0 13 0 47 0 117 0 7 0 446 0 134 0 195 0 439 0 507 0 88 0 13 0 49 0 60 0 7 0 8 0 125 0 2 0 15 0 23 0 34 0 26 0 62 0 46 0 15 0 16 0 125 0 9 0 122 0 10 0 3 0 25 0 26 0 19 0 19 0-3695 1 34 0 73 0 124 0 48 0 115 0 82 0 114 0 58 0 23 0 157 0 15 0 31 0 50 0 5 0 5 0 17 0 29 0 19 0 428 0 419 0 355 0 24 0 112 0 377 0 24 0 66 0 70 0 15 0 26 0 33 0 113 0 56 0 77 0 20 0 18 0 3 0 11 0 42 0 157 0 17 0 93 0 75 0 69 0 40 0-3698 1 32 0 15 0 10 0 37 0 30 0 32 0 48 0 5 0 28 0 115 0 49 0 12 0 15 0 116 0 41 0 9 0 138 0 2 0 85 0 21 0 11 0 20 0 46 0 32 0 61 0 414 0 557 0 272 0 401 0 35 0 17 0 34 0 64 0 29 0 47 0 11 0 206 0 27 0 24 0 32 0 44 0 10 0 21 0 11 0 23 0 19 0 98 0 11 0 51 0 22 0 3 0 28 0 2 0 7 0 4 0 6 0 29 0 26 0 74 0 27 0 3 0-3746 1 8 0 1 0 3 0 26 0 1 0 5 0 15 0 28 0 13 0 45 0 63 0 28 0 67 0 170 0 153 0 18 0 32 0 107 0 9 0 5 0 0 0 47 0 42 0 29 0 22 0 23 0 72 0 41 0 581 0 211 0 99 0 29 0 143 0 125 0 427 0 35 0 66 0 6 0 91 0 8 0 29 0 35 0 6 0 7 0 93 0 17 0 12 0 113 0 8 0 34 0 264 0 61 0 38 0 40 0 47 0 1 0 1 0 6 0 42 0-3689 1 28 0 2 0 56 0 13 0 7 0 57 0 3 0 5 0 56 0 103 0 32 0 27 0 15 0 39 0 37 0 123 0 136 0 53 0 6 0 95 0 2 0 54 0 44 0 19 0 338 0 141 0 270 0 115 0 79 0 228 0 516 0 12 0 3 0 63 0 14 0 13 0 17 0 61 0 128 0 126 0 60 0 109 0 105 0 11 0 8 0 9 0 35 0 2 0 56 0 73 0 9 0 7 0-3642 1 36 0 34 0 67 0 54 0 15 0 16 0 136 0 6 0 18 0 2 0 25 0 52 0 50 0 89 0 156 0 5 0 44 0 3 0 61 0 3 0 43 0 1 0 89 0 1106 0 543 0 41 0 0 0 35 0 8 0 1 0 16 0 3 0 4 0 52 0 68 0 25 0 134 0 72 0 30 0 23 0 24 0 10 0 63 0 154 0 8 0 7 0 4 0 54 0 25 0 6 0 24 0 63 0 51 0 13 0 1 0-3628 1 10 0 29 0 11 0 52 0 5 0 9 0 26 0 41 0 132 0 0 0 0 0 58 0 36 0 1 0 21 0 59 0 82 0 22 0 114 0 12 0 25 0 48 0 36 0 19 0 71 0 16 0 9 0 15 0 775 0 500 0 60 0 366 0 3 0 23 0 31 0 11 0 5 0 2 0 16 0 2 0 3 0 23 0 21 0 42 0 15 0 22 0 139 0 5 0 3 0 127 0 49 0 34 0 48 0 107 0 30 0 18 0 43 0 89 0 12 0 23 0 9 0 22 0 9 0 8 0-3716 1 15 0 26 0 3 0 57 0 2 0 3 0 110 0 43 0 10 0 181 0 36 0 5 0 39 0 4 0 85 0 0 0 26 0 122 0 10 0 8 0 40 0 5 0 51 0 14 0 7 0 26 0 56 0 27 0 1193 0 29 0 25 0 428 0 29 0 16 0 12 0 24 0 49 0 7 0 19 0 27 0 33 0 9 0 2 0 32 0 5 0 116 0 29 0 15 0 42 0 5 0 1 0 100 0 26 0 5 0 36 0 281 0 81 0-3652 1 3 0 14 0 43 0 98 0 12 0 3 0 43 0 29 0 112 0 48 0 23 0 47 0 13 0 6 0 17 0 54 0 44 0 3 0 1 0 10 0 108 0 17 0 83 0 4 0 18 0 77 0 69 0 415 0 81 0 18 0 77 0 342 0 213 0 30 0 103 0 348 0 34 0 83 0 2 0 123 0 1 0 2 0 147 0 116 0 45 0 18 0 12 0 28 0 42 0 117 0 34 0 0 0 13 0 49 0 58 0 2 0 30 0 44 0 1 0 6 0 38 0-3707 1 54 0 82 0 15 0 19 0 23 0 61 0 126 0 12 0 61 0 5 0 74 0 47 0 52 0 133 0 128 0 48 0 94 0 9 0 11 0 285 0 2 0 47 0 340 0 161 0 227 0 12 0 97 0 441 0 34 0 42 0 12 0 14 0 12 0 2 0 81 0 41 0 148 0 23 0 32 0 6 0 27 0 16 0 4 0 15 0 78 0 196 0 23 0 35 0 16 0 12 0 8 0 13 0 15 0 112 0-3622 1 113 0 10 0 184 0 4 0 26 0 40 0 14 0 12 0 72 0 127 0 123 0 43 0 150 0 41 0 888 0 213 0 221 0 397 0 28 0 28 0 11 0 122 0 171 0 17 0 25 0 2 0 36 0 12 0 2 0 3 0 7 0 61 0 18 0 29 0 34 0 3 0 168 0 17 0 17 0 13 0 6 0 15 0 46 0 51 0-3652 1 2 0 34 0 96 0 43 0 19 0 187 0 17 0 44 0 11 0 5 0 29 0 74 0 31 0 16 0 120 0 5 0 41 0 6 0 109 0 23 0 0 0 8 0 18 0 44 0 430 0 10 0 19 0 101 0 378 0 722 0 40 0 7 0 92 0 16 0 14 0 26 0 51 0 30 0 105 0 28 0 71 0 48 0 40 0 34 0 8 0 15 0 8 0 184 0 36 0 35 0 8 0 48 0 7 0 0 0 11 0 26 0 2 0 38 0 20 0 13 0 1 0-3727 1 48 0 5 0 66 0 10 0 103 0 7 0 11 0 3 0 124 0 8 0 15 0 164 0 189 0 11 0 113 0 9 0 44 0 24 0 23 0 41 0 2 0 22 0 390 0 697 0 107 0 130 0 369 0 42 0 63 0 45 0 5 0 42 0 20 0 217 0 10 0 1 0 54 0 23 0 45 0 8 0 8 0 178 0 15 0 42 0 11 0 30 0 37 0 8 0 59 0 1 0 11 0-3725 1 73 0 11 0 33 0 17 0 5 0 6 0 30 0 36 0 12 0 5 0 32 0 8 0 154 0 132 0 16 0 26 0 30 0 35 0 17 0 269 0 3 0 47 0 41 0 408 0 60 0 71 0 153 0 5 0 222 0 198 0 522 0 54 0 111 0 21 0 105 0 159 0 18 0 1 0 22 0 16 0 6 0 16 0 9 0 24 0 62 0 26 0 8 0 9 0 6 0 91 0 14 0 36 0 82 0 43 0 24 0 8 0 14 0 0 0 2 0 44 0-3667 1 22 0 28 0 24 0 5 0 14 0 33 0 37 0 3 0 61 0 161 0 67 0 7 0 14 0 17 0 5 0 4 0 41 0 53 0 0 0 126 0 30 0 58 0 15 0 34 0 59 0 390 0 24 0 442 0 25 0 47 0 132 0 93 0 144 0 7 0 430 0 52 0 14 0 21 0 91 0 20 0 7 0 156 0 24 0 35 0 24 0 37 0 20 0 22 0 44 0 43 0 45 0 100 0 93 0 36 0 2 0 10 0 41 0 23 0 11 0 16 0 34 0 23 0-3731 1 105 0 4 0 10 0 8 0 39 0 38 0 289 0 17 0 12 0 66 0 9 0 188 0 22 0 21 0 39 0 20 0 79 0 35 0 20 0 1256 0 406 0 61 0 111 0 77 0 155 0 5 0 20 0 1 0 38 0 35 0 32 0 30 0 1 0 202 0 14 0 37 0 13 0 32 0 10 0 10 0 1 0 63 0 47 0 15 0 5 0 17 0 18 0-3705 1 9 0 57 0 110 0 3 0 9 0 21 0 5 0 43 0 1 0 85 0 5 0 88 0 10 0 82 0 19 0 18 0 13 0 35 0 111 0 30 0 14 0 9 0 76 0 36 0 23 0 8 0 16 0 10 0 14 0 8 0 4 0 818 0 309 0 550 0 16 0 25 0 45 0 12 0 42 0 27 0 6 0 4 0 16 0 76 0 110 0 88 0 47 0 48 0 59 0 24 0 154 0 10 0 30 0 6 0 1 0 9 0 35 0 32 0 9 0 24 0 6 0 21 0 33 0 6 0-3661 1 5 0 26 0 20 0 105 0 24 0 52 0 17 0 97 0 6 0 116 0 22 0 60 0 10 0 50 0 1 0 135 0 9 0 90 0 10 0 9 0 19 0 43 0 657 0 245 0 259 0 9 0 22 0 530 0 14 0 104 0 65 0 16 0 12 0 20 0 32 0 5 0 112 0 32 0 9 0 1 0 30 0 8 0 16 0 31 0 37 0 38 0 4 0 166 0 19 0 42 0 10 0 48 0 1 0 22 0 11 0 54 0 7 0 39 0 20 0-3726 1 77 0 62 0 91 0 32 0 26 0 18 0 94 0 8 0 142 0 20 0 5 0 10 0 24 0 4 0 2 0 6 0 17 0 31 0 106 0 94 0 12 0 11 0 47 0 12 0 85 0 377 0 88 0 67 0 420 0 6 0 45 0 139 0 108 0 438 0 55 0 12 0 31 0 6 0 4 0 63 0 13 0 44 0 116 0 8 0 9 0 5 0 4 0 15 0 18 0 60 0 51 0 30 0 31 0 57 0 99 0 53 0 23 0 17 0 23 0 10 0 29 0 20 0 7 0 11 0 27 0 18 0 34 0 6 0 6 0-3736 1 64 0 36 0 5 0 22 0 118 0 2 0 19 0 124 0 0 0 76 0 0 0 24 0 9 0 187 0 179 0 18 0 95 0 40 0 10 0 6 0 328 0 97 0 323 0 253 0 149 0 25 0 150 0 62 0 257 0 11 0 6 0 10 0 34 0 25 0 133 0 31 0 10 0 30 0 10 0 86 0 6 0 25 0 0 0 9 0 3 0 5 0 0 0 0 0 48 0 62 0 30 0 4 0 11 0 8 0 8 0 25 0 11 0 164 0 17 0 19 0 40 0 10 0 41 0 10 0 5 0 17 0 14 0 35 0 12 0 14 0 27 0-3703 1 10 0 22 0 16 0 8 0 73 0 59 0 14 0 139 0 82 0 1 0 5 0 35 0 52 0 92 0 23 0 99 0 79 0 6 0 2 0 81 0 10 0 9 0 1 0 5 0 0 0 4 0 1 0 39 0 60 0 2 0 388 0 71 0 393 0 75 0 21 0 280 0 384 0 17 0 43 0 37 0 19 0 33 0 9 0 70 0 25 0 140 0 54 0 32 0 12 0 5 0 39 0 43 0 45 0 41 0 127 0 45 0 38 0 19 0 6 0 73 0 87 0-3727 1 45 0 86 0 60 0 14 0 64 0 128 0 26 0 30 0 3 0 115 0 27 0 68 0 132 0 13 0 1 0 9 0 25 0 44 0 15 0 78 0 50 0 393 0 16 0 106 0 19 0 171 0 94 0 376 0 10 0 179 0 1 0 350 0 31 0 1 0 31 0 56 0 58 0 5 0 7 0 24 0 90 0 77 0 94 0 41 0 31 0 19 0 17 0 173 0 5 0 15 0 2 0 50 0 12 0 49 0 19 0 19 0 22 0 1 0-3713 1 39 0 45 0 61 0 1 0 60 0 17 0 6 0 7 0 195 0 17 0 119 0 14 0 36 0 1 0 7 0 15 0 22 0 137 0 27 0 37 0 10 0 30 0 55 0 99 0 375 0 311 0 282 0 285 0 102 0 313 0 62 0 15 0 42 0 52 0 20 0 40 0 1 0 149 0 64 0 2 0 17 0 39 0 5 0 46 0 24 0 5 0 8 0 19 0 29 0 109 0 39 0 7 0 0 0 18 0 14 0 25 0 51 0 93 0 2 0 11 0 3 0-3733 1 124 0 20 0 7 0 15 0 58 0 13 0 6 0 239 0 1 0 9 0 49 0 80 0 41 0 194 0 49 0 3 0 41 0 39 0 9 0 12 0 43 0 14 0 428 0 304 0 3 0 141 0 69 0 703 0 5 0 13 0 15 0 14 0 16 0 30 0 35 0 67 0 27 0 23 0 109 0 72 0 33 0 41 0 24 0 11 0 25 0 71 0 16 0 99 0 40 0 14 0 14 0 1 0 63 0 64 0 0 0 7 0 2 0 10 0 33 0 25 0-3700 1 19 0 61 0 26 0 23 0 61 0 14 0 246 0 40 0 39 0 4 0 221 0 26 0 14 0 34 0 37 0 4 0 25 0 25 0 19 0 27 0 31 0 5 0 23 0 6 0 382 0 32 0 59 0 9 0 197 0 130 0 37 0 50 0 158 0 641 0 114 0 17 0 31 0 162 0 20 0 94 0 11 0 1 0 287 0 11 0 14 0 16 0 37 0 31 0 9 0 6 0 2 0 9 0 70 0 37 0 9 0-3709 1 28 0 14 0 30 0 43 0 148 0 111 0 2 0 6 0 1 0 6 0 116 0 117 0 181 0 90 0 5 0 50 0 375 0 94 0 76 0 294 0 41 0 150 0 131 0 3 0 17 0 170 0 344 0 16 0 27 0 9 0 161 0 48 0 127 0 33 0 3 0 1 0 41 0 5 0 3 0 23 0 48 0 25 0 17 0 27 0 164 0 7 0 46 0 1 0 33 0 3 0 6 0 79 0 28 0 4 0 0 0 15 0 12 0-3659 1 50 0 41 0 14 0 39 0 216 0 20 0 53 0 69 0 31 0 35 0 171 0 194 0 20 0 72 0 344 0 138 0 27 0 262 0 555 0 26 0 274 0 59 0 18 0 4 0 5 0 38 0 27 0 27 0 21 0 3 0 5 0 2 0 26 0 5 0 49 0 97 0 66 0 21 0 27 0 42 0 43 0 8 0 7 0 13 0 3 0 24 0 19 0 122 0 11 0 82 0 46 0 99 0 42 0-3744 1 2 0 25 0 29 0 12 0 69 0 3 0 265 0 53 0 12 0 5 0 50 0 1 0 40 0 10 0 13 0 2 0 3 0 5 0 218 0 53 0 117 0 935 0 88 0 147 0 36 0 61 0 26 0 112 0 329 0 16 0 9 0 10 0 24 0 37 0 36 0 41 0 31 0 16 0 9 0 13 0 1 0 101 0 7 0 15 0 45 0 10 0 18 0 8 0 11 0 94 0 29 0 15 0 31 0 9 0 92 0 11 0 5 0 9 0 0 0 48 0 39 0 43 0 30 0 10 0 90 0 4 0 5 0-3679 1 29 0 6 0 149 0 0 0 17 0 11 0 121 0 18 0 44 0 16 0 19 0 24 0 5 0 97 0 22 0 11 0 174 0 26 0 11 0 11 0 106 0 28 0 37 0 23 0 350 0 66 0 306 0 68 0 2 0 81 0 9 0 236 0 119 0 83 0 299 0 44 0 27 0 59 0 56 0 11 0 66 0 7 0 139 0 6 0 20 0 30 0 80 0 3 0 5 0 31 0 34 0 7 0 142 0 26 0 1 0 41 0 40 0 29 0 7 0 0 0 3 0 4 0 1 0 22 0 15 0 14 0 23 0 39 0 28 0-3753 1 30 0 67 0 16 0 6 0 35 0 25 0 91 0 4 0 16 0 2 0 5 0 92 0 2 0 30 0 6 0 64 0 50 0 108 0 32 0 195 0 51 0 22 0 118 0 326 0 28 0 65 0 25 0 27 0 52 0 48 0 14 0 214 0 158 0 141 0 51 0 194 0 299 0 20 0 45 0 88 0 44 0 5 0 21 0 21 0 112 0 69 0 55 0 3 0 29 0 1 0 49 0 6 0 42 0 8 0 2 0 198 0 8 0 74 0 41 0 5 0 27 0 29 0 5 0 16 0-3690 1 24 0 34 0 89 0 24 0 69 0 108 0 36 0 51 0 20 0 128 0 13 0 282 0 55 0 39 0 7 0 334 0 46 0 5 0 245 0 109 0 104 0 337 0 485 0 130 0 25 0 17 0 44 0 0 0 36 0 7 0 35 0 133 0 75 0 25 0 6 0 2 0 37 0 4 0 16 0 13 0 43 0 18 0 97 0 26 0 1 0 7 0 42 0 2 0 9 0 67 0 5 0 12 0 10 0 40 0 13 0 16 0 11 0 0 0-3591 1 36 0 94 0 440 0 81 0 50 0 12 0 50 0 7 0 41 0 445 0 213 0 167 0 82 0 287 0 83 0 53 0 464 0 8 0 88 0 20 0 13 0 1 0 99 0 25 0 7 0 90 0 15 0 9 0 8 0 30 0 23 0 82 0 59 0 16 0 42 0 102 0 42 0 2 0 9 0 10 0 7 0 20 0 26 0 0 0 6 0 15 0 31 0 50 0 3 0 26 0 23 0 4 0-3706 1 97 0 28 0 14 0 1 0 29 0 7 0 14 0 61 0 104 0 41 0 28 0 33 0 7 0 43 0 20 0 8 0 21 0 22 0 23 0 30 0 19 0 3 0 105 0 67 0 2 0 41 0 37 0 0 0 23 0 4 0 2 0 5 0 18 0 8 0 12 0 21 0 12 0 1 0 363 0 49 0 305 0 409 0 536 0 80 0 78 0 20 0 38 0 56 0 121 0 36 0 2 0 3 0 9 0 88 0 68 0 25 0 28 0 125 0 7 0 42 0 14 0 14 0 32 0 15 0 28 0 8 0 34 0 33 0 14 0 18 0 8 0 7 0-3680 1 6 0 30 0 1 0 8 0 35 0 15 0 134 0 101 0 9 0 67 0 6 0 9 0 133 0 177 0 23 0 2 0 17 0 16 0 37 0 9 0 22 0 34 0 1 0 52 0 7 0 4 0 452 0 32 0 64 0 19 0 17 0 136 0 157 0 39 0 44 0 43 0 224 0 82 0 435 0 37 0 41 0 35 0 48 0 52 0 108 0 20 0 3 0 10 0 6 0 65 0 45 0 6 0 37 0 13 0 8 0 23 0 18 0 120 0 31 0 22 0 53 0 46 0 16 0 45 0 19 0-3608 1 84 0 12 0 21 0 75 0 6 0 163 0 11 0 24 0 66 0 64 0 165 0 28 0 74 0 13 0 29 0 28 0 51 0 11 0 47 0 6 0 308 0 161 0 215 0 84 0 297 0 26 0 265 0 276 0 32 0 42 0 4 0 63 0 60 0 27 0 55 0 86 0 51 0 15 0 14 0 11 0 41 0 1 0 15 0 10 0 10 0 19 0 2 0 102 0 148 0 15 0 8 0 82 0 62 0-3616 1 77 0 47 0 22 0 6 0 23 0 200 0 83 0 312 0 22 0 126 0 16 0 6 0 56 0 359 0 65 0 89 0 87 0 304 0 23 0 699 0 18 0 27 0 4 0 124 0 2 0 114 0 6 0 98 0 16 0 14 0 28 0 44 0 21 0 13 0 6 0 17 0 26 0 36 0 163 0 18 0 33 0 28 0 12 0 64 0 35 0 78 0 16 0-3704 1 80 0 8 0 21 0 15 0 9 0 64 0 236 0 122 0 33 0 10 0 52 0 136 0 45 0 61 0 50 0 25 0 517 0 74 0 321 0 242 0 139 0 56 0 14 0 317 0 64 0 2 0 31 0 3 0 18 0 9 0 34 0 12 0 72 0 137 0 25 0 50 0 3 0 39 0 16 0 13 0 18 0 54 0 54 0 113 0 2 0 14 0 35 0 87 0 22 0 14 0 67 0 17 0 32 0-3737 1 10 0 56 0 5 0 75 0 65 0 174 0 10 0 78 0 104 0 10 0 36 0 177 0 2 0 2 0 6 0 89 0 14 0 115 0 347 0 55 0 171 0 152 0 25 0 154 0 75 0 345 0 324 0 22 0 12 0 35 0 0 0 7 0 67 0 69 0 10 0 7 0 57 0 98 0 2 0 10 0 46 0 18 0 22 0 23 0 5 0 57 0 9 0 20 0 11 0 6 0 7 0 5 0 2 0 32 0 25 0 89 0 20 0 15 0 40 0 34 0 17 0 10 0 37 0 33 0 6 0-3625 1 42 0 9 0 11 0 50 0 46 0 41 0 170 0 56 0 73 0 12 0 74 0 52 0 90 0 10 0 69 0 61 0 35 0 413 0 85 0 82 0 36 0 17 0 32 0 0 0 201 0 39 0 116 0 743 0 7 0 62 0 24 0 13 0 16 0 5 0 16 0 80 0 49 0 2 0 124 0 9 0 187 0 7 0 22 0 8 0 17 0 11 0 117 0 8 0 8 0 49 0 31 0 32 0 12 0 48 0 2 0 12 0 18 0 19 0 3 0 6 0 13 0-3606 1 36 0 106 0 19 0 127 0 13 0 39 0 34 0 27 0 68 0 20 0 214 0 159 0 19 0 51 0 294 0 65 0 58 0 12 0 16 0 23 0 252 0 110 0 65 0 65 0 95 0 54 0 15 0 5 0 185 0 19 0 288 0 11 0 8 0 26 0 18 0 15 0 30 0 9 0 5 0 65 0 64 0 23 0 169 0 6 0 3 0 7 0 36 0 28 0 4 0 13 0 16 0 1 0 15 0 4 0 14 0 20 0 58 0 133 0 16 0 4 0 10 0 55 0 7 0 24 0 21 0 18 0 2 0 6 0 50 0 13 0 6 0-3704 1 16 0 53 0 15 0 45 0 41 0 23 0 39 0 143 0 29 0 21 0 2 0 6 0 171 0 14 0 25 0 15 0 94 0 28 0 25 0 11 0 46 0 921 0 74 0 22 0 26 0 84 0 265 0 147 0 293 0 51 0 84 0 5 0 48 0 21 0 14 0 160 0 4 0 23 0 39 0 138 0 20 0 136 0 11 0 4 0 15 0 32 0 5 0 8 0 22 0 43 0 10 0 9 0 19 0 13 0 32 0 17 0 47 0-3707 1 129 0 128 0 190 0 27 0 129 0 5 0 12 0 127 0 52 0 1 0 22 0 12 0 16 0 63 0 5 0 6 0 15 0 55 0 23 0 13 0 308 0 59 0 19 0 4 0 40 0 59 0 204 0 11 0 54 0 133 0 15 0 765 0 19 0 59 0 32 0 34 0 29 0 64 0 123 0 10 0 24 0 89 0 13 0 5 0 10 0 10 0 10 0 19 0 5 0 4 0 1 0 5 0 34 0 6 0 10 0 7 0 8 0 102 0 4 0 4 0 2 0 4 0 2 0 16 0 4 0 32 0 9 0 46 0 4 0 7 0 22 0 42 0 6 0 3 0 5 0 16 0 16 0 10 0 16 0-3740 1 39 0 99 0 23 0 59 0 47 0 3 0 137 0 42 0 87 0 8 0 25 0 22 0 10 0 23 0 46 0 14 0 104 0 151 0 111 0 1 0 4 0 321 0 108 0 81 0 223 0 369 0 42 0 126 0 411 0 65 0 113 0 16 0 21 0 13 0 3 0 5 0 9 0 106 0 65 0 48 0 1 0 33 0 1 0 44 0 22 0 1 0 5 0 22 0 12 0 14 0 9 0 88 0 84 0 22 0 5 0 5 0 40 0 15 0 83 0-3663 1 30 0 31 0 2 0 37 0 29 0 50 0 15 0 4 0 157 0 5 0 23 0 69 0 10 0 10 0 9 0 16 0 105 0 131 0 6 0 34 0 35 0 9 0 36 0 1 0 70 0 61 0 20 0 549 0 59 0 106 0 86 0 103 0 23 0 189 0 52 0 493 0 115 0 8 0 4 0 3 0 21 0 16 0 73 0 34 0 109 0 3 0 4 0 15 0 33 0 37 0 53 0 14 0 18 0 16 0 48 0 7 0 6 0 14 0 10 0 91 0 39 0 16 0 38 0 25 0 63 0 11 0 49 0 15 0-3683 1 35 0 73 0 12 0 102 0 29 0 13 0 107 0 82 0 2 0 11 0 24 0 108 0 17 0 5 0 4 0 33 0 181 0 26 0 2 0 56 0 103 0 327 0 184 0 11 0 21 0 1 0 200 0 411 0 109 0 67 0 295 0 1 0 13 0 1 0 11 0 10 0 3 0 2 0 64 0 54 0 18 0 18 0 9 0 55 0 3 0 13 0 117 0 6 0 114 0 24 0 31 0 49 0 7 0 48 0 3 0 97 0 8 0 42 0 2 0 5 0 1 0 8 0 9 0 1 0 11 0 18 0 71 0 13 0 1 0 1 0 9 0 2 0 49 0 28 0 12 0 7 0-3718 1 41 0 131 0 86 0 141 0 59 0 60 0 36 0 70 0 7 0 181 0 77 0 9 0 12 0 104 0 313 0 25 0 17 0 168 0 73 0 220 0 413 0 479 0 106 0 6 0 110 0 124 0 45 0 36 0 81 0 18 0 15 0 49 0 16 0 97 0 40 0 9 0 57 0 11 0 19 0 50 0 11 0 12 0 2 0 10 0 1 0 7 0 17 0 1 0 8 0 9 0 7 0 14 0-3675 1 71 0 35 0 109 0 14 0 98 0 60 0 31 0 4 0 34 0 38 0 119 0 111 0 50 0 140 0 17 0 71 0 331 0 155 0 38 0 190 0 1 0 83 0 135 0 142 0 140 0 41 0 7 0 90 0 255 0 10 0 1 0 10 0 9 0 18 0 4 0 8 0 12 0 4 0 118 0 51 0 159 0 26 0 29 0 26 0 4 0 31 0 61 0 35 0 6 0 17 0 48 0 104 0 9 0 28 0 9 0 8 0 15 0 4 0 12 0 9 0 28 0 17 0 7 0 0 0 18 0 6 0 29 0 51 0 6 0 1 0-3724 1 6 0 55 0 3 0 12 0 8 0 72 0 225 0 37 0 43 0 18 0 13 0 87 0 50 0 9 0 9 0 27 0 196 0 81 0 17 0 15 0 1 0 16 0 13 0 28 0 514 0 43 0 20 0 23 0 112 0 188 0 15 0 186 0 50 0 97 0 61 0 331 0 4 0 30 0 25 0 3 0 4 0 62 0 24 0 41 0 11 0 25 0 27 0 25 0 115 0 13 0 19 0 8 0 12 0 11 0 49 0 35 0 5 0 13 0 15 0 5 0 19 0 10 0 9 0 3 0 32 0 8 0 131 0 5 0 31 0 16 0 21 0 1 0 35 0 35 0 6 0 13 0 43 0 41 0 16 0 11 0-3725 1 5 0 127 0 58 0 37 0 27 0 20 0 110 0 18 0 52 0 8 0 10 0 91 0 12 0 48 0 6 0 2 0 31 0 202 0 5 0 60 0 2 0 36 0 21 0 2 0 24 0 2 0 370 0 124 0 85 0 147 0 211 0 30 0 3 0 28 0 162 0 122 0 34 0 38 0 0 0 25 0 4 0 278 0 18 0 78 0 19 0 8 0 26 0 12 0 4 0 48 0 164 0 9 0 64 0 29 0 28 0 3 0 0 0 16 0 73 0 17 0 29 0 1 0 18 0 86 0 14 0 5 0 8 0 3 0 6 0 15 0 17 0 75 0 26 0 17 0 32 0 26 0 2 0 26 0 6 0 0 0 1 0 9 0-3736 1 5 0 14 0 120 0 94 0 40 0 134 0 12 0 48 0 42 0 2 0 67 0 4 0 94 0 142 0 52 0 30 0 56 0 17 0 4 0 1 0 397 0 47 0 46 0 75 0 577 0 193 0 54 0 312 0 26 0 43 0 3 0 13 0 6 0 8 0 12 0 11 0 16 0 10 0 5 0 35 0 15 0 7 0 18 0 64 0 3 0 85 0 24 0 4 0 1 0 31 0 21 0 0 0 13 0 31 0 25 0 35 0 14 0 2 0 12 0 6 0 8 0 11 0 30 0 12 0 1 0 11 0 91 0 29 0 27 0 25 0 52 0 14 0 6 0 16 0 4 0 4 0 2 0 19 0 2 0 100 0-3638 1 22 0 52 0 62 0 141 0 74 0 56 0 0 0 6 0 71 0 271 0 80 0 73 0 5 0 479 0 33 0 305 0 27 0 33 0 4 0 102 0 8 0 16 0 214 0 453 0 36 0 14 0 46 0 4 0 25 0 6 0 41 0 34 0 5 0 1 0 2 0 24 0 23 0 151 0 70 0 17 0 24 0 5 0 23 0 5 0 5 0 9 0 78 0 5 0 98 0 18 0 18 0 30 0 8 0 50 0 0 0 25 0 43 0 35 0 11 0 16 0 3 0 7 0 23 0 4 0 5 0-3733 1 13 0 31 0 88 0 5 0 25 0 17 0 197 0 4 0 41 0 32 0 77 0 85 0 16 0 13 0 15 0 11 0 119 0 128 0 56 0 18 0 373 0 103 0 146 0 164 0 94 0 114 0 15 0 12 0 300 0 101 0 273 0 8 0 1 0 6 0 40 0 4 0 3 0 9 0 16 0 20 0 1 0 25 0 2 0 36 0 33 0 19 0 52 0 4 0 6 0 1 0 81 0 27 0 11 0 75 0 32 0 0 0 11 0 83 0 30 0 18 0 11 0 92 0 41 0 6 0 11 0 0 0 5 0 13 0 13 0 0 0 8 0 18 0 25 0 4 0 25 0 13 0 8 0 25 0 11 0 23 0 8 0 31 0-3728 1 76 0 67 0 116 0 161 0 52 0 46 0 63 0 3 0 2 0 70 0 99 0 10 0 39 0 6 0 15 0 37 0 17 0 55 0 7 0 47 0 20 0 7 0 382 0 8 0 73 0 21 0 130 0 112 0 88 0 86 0 4 0 264 0 172 0 28 0 30 0 255 0 15 0 17 0 21 0 31 0 66 0 0 0 11 0 0 0 9 0 6 0 8 0 23 0 13 0 43 0 1 0 123 0 18 0 9 0 10 0 8 0 36 0 8 0 8 0 13 0 59 0 8 0 31 0 5 0 51 0 2 0 118 0 28 0 21 0 4 0 10 0 5 0 39 0 4 0 26 0 1 0 18 0 6 0 27 0 5 0 18 0 16 0 5 0 10 0 1 0 0 0 16 0 18 0 9 0-3736 1 20 0 12 0 2 0 49 0 54 0 15 0 38 0 31 0 18 0 207 0 37 0 71 0 31 0 1 0 20 0 19 0 20 0 16 0 120 0 73 0 4 0 135 0 61 0 366 0 68 0 77 0 44 0 193 0 46 0 282 0 8 0 16 0 33 0 16 0 18 0 16 0 43 0 22 0 93 0 282 0 28 0 45 0 13 0 6 0 22 0 24 0 47 0 12 0 15 0 25 0 4 0 2 0 37 0 8 0 201 0 4 0 28 0 3 0 5 0 1 0 10 0 2 0 5 0 106 0 22 0 110 0 4 0 7 0 8 0 13 0 35 0 55 0 8 0 3 0 23 0 48 0 29 0 5 0 10 0 5 0 13 0 2 0-3634 1 52 0 318 0 62 0 19 0 10 0 16 0 31 0 32 0 3 0 204 0 11 0 38 0 9 0 116 0 24 0 582 0 143 0 136 0 126 0 7 0 180 0 47 0 110 0 328 0 1 0 10 0 19 0 2 0 36 0 69 0 7 0 87 0 33 0 15 0 103 0 3 0 2 0 7 0 24 0 9 0 4 0 10 0 3 0 16 0 32 0 13 0 9 0 3 0 7 0 16 0 10 0 22 0 4 0 1 0 9 0 9 0 9 0 2 0 24 0 28 0 95 0 4 0 33 0 8 0 20 0 1 0 16 0 30 0 32 0 12 0 24 0 31 0 2 0 20 0 15 0 22 0 1 0-3726 1 15 0 43 0 12 0 9 0 73 0 55 0 63 0 136 0 21 0 5 0 45 0 29 0 7 0 78 0 186 0 27 0 15 0 4 0 51 0 20 0 166 0 318 0 183 0 8 0 170 0 47 0 25 0 3 0 45 0 4 0 42 0 58 0 77 0 106 0 64 0 44 0 428 0 33 0 5 0 30 0 10 0 23 0 55 0 19 0 2 0 45 0 7 0 6 0 16 0 14 0 139 0 40 0 6 0 2 0 2 0 9 0 2 0 17 0 12 0 5 0 35 0 66 0 9 0 67 0 87 0 4 0 4 0 20 0 7 0 55 0 16 0 20 0 18 0 1 0 12 0 4 0 13 0 51 0 29 0 15 0 4 0 20 0 2 0 1 0-3738 1 1 0 180 0 15 0 229 0 5 0 20 0 110 0 39 0 12 0 196 0 25 0 48 0 13 0 12 0 66 0 5 0 2 0 19 0 18 0 0 0 20 0 30 0 350 0 31 0 4 0 25 0 2 0 65 0 465 0 29 0 128 0 49 0 32 0 44 0 10 0 392 0 22 0 13 0 15 0 1 0 15 0 8 0 1 0 14 0 41 0 56 0 46 0 134 0 1 0 42 0 0 0 18 0 39 0 14 0 20 0 14 0 24 0 9 0 56 0 30 0 29 0 3 0 92 0 13 0 8 0 16 0 12 0 11 0 40 0 71 0 16 0 8 0 27 0 27 0 6 0 23 0-3686 1 5 0 63 0 28 0 28 0 4 0 40 0 12 0 178 0 23 0 29 0 11 0 76 0 75 0 40 0 7 0 2 0 117 0 5 0 100 0 1 0 0 0 9 0 26 0 20 0 80 0 4 0 42 0 301 0 48 0 80 0 68 0 18 0 55 0 160 0 122 0 19 0 70 0 2 0 202 0 156 0 20 0 11 0 286 0 32 0 8 0 63 0 66 0 38 0 42 0 4 0 18 0 15 0 4 0 87 0 5 0 0 0 9 0 44 0 38 0 3 0 27 0 31 0 13 0 2 0 4 0 7 0 24 0 25 0 6 0 20 0 22 0 14 0 5 0 89 0 2 0 17 0 3 0 26 0 24 0 16 0 4 0 7 0 5 0 57 0 15 0 15 0 30 0 12 0 35 0 17 0 4 0 5 0 2 0-3749 1 189 0 37 0 34 0 27 0 99 0 16 0 10 0 28 0 2 0 75 0 168 0 125 0 49 0 11 0 15 0 0 0 37 0 68 0 9 0 46 0 25 0 293 0 79 0 20 0 305 0 84 0 32 0 106 0 145 0 9 0 13 0 163 0 13 0 36 0 365 0 5 0 21 0 5 0 114 0 16 0 25 0 34 0 6 0 3 0 6 0 9 0 2 0 96 0 9 0 70 0 4 0 37 0 5 0 14 0 1 0 32 0 25 0 4 0 79 0 96 0 9 0 9 0 27 0 34 0 1 0 2 0 3 0 19 0 4 0 34 0 14 0 11 0 9 0 5 0 47 0 6 0 9 0 4 0 7 0 13 0 4 0 12 0-3679 1 103 0 5 0 11 0 117 0 113 0 15 0 73 0 38 0 22 0 351 0 39 0 4 0 117 0 292 0 9 0 1 0 3 0 21 0 233 0 123 0 17 0 168 0 253 0 12 0 10 0 60 0 47 0 1 0 26 0 409 0 18 0 5 0 15 0 19 0 10 0 96 0 4 0 38 0 6 0 103 0 33 0 4 0 10 0 30 0 8 0 8 0 1 0 16 0 12 0 4 0 56 0 5 0 16 0 21 0 5 0 9 0 19 0 33 0 9 0 103 0 56 0 9 0 5 0 13 0 4 0 32 0 3 0 2 0 2 0 1 0 11 0 5 0 6 0 20 0 42 0 4 0 0 0-3668 1 142 0 243 0 18 0 26 0 71 0 57 0 15 0 17 0 2 0 323 0 73 0 355 0 21 0 3 0 90 0 52 0 3 0 227 0 3 0 33 0 159 0 4 0 27 0 207 0 92 0 37 0 57 0 53 0 347 0 4 0 11 0 29 0 14 0 42 0 10 0 11 0 1 0 47 0 23 0 1 0 1 0 3 0 0 0 3 0 151 0 16 0 2 0 1 0 39 0 18 0 23 0 0 0 6 0 36 0 27 0 24 0 3 0 20 0 8 0 13 0 150 0 16 0 2 0 32 0 21 0 45 0 29 0 16 0 7 0 12 0 8 0 10 0 7 0 10 0 3 0 7 0 10 0 4 0 0 0-3635 1 11 0 37 0 131 0 149 0 75 0 21 0 11 0 118 0 152 0 114 0 11 0 99 0 361 0 7 0 121 0 44 0 3 0 2 0 19 0 36 0 18 0 313 0 15 0 4 0 7 0 12 0 26 0 186 0 22 0 34 0 35 0 30 0 60 0 27 0 296 0 1 0 14 0 7 0 68 0 9 0 35 0 0 0 15 0 33 0 8 0 3 0 1 0 182 0 19 0 13 0 24 0 11 0 6 0 20 0 11 0 3 0 2 0 7 0 47 0 55 0 8 0 7 0 28 0 129 0 2 0 12 0 6 0 9 0 34 0 36 0 19 0 3 0 14 0 19 0 16 0 8 0 2 0 23 0 7 0 4 0 3 0 8 0 3 0 23 0 9 0 4 0 1 0-3678 1 142 0 175 0 111 0 59 0 3 0 41 0 220 0 34 0 20 0 113 0 79 0 588 0 174 0 24 0 33 0 1 0 61 0 6 0 355 0 15 0 20 0 36 0 0 0 302 0 35 0 2 0 25 0 13 0 1 0 25 0 10 0 7 0 7 0 1 0 2 0 21 0 2 0 39 0 66 0 10 0 0 0 2 0 12 0 14 0 95 0 6 0 7 0 58 0 37 0 37 0 44 0 17 0 19 0 5 0 1 0 23 0 5 0 129 0 13 0 7 0 7 0 22 0 0 0 4 0 19 0 45 0 6 0 11 0 32 0 7 0 57 0 31 0 20 0-3735 1 52 0 51 0 94 0 196 0 69 0 7 0 44 0 169 0 109 0 79 0 59 0 44 0 4 0 76 0 353 0 78 0 144 0 169 0 21 0 108 0 15 0 227 0 174 0 1 0 18 0 329 0 3 0 37 0 13 0 28 0 17 0 8 0 42 0 12 0 6 0 3 0 54 0 3 0 20 0 26 0 137 0 8 0 12 0 5 0 12 0 2 0 30 0 102 0 9 0 14 0 1 0 175 0 6 0 8 0 2 0 10 0 25 0 20 0 21 0 35 0 3 0 1 0 2 0 7 0 4 0 16 0 9 0 3 0 10 0 3 0 12 0 3 0 1 0 14 0 8 0 16 0 10 0 7 0-3641 1 18 0 34 0 11 0 12 0 4 0 58 0 8 0 15 0 138 0 32 0 78 0 28 0 252 0 2 0 18 0 54 0 146 0 47 0 316 0 1 0 78 0 2 0 19 0 9 0 2 0 24 0 106 0 7 0 133 0 52 0 25 0 45 0 69 0 102 0 168 0 3 0 58 0 12 0 86 0 334 0 15 0 11 0 53 0 17 0 9 0 28 0 9 0 17 0 95 0 160 0 9 0 39 0 6 0 7 0 24 0 44 0 16 0 14 0 0 0 6 0 18 0 161 0 5 0 4 0 17 0 9 0 2 0 13 0 2 0 17 0 3 0 6 0 6 0 1 0 5 0 28 0 12 0 3 0 7 0 50 0 30 0 29 0 8 0 42 0-3658 1 87 0 29 0 6 0 70 0 17 0 2 0 121 0 96 0 157 0 97 0 18 0 32 0 29 0 130 0 28 0 11 0 17 0 15 0 304 0 101 0 10 0 53 0 77 0 31 0 2 0 17 0 4 0 86 0 57 0 148 0 9 0 12 0 14 0 62 0 374 0 1 0 4 0 291 0 13 0 7 0 1 0 9 0 17 0 29 0 73 0 8 0 19 0 10 0 9 0 8 0 2 0 19 0 16 0 12 0 104 0 42 0 3 0 6 0 33 0 12 0 2 0 28 0 13 0 45 0 18 0 34 0 17 0 28 0 4 0 11 0 97 0 11 0 38 0 1 0 4 0 7 0 42 0 28 0 26 0 1 0 14 0 31 0 3 0 7 0 30 0 6 0 19 0 6 0 12 0 5 0-3703 1 16 0 51 0 14 0 8 0 23 0 26 0 12 0 15 0 2 0 284 0 17 0 2 0 71 0 40 0 177 0 30 0 2 0 54 0 28 0 0 0 15 0 123 0 309 0 7 0 10 0 100 0 34 0 5 0 31 0 7 0 32 0 8 0 150 0 42 0 56 0 55 0 46 0 58 0 133 0 52 0 0 0 6 0 15 0 60 0 36 0 24 0 48 0 307 0 6 0 4 0 9 0 2 0 46 0 86 0 18 0 12 0 4 0 2 0 11 0 10 0 66 0 11 0 105 0 22 0 4 0 7 0 3 0 70 0 25 0 18 0 7 0 103 0 10 0 9 0 110 0 13 0 7 0 0 0 28 0 8 0 12 0 16 0 39 0 25 0 18 0 6 0 11 0 17 0 34 0 1 0 3 0 45 0-3505 1 20 0 9 0 5 0 14 0 123 0 43 0 153 0 20 0 49 0 86 0 23 0 77 0 9 0 12 0 0 0 67 0 89 0 10 0 2 0 336 0 37 0 141 0 77 0 140 0 35 0 113 0 44 0 8 0 12 0 3 0 117 0 29 0 8 0 8 0 33 0 9 0 45 0 30 0 74 0 3 0 44 0 277 0 3 0 7 0 5 0 3 0 41 0 14 0 17 0 12 0 6 0 41 0 31 0 23 0 40 0 28 0 1 0 8 0 132 0 6 0 18 0 68 0 5 0 40 0 40 0 9 0 11 0 16 0 61 0 154 0 14 0 5 0 32 0 3 0 26 0 0 0 3 0 31 0 9 0 19 0 40 0 45 0-3673 1 27 0 82 0 16 0 32 0 35 0 124 0 88 0 109 0 27 0 229 0 33 0 37 0 26 0 5 0 2 0 10 0 62 0 18 0 23 0 13 0 325 0 23 0 44 0 2 0 76 0 12 0 32 0 58 0 8 0 193 0 87 0 63 0 205 0 60 0 39 0 96 0 2 0 283 0 45 0 12 0 8 0 36 0 7 0 4 0 41 0 14 0 9 0 15 0 2 0 10 0 5 0 19 0 6 0 3 0 16 0 0 0 1 0 39 0 12 0 79 0 16 0 34 0 8 0 23 0 46 0 23 0 19 0 5 0 0 0 17 0 21 0 36 0 28 0 2 0 13 0 100 0 4 0 15 0 1 0 61 0 24 0 18 0 2 0 39 0 1 0 10 0 18 0 6 0 22 0 1 0 7 0 43 0 15 0-3742 1 24 0 49 0 168 0 0 0 45 0 101 0 130 0 55 0 89 0 10 0 98 0 19 0 2 0 10 0 83 0 43 0 430 0 60 0 34 0 26 0 53 0 22 0 33 0 39 0 5 0 221 0 34 0 132 0 173 0 3 0 5 0 23 0 32 0 70 0 11 0 33 0 17 0 306 0 36 0 31 0 61 0 13 0 4 0 6 0 45 0 11 0 10 0 22 0 18 0 3 0 10 0 3 0 109 0 11 0 4 0 7 0 24 0 1 0 29 0 1 0 38 0 5 0 30 0 0 0 6 0 6 0 14 0 63 0 11 0 11 0 26 0 11 0 87 0 15 0 39 0 4 0 32 0 2 0 4 0 2 0 15 0 2 0 73 0 0 0 25 0 11 0 19 0 16 0 2 0 13 0 5 0-3699 1 156 0 6 0 79 0 235 0 63 0 30 0 81 0 97 0 7 0 80 0 71 0 10 0 415 0 4 0 1 0 19 0 63 0 21 0 1 0 23 0 16 0 32 0 25 0 5 0 10 0 4 0 13 0 24 0 16 0 7 0 118 0 6 0 4 0 86 0 14 0 9 0 57 0 10 0 23 0 56 0 163 0 144 0 83 0 281 0 30 0 20 0 14 0 18 0 12 0 3 0 23 0 29 0 12 0 7 0 40 0 28 0 28 0 149 0 11 0 17 0 30 0 36 0 12 0 35 0 10 0 13 0 1 0 51 0 115 0 0 0 0 0 17 0 6 0 0 0 37 0 21 0 12 0 19 0 2 0 4 0 17 0 25 0 0 0 11 0 7 0 1 0 5 0 4 0 2 0 0 0 1 0 7 0 48 0 17 0 1 0 16 0 3 0 1 0-3715 1 68 0 16 0 15 0 0 0 22 0 25 0 238 0 32 0 40 0 33 0 14 0 98 0 160 0 29 0 56 0 42 0 50 0 7 0 57 0 3 0 345 0 81 0 7 0 29 0 19 0 59 0 27 0 47 0 21 0 2 0 104 0 29 0 9 0 49 0 27 0 20 0 44 0 53 0 13 0 23 0 98 0 28 0 62 0 71 0 8 0 15 0 1 0 84 0 26 0 279 0 7 0 25 0 27 0 2 0 3 0 7 0 1 0 0 0 1 0 25 0 0 0 0 0 8 0 29 0 66 0 42 0 6 0 12 0 140 0 11 0 12 0 13 0 13 0 11 0 13 0 24 0 14 0 6 0 1 0 13 0 11 0 6 0 58 0 20 0 16 0 4 0 15 0 103 0 5 0 9 0 1 0 13 0 3 0 2 0 3 0 15 0 78 0 44 0 1 0 4 0 6 0 9 0 4 0 8 0 8 0 17 0 8 0 6 0 10 0 23 0-3737 1 26 0 14 0 38 0 130 0 216 0 10 0 26 0 4 0 68 0 27 0 9 0 105 0 1 0 103 0 2 0 123 0 75 0 63 0 1 0 6 0 16 0 3 0 1 0 345 0 10 0 25 0 34 0 21 0 28 0 17 0 8 0 84 0 106 0 37 0 37 0 1 0 20 0 13 0 47 0 31 0 5 0 28 0 153 0 251 0 11 0 351 0 33 0 9 0 17 0 6 0 49 0 23 0 11 0 25 0 7 0 147 0 19 0 1 0 5 0 0 0 12 0 15 0 9 0 15 0 25 0 3 0 43 0 61 0 21 0 2 0 31 0 1 0 8 0 11 0 114 0 10 0 72 0 22 0 1 0 3 0 3 0 20 0 32 0 4 0 34 0 0 0 11 0 10 0 16 0 3 0 2 0 5 0 15 0-3697 1 45 0 15 0 301 0 77 0 32 0 35 0 8 0 3 0 24 0 6 0 81 0 180 0 8 0 173 0 59 0 291 0 72 0 14 0 2 0 4 0 56 0 18 0 9 0 44 0 1 0 15 0 44 0 194 0 5 0 10 0 2 0 0 0 7 0 20 0 56 0 4 0 14 0 14 0 11 0 31 0 114 0 77 0 14 0 3 0 96 0 9 0 11 0 80 0 4 0 270 0 11 0 47 0 8 0 10 0 19 0 27 0 4 0 16 0 2 0 8 0 32 0 45 0 27 0 17 0 5 0 111 0 11 0 2 0 4 0 10 0 38 0 0 0 9 0 4 0 30 0 1 0 7 0 11 0 12 0 19 0 17 0 14 0 19 0 29 0 39 0 3 0 3 0 119 0 22 0 23 0 40 0 4 0 2 0 10 0 34 0 11 0 2 0 13 0 8 0 20 0 10 0 1 0 21 0 17 0 13 0 10 0 0 0-3700 1 116 0 6 0 51 0 91 0 91 0 72 0 60 0 3 0 31 0 65 0 59 0 111 0 68 0 144 0 1 0 47 0 320 0 4 0 56 0 178 0 26 0 132 0 8 0 33 0 13 0 24 0 45 0 50 0 35 0 23 0 13 0 123 0 4 0 10 0 14 0 9 0 30 0 1 0 33 0 33 0 0 0 17 0 4 0 37 0 57 0 15 0 18 0 269 0 28 0 32 0 18 0 9 0 4 0 11 0 29 0 40 0 2 0 3 0 42 0 54 0 10 0 106 0 1 0 31 0 3 0 9 0 33 0 3 0 22 0 10 0 14 0 13 0 7 0 13 0 1 0 3 0 3 0 14 0 20 0 7 0 2 0 4 0 14 0 28 0 2 0 0 0 4 0 5 0 10 0 127 0 1 0 12 0 2 0 8 0 1 0 8 0 43 0 27 0 7 0 2 0 3 0 35 0 11 0 12 0 12 0 20 0-3598 1 21 0 104 0 0 0 176 0 6 0 4 0 17 0 16 0 47 0 7 0 109 0 35 0 46 0 99 0 99 0 65 0 59 0 400 0 2 0 22 0 101 0 36 0 5 0 3 0 17 0 5 0 21 0 2 0 17 0 165 0 4 0 15 0 50 0 127 0 24 0 13 0 14 0 89 0 30 0 5 0 54 0 8 0 11 0 11 0 29 0 47 0 58 0 45 0 270 0 20 0 12 0 38 0 20 0 17 0 11 0 11 0 5 0 8 0 30 0 1 0 29 0 33 0 4 0 8 0 2 0 4 0 17 0 2 0 6 0 91 0 7 0 5 0 3 0 7 0 28 0 22 0 4 0 7 0 3 0 16 0 5 0 21 0 3 0 31 0 9 0 14 0 6 0 9 0 27 0 18 0 3 0 42 0 97 0 13 0 22 0 44 0 8 0 18 0 28 0 5 0 38 0 7 0 1 0 1 0 6 0 10 0 23 0 6 0 0 0 1 0 1 0 3 0-3538 1 63 0 180 0 5 0 63 0 14 0 60 0 7 0 4 0 42 0 7 0 35 0 15 0 169 0 41 0 56 0 90 0 362 0 34 0 4 0 3 0 5 0 17 0 61 0 37 0 19 0 14 0 42 0 11 0 15 0 28 0 1 0 5 0 108 0 6 0 4 0 16 0 4 0 55 0 6 0 28 0 5 0 27 0 9 0 5 0 15 0 34 0 169 0 50 0 50 0 8 0 13 0 13 0 9 0 50 0 44 0 12 0 10 0 283 0 3 0 38 0 2 0 3 0 9 0 23 0 3 0 45 0 35 0 15 0 14 0 18 0 10 0 1 0 8 0 32 0 1 0 4 0 1 0 5 0 13 0 96 0 25 0 8 0 10 0 62 0 21 0 22 0 24 0 83 0 0 0 32 0 6 0 87 0 31 0 11 0 8 0 12 0 8 0 2 0 12 0 19 0 42 0 2 0 7 0 15 0 18 0 5 0 2 0 5 0 35 0 40 0 2 0 6 0 5 0-3669 1 63 0 55 0 239 0 1 0 73 0 15 0 12 0 2 0 17 0 11 0 114 0 100 0 13 0 36 0 63 0 55 0 105 0 322 0 56 0 11 0 58 0 16 0 6 0 1 0 6 0 5 0 4 0 9 0 35 0 24 0 26 0 14 0 1 0 12 0 9 0 108 0 3 0 14 0 4 0 49 0 54 0 33 0 5 0 5 0 6 0 2 0 29 0 2 0 4 0 50 0 100 0 14 0 2 0 1 0 5 0 14 0 0 0 12 0 6 0 11 0 30 0 10 0 44 0 19 0 45 0 21 0 370 0 3 0 16 0 1 0 2 0 5 0 14 0 27 0 4 0 74 0 21 0 38 0 33 0 13 0 1 0 81 0 32 0 6 0 4 0 24 0 18 0 25 0 3 0 11 0 0 0 6 0 1 0 25 0 2 0 17 0 1 0 14 0 11 0 30 0 50 0 6 0 106 0 7 0 15 0 3 0 2 0 4 0 21 0 29 0 9 0 18 0 21 0 5 0 0 0 3 0 2 0 4 0 4 0 7 0 2 0 6 0 4 0 27 0 2 0 9 0 24 0 31 0 7 0 18 0 14 0-3681 1 20 0 1 0 195 0 221 0 6 0 20 0 61 0 41 0 147 0 129 0 16 0 112 0 13 0 10 0 290 0 14 0 26 0 30 0 24 0 17 0 6 0 2 0 15 0 6 0 9 0 8 0 5 0 23 0 13 0 49 0 4 0 4 0 45 0 86 0 48 0 2 0 12 0 6 0 17 0 23 0 17 0 8 0 19 0 27 0 9 0 14 0 27 0 11 0 3 0 7 0 1 0 29 0 3 0 11 0 114 0 9 0 8 0 29 0 23 0 2 0 1 0 0 0 33 0 14 0 26 0 9 0 43 0 12 0 2 0 19 0 2 0 3 0 42 0 259 0 14 0 55 0 15 0 50 0 21 0 1 0 20 0 4 0 45 0 9 0 161 0 41 0 6 0 13 0 5 0 4 0 50 0 41 0 10 0 2 0 40 0 17 0 14 0 25 0 1 0 6 0 5 0 111 0 1 0 26 0 5 0 22 0 8 0 23 0 12 0 30 0 6 0 0 0 24 0 33 0 19 0 14 0 28 0-3583 1 97 0 13 0 155 0 7 0 417 0 7 0 4 0 49 0 27 0 72 0 8 0 425 0 2 0 4 0 19 0 0 0 7 0 25 0 28 0 14 0 1 0 7 0 16 0 26 0 9 0 6 0 38 0 17 0 18 0 86 0 4 0 5 0 2 0 1 0 7 0 8 0 0 0 12 0 39 0 1 0 11 0 52 0 29 0 16 0 35 0 40 0 31 0 3 0 96 0 18 0 6 0 8 0 0 0 34 0 24 0 3 0 24 0 2 0 12 0 8 0 10 0 17 0 5 0 3 0 21 0 71 0 0 0 3 0 17 0 1 0 259 0 0 0 60 0 21 0 73 0 0 0 3 0 7 0 26 0 20 0 13 0 16 0 15 0 6 0 16 0 23 0 84 0 14 0 40 0 34 0 2 0 25 0 4 0 2 0 7 0 34 0 7 0 0 0 9 0 5 0 15 0 15 0 2 0 10 0 13 0 4 0 4 0 7 0 20 0 3 0 18 0 100 0 1 0 46 0 10 0 9 0 3 0 10 0 0 0 7 0 39 0 5 0 15 0 0 0 2 0 5 0 3 0 30 0 3 0 39 0 11 0 2 0 0 0 7 0 2 0 6 0 41 0-3647 1 66 0 47 0 39 0 28 0 113 0 126 0 54 0 273 0 29 0 9 0 82 0 102 0 293 0 19 0 7 0 5 0 3 0 1 0 10 0 4 0 12 0 12 0 7 0 40 0 20 0 15 0 6 0 5 0 28 0 39 0 1 0 24 0 28 0 3 0 111 0 0 0 4 0 2 0 7 0 10 0 40 0 0 0 12 0 2 0 7 0 7 0 9 0 51 0 10 0 9 0 1 0 24 0 8 0 4 0 14 0 29 0 16 0 111 0 20 0 1 0 2 0 11 0 90 0 2 0 5 0 116 0 6 0 3 0 5 0 2 0 20 0 253 0 13 0 2 0 0 0 28 0 66 0 29 0 40 0 8 0 10 0 28 0 31 0 41 0 101 0 12 0 16 0 8 0 35 0 46 0 18 0 19 0 7 0 2 0 9 0 29 0 33 0 7 0 5 0 18 0 1 0 9 0 112 0 0 0 4 0 5 0 16 0 4 0 3 0 7 0 1 0 37 0 17 0 8 0 5 0 18 0 58 0 3 0 24 0 9 0 9 0 54 0 7 0-3747 1 36 0 26 0 0 0 46 0 24 0 5 0 13 0 8 0 43 0 74 0 128 0 37 0 66 0 56 0 37 0 0 0 20 0 154 0 10 0 42 0 17 0 101 0 2 0 420 0 25 0 6 0 3 0 13 0 26 0 3 0 13 0 3 0 13 0 9 0 6 0 24 0 51 0 7 0 11 0 36 0 14 0 105 0 8 0 7 0 16 0 1 0 1 0 13 0 2 0 11 0 0 0 57 0 9 0 6 0 36 0 5 0 7 0 31 0 4 0 12 0 23 0 12 0 12 0 12 0 2 0 116 0 2 0 41 0 4 0 10 0 38 0 3 0 4 0 10 0 71 0 6 0 12 0 12 0 6 0 1 0 12 0 22 0 18 0 13 0 267 0 19 0 29 0 18 0 9 0 21 0 10 0 30 0 12 0 21 0 5 0 1 0 19 0 3 0 2 0 64 0 29 0 94 0 44 0 3 0 30 0 5 0 23 0 9 0 6 0 4 0 5 0 1 0 13 0 0 0 40 0 5 0 35 0 23 0 24 0 105 0 5 0 4 0 14 0 17 0 2 0 9 0 0 0 2 0 3 0 5 0 1 0 9 0 2 0 1 0 36 0 10 0 4 0 12 0 5 0 24 0 8 0 47 0 1 0 1 0 5 0 33 0 5 0 22 0-3712 1 191 0 22 0 58 0 195 0 62 0 229 0 2 0 33 0 20 0 41 0 38 0 6 0 111 0 28 0 294 0 5 0 1 0 32 0 32 0 9 0 6 0 7 0 11 0 3 0 19 0 2 0 6 0 16 0 20 0 8 0 8 0 6 0 1 0 10 0 19 0 9 0 5 0 15 0 27 0 6 0 9 0 91 0 35 0 26 0 1 0 16 0 5 0 2 0 12 0 27 0 4 0 1 0 9 0 3 0 13 0 31 0 18 0 7 0 3 0 11 0 7 0 22 0 36 0 9 0 86 0 1 0 3 0 1 0 27 0 11 0 7 0 8 0 4 0 4 0 0 0 48 0 32 0 2 0 2 0 26 0 21 0 34 0 10 0 37 0 12 0 0 0 264 0 17 0 14 0 64 0 3 0 3 0 37 0 11 0 6 0 29 0 18 0 2 0 0 0 6 0 3 0 0 0 35 0 34 0 7 0 3 0 8 0 87 0 15 0 5 0 22 0 1 0 9 0 21 0 3 0 26 0 49 0 9 0 5 0 28 0 9 0 1 0 5 0 26 0 1 0 45 0 138 0 21 0 6 0 7 0 5 0 1 0 10 0 21 0 2 0 34 0 1 0 48 0 8 0 16 0 7 0 32 0 7 0 17 0 13 0 7 0-3629 1 53 0 120 0 135 0 247 0 107 0 40 0 81 0 6 0 465 0 14 0 28 0 13 0 4 0 3 0 17 0 1 0 2 0 11 0 33 0 24 0 3 0 11 0 18 0 2 0 10 0 11 0 4 0 17 0 15 0 33 0 7 0 85 0 3 0 11 0 5 0 60 0 8 0 3 0 0 0 1 0 5 0 25 0 4 0 3 0 1 0 24 0 28 0 44 0 1 0 27 0 28 0 8 0 1 0 3 0 11 0 84 0 8 0 5 0 10 0 29 0 14 0 13 0 24 0 9 0 20 0 0 0 15 0 18 0 15 0 17 0 2 0 37 0 20 0 3 0 5 0 2 0 9 0 6 0 4 0 5 0 6 0 3 0 252 0 3 0 5 0 28 0 13 0 61 0 6 0 24 0 21 0 12 0 11 0 46 0 23 0 11 0 22 0 113 0 1 0 12 0 59 0 16 0 11 0 25 0 2 0 19 0 18 0 16 0 19 0 0 0 0 0 17 0 10 0 10 0 2 0 4 0 14 0 24 0 9 0 105 0 23 0 48 0 4 0 31 0 1 0 8 0 17 0 20 0 6 0 5 0 20 0 3 0 3 0 15 0 15 0 39 0 14 0 2 0-3670 1 43 0 168 0 19 0 211 0 4 0 5 0 68 0 53 0 204 0 13 0 92 0 18 0 10 0 12 0 6 0 49 0 318 0 22 0 5 0 1 0 40 0 6 0 17 0 7 0 20 0 18 0 2 0 10 0 5 0 13 0 18 0 1 0 15 0 9 0 21 0 3 0 5 0 18 0 5 0 11 0 2 0 7 0 1 0 97 0 7 0 10 0 40 0 3 0 11 0 6 0 14 0 7 0 5 0 31 0 34 0 18 0 0 0 32 0 6 0 2 0 19 0 5 0 15 0 2 0 30 0 91 0 14 0 1 0 3 0 10 0 10 0 12 0 15 0 6 0 3 0 5 0 19 0 0 0 7 0 55 0 10 0 33 0 12 0 10 0 1 0 343 0 43 0 12 0 6 0 28 0 13 0 1 0 1 0 17 0 66 0 1 0 5 0 1 0 174 0 23 0 33 0 57 0 15 0 12 0 17 0 7 0 4 0 38 0 46 0 3 0 18 0 7 0 99 0 38 0 35 0 6 0 18 0 8 0 4 0 4 0 3 0 17 0 4 0 19 0 0 0 21 0 7 0 38 0 9 0 10 0 8 0 2 0 0 0 12 0 24 0-3517 1 188 0 18 0 76 0 43 0 6 0 9 0 35 0 59 0 201 0 129 0 372 0 8 0 10 0 7 0 30 0 3 0 19 0 58 0 16 0 1 0 24 0 4 0 11 0 0 0 30 0 0 0 44 0 124 0 21 0 19 0 30 0 28 0 21 0 2 0 2 0 22 0 11 0 1 0 33 0 41 0 19 0 4 0 41 0 82 0 10 0 3 0 18 0 15 0 11 0 11 0 8 0 14 0 3 0 12 0 3 0 6 0 4 0 19 0 19 0 34 0 18 0 26 0 21 0 0 0 1 0 12 0 5 0 16 0 1 0 295 0 20 0 16 0 6 0 1 0 17 0 15 0 28 0 6 0 4 0 2 0 9 0 13 0 16 0 14 0 9 0 20 0 0 0 15 0 20 0 10 0 1 0 5 0 30 0 94 0 23 0 24 0 9 0 1 0 5 0 33 0 1 0 1 0 12 0 7 0 1 0 4 0 3 0 13 0 25 0 9 0 26 0 15 0 16 0 3 0 2 0 5 0 27 0 127 0 17 0 9 0 10 0 7 0 3 0 23 0 5 0 37 0 1 0 6 0 0 0 19 0 12 0 3 0 7 0 16 0 7 0 3 0 5 0 0 0 31 0 12 0 25 0 3 0 0 0 15 0 7 0-3674 1 26 0 106 0 35 0 29 0 201 0 9 0 115 0 58 0 26 0 87 0 57 0 2 0 120 0 413 0 18 0 51 0 34 0 2 0 29 0 57 0 2 0 6 0 19 0 3 0 0 0 4 0 2 0 0 0 10 0 5 0 6 0 18 0 3 0 11 0 11 0 4 0 1 0 93 0 2 0 5 0 1 0 32 0 8 0 13 0 1 0 6 0 17 0 65 0 5 0 11 0 11 0 5 0 11 0 16 0 20 0 6 0 5 0 1 0 3 0 17 0 20 0 0 0 5 0 99 0 24 0 12 0 2 0 2 0 77 0 22 0 3 0 5 0 24 0 6 0 1 0 6 0 1 0 34 0 8 0 10 0 2 0 3 0 9 0 20 0 8 0 6 0 278 0 3 0 2 0 7 0 12 0 12 0 10 0 16 0 4 0 1 0 8 0 11 0 56 0 14 0 3 0 47 0 22 0 22 0 14 0 17 0 102 0 8 0 19 0 3 0 4 0 4 0 12 0 10 0 1 0 1 0 62 0 3 0 15 0 9 0 35 0 10 0 10 0 1 0 12 0 1 0 9 0 24 0 117 0 32 0 9 0 15 0 5 0 17 0 32 0 22 0 15 0 53 0 22 0 34 0 10 0 1 0 13 0-3723 1 77 0 137 0 33 0 22 0 24 0 292 0 231 0 35 0 7 0 72 0 414 0 10 0 4 0 0 0 8 0 23 0 2 0 5 0 8 0 3 0 8 0 2 0 6 0 4 0 14 0 1 0 21 0 4 0 1 0 1 0 2 0 1 0 54 0 9 0 40 0 0 0 9 0 19 0 1 0 2 0 11 0 15 0 5 0 11 0 85 0 5 0 2 0 2 0 2 0 14 0 9 0 4 0 13 0 1 0 15 0 10 0 38 0 1 0 1 0 3 0 0 0 10 0 12 0 6 0 3 0 4 0 14 0 8 0 17 0 26 0 12 0 62 0 1 0 95 0 43 0 2 0 17 0 5 0 15 0 4 0 1 0 7 0 1 0 55 0 5 0 13 0 6 0 15 0 26 0 10 0 17 0 22 0 5 0 1 0 2 0 2 0 2 0 15 0 3 0 263 0 3 0 1 0 20 0 16 0 13 0 34 0 13 0 4 0 7 0 10 0 10 0 20 0 17 0 5 0 27 0 6 0 25 0 8 0 161 0 1 0 54 0 1 0 4 0 41 0 0 0 14 0 11 0 111 0 121 0 19 0 7 0 2 0 5 0 1 0 2 0 15 0 19 0 33 0 6 0 8 0 21 0 10 0 17 0 15 0 3 0 22 0 21 0 17 0 1 0 9 0 18 0 22 0-3688 1 52 0 5 0 51 0 58 0 205 0 16 0 0 0 19 0 101 0 59 0 60 0 106 0 241 0 22 0 16 0 290 0 6 0 15 0 14 0 3 0 4 0 8 0 2 0 4 0 4 0 11 0 7 0 12 0 3 0 16 0 3 0 31 0 2 0 0 0 20 0 1 0 12 0 6 0 2 0 30 0 41 0 5 0 9 0 5 0 11 0 1 0 0 0 14 0 87 0 5 0 5 0 1 0 17 0 7 0 0 0 6 0 2 0 49 0 47 0 5 0 25 0 3 0 2 0 9 0 12 0 11 0 0 0 10 0 3 0 2 0 1 0 1 0 2 0 61 0 2 0 89 0 1 0 0 0 50 0 2 0 8 0 0 0 24 0 16 0 21 0 1 0 14 0 2 0 10 0 2 0 0 0 3 0 2 0 25 0 17 0 1 0 1 0 2 0 3 0 2 0 24 0 4 0 7 0 27 0 17 0 274 0 13 0 4 0 7 0 2 0 10 0 0 0 31 0 4 0 27 0 26 0 3 0 8 0 19 0 100 0 9 0 131 0 26 0 2 0 28 0 18 0 48 0 6 0 6 0 36 0 0 0 23 0 3 0 2 0 12 0 14 0 40 0 113 0 4 0 14 0 12 0 5 0 9 0 1 0 35 0 14 0 35 0 3 0 27 0 0 0 10 0 11 0 2 0 15 0 24 0 35 0 1 0 10 0 9 0 5 0 6 0 11 0-3316 1 82 0 33 0 305 0 31 0 2 0 139 0 29 0 19 0 306 0 0 0 4 0 15 0 39 0 48 0 2 0 7 0 2 0 2 0 4 0 2 0 1 0 4 0 8 0 15 0 11 0 18 0 1 0 11 0 20 0 36 0 3 0 18 0 8 0 92 0 5 0 2 0 2 0 8 0 2 0 6 0 3 0 13 0 7 0 1 0 16 0 10 0 7 0 14 0 2 0 12 0 46 0 22 0 2 0 1 0 23 0 14 0 1 0 18 0 2 0 11 0 8 0 20 0 0 0 102 0 0 0 2 0 2 0 4 0 4 0 4 0 2 0 6 0 4 0 3 0 1 0 7 0 2 0 7 0 5 0 9 0 3 0 10 0 1 0 0 0 2 0 12 0 23 0 4 0 0 0 25 0 25 0 15 0 6 0 10 0 20 0 28 0 11 0 29 0 1 0 2 0 296 0 1 0 16 0 20 0 15 0 9 0 34 0 29 0 36 0 9 0 6 0 2 0 50 0 23 0 114 0 0 0 5 0 16 0 2 0 7 0 13 0 4 0 2 0 2 0 13 0 8 0 6 0 11 0 7 0 8 0 21 0 32 0 2 0 22 0 24 0 28 0 43 0 0 0 4 0 1 0 104 0 26 0 19 0 3 0 10 0 17 0 26 0 1 0 9 0 21 0 12 0 3 0 12 0 1 0 5 0 2 0 19 0 23 0 7 0 6 0 3 0 3 0 27 0 11 0-3619 1 156 0 250 0 9 0 256 0 21 0 87 0 64 0 37 0 12 0 357 0 8 0 8 0 22 0 0 0 5 0 5 0 1 0 4 0 15 0 36 0 3 0 9 0 4 0 3 0 8 0 11 0 15 0 20 0 6 0 9 0 9 0 2 0 52 0 27 0 3 0 0 0 3 0 90 0 16 0 4 0 2 0 23 0 6 0 12 0 18 0 1 0 39 0 2 0 0 0 3 0 9 0 6 0 4 0 42 0 17 0 6 0 8 0 14 0 3 0 5 0 1 0 12 0 3 0 32 0 6 0 115 0 18 0 5 0 2 0 6 0 31 0 5 0 22 0 15 0 14 0 2 0 2 0 5 0 1 0 11 0 16 0 18 0 34 0 10 0 7 0 5 0 16 0 19 0 3 0 2 0 7 0 301 0 32 0 9 0 8 0 53 0 11 0 5 0 19 0 70 0 6 0 146 0 1 0 2 0 32 0 16 0 4 0 26 0 13 0 2 0 24 0 22 0 3 0 12 0 14 0 43 0 14 0 155 0 4 0 50 0 5 0 10 0 2 0 52 0 1 0 9 0 4 0 14 0 18 0 1 0 4 0 8 0 2 0 11 0 19 0 9 0 16 0 22 0 2 0 1 0 7 0-3688 1 148 0 191 0 52 0 26 0 383 0 9 0 69 0 100 0 328 0 3 0 7 0 3 0 2 0 33 0 14 0 5 0 13 0 0 0 6 0 11 0 5 0 6 0 7 0 23 0 37 0 1 0 46 0 13 0 1 0 13 0 7 0 10 0 3 0 1 0 14 0 7 0 93 0 8 0 7 0 2 0 2 0 19 0 3 0 57 0 16 0 24 0 27 0 5 0 26 0 5 0 12 0 10 0 10 0 14 0 2 0 2 0 4 0 22 0 1 0 7 0 5 0 14 0 81 0 22 0 3 0 39 0 11 0 11 0 7 0 8 0 42 0 10 0 1 0 28 0 25 0 10 0 3 0 1 0 2 0 13 0 14 0 10 0 3 0 27 0 269 0 27 0 8 0 19 0 6 0 12 0 25 0 29 0 2 0 1 0 30 0 17 0 16 0 6 0 1 0 1 0 10 0 12 0 6 0 4 0 39 0 2 0 3 0 153 0 17 0 5 0 5 0 66 0 9 0 7 0 3 0 10 0 4 0 22 0 13 0 1 0 9 0 24 0 17 0 1 0 7 0 3 0 8 0 1 0 1 0 123 0 6 0 4 0 25 0 2 0 18 0 38 0 33 0 7 0 18 0 15 0 15 0 6 0 3 0 4 0 15 0 17 0 8 0 2 0 14 0 1 0 22 0-3272 1 205 0 7 0 158 0 64 0 22 0 440 0 6 0 16 0 32 0 1 0 10 0 30 0 20 0 13 0 32 0 1 0 3 0 28 0 7 0 43 0 46 0 3 0 82 0 6 0 7 0 11 0 21 0 8 0 1 0 8 0 10 0 2 0 1 0 3 0 13 0 31 0 1 0 2 0 11 0 5 0 65 0 12 0 13 0 34 0 3 0 2 0 1 0 6 0 16 0 94 0 8 0 1 0 5 0 5 0 1 0 1 0 15 0 7 0 4 0 18 0 5 0 1 0 2 0 2 0 6 0 17 0 8 0 3 0 7 0 14 0 0 0 1 0 6 0 2 0 30 0 10 0 4 0 11 0 12 0 29 0 17 0 7 0 10 0 32 0 255 0 5 0 11 0 62 0 4 0 15 0 44 0 1 0 11 0 34 0 3 0 6 0 9 0 52 0 9 0 0 0 4 0 4 0 12 0 4 0 3 0 91 0 9 0 17 0 31 0 4 0 22 0 10 0 113 0 26 0 39 0 5 0 12 0 95 0 9 0 38 0 24 0 11 0 2 0 5 0 10 0 5 0 18 0 4 0 14 0 9 0 8 0 3 0 4 0 2 0 31 0 7 0 42 0 7 0 5 0 27 0 0 0 5 0 5 0-3695 1 21 0 15 0 28 0 30 0 302 0 33 0 113 0 14 0 360 0 50 0 7 0 336 0 8 0 9 0 0 0 10 0 1 0 3 0 10 0 51 0 9 0 6 0 5 0 18 0 1 0 2 0 2 0 1 0 7 0 11 0 29 0 17 0 5 0 19 0 6 0 5 0 11 0 20 0 3 0 2 0 9 0 12 0 1 0 1 0 7 0 80 0 5 0 19 0 7 0 7 0 8 0 9 0 3 0 18 0 6 0 1 0 5 0 3 0 10 0 27 0 6 0 2 0 7 0 6 0 5 0 4 0 14 0 12 0 18 0 5 0 2 0 5 0 20 0 2 0 3 0 0 0 17 0 16 0 7 0 25 0 1 0 85 0 17 0 9 0 1 0 11 0 23 0 19 0 3 0 17 0 0 0 1 0 9 0 4 0 22 0 5 0 38 0 7 0 7 0 4 0 27 0 4 0 1 0 11 0 6 0 0 0 5 0 14 0 13 0 6 0 6 0 1 0 4 0 290 0 1 0 12 0 10 0 22 0 12 0 20 0 12 0 14 0 3 0 9 0 3 0 28 0 62 0 157 0 50 0 42 0 13 0 13 0 74 0 75 0 146 0 24 0 4 0 48 0 4 0 1 0 24 0 8 0 1 0 27 0 10 0 2 0 2 0 36 0 21 0 4 0 2 0 7 0 21 0 7 0 9 0-3730 1 13 0 174 0 39 0 211 0 9 0 466 0 424 0 51 0 16 0 3 0 5 0 7 0 5 0 3 0 0 0 6 0 14 0 6 0 12 0 8 0 6 0 31 0 5 0 5 0 6 0 8 0 6 0 7 0 1 0 1 0 5 0 21 0 20 0 25 0 1 0 8 0 6 0 2 0 96 0 16 0 5 0 2 0 25 0 6 0 2 0 6 0 3 0 9 0 0 0 1 0 4 0 11 0 3 0 5 0 2 0 13 0 2 0 0 0 7 0 3 0 7 0 8 0 12 0 8 0 7 0 6 0 9 0 7 0 10 0 21 0 7 0 3 0 15 0 0 0 4 0 10 0 5 0 21 0 84 0 25 0 18 0 5 0 8 0 4 0 4 0 19 0 7 0 34 0 2 0 2 0 11 0 0 0 12 0 12 0 4 0 11 0 6 0 10 0 6 0 11 0 3 0 11 0 13 0 19 0 40 0 3 0 263 0 5 0 2 0 7 0 15 0 11 0 59 0 11 0 10 0 15 0 2 0 17 0 13 0 27 0 9 0 3 0 5 0 15 0 1 0 62 0 128 0 34 0 7 0 14 0 46 0 2 0 6 0 5 0 19 0 3 0 6 0 6 0 43 0 1 0 4 0 6 0 18 0 9 0 29 0 85 0 4 0 8 0 14 0 3 0 6 0 29 0 10 0 36 0 16 0 8 0 7 0 8 0 8 0 15 0 28 0 3 0 16 0 2 0 8 0 15 0 11 0 11 0 3 0 5 0 17 0-3674 1 8 0 185 0 12 0 177 0 94 0 309 0 111 0 23 0 61 0 318 0 3 0 2 0 3 0 6 0 4 0 14 0 4 0 18 0 12 0 29 0 29 0 19 0 22 0 21 0 2 0 8 0 3 0 6 0 3 0 2 0 12 0 1 0 13 0 8 0 20 0 6 0 4 0 7 0 97 0 1 0 4 0 8 0 13 0 2 0 9 0 4 0 4 0 10 0 15 0 2 0 5 0 4 0 45 0 11 0 6 0 19 0 17 0 0 0 9 0 15 0 7 0 4 0 7 0 26 0 11 0 0 0 12 0 7 0 2 0 1 0 10 0 93 0 23 0 12 0 20 0 6 0 5 0 0 0 11 0 8 0 1 0 14 0 5 0 20 0 1 0 8 0 1 0 4 0 31 0 18 0 10 0 16 0 11 0 1 0 2 0 15 0 19 0 14 0 13 0 0 0 12 0 0 0 259 0 4 0 14 0 17 0 2 0 10 0 4 0 4 0 41 0 10 0 8 0 10 0 3 0 28 0 7 0 20 0 2 0 16 0 29 0 6 0 7 0 3 0 13 0 16 0 28 0 89 0 1 0 18 0 3 0 4 0 10 0 11 0 45 0 43 0 37 0 6 0 1 0 12 0 2 0 6 0 34 0 156 0 38 0 12 0 4 0 34 0 29 0 5 0 2 0 25 0 13 0 27 0 3 0 7 0 4 0 0 0 11 0 23 0 0 0 12 0 6 0 7 0 9 0-3721 1 266 0 15 0 116 0 52 0 46 0 21 0 353 0 475 0 13 0 5 0 4 0 2 0 6 0 1 0 11 0 7 0 8 0 12 0 5 0 15 0 18 0 2 0 5 0 6 0 5 0 7 0 11 0 22 0 3 0 15 0 2 0 2 0 3 0 27 0 15 0 11 0 0 0 2 0 42 0 93 0 30 0 0 0 6 0 14 0 12 0 8 0 7 0 3 0 11 0 20 0 8 0 1 0 9 0 6 0 20 0 20 0 19 0 8 0 10 0 4 0 8 0 5 0 5 0 11 0 30 0 3 0 6 0 1 0 5 0 2 0 6 0 2 0 86 0 8 0 11 0 17 0 15 0 1 0 36 0 23 0 7 0 6 0 4 0 17 0 3 0 11 0 14 0 3 0 18 0 4 0 21 0 6 0 12 0 0 0 2 0 16 0 7 0 17 0 17 0 3 0 263 0 25 0 1 0 8 0 5 0 4 0 63 0 30 0 8 0 3 0 63 0 39 0 21 0 8 0 1 0 9 0 105 0 1 0 37 0 78 0 8 0 5 0 3 0 10 0 2 0 12 0 19 0 18 0 1 0 13 0 21 0 7 0 7 0 8 0 3 0 16 0 19 0 0 0 91 0 3 0 33 0 10 0 4 0 6 0 14 0 8 0 5 0 1 0 28 0 10 0 50 0 23 0 39 0 9 0 8 0 13 0 14 0 12 0 3 0-3482 1 23 0 4 0 104 0 81 0 59 0 67 0 173 0 80 0 194 0 305 0 11 0 0 0 14 0 8 0 1 0 1 0 3 0 9 0 2 0 9 0 2 0 29 0 10 0 5 0 2 0 1 0 4 0 14 0 25 0 0 0 7 0 7 0 7 0 3 0 0 0 12 0 2 0 17 0 14 0 6 0 6 0 12 0 17 0 18 0 6 0 2 0 2 0 93 0 23 0 4 0 1 0 8 0 6 0 2 0 14 0 6 0 19 0 5 0 3 0 4 0 3 0 7 0 13 0 11 0 7 0 2 0 9 0 15 0 14 0 42 0 13 0 2 0 4 0 1 0 20 0 8 0 1 0 6 0 8 0 1 0 101 0 22 0 5 0 2 0 12 0 1 0 37 0 16 0 11 0 7 0 0 0 24 0 10 0 19 0 24 0 5 0 3 0 1 0 3 0 3 0 11 0 7 0 7 0 0 0 17 0 0 0 2 0 11 0 1 0 1 0 2 0 6 0 5 0 2 0 13 0 13 0 256 0 39 0 11 0 33 0 10 0 2 0 7 0 35 0 8 0 0 0 1 0 26 0 19 0 2 0 38 0 19 0 5 0 2 0 5 0 7 0 8 0 11 0 4 0 100 0 8 0 19 0 23 0 1 0 15 0 4 0 11 0 34 0 28 0 31 0 18 0 10 0 2 0 6 0 2 0 61 0 8 0 94 0 19 0 19 0 15 0 28 0 34 0 6 0 27 0 10 0 51 0 6 0 27 0 31 0 6 0 0 0 13 0 2 0 4 0 4 0-3671 1 4 0 33 0 269 0 8 0 185 0 52 0 219 0 2 0 58 0 43 0 404 0 1 0 13 0 15 0 32 0 2 0 3 0 16 0 15 0 2 0 4 0 3 0 40 0 6 0 1 0 4 0 23 0 6 0 2 0 18 0 4 0 4 0 9 0 7 0 18 0 8 0 3 0 19 0 4 0 3 0 7 0 1 0 3 0 103 0 1 0 9 0 12 0 13 0 32 0 7 0 0 0 6 0 7 0 7 0 6 0 43 0 4 0 0 0 5 0 7 0 4 0 9 0 1 0 2 0 1 0 3 0 21 0 3 0 1 0 9 0 1 0 9 0 1 0 3 0 6 0 2 0 6 0 2 0 12 0 19 0 100 0 9 0 10 0 25 0 5 0 12 0 1 0 17 0 29 0 7 0 1 0 2 0 3 0 12 0 4 0 3 0 16 0 2 0 4 0 1 0 6 0 2 0 1 0 25 0 16 0 4 0 13 0 2 0 13 0 0 0 1 0 5 0 7 0 3 0 23 0 4 0 7 0 265 0 24 0 3 0 29 0 6 0 1 0 7 0 15 0 14 0 26 0 29 0 4 0 1 0 12 0 4 0 15 0 2 0 8 0 9 0 2 0 1 0 1 0 1 0 30 0 43 0 127 0 3 0 21 0 2 0 53 0 10 0 2 0 1 0 16 0 9 0 35 0 29 0 29 0 35 0 10 0 100 0 2 0 10 0 4 0 14 0 3 0 24 0 33 0 1 0 20 0 16 0 1 0 3 0 31 0 9 0 3 0 3 0 9 0 21 0 2 0 19 0 38 0 1 0 4 0-3676 1 104 0 14 0 267 0 2 0 62 0 78 0 8 0 32 0 240 0 511 0 33 0 2 0 3 0 7 0 15 0 21 0 77 0 4 0 1 0 6 0 10 0 1 0 24 0 11 0 8 0 9 0 12 0 9 0 5 0 7 0 11 0 9 0 86 0 4 0 9 0 12 0 9 0 25 0 2 0 8 0 5 0 8 0 5 0 7 0 9 0 29 0 10 0 10 0 5 0 8 0 13 0 15 0 25 0 9 0 6 0 4 0 10 0 9 0 12 0 4 0 1 0 15 0 0 0 2 0 7 0 87 0 4 0 13 0 21 0 9 0 1 0 5 0 6 0 6 0 1 0 4 0 16 0 27 0 6 0 13 0 6 0 2 0 19 0 2 0 3 0 24 0 9 0 9 0 1 0 9 0 7 0 13 0 4 0 19 0 10 0 16 0 4 0 6 0 4 0 274 0 2 0 5 0 1 0 5 0 1 0 1 0 5 0 31 0 3 0 11 0 18 0 9 0 21 0 6 0 40 0 11 0 1 0 12 0 27 0 4 0 5 0 4 0 13 0 15 0 119 0 5 0 0 0 36 0 22 0 22 0 4 0 12 0 11 0 27 0 6 0 18 0 16 0 6 0 5 0 7 0 3 0 5 0 39 0 5 0 15 0 17 0 17 0 91 0 17 0 1 0 22 0 8 0 1 0 3 0 31 0 2 0 1 0 0 0 25 0 1 0 6 0 4 0 22 0 2 0 6 0 22 0 36 0 29 0 4 0 2 0 2 0 11 0 7 0 1 0 4 0-3720 1 527 0 56 0 255 0 120 0 19 0 5 0 366 0 3 0 19 0 1 0 1 0 10 0 2 0 8 0 0 0 8 0 4 0 1 0 3 0 25 0 3 0 9 0 4 0 5 0 5 0 10 0 27 0 27 0 22 0 0 0 5 0 13 0 1 0 2 0 11 0 2 0 0 0 17 0 4 0 3 0 25 0 17 0 88 0 28 0 9 0 9 0 6 0 6 0 12 0 12 0 3 0 0 0 14 0 10 0 5 0 22 0 9 0 1 0 7 0 18 0 1 0 3 0 6 0 3 0 3 0 19 0 14 0 27 0 5 0 7 0 2 0 25 0 6 0 6 0 87 0 9 0 30 0 5 0 12 0 25 0 3 0 8 0 1 0 1 0 32 0 11 0 13 0 5 0 7 0 2 0 5 0 2 0 10 0 19 0 14 0 11 0 11 0 17 0 3 0 4 0 8 0 2 0 7 0 2 0 11 0 306 0 6 0 26 0 30 0 18 0 10 0 15 0 2 0 42 0 39 0 42 0 31 0 108 0 18 0 26 0 0 0 1 0 32 0 34 0 3 0 6 0 50 0 13 0 20 0 4 0 6 0 41 0 4 0 128 0 10 0 7 0 20 0 5 0 5 0 2 0 28 0 14 0 6 0 6 0 14 0 0 0 2 0 33 0 16 0 37 0 23 0 6 0 8 0 1 0 8 0 16 0-3675 1 128 0 38 0 177 0 5 0 125 0 253 0 564 0 4 0 10 0 7 0 5 0 7 0 12 0 16 0 1 0 14 0 3 0 5 0 1 0 8 0 7 0 1 0 3 0 5 0 0 0 9 0 1 0 0 0 9 0 7 0 2 0 1 0 2 0 11 0 12 0 1 0 6 0 11 0 5 0 25 0 2 0 1 0 3 0 25 0 0 0 28 0 21 0 6 0 132 0 30 0 13 0 13 0 7 0 8 0 23 0 5 0 2 0 19 0 4 0 3 0 3 0 6 0 6 0 9 0 0 0 14 0 6 0 17 0 30 0 0 0 0 0 7 0 1 0 8 0 104 0 17 0 35 0 16 0 6 0 3 0 12 0 23 0 3 0 1 0 1 0 12 0 2 0 4 0 9 0 37 0 10 0 3 0 18 0 13 0 8 0 15 0 11 0 10 0 10 0 4 0 5 0 276 0 16 0 3 0 53 0 34 0 0 0 7 0 28 0 36 0 17 0 14 0 5 0 25 0 18 0 19 0 2 0 15 0 114 0 3 0 0 0 19 0 0 0 11 0 10 0 10 0 26 0 2 0 25 0 23 0 5 0 25 0 6 0 21 0 34 0 38 0 10 0 2 0 89 0 20 0 0 0 14 0 0 0 60 0 2 0 5 0 0 0 52 0 26 0 10 0 3 0 23 0 6 0 29 0 35 0 4 0 7 0-3617 1 26 0 98 0 147 0 12 0 237 0 276 0 8 0 4 0 81 0 333 0 14 0 1 0 8 0 1 0 16 0 1 0 1 0 3 0 3 0 5 0 1 0 4 0 2 0 41 0 4 0 4 0 3 0 14 0 14 0 23 0 12 0 12 0 0 0 11 0 8 0 3 0 18 0 47 0 2 0 6 0 6 0 8 0 0 0 104 0 2 0 7 0 19 0 4 0 1 0 0 0 25 0 27 0 7 0 17 0 0 0 4 0 6 0 9 0 3 0 12 0 17 0 16 0 0 0 10 0 7 0 7 0 1 0 1 0 20 0 0 0 9 0 7 0 1 0 4 0 3 0 1 0 13 0 11 0 94 0 9 0 2 0 1 0 3 0 4 0 24 0 2 0 55 0 7 0 2 0 25 0 41 0 4 0 23 0 1 0 3 0 4 0 7 0 24 0 7 0 1 0 30 0 0 0 5 0 21 0 255 0 4 0 51 0 9 0 37 0 1 0 18 0 21 0 17 0 13 0 4 0 5 0 13 0 13 0 9 0 4 0 28 0 51 0 141 0 3 0 4 0 22 0 27 0 3 0 35 0 4 0 0 0 3 0 21 0 30 0 29 0 9 0 5 0 12 0 35 0 7 0 103 0 17 0 2 0 10 0 6 0 3 0 4 0 21 0 1 0 11 0 21 0 6 0 6 0 25 0 16 0 11 0 6 0 2 0 4 0 15 0 15 0 7 0 8 0 15 0 34 0 1 0 1 0 5 0-3242 1 865 0 3 0 2 0 42 0 4 0 0 0 14 0 0 0 3 0 5 0 4 0 14 0 3 0 25 0 8 0 1 0 0 0 8 0 17 0 5 0 2 0 4 0 2 0 0 0 2 0 3 0 10 0 5 0 4 0 1 0 5 0 16 0 2 0 3 0 3 0 9 0 6 0 9 0 2 0 5 0 12 0 3 0 3 0 0 0 3 0 5 0 3 0 0 0 3 0 1 0 2 0 1 0 86 0 2 0 26 0 6 0 9 0 2 0 18 0 28 0 2 0 6 0 4 0 7 0 25 0 12 0 30 0 0 0 9 0 4 0 5 0 2 0 5 0 7 0 17 0 37 0 1 0 13 0 12 0 0 0 8 0 94 0 23 0 8 0 8 0 1 0 36 0 7 0 2 0 5 0 0 0 8 0 7 0 0 0 7 0 3 0 15 0 4 0 13 0 8 0 0 0 5 0 12 0 4 0 2 0 3 0 1 0 2 0 4 0 4 0 4 0 1 0 0 0 2 0 16 0 23 0 4 0 6 0 19 0 4 0 3 0 10 0 9 0 279 0 27 0 12 0 5 0 7 0 8 0 3 0 6 0 14 0 6 0 2 0 19 0 18 0 10 0 2 0 5 0 13 0 53 0 8 0 3 0 10 0 13 0 1 0 18 0 3 0 5 0 87 0 1 0 6 0 0 0 2 0 44 0 6 0 2 0 12 0 7 0 43 0 3 0 6 0 20 0 6 0 8 0 11 0 33 0 5 0 64 0 1 0 7 0 1 0 124 0 8 0 4 0 3 0 5 0 9 0 11 0 1 0 3 0 29 0 1 0 12 0 25 0 17 0 12 0 1 0 17 0 17 0 9 0 11 0 9 0 6 0 19 0 10 0 14 0 7 0 1 0-3446 1 12 0 595 0 464 0 9 0 13 0 15 0 1 0 2 0 17 0 9 0 2 0 28 0 15 0 18 0 6 0 13 0 11 0 7 0 2 0 23 0 6 0 26 0 3 0 41 0 1 0 19 0 0 0 7 0 88 0 18 0 9 0 18 0 4 0 1 0 2 0 3 0 4 0 46 0 0 0 9 0 2 0 1 0 1 0 13 0 18 0 9 0 6 0 3 0 28 0 4 0 0 0 0 0 4 0 10 0 5 0 7 0 17 0 0 0 6 0 2 0 7 0 8 0 7 0 14 0 1 0 9 0 84 0 1 0 12 0 13 0 0 0 4 0 10 0 9 0 34 0 14 0 11 0 3 0 3 0 33 0 19 0 15 0 2 0 3 0 18 0 3 0 20 0 6 0 4 0 1 0 6 0 20 0 9 0 8 0 12 0 4 0 1 0 260 0 33 0 3 0 1 0 30 0 53 0 12 0 20 0 8 0 14 0 4 0 8 0 2 0 16 0 17 0 8 0 6 0 11 0 32 0 5 0 12 0 0 0 1 0 10 0 85 0 0 0 8 0 5 0 17 0 1 0 10 0 35 0 3 0 6 0 7 0 3 0 4 0 8 0 6 0 7 0 19 0 24 0 5 0 46 0 14 0 16 0 48 0 3 0 99 0 10 0 6 0 3 0 47 0 10 0 1 0 12 0 6 0 6 0 3 0 24 0 22 0 6 0 1 0 1 0 17 0 0 0 9 0 7 0 19 0 5 0 4 0 32 0 18 0 3 0 10 0-3670 1 74 0 17 0 98 0 148 0 366 0 83 0 59 0 7 0 26 0 402 0 13 0 2 0 6 0 5 0 10 0 6 0 0 0 18 0 3 0 8 0 20 0 4 0 2 0 1 0 9 0 7 0 8 0 11 0 14 0 5 0 24 0 6 0 10 0 15 0 21 0 19 0 13 0 3 0 29 0 1 0 2 0 87 0 4 0 25 0 4 0 9 0 15 0 5 0 18 0 3 0 7 0 11 0 4 0 32 0 32 0 17 0 8 0 3 0 8 0 8 0 5 0 4 0 17 0 3 0 2 0 6 0 6 0 6 0 4 0 1 0 24 0 9 0 4 0 0 0 87 0 17 0 19 0 10 0 2 0 1 0 21 0 2 0 3 0 4 0 18 0 18 0 1 0 1 0 10 0 15 0 8 0 4 0 16 0 6 0 1 0 13 0 2 0 2 0 17 0 3 0 1 0 1 0 6 0 11 0 1 0 2 0 13 0 24 0 280 0 8 0 97 0 19 0 40 0 19 0 18 0 2 0 9 0 14 0 7 0 8 0 14 0 12 0 17 0 141 0 13 0 17 0 11 0 19 0 19 0 3 0 29 0 13 0 3 0 2 0 14 0 0 0 15 0 34 0 3 0 8 0 9 0 5 0 10 0 4 0 10 0 2 0 0 0 102 0 74 0 3 0 7 0 2 0 97 0 16 0 69 0 8 0 8 0 15 0-3576 1 78 0 26 0 221 0 9 0 161 0 210 0 66 0 57 0 4 0 10 0 40 0 297 0 5 0 2 0 1 0 8 0 1 0 0 0 23 0 10 0 15 0 8 0 7 0 6 0 1 0 9 0 37 0 3 0 2 0 12 0 15 0 11 0 29 0 2 0 16 0 6 0 20 0 8 0 1 0 14 0 21 0 5 0 2 0 85 0 5 0 4 0 2 0 23 0 20 0 2 0 0 0 15 0 8 0 44 0 0 0 11 0 18 0 1 0 25 0 15 0 5 0 6 0 14 0 1 0 5 0 13 0 6 0 5 0 43 0 1 0 5 0 85 0 0 0 23 0 9 0 2 0 12 0 20 0 2 0 5 0 1 0 2 0 7 0 22 0 9 0 10 0 18 0 0 0 10 0 12 0 2 0 8 0 5 0 7 0 21 0 9 0 13 0 5 0 2 0 29 0 7 0 12 0 4 0 8 0 264 0 44 0 10 0 6 0 38 0 19 0 0 0 5 0 56 0 27 0 2 0 38 0 1 0 22 0 12 0 3 0 9 0 92 0 6 0 24 0 2 0 35 0 4 0 6 0 15 0 19 0 2 0 13 0 5 0 31 0 29 0 8 0 20 0 26 0 0 0 9 0 20 0 8 0 111 0 66 0 35 0 65 0 19 0 3 0 23 0 2 0 0 0 28 0 0 0 21 0 1 0 7 0 1 0 6 0 2 0 15 0-3549 1 29 0 63 0 388 0 92 0 89 0 503 0 17 0 16 0 12 0 9 0 2 0 23 0 12 0 4 0 15 0 1 0 2 0 2 0 3 0 2 0 5 0 8 0 9 0 1 0 0 0 15 0 14 0 4 0 14 0 1 0 6 0 21 0 13 0 19 0 11 0 14 0 2 0 102 0 2 0 16 0 5 0 2 0 20 0 7 0 5 0 6 0 26 0 2 0 3 0 5 0 5 0 6 0 0 0 5 0 19 0 1 0 1 0 7 0 5 0 3 0 11 0 4 0 8 0 12 0 14 0 5 0 3 0 64 0 1 0 16 0 1 0 3 0 3 0 81 0 1 0 1 0 38 0 9 0 8 0 28 0 4 0 4 0 26 0 6 0 13 0 6 0 0 0 16 0 40 0 7 0 4 0 0 0 3 0 7 0 14 0 10 0 7 0 1 0 0 0 5 0 0 0 9 0 5 0 6 0 5 0 3 0 9 0 272 0 1 0 51 0 9 0 19 0 13 0 8 0 28 0 1 0 5 0 5 0 3 0 6 0 13 0 31 0 6 0 3 0 19 0 12 0 4 0 41 0 97 0 5 0 0 0 1 0 13 0 44 0 19 0 1 0 6 0 3 0 2 0 30 0 2 0 24 0 6 0 22 0 4 0 0 0 12 0 9 0 14 0 25 0 13 0 0 0 4 0 5 0 1 0 16 0 15 0 85 0 12 0 1 0 16 0 16 0 10 0 6 0 42 0 14 0 2 0 5 0 31 0 8 0 9 0 8 0 6 0 16 0 10 0 31 0-3661 1 58 0 47 0 478 0 192 0 25 0 47 0 90 0 397 0 14 0 6 0 1 0 4 0 18 0 11 0 3 0 13 0 1 0 4 0 9 0 1 0 2 0 2 0 16 0 7 0 19 0 18 0 3 0 4 0 1 0 6 0 7 0 0 0 3 0 17 0 26 0 6 0 17 0 4 0 12 0 12 0 4 0 3 0 4 0 12 0 101 0 1 0 2 0 10 0 6 0 9 0 17 0 1 0 21 0 18 0 8 0 2 0 6 0 4 0 6 0 3 0 2 0 5 0 8 0 9 0 0 0 4 0 16 0 5 0 26 0 2 0 4 0 1 0 10 0 0 0 30 0 3 0 5 0 7 0 3 0 120 0 23 0 4 0 8 0 4 0 22 0 5 0 15 0 31 0 3 0 16 0 8 0 7 0 10 0 14 0 2 0 6 0 1 0 0 0 27 0 6 0 0 0 24 0 4 0 4 0 2 0 18 0 10 0 1 0 8 0 2 0 8 0 4 0 2 0 253 0 37 0 32 0 11 0 32 0 5 0 4 0 0 0 3 0 6 0 2 0 1 0 23 0 11 0 16 0 20 0 5 0 4 0 2 0 2 0 3 0 9 0 5 0 44 0 21 0 90 0 1 0 42 0 17 0 53 0 4 0 13 0 26 0 11 0 9 0 11 0 1 0 6 0 14 0 17 0 20 0 10 0 5 0 10 0 7 0 11 0 98 0 24 0 3 0 10 0 12 0 3 0 15 0 0 0 13 0 2 0 10 0 7 0 18 0 7 0 7 0 8 0 4 0 44 0 7 0 1 0 15 0 5 0 4 0 0 0 6 0 9 0 3 0 6 0 4 0 2 0-3661 1 365 0 148 0 378 0 15 0 412 0 17 0 5 0 23 0 12 0 2 0 3 0 11 0 4 0 39 0 2 0 19 0 17 0 16 0 4 0 11 0 21 0 9 0 6 0 1 0 3 0 29 0 7 0 4 0 7 0 5 0 11 0 5 0 6 0 0 0 91 0 7 0 4 0 0 0 19 0 2 0 13 0 4 0 1 0 6 0 7 0 18 0 14 0 1 0 10 0 8 0 5 0 5 0 6 0 28 0 6 0 6 0 1 0 4 0 17 0 7 0 12 0 11 0 4 0 2 0 7 0 2 0 3 0 0 0 11 0 20 0 2 0 19 0 80 0 4 0 1 0 7 0 5 0 6 0 3 0 1 0 2 0 12 0 19 0 7 0 6 0 34 0 2 0 16 0 20 0 3 0 11 0 14 0 23 0 2 0 2 0 1 0 3 0 9 0 25 0 22 0 1 0 18 0 21 0 265 0 6 0 1 0 1 0 22 0 42 0 56 0 2 0 17 0 7 0 3 0 15 0 25 0 7 0 11 0 32 0 18 0 5 0 19 0 104 0 11 0 0 0 10 0 6 0 35 0 26 0 35 0 7 0 6 0 33 0 29 0 1 0 15 0 24 0 6 0 15 0 6 0 9 0 0 0 96 0 17 0 0 0 9 0 10 0 21 0 1 0 2 0 16 0 19 0 4 0 9 0 24 0 10 0 18 0 20 0 8 0 7 0 6 0 11 0 26 0 1 0 0 0 1 0 11 0 28 0 4 0 3 0 3 0 8 0-3302 1 151 0 30 0 53 0 173 0 57 0 88 0 362 0 5 0 14 0 3 0 1 0 6 0 5 0 2 0 11 0 1 0 6 0 2 0 2 0 4 0 12 0 1 0 7 0 23 0 6 0 13 0 9 0 5 0 2 0 10 0 1 0 1 0 9 0 26 0 8 0 3 0 11 0 0 0 1 0 1 0 10 0 20 0 17 0 2 0 5 0 11 0 7 0 5 0 2 0 9 0 81 0 12 0 27 0 1 0 1 0 4 0 2 0 2 0 13 0 1 0 3 0 0 0 14 0 6 0 5 0 7 0 8 0 3 0 37 0 3 0 3 0 9 0 4 0 1 0 6 0 6 0 4 0 3 0 7 0 2 0 9 0 2 0 16 0 6 0 11 0 3 0 1 0 7 0 15 0 11 0 1 0 1 0 1 0 26 0 82 0 2 0 4 0 22 0 0 0 22 0 7 0 1 0 3 0 15 0 8 0 2 0 19 0 2 0 4 0 6 0 9 0 2 0 1 0 1 0 0 0 5 0 5 0 2 0 5 0 8 0 0 0 35 0 0 0 9 0 10 0 3 0 7 0 23 0 16 0 2 0 12 0 21 0 9 0 268 0 36 0 4 0 9 0 17 0 12 0 1 0 22 0 8 0 3 0 22 0 26 0 30 0 5 0 2 0 50 0 8 0 10 0 25 0 1 0 96 0 10 0 7 0 39 0 1 0 3 0 37 0 25 0 10 0 13 0 24 0 14 0 29 0 8 0 7 0 24 0 1 0 4 0 1 0 0 0 3 0 16 0 93 0 2 0 15 0 0 0 16 0 10 0 0 0 2 0 0 0 23 0 38 0 2 0 5 0 11 0 4 0 0 0 10 0 31 0 23 0 9 0 1 0 2 0 2 0 32 0 4 0 2 0 0 0 20 0 33 0 1 0 1 0-3492 1 267 0 19 0 465 0 345 0 4 0 1 0 4 0 16 0 9 0 6 0 5 0 1 0 9 0 5 0 0 0 1 0 6 0 3 0 9 0 43 0 12 0 7 0 29 0 7 0 3 0 22 0 15 0 37 0 30 0 10 0 91 0 1 0 8 0 12 0 5 0 1 0 2 0 15 0 13 0 9 0 5 0 6 0 3 0 13 0 0 0 2 0 6 0 39 0 15 0 4 0 7 0 17 0 0 0 4 0 6 0 11 0 16 0 0 0 11 0 2 0 12 0 2 0 6 0 1 0 16 0 9 0 2 0 15 0 93 0 4 0 12 0 7 0 7 0 7 0 4 0 7 0 6 0 13 0 18 0 18 0 4 0 0 0 5 0 1 0 19 0 10 0 8 0 27 0 10 0 11 0 2 0 0 0 8 0 3 0 6 0 1 0 24 0 8 0 2 0 18 0 7 0 3 0 15 0 1 0 276 0 8 0 23 0 3 0 21 0 13 0 47 0 5 0 0 0 1 0 2 0 20 0 13 0 9 0 47 0 7 0 20 0 7 0 2 0 16 0 21 0 97 0 21 0 1 0 3 0 1 0 45 0 0 0 6 0 9 0 18 0 0 0 5 0 10 0 2 0 6 0 1 0 14 0 8 0 12 0 18 0 1 0 6 0 17 0 3 0 37 0 0 0 2 0 2 0 131 0 16 0 4 0 28 0 10 0 13 0 19 0 14 0 4 0 28 0 66 0 45 0 1 0 4 0 7 0 6 0 23 0 5 0-3530 1 181 0 67 0 338 0 35 0 210 0 340 0 3 0 4 0 2 0 19 0 9 0 40 0 6 0 3 0 2 0 1 0 8 0 1 0 8 0 20 0 2 0 7 0 13 0 16 0 20 0 8 0 23 0 3 0 1 0 17 0 0 0 11 0 0 0 96 0 7 0 3 0 2 0 0 0 40 0 4 0 4 0 9 0 2 0 8 0 31 0 10 0 3 0 13 0 14 0 1 0 0 0 4 0 7 0 4 0 2 0 15 0 1 0 4 0 14 0 6 0 6 0 10 0 0 0 11 0 6 0 6 0 1 0 10 0 11 0 2 0 6 0 2 0 5 0 4 0 97 0 0 0 5 0 11 0 12 0 14 0 28 0 14 0 1 0 6 0 1 0 7 0 6 0 7 0 5 0 5 0 38 0 4 0 20 0 1 0 9 0 5 0 7 0 5 0 11 0 5 0 13 0 3 0 6 0 2 0 4 0 3 0 9 0 13 0 1 0 5 0 2 0 8 0 5 0 270 0 5 0 5 0 45 0 5 0 6 0 16 0 0 0 6 0 4 0 7 0 5 0 13 0 12 0 47 0 33 0 7 0 18 0 10 0 10 0 9 0 6 0 5 0 99 0 11 0 8 0 1 0 4 0 12 0 1 0 17 0 5 0 3 0 1 0 7 0 0 0 4 0 22 0 2 0 20 0 12 0 25 0 2 0 2 0 12 0 32 0 1 0 8 0 34 0 9 0 13 0 5 0 10 0 9 0 99 0 4 0 9 0 33 0 2 0 7 0 2 0 39 0 15 0 3 0 19 0 14 0 5 0 3 0 2 0 28 0 17 0 4 0 27 0 34 0 4 0 13 0 2 0-3608 1 121 0 8 0 205 0 524 0 57 0 303 0 9 0 5 0 1 0 6 0 11 0 8 0 4 0 0 0 6 0 5 0 3 0 7 0 10 0 0 0 2 0 8 0 2 0 0 0 4 0 17 0 0 0 6 0 1 0 5 0 7 0 1 0 3 0 2 0 2 0 9 0 6 0 6 0 6 0 30 0 21 0 14 0 7 0 6 0 0 0 7 0 6 0 5 0 6 0 3 0 2 0 9 0 16 0 6 0 2 0 81 0 3 0 11 0 4 0 3 0 8 0 7 0 0 0 4 0 2 0 5 0 6 0 5 0 13 0 12 0 4 0 16 0 5 0 7 0 5 0 12 0 3 0 4 0 4 0 0 0 17 0 2 0 13 0 2 0 13 0 18 0 20 0 2 0 3 0 7 0 21 0 3 0 12 0 14 0 3 0 3 0 90 0 20 0 6 0 5 0 23 0 2 0 1 0 28 0 17 0 0 0 6 0 11 0 1 0 9 0 5 0 13 0 0 0 0 0 3 0 4 0 10 0 6 0 19 0 0 0 3 0 14 0 1 0 0 0 7 0 2 0 0 0 13 0 2 0 6 0 9 0 8 0 14 0 3 0 8 0 1 0 9 0 0 0 4 0 5 0 5 0 265 0 6 0 13 0 46 0 4 0 6 0 24 0 3 0 102 0 35 0 8 0 16 0 10 0 108 0 8 0 43 0 26 0 21 0 6 0 8 0 6 0 2 0 25 0 5 0 7 0 2 0 8 0 18 0 34 0 29 0 10 0 4 0 31 0 87 0 6 0 2 0 7 0 6 0 14 0 18 0 20 0 13 0 2 0 17 0 13 0 14 0 1 0 8 0 36 0 17 0 39 0 4 0 4 0 27 0 1 0 0 0 10 0 6 0 6 0-3716 1 205 0 1 0 697 0 424 0 0 0 22 0 8 0 1 0 11 0 3 0 7 0 2 0 18 0 21 0 9 0 9 0 19 0 7 0 13 0 11 0 27 0 14 0 1 0 12 0 2 0 4 0 4 0 8 0 3 0 10 0 3 0 2 0 9 0 18 0 0 0 1 0 12 0 2 0 4 0 9 0 77 0 3 0 2 0 1 0 14 0 16 0 5 0 13 0 14 0 3 0 13 0 13 0 3 0 6 0 2 0 12 0 4 0 2 0 10 0 5 0 9 0 25 0 1 0 10 0 9 0 10 0 7 0 4 0 1 0 11 0 1 0 37 0 3 0 10 0 21 0 6 0 82 0 9 0 2 0 5 0 2 0 9 0 5 0 5 0 9 0 31 0 2 0 2 0 5 0 0 0 10 0 10 0 10 0 7 0 5 0 21 0 6 0 10 0 47 0 9 0 3 0 4 0 1 0 2 0 1 0 5 0 4 0 16 0 0 0 6 0 18 0 8 0 12 0 254 0 4 0 14 0 51 0 2 0 8 0 12 0 25 0 2 0 20 0 9 0 12 0 21 0 1 0 20 0 20 0 21 0 36 0 0 0 7 0 3 0 6 0 6 0 94 0 43 0 18 0 31 0 0 0 7 0 35 0 8 0 7 0 4 0 7 0 12 0 18 0 0 0 32 0 7 0 0 0 8 0 5 0 10 0 2 0 11 0 112 0 4 0 17 0 18 0 0 0 1 0 0 0 15 0 0 0 36 0 2 0 1 0 0 0 28 0 5 0 17 0 11 0 1 0 12 0 19 0 0 0 14 0 3 0 10 0 6 0 5 0 1 0 14 0 25 0 0 0 14 0 12 0 2 0-3700 1 360 0 145 0 6 0 59 0 188 0 22 0 16 0 44 0 76 0 398 0 25 0 1 0 2 0 3 0 14 0 13 0 13 0 10 0 3 0 0 0 5 0 3 0 18 0 3 0 4 0 10 0 5 0 4 0 19 0 9 0 4 0 10 0 3 0 13 0 7 0 13 0 3 0 6 0 19 0 3 0 0 0 14 0 2 0 7 0 32 0 1 0 79 0 2 0 9 0 0 0 2 0 9 0 27 0 13 0 32 0 3 0 9 0 8 0 6 0 4 0 0 0 3 0 15 0 11 0 1 0 3 0 6 0 7 0 12 0 7 0 7 0 13 0 5 0 1 0 5 0 1 0 14 0 5 0 2 0 1 0 2 0 11 0 5 0 13 0 27 0 1 0 89 0 1 0 0 0 7 0 4 0 3 0 7 0 3 0 8 0 12 0 11 0 2 0 21 0 18 0 28 0 8 0 3 0 24 0 7 0 5 0 9 0 1 0 15 0 1 0 22 0 25 0 3 0 17 0 11 0 5 0 268 0 38 0 2 0 2 0 18 0 57 0 5 0 1 0 2 0 35 0 21 0 11 0 2 0 14 0 11 0 7 0 14 0 1 0 6 0 13 0 9 0 21 0 97 0 1 0 20 0 16 0 9 0 5 0 0 0 4 0 14 0 3 0 8 0 4 0 17 0 4 0 11 0 19 0 24 0 4 0 31 0 26 0 11 0 16 0 10 0 1 0 1 0 23 0 0 0 20 0 98 0 19 0 16 0 26 0 18 0 11 0 10 0 45 0 28 0 6 0 11 0 16 0 14 0 3 0 5 0 20 0 1 0 22 0 9 0 6 0-3658 1 21 0 31 0 703 0 35 0 150 0 322 0 3 0 2 0 3 0 4 0 4 0 13 0 5 0 7 0 1 0 30 0 15 0 2 0 1 0 1 0 4 0 8 0 16 0 11 0 10 0 8 0 0 0 4 0 13 0 0 0 2 0 3 0 4 0 1 0 4 0 0 0 1 0 0 0 0 0 8 0 4 0 18 0 0 0 3 0 4 0 0 0 3 0 5 0 1 0 9 0 6 0 10 0 4 0 2 0 7 0 14 0 1 0 3 0 7 0 6 0 0 0 5 0 84 0 6 0 12 0 8 0 15 0 2 0 2 0 10 0 3 0 3 0 4 0 2 0 36 0 1 0 9 0 8 0 11 0 47 0 10 0 6 0 1 0 26 0 8 0 10 0 9 0 6 0 13 0 12 0 0 0 6 0 10 0 7 0 81 0 9 0 0 0 23 0 8 0 26 0 7 0 17 0 13 0 15 0 12 0 11 0 9 0 2 0 4 0 7 0 15 0 4 0 16 0 14 0 37 0 11 0 1 0 13 0 4 0 7 0 4 0 1 0 4 0 278 0 0 0 8 0 3 0 22 0 33 0 3 0 1 0 11 0 4 0 1 0 26 0 18 0 6 0 21 0 38 0 8 0 8 0 5 0 2 0 6 0 4 0 14 0 12 0 2 0 118 0 6 0 33 0 7 0 0 0 16 0 3 0 11 0 0 0 3 0 40 0 5 0 7 0 49 0 0 0 41 0 7 0 5 0 6 0 10 0 13 0 1 0 6 0 4 0 4 0 6 0 2 0 1 0 8 0 91 0 9 0 1 0 1 0 8 0 5 0 16 0 11 0 9 0 33 0 3 0 2 0 16 0 3 0 21 0 9 0 43 0 1 0 18 0 5 0 31 0 8 0 4 0 9 0 8 0 19 0 5 0-3359 1 670 0 310 0 18 0 0 0 6 0 1 0 5 0 20 0 2 0 6 0 19 0 11 0 4 0 1 0 9 0 4 0 2 0 2 0 0 0 2 0 10 0 1 0 2 0 26 0 14 0 37 0 2 0 9 0 3 0 12 0 7 0 3 0 1 0 11 0 9 0 106 0 8 0 0 0 1 0 2 0 1 0 20 0 8 0 7 0 2 0 1 0 3 0 4 0 1 0 4 0 3 0 0 0 4 0 7 0 11 0 0 0 28 0 22 0 24 0 67 0 3 0 3 0 6 0 8 0 5 0 19 0 5 0 4 0 7 0 8 0 6 0 82 0 7 0 3 0 7 0 1 0 6 0 3 0 18 0 1 0 2 0 12 0 3 0 10 0 10 0 0 0 12 0 2 0 50 0 5 0 9 0 1 0 41 0 9 0 31 0 8 0 6 0 2 0 11 0 3 0 30 0 262 0 5 0 9 0 19 0 15 0 10 0 9 0 1 0 47 0 17 0 1 0 1 0 4 0 1 0 8 0 8 0 3 0 16 0 16 0 2 0 4 0 2 0 3 0 2 0 13 0 11 0 8 0 35 0 9 0 19 0 116 0 27 0 1 0 11 0 11 0 4 0 44 0 15 0 7 0 9 0 3 0 75 0 4 0 9 0 30 0 6 0 2 0 100 0 41 0 5 0 0 0 2 0 10 0 14 0 12 0 8 0 0 0 21 0 3 0 18 0 12 0 7 0 3 0 13 0 14 0 9 0 5 0 3 0 8 0 18 0 2 0 24 0 35 0-3251 1 154 0 290 0 54 0 375 0 6 0 4 0 3 0 12 0 8 0 1 0 1 0 4 0 4 0 0 0 18 0 3 0 19 0 20 0 5 0 25 0 14 0 5 0 15 0 4 0 16 0 19 0 9 0 16 0 12 0 11 0 4 0 15 0 110 0 8 0 6 0 4 0 3 0 13 0 10 0 5 0 6 0 9 0 4 0 1 0 3 0 8 0 10 0 5 0 14 0 0 0 2 0 2 0 9 0 9 0 0 0 37 0 4 0 28 0 1 0 0 0 13 0 2 0 3 0 12 0 3 0 0 0 1 0 0 0 1 0 15 0 2 0 2 0 4 0 10 0 16 0 95 0 14 0 7 0 12 0 3 0 13 0 20 0 17 0 2 0 9 0 16 0 5 0 0 0 3 0 0 0 3 0 5 0 5 0 2 0 21 0 0 0 3 0 7 0 20 0 2 0 6 0 14 0 2 0 5 0 5 0 7 0 6 0 1 0 13 0 1 0 2 0 3 0 10 0 30 0 257 0 45 0 8 0 8 0 13 0 5 0 26 0 12 0 13 0 30 0 41 0 6 0 6 0 0 0 13 0 23 0 3 0 5 0 20 0 23 0 83 0 34 0 39 0 1 0 33 0 7 0 10 0 17 0 11 0 8 0 14 0 22 0 39 0 7 0 31 0 5 0 8 0 5 0 12 0 1 0 89 0 10 0 5 0 6 0 14 0 9 0 23 0 4 0 15 0 6 0 8 0 12 0 64 0 5 0 16 0 10 0 7 0 2 0 12 0 12 0 47 0 5 0-3710 1 83 0 402 0 117 0 146 0 207 0 378 0 9 0 2 0 0 0 27 0 8 0 8 0 19 0 0 0 21 0 45 0 4 0 6 0 6 0 3 0 2 0 15 0 1 0 5 0 4 0 9 0 2 0 14 0 28 0 5 0 3 0 1 0 5 0 1 0 21 0 5 0 85 0 2 0 8 0 12 0 0 0 6 0 7 0 14 0 7 0 14 0 8 0 34 0 2 0 10 0 4 0 1 0 1 0 26 0 1 0 5 0 5 0 3 0 10 0 15 0 5 0 1 0 0 0 14 0 3 0 0 0 4 0 28 0 1 0 2 0 3 0 8 0 1 0 15 0 11 0 8 0 4 0 92 0 10 0 0 0 7 0 2 0 16 0 3 0 5 0 27 0 6 0 12 0 2 0 5 0 6 0 5 0 2 0 5 0 2 0 3 0 11 0 1 0 2 0 10 0 6 0 17 0 1 0 3 0 16 0 23 0 1 0 4 0 12 0 6 0 22 0 7 0 8 0 4 0 3 0 2 0 8 0 3 0 5 0 255 0 4 0 6 0 5 0 6 0 5 0 16 0 11 0 1 0 2 0 1 0 18 0 0 0 12 0 4 0 14 0 8 0 13 0 4 0 15 0 17 0 0 0 17 0 7 0 2 0 8 0 44 0 4 0 7 0 3 0 3 0 25 0 2 0 7 0 109 0 14 0 24 0 48 0 1 0 4 0 10 0 1 0 10 0 7 0 8 0 13 0 2 0 39 0 6 0 12 0 53 0 3 0 6 0 21 0 6 0 82 0 17 0 8 0 3 0 13 0 3 0 1 0 2 0 7 0 17 0 7 0 15 0 17 0 18 0 9 0 1 0 12 0 26 0 17 0 1 0 9 0 1 0 1 0 24 0 19 0 14 0 40 0-3689 1 598 0 18 0 675 0 11 0 2 0 2 0 4 0 17 0 2 0 2 0 31 0 21 0 17 0 9 0 12 0 14 0 1 0 3 0 4 0 3 0 0 0 14 0 7 0 16 0 14 0 23 0 19 0 6 0 4 0 5 0 8 0 18 0 5 0 3 0 3 0 3 0 99 0 5 0 2 0 13 0 1 0 1 0 3 0 5 0 3 0 0 0 6 0 1 0 6 0 4 0 13 0 1 0 0 0 11 0 16 0 31 0 5 0 5 0 0 0 3 0 12 0 4 0 11 0 6 0 9 0 24 0 13 0 1 0 24 0 8 0 0 0 19 0 5 0 0 0 10 0 84 0 6 0 0 0 2 0 4 0 3 0 27 0 1 0 24 0 1 0 19 0 5 0 2 0 3 0 10 0 18 0 18 0 7 0 8 0 12 0 5 0 7 0 13 0 2 0 11 0 22 0 8 0 8 0 1 0 0 0 18 0 0 0 9 0 10 0 6 0 6 0 6 0 281 0 12 0 3 0 3 0 15 0 24 0 15 0 1 0 15 0 2 0 3 0 14 0 18 0 3 0 36 0 2 0 62 0 1 0 11 0 6 0 16 0 18 0 89 0 56 0 16 0 6 0 3 0 11 0 8 0 3 0 43 0 29 0 15 0 43 0 4 0 28 0 6 0 2 0 5 0 117 0 2 0 1 0 12 0 6 0 14 0 9 0 31 0 5 0 9 0 10 0 2 0 11 0 1 0 9 0 1 0 0 0 25 0 24 0 14 0 13 0 2 0 19 0 7 0 6 0 7 0 29 0-3472 1 36 0 290 0 44 0 22 0 255 0 20 0 441 0 5 0 4 0 1 0 3 0 0 0 21 0 16 0 4 0 12 0 15 0 32 0 5 0 9 0 11 0 5 0 32 0 8 0 11 0 30 0 8 0 17 0 2 0 8 0 18 0 92 0 2 0 4 0 0 0 0 0 1 0 13 0 14 0 6 0 14 0 0 0 9 0 2 0 5 0 3 0 1 0 19 0 3 0 21 0 15 0 3 0 5 0 3 0 4 0 17 0 7 0 5 0 3 0 1 0 30 0 13 0 15 0 10 0 2 0 4 0 2 0 6 0 20 0 8 0 8 0 89 0 2 0 1 0 26 0 25 0 0 0 2 0 0 0 5 0 8 0 2 0 9 0 3 0 2 0 3 0 3 0 2 0 1 0 9 0 5 0 2 0 4 0 1 0 14 0 3 0 9 0 29 0 13 0 12 0 11 0 12 0 3 0 2 0 4 0 1 0 4 0 7 0 12 0 13 0 5 0 5 0 5 0 3 0 6 0 4 0 318 0 2 0 5 0 3 0 9 0 47 0 11 0 16 0 15 0 11 0 10 0 6 0 3 0 9 0 34 0 14 0 8 0 3 0 4 0 18 0 1 0 0 0 2 0 105 0 11 0 11 0 4 0 2 0 2 0 15 0 21 0 37 0 14 0 1 0 0 0 20 0 39 0 11 0 15 0 5 0 3 0 5 0 46 0 12 0 8 0 106 0 5 0 10 0 9 0 14 0 11 0 2 0 6 0 20 0 16 0 2 0 11 0 6 0 0 0 2 0 5 0 12 0 23 0 34 0 14 0 15 0 5 0 17 0 15 0 4 0 0 0 11 0 18 0 1 0-3672 1 487 0 94 0 318 0 402 0 21 0 1 0 11 0 0 0 4 0 1 0 3 0 5 0 3 0 21 0 16 0 7 0 6 0 8 0 2 0 7 0 4 0 20 0 5 0 5 0 41 0 22 0 4 0 6 0 5 0 11 0 33 0 92 0 16 0 8 0 1 0 5 0 17 0 9 0 6 0 35 0 24 0 2 0 22 0 5 0 2 0 2 0 4 0 1 0 1 0 11 0 3 0 7 0 15 0 27 0 12 0 21 0 0 0 2 0 7 0 23 0 8 0 3 0 87 0 7 0 22 0 3 0 10 0 3 0 7 0 24 0 2 0 10 0 5 0 1 0 9 0 2 0 28 0 9 0 8 0 12 0 11 0 8 0 14 0 7 0 6 0 12 0 21 0 1 0 11 0 9 0 4 0 7 0 10 0 265 0 11 0 15 0 7 0 23 0 15 0 8 0 43 0 27 0 4 0 23 0 1 0 6 0 14 0 5 0 2 0 19 0 13 0 1 0 1 0 5 0 0 0 8 0 39 0 105 0 31 0 3 0 5 0 11 0 17 0 17 0 25 0 17 0 4 0 7 0 33 0 2 0 17 0 12 0 5 0 14 0 10 0 6 0 18 0 10 0 15 0 2 0 107 0 2 0 18 0 4 0 23 0 12 0 4 0 50 0 7 0 11 0 18 0 12 0 8 0 5 0 0 0 0 0 31 0 2 0 17 0 6 0 13 0 14 0 5 0 3 0 6 0-3631 1 433 0 73 0 60 0 16 0 302 0 376 0 9 0 11 0 12 0 4 0 1 0 9 0 10 0 6 0 58 0 9 0 8 0 5 0 8 0 4 0 3 0 18 0 11 0 0 0 11 0 2 0 2 0 7 0 6 0 4 0 3 0 4 0 11 0 1 0 9 0 7 0 6 0 3 0 19 0 5 0 6 0 89 0 1 0 10 0 14 0 1 0 44 0 23 0 2 0 12 0 11 0 1 0 20 0 6 0 4 0 7 0 5 0 13 0 1 0 3 0 33 0 13 0 10 0 9 0 7 0 11 0 0 0 2 0 4 0 6 0 3 0 14 0 92 0 5 0 8 0 7 0 5 0 12 0 1 0 5 0 11 0 4 0 18 0 0 0 13 0 16 0 12 0 1 0 5 0 4 0 11 0 0 0 6 0 11 0 19 0 7 0 13 0 2 0 2 0 4 0 10 0 12 0 18 0 1 0 25 0 3 0 329 0 59 0 11 0 8 0 34 0 5 0 6 0 10 0 2 0 19 0 11 0 0 0 9 0 9 0 13 0 7 0 10 0 1 0 22 0 104 0 1 0 50 0 6 0 10 0 16 0 2 0 0 0 5 0 3 0 10 0 8 0 2 0 11 0 17 0 16 0 2 0 9 0 21 0 1 0 14 0 9 0 31 0 5 0 2 0 11 0 127 0 6 0 36 0 4 0 31 0 7 0 16 0 11 0 40 0 40 0 27 0 9 0 22 0 4 0 11 0 24 0 7 0 2 0 0 0-2877 1 481 0 7 0 4 0 11 0 2 0 17 0 2 0 2 0 2 0 23 0 8 0 5 0 3 0 6 0 17 0 6 0 31 0 2 0 3 0 1 0 10 0 15 0 2 0 24 0 4 0 29 0 13 0 1 0 11 0 0 0 34 0 8 0 101 0 5 0 3 0 4 0 18 0 6 0 27 0 18 0 14 0 8 0 9 0 4 0 15 0 2 0 3 0 2 0 6 0 21 0 10 0 1 0 0 0 11 0 11 0 14 0 3 0 5 0 7 0 18 0 8 0 11 0 20 0 82 0 4 0 22 0 13 0 7 0 0 0 19 0 7 0 10 0 8 0 4 0 2 0 15 0 1 0 7 0 8 0 3 0 0 0 1 0 4 0 2 0 2 0 5 0 6 0 2 0 2 0 2 0 2 0 27 0 6 0 10 0 4 0 3 0 6 0 14 0 1 0 1 0 46 0 0 0 4 0 1 0 3 0 11 0 4 0 3 0 290 0 2 0 24 0 11 0 6 0 13 0 21 0 6 0 11 0 11 0 2 0 11 0 3 0 2 0 1 0 10 0 7 0 9 0 12 0 0 0 43 0 14 0 0 0 21 0 2 0 1 0 12 0 4 0 105 0 8 0 14 0 3 0 18 0 23 0 12 0 1 0 16 0 3 0 2 0 3 0 3 0 13 0 27 0 16 0 56 0 29 0 7 0 0 0 14 0 105 0 59 0 21 0 41 0 21 0 36 0 2 0 1 0 9 0 2 0 1 0 34 0 4 0 4 0 13 0 5 0 19 0 28 0-3226 1 137 0 280 0 414 0 37 0 54 0 8 0 50 0 0 0 11 0 19 0 24 0 19 0 9 0 22 0 3 0 11 0 6 0 135 0 18 0 9 0 40 0 12 0 30 0 7 0 5 0 28 0 32 0 8 0 8 0 4 0 162 0 14 0 5 0 2 0 4 0 5 0 19 0 32 0 32 0 49 0 24 0 28 0 2 0 19 0 33 0 305 0 0 0 52 0 4 0 6 0 14 0 9 0 6 0 23 0 5 0 28 0 41 0 6 0 6 0 5 0 10 0 14 0 5 0 1 0 31 0 2 0 6 0 3 0 1 0 119 0 5 0 2 0 15 0 22 0 19 0 16 0 5 0 2 0 1 0 0 0 2 0 6 0 3 0 12 0 0 0 2 0 6 0 68 0 23 0 11 0 11 0 0 0 5 0 32 0 94 0 25 0 12 0 16 0 57 0 6 0 3 0 10 0 17 0 9 0 3 0 4 0 6 0 12 0 4 0 2 0 3 0 41 0 12 0 7 0 8 0 20 0-3298 1 386 0 1861 0 2 0 18 0 5 0 47 0 21 0 14 0 12 0 1 0 0 0 32 0 23 0 1 0 44 0 2 0 12 0 4 0 12 0 7 0 15 0 25 0 80 0 4 0 4 0 2 0 2 0 10 0 2 0 16 0 3 0 75 0 15 0 10 0 15 0 30 0 14 0 2 0 1 0 7 0 15 0 15 0 2 0 9 0 18 0 29 0 83 0 7 0 10 0 12 0 8 0 11 0 20 0 48 0 18 0 26 0 15 0 8 0 29 0 27 0 18 0 5 0 11 0 25 0-2872 1 28 0 1889 0 4 0 16 0 6 0 10 0 11 0 9 0 11 0 10 0 3 0 4 0 0 0 5 0 0 0 2 0 14 0 2 0 8 0 59 0 104 0 2 0 6 0 34 0 39 0 12 0 4 0 1 0 41 0 10 0 3 0 4 0 13 0 1 0 3 0 8 0 10 0 1 0 5 0 13 0 22 0 18 0 3 0 20 0 1 0 120 0 5 0 4 0 17 0 2 0 15 0 7 0 11 0 2 0 17 0 10 0 10 0 3 0 0 0 8 0 10 0 28 0 8 0 17 0 1 0 55 0 11 0-3173 1 2158 0 14 0 13 0 8 0 7 0 17 0 26 0 21 0 38 0 12 0 1 0 4 0 0 0 28 0 21 0 17 0 1 0 3 0 2 0 12 0 16 0 32 0 4 0 87 0 14 0 3 0 21 0 17 0 8 0 2 0 2 0 12 0 2 0 12 0 9 0 15 0 24 0 23 0 3 0 0 0 19 0 27 0 11 0 12 0 21 0 12 0 5 0 8 0 104 0 12 0 4 0 9 0 14 0 9 0 1 0 2 0 14 0 22 0 2 0 4 0 2 0 7 0 0 0 18 0 4 0 40 0 21 0 27 0 13 0 20 0 1 0 13 0 14 0 12 0 4 0 6 0-3236 1 5 0 68 0 351 0 1745 0 9 0 10 0 27 0 3 0 5 0 12 0 13 0 10 0 7 0 25 0 11 0 23 0 11 0 3 0 22 0 3 0 12 0 4 0 8 0 43 0 1 0 27 0 2 0 99 0 38 0 2 0 2 0 4 0 4 0 5 0 11 0 17 0 8 0 2 0 13 0 6 0 49 0 5 0 7 0 19 0 16 0 18 0 9 0 7 0 7 0 5 0 3 0 127 0 6 0 1 0 40 0 1 0 34 0 31 0 8 0 4 0 18 0 39 0 6 0 30 0 48 0 9 0 8 0 1 0 1 0-1045 1 4 0 65 0 2 0 8 0 19 0 45 0 45 0 62 0 20 0 8 0 0 0 3 0 105 0 7 0 19 0 24 0 9 0 30 0 2 0 5 0 2 0 14 0 23 0 1 0 20 0 4 0 22 0 7 0 1 0 61 0 19 0 96 0 18 0 1 0 8 0 44 0 24 0 14 0 2 0 4 0 44 0 4 0 3 0 18 0 7 0 26 0 0 0 26 0 10 0 32 0-3084 1 398 0 1694 0 27 0 1 0 19 0 27 0 2 0 21 0 21 0 5 0 25 0 16 0 12 0 8 0 29 0 6 0 123 0 47 0 12 0 3 0 17 0 73 0 29 0 12 0 16 0 22 0 9 0 5 0 18 0 2 0 162 0 23 0 4 0 7 0 23 0 15 0 25 0 11 0 15 0 33 0 8 0 6 0 47 0 12 0 6 0-1014 1 66 0 19 0 26 0 8 0 230 0 37 0 14 0 5 0 59 0 2 0 9 0 2 0 18 0 6 0 36 0 11 0 3 0 42 0 5 0 1 0 2 0 15 0 103 0 8 0 45 0 11 0 44 0 19 0 6 0 8 0 8 0 13 0 30 0 43 0 0 0 8 0 13 0-3267 1 57 0 272 0 1921 0 7 0 63 0 0 0 11 0 41 0 19 0 40 0 30 0 12 0 34 0 123 0 56 0 14 0 61 0 3 0 37 0 2 0 17 0 30 0 37 0 7 0 16 0 4 0 172 0 3 0 57 0 24 0 20 0 8 0 10 0 8 0 6 0 15 0 33 0-3094 1 22 0 243 0 37 0 1768 0 70 0 416 0 137 0 31 0 12 0 335 0 39 0"/></g>
<path d="M43.8 29.8V969.2H659.2" fill="none" stroke="#111" stroke-width="1.10"/>
<path d="M43.8 947.0h-4.9" stroke="#111" stroke-width="1.10"/><text transform="translate(33.4 955.1) scale(1 1.13)" font-size="16.8" text-anchor="end">0.00</text>
<path d="M43.8 728.3h-4.9" stroke="#111" stroke-width="1.10"/><text transform="translate(33.4 736.4) scale(1 1.13)" font-size="16.8" text-anchor="end">0.05</text>
<path d="M43.8 509.6h-4.9" stroke="#111" stroke-width="1.10"/><text transform="translate(33.4 517.7) scale(1 1.13)" font-size="16.8" text-anchor="end">0.10</text>
<path d="M43.8 290.9h-4.9" stroke="#111" stroke-width="1.10"/><text transform="translate(33.4 299.0) scale(1 1.13)" font-size="16.8" text-anchor="end">0.15</text>
<path d="M43.8 72.3h-4.9" stroke="#111" stroke-width="1.10"/><text transform="translate(33.4 80.4) scale(1 1.13)" font-size="16.8" text-anchor="end">0.20</text>
<path d="M159.0 969.2v4.9" stroke="#111" stroke-width="1.10"/><text transform="translate(169.9 989.6) rotate(-45)" font-size="17.2" text-anchor="end">DEX</text>
<path d="M351.0 969.2v4.9" stroke="#111" stroke-width="1.10"/><text transform="translate(361.9 989.6) rotate(-45)" font-size="17.2" text-anchor="end">GEN</text>
<path d="M543.0 969.2v4.9" stroke="#111" stroke-width="1.10"/><text transform="translate(553.9 989.6) rotate(-45)" font-size="17.2" text-anchor="end">NOR</text>
<text transform="translate(349.8 16.3) scale(1 1.05)" font-size="22.6" font-weight="bold" text-anchor="middle">percent.Ribo</text>
<text x="350.1" y="1037.6" font-size="20" text-anchor="middle" stroke="#000" stroke-width="0.25">Identity</text>
<path d="M720.3 29.8V969.2H1335.7" fill="none" stroke="#111" stroke-width="1.10"/>
<path d="M720.3 926.5h-4.9" stroke="#111" stroke-width="1.10"/><text transform="translate(709.9 934.6) scale(1 1.13)" font-size="16.8" text-anchor="end">0.00</text>
<path d="M720.3 698.5h-4.9" stroke="#111" stroke-width="1.10"/><text transform="translate(709.9 706.6) scale(1 1.13)" font-size="16.8" text-anchor="end">0.25</text>
<path d="M720.3 470.5h-4.9" stroke="#111" stroke-width="1.10"/><text transform="translate(709.9 478.6) scale(1 1.13)" font-size="16.8" text-anchor="end">0.50</text>
<path d="M720.3 242.5h-4.9" stroke="#111" stroke-width="1.10"/><text transform="translate(709.9 250.6) scale(1 1.13)" font-size="16.8" text-anchor="end">0.75</text>
<path d="M835.5 969.2v4.9" stroke="#111" stroke-width="1.10"/><text transform="translate(846.4 989.6) rotate(-45)" font-size="17.2" text-anchor="end">DEX</text>
<path d="M1027.5 969.2v4.9" stroke="#111" stroke-width="1.10"/><text transform="translate(1038.4 989.6) rotate(-45)" font-size="17.2" text-anchor="end">GEN</text>
<path d="M1219.5 969.2v4.9" stroke="#111" stroke-width="1.10"/><text transform="translate(1230.4 989.6) rotate(-45)" font-size="17.2" text-anchor="end">NOR</text>
<text transform="translate(1026.3 16.3) scale(1 1.05)" font-size="22.6" font-weight="bold" text-anchor="middle">percent.Hb</text>
<text x="1026.6" y="1037.6" font-size="20" text-anchor="middle" stroke="#000" stroke-width="0.25">Identity</text>
<path d="M1383.3 29.8V969.2H2000.0" fill="none" stroke="#111" stroke-width="1.10"/>
<path d="M1383.3 926.5h-4.9" stroke="#111" stroke-width="1.10"/><text transform="translate(1372.9 934.6) scale(1 1.13)" font-size="16.8" text-anchor="end">0</text>
<path d="M1383.3 712.3h-4.9" stroke="#111" stroke-width="1.10"/><text transform="translate(1372.9 720.4) scale(1 1.13)" font-size="16.8" text-anchor="end">5</text>
<path d="M1383.3 498.1h-4.9" stroke="#111" stroke-width="1.10"/><text transform="translate(1372.9 506.2) scale(1 1.13)" font-size="16.8" text-anchor="end">10</text>
<path d="M1383.3 283.9h-4.9" stroke="#111" stroke-width="1.10"/><text transform="translate(1372.9 292.0) scale(1 1.13)" font-size="16.8" text-anchor="end">15</text>
<path d="M1383.3 69.7h-4.9" stroke="#111" stroke-width="1.10"/><text transform="translate(1372.9 77.8) scale(1 1.13)" font-size="16.8" text-anchor="end">20</text>
<path d="M1498.5 969.2v4.9" stroke="#111" stroke-width="1.10"/><text transform="translate(1509.4 989.6) rotate(-45)" font-size="17.2" text-anchor="end">DEX</text>
<path d="M1690.5 969.2v4.9" stroke="#111" stroke-width="1.10"/><text transform="translate(1701.4 989.6) rotate(-45)" font-size="17.2" text-anchor="end">GEN</text>
<path d="M1882.5 969.2v4.9" stroke="#111" stroke-width="1.10"/><text transform="translate(1893.4 989.6) rotate(-45)" font-size="17.2" text-anchor="end">NOR</text>
<text transform="translate(1689.3 16.3) scale(1 1.05)" font-size="22.6" font-weight="bold" text-anchor="middle">percent.mt</text>
<text x="1689.6" y="1037.6" font-size="20" text-anchor="middle" stroke="#000" stroke-width="0.25">Identity</text>
</svg>
</body></html>
